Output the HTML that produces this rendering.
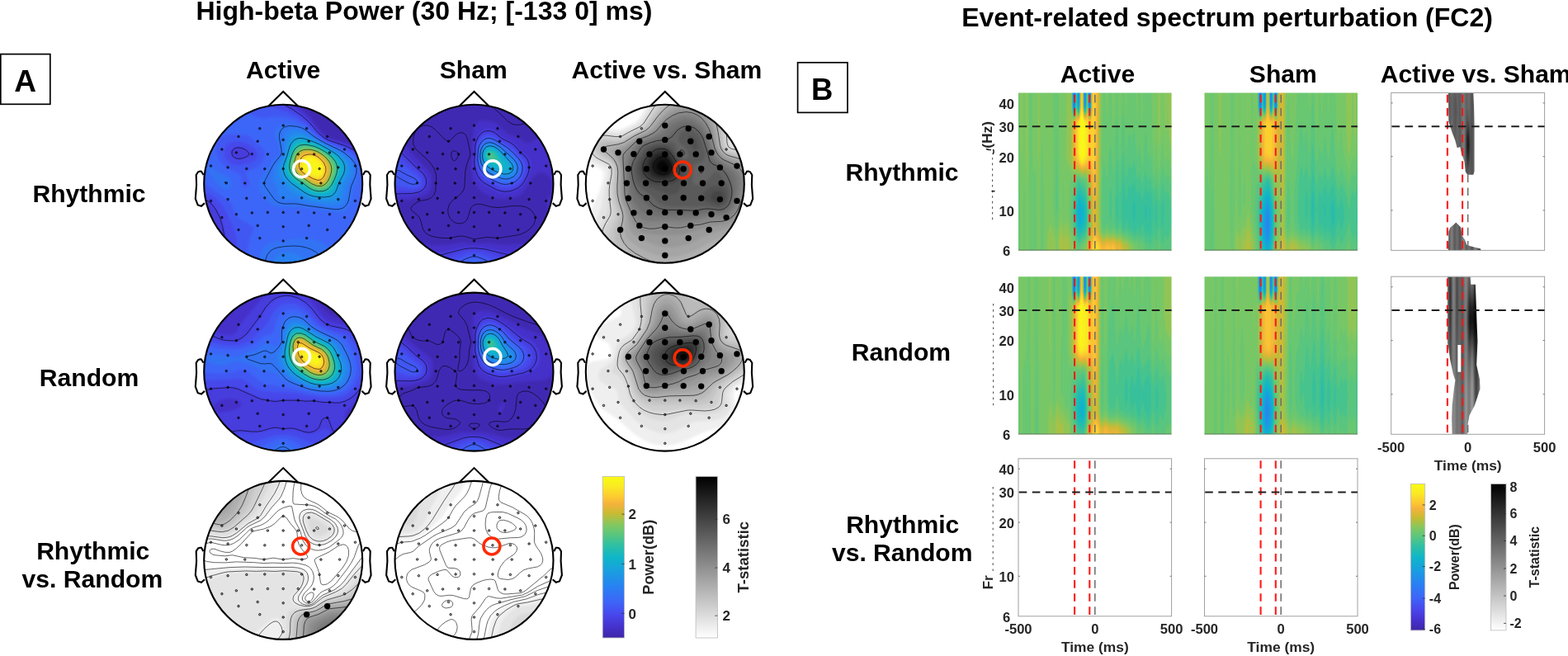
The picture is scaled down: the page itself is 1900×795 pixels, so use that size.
<!DOCTYPE html><html><head><meta charset="utf-8"><title>High-beta Power and ERSP</title>
<style>html,body{margin:0;padding:0;background:#fff;overflow:hidden}svg{display:block}text{font-family:'Liberation Sans',Arial,Helvetica,sans-serif;font-weight:bold}</style></head><body>
<svg width="1900" height="795" viewBox="0 0 1900 795">
<rect width="1900" height="795" fill="#fff"/>
<defs>
<filter id="par" x="0" y="0" width="1" height="1" color-interpolation-filters="sRGB"><feGaussianBlur stdDeviation="1.6"/><feComponentTransfer><feFuncR type="table" tableValues="0.243 0.257 0.271 0.277 0.281 0.274 0.259 0.244 0.217 0.190 0.163 0.143 0.125 0.106 0.089 0.074 0.059 0.112 0.166 0.232 0.314 0.395 0.477 0.583 0.706 0.817 0.909 0.970 0.988 0.984 0.981 0.979 0.976"/><feFuncG type="table" tableValues="0.149 0.170 0.191 0.223 0.258 0.298 0.344 0.390 0.427 0.464 0.501 0.538 0.575 0.611 0.646 0.680 0.714 0.729 0.744 0.758 0.771 0.779 0.783 0.771 0.748 0.727 0.708 0.728 0.794 0.855 0.917 0.952 0.984"/><feFuncB type="table" tableValues="0.659 0.724 0.788 0.844 0.896 0.932 0.952 0.972 0.965 0.958 0.951 0.930 0.906 0.881 0.852 0.818 0.784 0.723 0.662 0.596 0.525 0.459 0.400 0.328 0.248 0.203 0.224 0.222 0.192 0.166 0.139 0.109 0.078"/></feComponentTransfer></filter>
<filter id="parS" x="0" y="0" width="1" height="1" color-interpolation-filters="sRGB"><feGaussianBlur stdDeviation="0.6 2.6"/><feComponentTransfer><feFuncR type="table" tableValues="0.243 0.257 0.271 0.277 0.281 0.274 0.259 0.244 0.217 0.190 0.163 0.143 0.125 0.106 0.089 0.074 0.059 0.112 0.166 0.232 0.314 0.395 0.477 0.583 0.706 0.817 0.909 0.970 0.988 0.984 0.981 0.979 0.976"/><feFuncG type="table" tableValues="0.149 0.170 0.191 0.223 0.258 0.298 0.344 0.390 0.427 0.464 0.501 0.538 0.575 0.611 0.646 0.680 0.714 0.729 0.744 0.758 0.771 0.779 0.783 0.771 0.748 0.727 0.708 0.728 0.794 0.855 0.917 0.952 0.984"/><feFuncB type="table" tableValues="0.659 0.724 0.788 0.844 0.896 0.932 0.952 0.972 0.965 0.958 0.951 0.930 0.906 0.881 0.852 0.818 0.784 0.723 0.662 0.596 0.525 0.459 0.400 0.328 0.248 0.203 0.224 0.222 0.192 0.166 0.139 0.109 0.078"/></feComponentTransfer></filter>
<filter id="gry" x="0" y="0" width="1" height="1" color-interpolation-filters="sRGB"><feGaussianBlur stdDeviation="1.6"/><feComponentTransfer><feFuncR type="linear" slope="-1" intercept="1"/><feFuncG type="linear" slope="-1" intercept="1"/><feFuncB type="linear" slope="-1" intercept="1"/></feComponentTransfer></filter>
<filter id="gryS" x="0" y="0" width="1" height="1" color-interpolation-filters="sRGB"><feGaussianBlur stdDeviation="0.6"/><feComponentTransfer><feFuncR type="linear" slope="-1" intercept="1"/><feFuncG type="linear" slope="-1" intercept="1"/><feFuncB type="linear" slope="-1" intercept="1"/></feComponentTransfer></filter>
<linearGradient id="gPar" x1="0" y1="1" x2="0" y2="0"><stop offset="0.000" stop-color="rgb(62,38,168)"/><stop offset="0.070" stop-color="rgb(70,50,205)"/><stop offset="0.140" stop-color="rgb(72,70,235)"/><stop offset="0.220" stop-color="rgb(62,100,248)"/><stop offset="0.320" stop-color="rgb(40,130,242)"/><stop offset="0.420" stop-color="rgb(25,160,222)"/><stop offset="0.500" stop-color="rgb(15,182,200)"/><stop offset="0.580" stop-color="rgb(50,192,160)"/><stop offset="0.640" stop-color="rgb(90,198,125)"/><stop offset="0.700" stop-color="rgb(130,200,96)"/><stop offset="0.770" stop-color="rgb(200,187,50)"/><stop offset="0.830" stop-color="rgb(245,178,60)"/><stop offset="0.870" stop-color="rgb(252,200,50)"/><stop offset="0.940" stop-color="rgb(250,235,35)"/><stop offset="1.000" stop-color="rgb(249,251,20)"/></linearGradient>
<linearGradient id="gGry" x1="0" y1="1" x2="0" y2="0"><stop offset="0" stop-color="#fff"/><stop offset="1" stop-color="#000"/></linearGradient>
</defs>
<text x="237.4" y="24" font-size="32">High-beta Power (30 Hz; [-133 0] ms)</text>
<text x="1165.2" y="31.6" font-size="32">Event-related spectrum perturbation (FC2)</text>
<rect x="0.8" y="65.6" width="60" height="60.7" fill="none" stroke="#000" stroke-width="1.7"/>
<text x="30.5" y="110.8" font-size="37" text-anchor="middle">A</text>
<rect x="966.6" y="75.8" width="60.4" height="60.6" fill="none" stroke="#000" stroke-width="1.7"/>
<text x="996.3" y="120.7" font-size="36.5" text-anchor="middle">B</text>
<text x="343.2" y="95.1" font-size="30.1" text-anchor="middle">Active</text>
<text x="573.7" y="95.1" font-size="30.1" text-anchor="middle">Sham</text>
<text x="807.9" y="95.1" font-size="30.1" text-anchor="middle">Active vs. Sham</text>
<text x="1330.0" y="100" font-size="30.1" text-anchor="middle">Active</text>
<text x="1554.8" y="100" font-size="30.1" text-anchor="middle">Sham</text>
<text x="1672.8" y="100" font-size="30.1" text-anchor="start">Active vs. Sham</text>
<text x="108" y="244.7" font-size="30.1" text-anchor="middle">Rhythmic</text>
<text x="108" y="468.3" font-size="30.1" text-anchor="middle">Random</text>
<text x="112.7" y="677.8" font-size="30.1" text-anchor="middle">Rhythmic</text>
<text x="111.9" y="712.4" font-size="30.1" text-anchor="middle">vs. Random</text>
<text x="1093" y="219.2" font-size="30.1" text-anchor="middle">Rhythmic</text>
<text x="1091.9" y="437.2" font-size="30.1" text-anchor="middle">Random</text>
<text x="1093.7" y="645.8" font-size="30.1" text-anchor="middle">Rhythmic</text>
<text x="1093.2" y="680.1" font-size="30.1" text-anchor="middle">vs. Random</text>
<clipPath id="hc1"><circle cx="343.2" cy="222.8" r="96.0"/></clipPath>
<g clip-path="url(#hc1)"><g filter="url(#par)">
<rect x="243.2" y="122.8" width="200.0" height="200.0" fill="rgb(5,5,5)"/>
<path d="M242.1 120.0 353.3 120.0 372.3 137.7 379.2 145.9 387.7 157.7 394.6 164.7 401.4 168.0 418.6 172.5 428.9 176.0 437.5 180.1 446.0 185.6 446.0 325.6 252.1 325.6 247.4 284.5 244.5 274.2 240.4 266.6 240.4 120.0Z" fill="rgb(16,16,16)"/>
<path d="M242.1 120.0 343.8 120.0 358.6 130.5 368.9 139.0 375.8 145.9 388.0 161.1 393.8 166.2 399.8 169.2 418.4 174.8 427.3 178.2 436.8 183.4 445.4 190.2 446.0 190.9 446.0 325.6 264.2 325.6 261.3 286.2 259.8 275.9 258.0 269.1 255.2 262.2 250.8 255.4 247.1 251.9 240.4 248.1 240.4 120.0Z" fill="rgb(27,27,27)"/>
<path d="M242.1 120.0 329.6 120.0 353.5 132.8 365.5 140.7 374.0 148.0 387.1 162.8 393.7 168.0 399.8 170.9 416.8 176.5 424.8 180.0 433.7 185.1 440.0 190.2 446.0 197.6 446.0 325.6 275.9 325.6 273.7 287.9 271.8 277.6 267.8 263.9 262.6 253.6 255.9 245.1 250.7 241.8 240.4 237.4 240.4 120.0ZM285.9 178.2 283.2 179.3 280.8 181.7 279.8 185.1 280.5 188.5 281.7 190.2 284.9 192.5 288.4 193.3 293.5 192.9 298.6 191.3 302.1 189.3 303.8 186.8 303.2 185.1 299.8 181.7 295.2 179.2 291.8 178.2 286.6 178.1Z" fill="rgb(37,37,37)"/>
<path d="M242.1 120.0 307.1 120.0 320.9 127.1 346.6 135.7 360.3 142.0 372.3 150.1 382.7 161.1 391.0 168.0 398.0 171.7 415.4 178.2 422.7 181.7 430.8 186.8 436.6 192.0 440.7 197.1 443.3 202.2 445.0 207.4 446.0 214.2 446.0 325.6 287.7 325.6 287.0 313.6 287.0 293.1 286.0 284.5 283.8 277.6 273.4 255.4 267.9 246.8 260.9 240.0 254.1 235.4 240.4 228.0 240.4 120.0ZM284.5 171.4 278.1 173.1 274.0 176.5 271.8 181.7 271.7 186.8 273.6 192.0 278.1 197.1 283.2 199.8 290.1 200.5 302.1 197.8 307.7 195.4 309.7 193.7 311.7 190.2 311.8 185.1 308.6 180.0 300.4 173.9 293.5 171.7 284.9 171.3Z" fill="rgb(48,48,48)"/>
<path d="M242.1 120.0 268.1 120.0 284.1 126.8 308.9 141.2 314.1 143.1 319.2 143.4 331.2 141.8 339.8 141.5 348.3 142.7 356.9 145.3 363.8 148.2 370.6 152.3 381.7 162.8 391.1 169.7 398.0 173.3 417.8 181.7 426.0 186.8 431.9 192.0 436.0 197.1 438.4 202.2 439.5 207.4 439.6 214.2 434.0 251.8 432.0 258.8 425.9 274.2 425.0 281.1 426.3 289.6 432.2 311.9 434.8 325.6 300.0 325.6 299.6 313.6 300.5 301.6 303.3 287.9 307.8 275.9 307.1 274.2 295.2 268.3 288.4 262.9 285.4 258.8 280.2 246.8 276.4 242.4 240.4 216.8 240.4 120.0ZM273.9 162.8 271.2 163.7 267.2 166.2 264.1 169.7 262.3 173.1 261.2 180.0 262.9 188.5 266.5 195.4 272.7 202.2 276.4 204.8 289.2 210.8 291.6 212.5 292.5 214.2 292.2 221.1 293.1 224.5 295.2 226.9 296.9 227.4 298.6 227.0 301.1 224.5 301.9 221.1 301.2 217.7 298.3 212.5 297.9 210.8 298.6 209.1 300.6 207.4 310.6 203.5 314.1 201.0 317.5 197.3 319.5 193.7 320.5 190.2 320.6 185.1 319.8 181.7 317.4 178.2 310.6 173.1 303.8 166.3 300.4 164.4 296.9 163.5 288.4 163.2 281.5 162.2 274.7 162.6Z" fill="rgb(58,58,58)"/>
<path d="M341.5 150.4 346.6 149.4 353.5 149.7 360.3 151.2 367.2 153.9 370.7 156.0 380.8 164.5 388.5 169.7 396.3 174.0 413.3 181.7 419.1 185.1 425.7 190.2 430.4 195.4 432.5 198.8 434.2 203.9 433.8 212.5 428.7 227.9 426.6 241.7 425.1 246.8 422.0 252.3 416.9 256.5 413.5 257.5 410.0 257.7 386.0 253.9 362.1 251.4 343.2 251.5 336.3 250.8 331.2 249.1 327.3 246.8 323.6 243.4 318.0 236.5 315.8 232.6 314.4 227.9 313.9 222.8 314.4 219.4 315.6 215.9 317.7 212.5 329.0 197.1 338.2 186.8 338.9 183.4 338.3 180.0 333.5 168.0 332.5 162.8 333.0 159.4 334.5 156.0 337.6 152.5 340.4 150.8ZM252.4 200.2 255.8 201.5 262.7 207.4 274.7 213.2 278.4 215.9 280.5 219.4 280.9 224.5 279.2 227.9 276.4 229.5 272.9 229.4 269.1 227.9 264.5 224.5 261.3 221.1 250.7 205.7 250.1 202.2 251.1 200.5ZM353.5 289.6 365.5 288.4 375.8 289.0 385.4 291.3 392.4 294.8 398.0 299.8 403.2 307.3 406.8 315.3 409.3 325.6 313.7 325.6 313.5 317.1 314.9 308.5 317.5 302.1 320.9 297.6 324.3 295.1 329.5 293.1 334.6 292.2 343.2 291.9 353.1 289.6Z" fill="rgb(69,69,69)"/>
<path d="M351.8 155.9 360.3 155.7 368.9 158.6 380.0 166.2 388.7 171.4 415.1 185.1 421.6 190.2 427.2 197.1 429.4 202.2 429.3 209.1 427.6 214.2 421.8 226.2 419.2 241.7 417.5 245.1 415.2 247.7 410.0 250.2 404.9 250.6 398.0 250.0 374.0 246.7 355.2 242.3 343.2 242.0 339.8 240.0 338.5 238.2 335.9 227.9 330.9 217.7 330.5 214.2 330.9 209.1 333.8 200.5 342.6 186.8 343.0 183.4 342.1 169.7 343.3 162.8 346.6 158.3 351.4 156.0ZM341.5 306.4 346.6 305.8 351.8 306.3 358.6 308.0 363.9 310.2 369.3 313.6 372.8 317.1 375.2 320.5 377.3 325.6 331.2 325.6 331.0 318.8 332.6 313.6 336.3 309.1 340.4 306.8Z" fill="rgb(80,80,80)"/>
<path d="M355.2 160.9 362.1 160.2 365.5 160.8 370.6 163.0 410.0 184.2 417.8 190.2 422.1 195.4 425.1 202.2 424.6 209.1 422.4 214.2 416.6 224.5 413.5 239.9 411.7 242.7 408.3 244.8 403.2 245.7 394.6 245.4 377.5 243.3 367.2 240.1 355.2 234.3 350.7 231.4 348.3 229.0 338.8 215.9 337.3 212.5 336.6 209.1 337.4 202.2 344.9 186.8 346.3 173.1 347.7 168.0 350.1 164.3 354.6 161.1Z" fill="rgb(90,90,90)"/>
<path d="M358.6 164.5 363.8 164.0 368.9 165.2 387.8 173.8 408.1 185.1 414.5 190.2 418.6 195.4 421.2 202.2 420.6 209.1 418.3 214.2 413.1 222.8 409.4 236.5 406.6 239.8 403.2 241.3 396.3 242.1 382.6 241.0 375.8 239.7 370.6 237.7 353.5 226.9 348.3 221.9 342.5 214.2 340.5 209.1 340.3 203.9 341.7 198.8 346.6 187.2 349.2 174.8 350.5 171.4 352.9 168.0 355.2 166.0 358.4 164.5Z" fill="rgb(101,101,101)"/>
<path d="M360.3 167.6 363.8 167.1 368.9 167.9 380.9 172.1 387.8 175.2 399.6 181.7 407.5 186.8 411.4 190.2 415.5 195.4 417.9 202.2 417.9 205.7 416.6 210.8 411.0 221.1 406.6 233.1 403.6 236.5 400.2 238.2 394.6 239.2 389.5 239.1 380.9 238.2 374.0 236.2 368.9 233.4 353.5 222.6 346.0 214.2 343.2 207.4 343.0 203.9 344.0 198.8 347.9 188.5 351.8 175.4 355.2 170.5 359.4 168.0Z" fill="rgb(112,112,112)"/>
<path d="M360.3 170.7 363.8 169.9 368.9 170.2 379.2 173.0 386.0 175.8 397.0 181.7 404.7 186.8 408.6 190.2 412.7 195.4 415.0 202.2 414.4 209.1 405.2 229.7 402.6 233.1 399.8 235.1 394.6 236.6 389.5 236.9 380.9 236.0 375.8 234.4 370.6 231.5 355.2 220.7 351.8 217.6 348.3 213.3 346.2 209.1 345.5 205.7 346.1 198.8 352.9 178.2 355.2 174.6 359.0 171.4Z" fill="rgb(122,122,122)"/>
<path d="M362.1 172.8 365.5 172.1 370.6 172.5 379.2 174.5 386.0 177.2 394.5 181.7 402.1 186.8 406.1 190.2 410.1 195.4 412.5 202.2 412.5 205.7 411.3 210.8 403.2 228.3 399.8 232.0 396.3 233.8 391.2 234.8 386.0 234.8 380.9 233.9 375.8 232.1 355.2 217.9 351.6 214.2 349.4 210.8 347.5 203.9 348.0 198.8 349.3 193.7 354.2 180.0 356.9 176.1 361.2 173.1Z" fill="rgb(133,133,133)"/>
<path d="M363.8 174.5 368.9 174.1 374.0 174.8 380.9 176.5 386.0 178.5 392.9 182.2 399.7 186.8 403.6 190.2 407.7 195.4 409.3 198.8 410.3 203.9 410.0 207.4 408.6 212.5 401.5 227.0 398.0 230.4 394.6 232.1 391.2 232.9 386.0 232.9 377.5 230.8 356.9 216.8 351.7 210.8 350.2 207.4 349.4 202.2 350.0 197.1 351.9 190.2 354.4 183.4 356.3 180.0 358.6 177.3 363.0 174.8Z" fill="rgb(143,143,143)"/>
<path d="M365.5 176.2 370.6 175.9 377.5 176.9 387.8 180.7 399.4 188.5 403.2 192.2 406.4 197.1 407.6 200.5 408.1 205.7 405.9 214.2 402.8 221.1 399.8 226.0 396.3 229.1 392.9 230.6 386.0 231.2 380.9 230.2 377.5 228.8 358.6 215.9 355.1 212.5 352.9 209.1 351.6 205.7 351.1 200.5 353.9 188.5 356.1 183.4 358.6 180.0 364.1 176.5Z" fill="rgb(154,154,154)"/>
<path d="M365.5 178.1 370.6 177.5 375.8 178.0 386.0 181.3 397.2 188.5 400.7 192.0 404.3 197.1 405.6 200.5 406.1 205.7 404.1 214.2 401.5 220.1 398.6 224.5 396.3 226.7 392.9 228.6 386.0 229.5 380.9 228.4 377.5 226.8 360.3 215.2 357.3 212.5 354.8 209.1 353.4 205.7 352.8 200.5 354.8 190.2 358.6 182.5 362.1 179.5 364.9 178.2Z" fill="rgb(165,165,165)"/>
<path d="M365.5 179.9 368.9 179.2 374.0 179.2 379.2 180.1 384.3 181.9 390.3 185.1 395.0 188.5 401.2 195.4 403.9 202.2 404.2 205.7 403.4 210.8 401.6 215.9 398.9 221.1 396.3 224.3 392.9 226.7 389.5 227.7 386.0 227.8 379.2 225.8 361.6 214.2 356.8 209.1 355.1 205.7 354.4 202.2 354.6 197.1 355.7 192.0 357.7 186.8 360.0 183.4 365.4 180.0Z" fill="rgb(175,175,175)"/>
<path d="M367.2 181.2 375.8 180.9 384.6 183.4 390.4 186.8 394.6 190.1 400.2 197.1 402.2 203.9 402.2 207.4 401.1 212.5 396.8 221.1 394.6 223.4 391.2 225.5 387.8 226.2 384.3 225.9 377.5 223.1 362.1 212.7 357.6 207.4 356.3 203.9 355.9 200.5 357.2 192.0 360.3 185.5 362.6 183.4 365.8 181.7Z" fill="rgb(186,186,186)"/>
<path d="M367.2 183.0 370.6 182.3 375.8 182.3 380.9 183.4 384.3 184.7 392.5 190.2 398.2 197.1 400.4 203.9 399.7 210.8 396.3 218.6 394.4 221.1 391.2 223.5 386.0 224.4 379.2 222.2 364.1 212.5 359.4 207.4 358.0 203.9 357.5 200.5 358.3 193.7 361.4 186.8 366.2 183.4Z" fill="rgb(197,197,197)"/>
<path d="M367.2 184.9 374.0 183.8 379.2 184.4 382.6 185.5 390.2 190.2 396.2 197.1 398.5 203.9 397.9 210.8 394.6 217.9 391.6 221.1 389.5 222.2 384.3 222.2 379.2 220.3 366.6 212.5 361.2 207.4 359.6 203.9 359.1 200.5 360.0 193.7 362.3 188.5 366.8 185.1Z" fill="rgb(207,207,207)"/>
<path d="M368.9 186.3 375.8 185.5 382.0 186.8 389.5 191.7 394.2 197.1 396.3 202.2 396.3 209.1 393.5 215.9 389.5 219.8 387.8 220.4 384.3 220.2 379.2 218.3 367.2 211.1 363.1 207.4 360.9 202.2 361.3 195.4 363.8 189.9 367.7 186.8Z" fill="rgb(218,218,218)"/>
<path d="M368.9 188.5 374.0 187.3 380.9 188.2 387.2 192.0 392.0 197.1 394.3 202.2 394.7 205.7 394.2 209.1 392.0 214.2 388.0 217.7 384.3 217.9 377.5 215.4 367.2 209.2 363.9 205.7 362.5 200.5 363.2 195.4 365.5 191.1 368.8 188.5Z" fill="rgb(228,228,228)"/>
<path d="M370.6 190.2 375.8 189.2 380.9 190.2 386.0 193.4 389.6 197.1 392.1 202.2 392.3 207.4 391.2 210.9 387.8 214.7 384.3 215.4 379.2 214.1 370.6 209.4 366.1 205.7 364.7 202.2 364.9 197.1 367.2 192.6 370.5 190.2Z" fill="rgb(239,239,239)"/>
<path d="M374.0 191.8 379.0 192.0 382.6 193.5 386.8 197.1 389.1 200.5 390.0 203.9 389.5 208.1 387.8 210.8 384.3 212.4 380.9 212.1 375.8 210.1 371.2 207.4 367.7 203.9 366.9 200.5 367.5 197.1 370.0 193.7 373.4 192.0Z" fill="rgb(250,250,250)"/>
</g>
<path d="M331.7 120.0 353.5 132.1 365.5 140.2 374.0 147.6 385.7 161.1 392.9 167.2 398.0 170.0 418.6 176.9 428.8 181.7 434.3 185.1 438.7 188.5 442.3 192.0 446.0 196.6M274.5 325.6 272.2 287.9 270.0 275.9 266.6 263.9 261.3 253.6 255.8 246.5 251.4 243.4 240.4 238.5M284.9 179.5 282.1 181.7 281.1 183.4 281.0 186.8 281.7 188.5 283.2 190.3 286.6 192.1 290.1 192.4 293.5 191.9 298.2 190.2 300.8 188.5 301.8 186.8 301.4 185.1 297.8 181.7 294.4 180.0 290.1 178.9 286.6 179.0ZM321.3 325.6 321.1 318.8 322.0 313.6 324.1 308.5 327.8 304.1 331.5 301.6 336.5 299.9 344.9 298.7 355.2 298.0 363.8 298.5 370.6 299.9 377.5 302.4 382.1 305.1 386.3 308.5 390.4 313.6 393.1 318.8 395.2 325.6M351.8 152.5 360.3 153.4 365.5 155.0 368.9 156.6 379.2 164.5 387.2 169.7 394.6 173.8 411.3 181.7 417.2 185.1 425.4 192.0 430.5 198.8 432.0 203.9 431.9 209.1 430.5 214.2 425.4 226.2 422.3 243.4 420.8 246.8 418.1 250.2 415.2 252.3 410.0 253.7 404.9 253.6 374.0 249.5 358.6 246.9 344.9 247.0 339.8 246.2 336.3 244.8 332.5 241.7 321.4 226.2 320.1 222.8 320.9 219.1 330.6 200.5 334.2 195.4 339.8 188.7 340.8 186.8 341.2 185.1 341.1 181.7 338.3 166.2 338.5 162.8 339.5 159.4 341.5 156.4 344.2 154.3 346.6 153.3 351.1 152.5ZM272.9 220.4 273.8 221.1 272.9 221.9 271.9 221.1ZM360.3 167.9 363.8 167.4 368.9 168.1 380.9 172.2 387.8 175.3 399.4 181.7 407.3 186.8 411.2 190.2 415.3 195.4 416.9 198.8 417.7 202.2 417.7 205.7 416.4 210.8 410.8 221.1 407.9 229.7 406.3 233.1 403.2 236.5 399.8 238.1 392.9 239.0 384.3 238.5 379.2 237.7 374.0 236.0 368.8 233.1 353.5 222.3 348.8 217.7 345.2 212.5 343.4 207.4 343.4 202.2 344.2 198.8 348.0 188.5 350.8 178.2 352.3 174.8 354.7 171.4 356.9 169.5 360.1 168.0ZM363.8 176.0 368.9 175.3 374.0 175.8 380.9 177.4 386.0 179.5 392.9 183.2 398.1 186.8 402.0 190.2 406.2 195.4 407.8 198.8 408.6 202.2 408.8 205.7 407.8 210.8 405.1 217.7 401.5 224.7 398.0 228.6 394.6 230.6 391.2 231.6 386.0 231.8 380.9 230.8 377.5 229.4 374.0 227.4 365.9 221.1 358.6 216.6 355.9 214.2 353.2 210.8 351.5 207.4 350.7 203.9 350.8 198.8 351.9 193.7 354.0 186.8 356.5 181.7 358.6 179.1 362.4 176.5ZM368.9 181.4 372.3 181.1 377.5 181.5 382.6 182.9 386.0 184.5 391.2 187.8 395.9 192.0 398.6 195.4 400.5 198.8 401.5 202.2 401.8 205.7 401.4 209.1 399.9 214.2 397.4 219.4 394.6 222.8 392.1 224.5 389.5 225.5 384.3 225.4 377.5 222.6 362.5 212.5 360.3 210.5 358.1 207.4 356.8 203.9 356.4 200.5 356.8 195.4 358.3 190.2 359.9 186.8 362.1 184.4 363.8 183.2 367.4 181.7ZM368.9 188.2 374.0 187.0 377.5 187.1 380.9 187.9 384.3 189.6 387.6 192.0 392.3 197.1 394.5 202.2 394.9 205.7 394.6 208.5 392.3 214.2 391.0 215.9 388.8 217.7 386.0 218.4 384.3 218.2 379.2 216.5 368.9 210.6 365.5 207.9 363.8 205.8 362.9 203.9 362.3 200.5 363.0 195.4 365.5 190.7 368.3 188.5Z" fill="none" stroke="#000" stroke-width="0.6"/>
</g>
<circle cx="314.8" cy="155.7" r="1.25" fill="rgba(0,0,0,0.55)" stroke="#000" stroke-width="0.7"/>
<circle cx="343.2" cy="152.1" r="1.25" fill="rgba(0,0,0,0.55)" stroke="#000" stroke-width="0.7"/>
<circle cx="371.6" cy="155.7" r="1.25" fill="rgba(0,0,0,0.55)" stroke="#000" stroke-width="0.7"/>
<circle cx="289.0" cy="165.5" r="1.25" fill="rgba(0,0,0,0.55)" stroke="#000" stroke-width="0.7"/>
<circle cx="312.2" cy="171.2" r="1.25" fill="rgba(0,0,0,0.55)" stroke="#000" stroke-width="0.7"/>
<circle cx="343.2" cy="169.4" r="1.25" fill="rgba(0,0,0,0.55)" stroke="#000" stroke-width="0.7"/>
<circle cx="374.2" cy="171.2" r="1.25" fill="rgba(0,0,0,0.55)" stroke="#000" stroke-width="0.7"/>
<circle cx="396.6" cy="165.5" r="1.25" fill="rgba(0,0,0,0.55)" stroke="#000" stroke-width="0.7"/>
<circle cx="268.9" cy="181.0" r="1.25" fill="rgba(0,0,0,0.55)" stroke="#000" stroke-width="0.7"/>
<circle cx="286.4" cy="184.9" r="1.25" fill="rgba(0,0,0,0.55)" stroke="#000" stroke-width="0.7"/>
<circle cx="305.3" cy="186.7" r="1.25" fill="rgba(0,0,0,0.55)" stroke="#000" stroke-width="0.7"/>
<circle cx="324.4" cy="186.9" r="1.25" fill="rgba(0,0,0,0.55)" stroke="#000" stroke-width="0.7"/>
<circle cx="343.2" cy="186.9" r="1.25" fill="rgba(0,0,0,0.55)" stroke="#000" stroke-width="0.7"/>
<circle cx="361.3" cy="186.9" r="1.25" fill="rgba(0,0,0,0.55)" stroke="#000" stroke-width="0.7"/>
<circle cx="380.6" cy="186.9" r="1.25" fill="rgba(0,0,0,0.55)" stroke="#000" stroke-width="0.7"/>
<circle cx="399.4" cy="184.9" r="1.25" fill="rgba(0,0,0,0.55)" stroke="#000" stroke-width="0.7"/>
<circle cx="417.5" cy="181.0" r="1.25" fill="rgba(0,0,0,0.55)" stroke="#000" stroke-width="0.7"/>
<circle cx="255.5" cy="201.1" r="1.25" fill="rgba(0,0,0,0.55)" stroke="#000" stroke-width="0.7"/>
<circle cx="276.1" cy="202.9" r="1.25" fill="rgba(0,0,0,0.55)" stroke="#000" stroke-width="0.7"/>
<circle cx="298.8" cy="204.5" r="1.25" fill="rgba(0,0,0,0.55)" stroke="#000" stroke-width="0.7"/>
<circle cx="320.8" cy="204.7" r="1.25" fill="rgba(0,0,0,0.55)" stroke="#000" stroke-width="0.7"/>
<circle cx="343.2" cy="204.5" r="1.25" fill="rgba(0,0,0,0.55)" stroke="#000" stroke-width="0.7"/>
<circle cx="365.6" cy="204.7" r="1.25" fill="rgba(0,0,0,0.55)" stroke="#000" stroke-width="0.7"/>
<circle cx="387.1" cy="204.5" r="1.25" fill="rgba(0,0,0,0.55)" stroke="#000" stroke-width="0.7"/>
<circle cx="409.8" cy="202.9" r="1.25" fill="rgba(0,0,0,0.55)" stroke="#000" stroke-width="0.7"/>
<circle cx="430.4" cy="201.1" r="1.25" fill="rgba(0,0,0,0.55)" stroke="#000" stroke-width="0.7"/>
<circle cx="274.3" cy="221.8" r="1.25" fill="rgba(0,0,0,0.55)" stroke="#000" stroke-width="0.7"/>
<circle cx="296.8" cy="222.0" r="1.25" fill="rgba(0,0,0,0.55)" stroke="#000" stroke-width="0.7"/>
<circle cx="320.0" cy="222.0" r="1.25" fill="rgba(0,0,0,0.55)" stroke="#000" stroke-width="0.7"/>
<circle cx="343.2" cy="222.0" r="1.25" fill="rgba(0,0,0,0.55)" stroke="#000" stroke-width="0.7"/>
<circle cx="365.9" cy="222.0" r="1.25" fill="rgba(0,0,0,0.55)" stroke="#000" stroke-width="0.7"/>
<circle cx="388.9" cy="222.0" r="1.25" fill="rgba(0,0,0,0.55)" stroke="#000" stroke-width="0.7"/>
<circle cx="411.6" cy="222.0" r="1.25" fill="rgba(0,0,0,0.55)" stroke="#000" stroke-width="0.7"/>
<circle cx="255.5" cy="243.4" r="1.25" fill="rgba(0,0,0,0.55)" stroke="#000" stroke-width="0.7"/>
<circle cx="276.1" cy="241.6" r="1.25" fill="rgba(0,0,0,0.55)" stroke="#000" stroke-width="0.7"/>
<circle cx="298.8" cy="240.3" r="1.25" fill="rgba(0,0,0,0.55)" stroke="#000" stroke-width="0.7"/>
<circle cx="320.8" cy="239.8" r="1.25" fill="rgba(0,0,0,0.55)" stroke="#000" stroke-width="0.7"/>
<circle cx="343.2" cy="239.6" r="1.25" fill="rgba(0,0,0,0.55)" stroke="#000" stroke-width="0.7"/>
<circle cx="365.6" cy="239.8" r="1.25" fill="rgba(0,0,0,0.55)" stroke="#000" stroke-width="0.7"/>
<circle cx="387.1" cy="240.3" r="1.25" fill="rgba(0,0,0,0.55)" stroke="#000" stroke-width="0.7"/>
<circle cx="409.8" cy="241.6" r="1.25" fill="rgba(0,0,0,0.55)" stroke="#000" stroke-width="0.7"/>
<circle cx="430.4" cy="243.4" r="1.25" fill="rgba(0,0,0,0.55)" stroke="#000" stroke-width="0.7"/>
<circle cx="268.9" cy="263.6" r="1.25" fill="rgba(0,0,0,0.55)" stroke="#000" stroke-width="0.7"/>
<circle cx="286.4" cy="259.7" r="1.25" fill="rgba(0,0,0,0.55)" stroke="#000" stroke-width="0.7"/>
<circle cx="305.3" cy="257.9" r="1.25" fill="rgba(0,0,0,0.55)" stroke="#000" stroke-width="0.7"/>
<circle cx="324.4" cy="257.4" r="1.25" fill="rgba(0,0,0,0.55)" stroke="#000" stroke-width="0.7"/>
<circle cx="343.2" cy="257.4" r="1.25" fill="rgba(0,0,0,0.55)" stroke="#000" stroke-width="0.7"/>
<circle cx="361.3" cy="257.4" r="1.25" fill="rgba(0,0,0,0.55)" stroke="#000" stroke-width="0.7"/>
<circle cx="380.6" cy="257.9" r="1.25" fill="rgba(0,0,0,0.55)" stroke="#000" stroke-width="0.7"/>
<circle cx="399.4" cy="259.7" r="1.25" fill="rgba(0,0,0,0.55)" stroke="#000" stroke-width="0.7"/>
<circle cx="417.5" cy="263.6" r="1.25" fill="rgba(0,0,0,0.55)" stroke="#000" stroke-width="0.7"/>
<circle cx="289.0" cy="278.5" r="1.25" fill="rgba(0,0,0,0.55)" stroke="#000" stroke-width="0.7"/>
<circle cx="312.2" cy="273.4" r="1.25" fill="rgba(0,0,0,0.55)" stroke="#000" stroke-width="0.7"/>
<circle cx="343.2" cy="274.7" r="1.25" fill="rgba(0,0,0,0.55)" stroke="#000" stroke-width="0.7"/>
<circle cx="374.2" cy="273.4" r="1.25" fill="rgba(0,0,0,0.55)" stroke="#000" stroke-width="0.7"/>
<circle cx="396.6" cy="278.5" r="1.25" fill="rgba(0,0,0,0.55)" stroke="#000" stroke-width="0.7"/>
<circle cx="314.8" cy="288.6" r="1.25" fill="rgba(0,0,0,0.55)" stroke="#000" stroke-width="0.7"/>
<circle cx="343.2" cy="291.9" r="1.25" fill="rgba(0,0,0,0.55)" stroke="#000" stroke-width="0.7"/>
<circle cx="371.6" cy="288.6" r="1.25" fill="rgba(0,0,0,0.55)" stroke="#000" stroke-width="0.7"/>
<circle cx="343.2" cy="309.5" r="1.25" fill="rgba(0,0,0,0.55)" stroke="#000" stroke-width="0.7"/>
<circle cx="343.2" cy="222.8" r="96.0" fill="none" stroke="#000" stroke-width="2.1"/>
<path d="M325.6 128.2 L343.2 111.0 L360.8 128.2" fill="none" stroke="#000" stroke-width="2.1" stroke-linejoin="miter"/>
<path d="M246.5 212.0 244.0 207.7 242.4 207.6 240.1 208.3 237.7 212.0 238.1 223.9 236.8 240.9 239.7 248.4 244.0 249.7 248.0 246.1" fill="none" stroke="#000" stroke-width="2.1"/>
<path d="M439.9 212.0 442.4 207.7 444.0 207.6 446.3 208.3 448.7 212.0 448.3 223.9 449.6 240.9 446.7 248.4 442.4 249.7 438.4 246.1" fill="none" stroke="#000" stroke-width="2.1"/>
<circle cx="365.6" cy="204.7" r="10" fill="none" stroke="#fff" stroke-width="3.5"/>
<clipPath id="hc2"><circle cx="574.5" cy="222.8" r="96.0"/></clipPath>
<g clip-path="url(#hc2)"><g filter="url(#par)">
<rect x="474.5" y="122.8" width="200.0" height="200.0" fill="rgb(5,5,5)"/>
<path d="M473.4 120.0 509.3 120.0 499.1 130.0 495.3 135.4 492.2 141.2 490.1 147.4 489.1 152.5 488.7 157.7 489.1 164.5 491.3 173.1 494.5 180.0 499.1 185.9 518.7 205.7 522.3 212.5 523.2 219.4 522.6 226.2 521.5 229.7 519.4 233.1 516.2 235.7 512.8 237.3 499.1 241.4 486.0 243.4 480.1 246.8 476.9 250.2 474.1 255.4 473.0 260.5 473.6 265.6 476.0 270.8 480.2 275.6 500.8 290.0 506.9 293.1 514.5 295.6 521.4 296.9 529.9 297.3 541.9 296.6 560.8 293.8 574.5 294.8 589.9 294.2 610.5 296.5 631.1 295.7 639.6 294.0 648.2 290.7 655.0 286.4 660.2 281.3 664.3 274.2 666.0 265.6 665.6 258.8 662.8 246.8 662.9 243.4 667.9 233.1 669.4 226.2 668.4 219.4 665.3 214.3 661.9 211.3 658.5 209.5 655.0 208.9 651.6 209.8 648.2 212.6 643.0 218.7 634.5 233.2 631.1 236.1 625.9 238.4 615.6 240.5 608.8 241.1 601.9 240.6 595.1 238.5 584.8 232.7 579.6 228.6 575.3 222.8 573.1 217.7 571.5 210.8 570.5 200.5 570.9 195.4 572.9 186.8 571.8 178.2 571.9 173.1 573.8 157.7 575.1 152.5 576.2 150.7 579.6 147.8 583.1 146.4 588.2 145.8 595.1 146.9 600.2 149.0 605.1 152.5 613.6 161.1 617.3 163.0 627.9 166.2 636.2 173.0 639.6 173.7 643.0 172.6 650.5 168.0 656.8 163.1 661.9 157.9 665.3 153.3 669.3 145.7 671.8 137.1 672.6 128.5 672.0 120.0 677.3 120.0 677.3 325.6 471.7 325.6 471.7 120.0Z" fill="rgb(16,16,16)"/>
<path d="M473.4 120.0 477.4 120.0 473.6 132.0 472.4 144.0 473.8 156.0 477.2 166.2 481.9 174.8 488.3 183.4 506.1 202.2 512.5 207.4 515.5 210.8 517.9 215.9 518.4 221.1 517.9 224.5 516.2 228.3 513.4 231.4 509.4 233.7 499.1 236.3 482.0 237.4 471.7 240.7 471.7 120.0ZM591.6 156.0 595.1 156.4 598.5 157.7 601.9 160.0 608.9 166.2 622.5 173.4 626.0 176.5 631.9 183.4 640.3 190.2 643.0 195.4 643.5 200.5 642.2 209.1 639.2 215.9 634.5 223.5 631.1 227.4 625.9 231.1 620.8 233.0 613.9 234.1 607.1 233.8 601.9 232.4 586.5 224.2 583.1 221.5 579.7 217.7 577.7 214.2 575.8 209.1 573.7 197.1 575.0 186.8 574.8 176.5 575.9 171.4 578.5 164.5 581.4 160.3 586.5 156.8 591.4 156.0ZM677.3 290.3 677.3 325.6 471.7 325.6 471.7 298.8 478.5 301.6 488.8 304.6 499.1 306.6 509.4 307.6 517.9 307.6 528.2 306.7 538.5 305.0 559.1 300.2 571.1 299.2 586.5 299.7 615.6 305.3 625.9 306.4 636.2 306.5 648.2 305.2 658.5 302.4 667.2 298.2 676.3 291.3Z" fill="rgb(27,27,27)"/>
<path d="M586.5 162.6 591.6 161.4 596.8 162.4 600.2 164.3 607.1 169.6 617.3 174.8 623.7 180.0 636.2 193.7 637.8 197.1 638.5 200.5 638.6 205.7 637.5 210.8 632.8 219.7 629.3 223.4 625.9 226.0 620.8 228.3 615.6 229.4 610.5 229.4 605.3 228.4 588.2 219.9 584.8 217.2 580.9 212.5 578.4 207.4 576.1 198.8 576.9 178.2 578.1 173.1 580.7 168.0 583.1 165.0 586.2 162.8ZM472.3 178.2 509.6 210.8 513.3 215.9 514.1 221.1 513.4 224.5 511.1 227.9 507.7 230.2 504.2 231.4 497.4 232.2 482.0 231.3 471.7 231.8 471.7 177.6ZM571.1 303.2 577.9 303.2 584.8 304.3 617.3 313.6 627.6 315.7 637.9 316.9 648.2 317.2 658.5 316.3 668.8 314.2 677.3 311.3 677.3 325.6 471.7 325.6 471.7 318.5 482.0 319.7 492.2 320.0 504.2 319.4 514.5 318.1 531.7 314.4 559.1 305.5 569.7 303.3Z" fill="rgb(37,37,37)"/>
<path d="M588.2 165.8 591.6 165.1 596.8 166.0 614.7 176.5 622.5 182.9 630.9 192.0 633.3 195.4 635.3 202.2 635.2 207.4 634.3 210.8 631.7 215.9 629.3 218.9 625.9 221.9 622.5 223.8 613.9 225.9 608.8 225.5 605.3 224.6 589.9 217.0 584.8 212.7 582.1 209.1 579.0 202.2 577.8 197.1 578.4 180.0 579.6 175.3 581.4 171.8 584.6 168.0 587.3 166.2ZM473.4 192.0 487.1 198.6 497.7 207.4 505.0 212.5 508.4 215.9 509.4 217.7 509.9 221.1 509.4 223.2 507.7 225.5 504.2 227.3 500.8 227.9 494.0 227.3 471.7 222.6 471.7 191.2ZM567.6 308.1 574.5 307.0 581.4 308.1 613.9 320.6 630.9 325.6 523.7 325.6 566.3 308.5Z" fill="rgb(48,48,48)"/>
<path d="M588.2 168.8 591.6 168.0 596.8 168.7 610.4 176.5 620.8 184.7 626.2 190.2 630.2 195.4 632.6 202.2 632.0 209.1 630.6 212.5 628.3 215.9 622.5 220.5 617.3 222.3 613.9 222.8 610.5 222.7 605.3 221.4 591.6 214.8 586.5 210.8 583.7 207.4 581.0 202.2 579.5 197.1 579.4 185.1 580.0 180.0 581.4 176.0 583.1 173.1 586.6 169.7ZM497.4 217.5 499.3 217.7 502.4 219.4 501.4 221.1 497.0 219.4 496.5 217.7ZM569.4 313.0 574.5 312.0 581.4 313.6 606.3 325.6 544.2 325.6 567.7 313.6Z" fill="rgb(58,58,58)"/>
<path d="M588.2 171.4 591.6 170.3 595.1 170.5 601.9 173.5 611.9 180.0 620.8 187.8 626.2 193.7 628.4 197.1 629.7 200.5 629.9 207.4 627.6 212.6 622.5 217.5 619.1 219.0 613.9 220.0 610.5 219.9 605.3 218.7 591.6 211.9 588.2 209.2 585.0 205.7 583.0 202.2 581.1 197.1 580.4 192.0 580.6 185.1 581.6 180.0 583.0 176.5 584.8 174.0 588.2 171.4ZM571.1 320.4 574.5 320.0 578.4 320.5 589.9 325.6 559.8 325.6 570.8 320.5Z" fill="rgb(69,69,69)"/>
<path d="M589.9 172.9 593.4 172.3 596.8 172.9 605.3 177.4 619.1 189.0 624.8 195.4 627.4 200.5 627.9 203.9 627.4 207.4 624.7 212.5 620.0 215.9 615.6 217.3 612.2 217.5 605.3 216.1 593.4 210.4 589.9 207.9 586.1 203.9 584.0 200.5 582.1 195.4 581.5 190.2 581.8 185.1 583.1 180.0 584.8 176.8 586.5 174.9 589.4 173.1Z" fill="rgb(80,80,80)"/>
<path d="M591.6 174.3 595.1 174.2 598.5 175.2 605.3 179.2 619.1 192.0 623.4 197.1 625.4 202.2 625.0 207.4 622.5 211.4 617.3 214.4 610.5 214.9 602.4 212.5 591.6 206.6 586.5 201.5 584.1 197.1 583.1 193.7 583.0 185.1 583.9 181.7 585.7 178.2 590.0 174.8Z" fill="rgb(90,90,90)"/>
<path d="M591.6 176.1 596.8 176.3 603.9 180.0 620.8 197.1 623.1 202.2 623.1 205.7 621.3 209.1 617.3 211.8 613.9 212.6 610.5 212.4 603.6 210.5 593.4 205.4 587.8 200.5 584.5 193.7 584.0 186.8 584.6 183.4 586.2 180.0 588.2 177.8 590.4 176.5Z" fill="rgb(101,101,101)"/>
<path d="M591.6 177.8 596.8 177.8 601.9 180.4 605.5 183.4 617.8 197.1 620.1 200.5 620.8 203.9 619.4 207.4 617.3 208.9 612.2 209.9 605.3 208.5 593.4 203.0 588.6 198.8 585.8 193.7 585.1 186.8 586.8 181.7 590.5 178.2Z" fill="rgb(112,112,112)"/>
<path d="M591.6 179.5 595.1 179.1 598.5 180.0 601.9 182.2 604.9 185.1 616.6 200.5 617.5 203.9 615.6 206.0 610.5 206.6 603.6 205.1 595.1 201.7 589.9 197.9 587.3 193.7 586.2 188.5 587.4 183.4 590.6 180.0Z" fill="rgb(122,122,122)"/>
<path d="M591.6 181.1 593.4 180.7 596.8 181.0 600.2 182.9 602.7 185.1 606.2 190.2 609.5 197.1 609.7 200.5 608.8 201.3 605.3 201.8 598.5 200.7 593.4 198.4 590.0 195.4 588.1 192.0 587.5 188.5 588.2 184.8 590.8 181.7Z" fill="rgb(133,133,133)"/>
<path d="M591.6 183.0 593.4 182.3 596.8 182.8 600.2 185.1 601.7 186.8 603.5 190.2 604.4 193.7 604.3 195.4 603.2 197.1 600.2 198.0 596.8 197.6 591.6 194.6 589.8 192.0 588.9 188.5 589.6 185.1 591.1 183.4Z" fill="rgb(143,143,143)"/>
<path d="M591.6 185.1 593.4 184.2 595.1 184.2 598.5 186.3 600.6 190.2 600.6 192.0 599.8 193.7 598.5 194.4 595.1 194.2 592.0 192.0 590.5 188.5 591.6 185.1Z" fill="rgb(154,154,154)"/>
<path d="M593.4 187.1 595.1 187.3 596.0 188.5 595.1 190.2 593.1 188.5Z" fill="rgb(165,165,165)"/>
</g>
<path d="M588.7 120.0 590.6 123.4 593.5 126.8 605.3 137.2 615.6 147.1 620.8 150.4 625.9 151.4 631.1 151.0 636.2 149.4 639.6 147.1 643.7 142.3 646.0 137.1 647.0 132.0 646.8 125.1 645.5 120.0M512.8 152.1 507.7 154.6 504.6 157.7 502.5 161.1 500.6 168.0 500.9 174.8 503.1 180.0 517.9 193.5 522.5 198.8 525.7 203.9 527.8 209.1 528.7 214.2 527.8 231.4 525.7 236.5 522.2 239.9 517.9 241.9 509.2 243.4 506.0 244.7 500.6 248.5 497.9 251.9 498.0 253.6 499.2 255.4 505.7 260.5 508.4 263.9 509.8 267.4 512.5 277.6 514.5 280.9 516.2 282.7 518.9 284.5 523.1 286.3 529.9 287.8 536.8 288.5 545.4 288.6 553.9 286.5 559.1 286.0 564.2 286.8 574.5 289.8 589.9 287.4 603.6 288.5 625.9 285.1 631.1 283.8 637.9 280.7 643.8 275.9 646.5 272.4 648.5 267.4 648.8 263.9 647.8 260.5 644.8 255.9 641.3 252.9 636.2 250.6 631.1 249.7 620.8 249.6 607.1 251.3 601.9 251.5 595.1 250.7 583.1 247.5 579.6 247.3 576.2 247.8 572.8 249.5 571.1 251.3 569.4 254.9 567.5 262.2 566.2 265.6 564.2 268.2 562.5 269.5 559.1 270.8 553.9 270.7 550.5 269.4 547.1 266.8 544.9 263.9 543.0 258.8 542.8 253.6 543.7 249.7 545.0 246.8 547.8 243.4 556.5 236.5 559.9 233.1 561.9 229.7 562.8 226.2 563.9 207.4 565.2 200.5 569.4 189.1 569.8 186.8 569.5 183.4 566.3 168.0 564.2 163.7 562.5 162.0 560.8 161.0 557.4 160.8 555.6 161.3 552.2 163.4 545.4 170.3 543.7 171.2 541.9 170.8 538.5 168.5 527.9 157.7 523.1 153.8 517.9 151.9 512.8 152.1M548.8 182.8 550.5 182.8 552.2 183.5 553.9 184.6 555.6 186.8 555.4 188.5 553.9 191.6 552.2 194.0 550.5 195.2 548.8 194.1 547.0 190.2 546.7 186.8 547.1 184.6 548.0 183.4ZM552.2 203.3 552.4 203.9 551.8 203.9ZM471.7 165.7 476.1 173.1 483.0 181.7 504.2 203.0 513.2 210.8 516.0 215.9 516.7 221.1 516.0 224.5 514.3 227.9 511.1 230.9 507.7 232.7 499.1 234.6 482.0 234.9 471.7 236.9M471.7 307.3 480.2 309.6 490.5 311.3 500.8 312.1 512.8 312.0 521.4 311.2 531.7 309.5 562.5 301.7 569.4 300.9 576.2 300.8 588.2 302.0 608.8 307.1 620.8 309.3 631.1 310.5 641.3 310.7 651.6 309.7 660.2 307.7 668.8 304.6 677.3 299.8M588.2 158.9 593.4 158.6 598.5 160.2 608.4 168.0 617.3 172.3 620.8 174.5 625.1 178.2 631.1 185.2 637.0 190.2 639.4 193.7 641.0 198.8 641.1 203.9 640.3 209.1 638.4 214.2 634.5 220.8 631.1 225.0 627.6 227.8 622.5 230.4 617.3 231.8 612.2 232.2 607.1 231.6 601.9 230.0 586.5 221.7 582.0 217.7 578.6 212.5 576.6 207.4 574.8 198.8 574.8 193.7 575.7 186.8 575.8 176.5 577.1 171.4 579.6 165.9 583.1 161.6 586.7 159.4ZM540.8 325.6 564.6 313.6 569.4 311.8 574.5 310.8 579.6 311.8 584.6 313.6 610.0 325.6M589.9 167.7 593.4 167.5 598.5 169.0 612.2 177.2 617.3 181.0 622.5 185.7 628.3 192.0 630.8 195.4 632.4 198.8 633.1 202.2 632.9 207.4 632.0 210.8 630.2 214.2 627.4 217.7 624.2 220.2 619.1 222.4 613.9 223.4 610.5 223.3 607.1 222.6 601.9 220.6 593.4 216.4 588.2 213.0 584.8 209.6 582.2 205.7 580.0 200.5 578.9 195.4 578.9 188.5 579.7 180.0 580.7 176.5 583.1 172.4 586.5 169.2 589.2 168.0ZM476.8 207.1 480.2 206.1 483.7 206.7 492.2 211.5 501.6 215.9 504.0 217.7 505.3 219.4 505.7 221.1 504.5 222.8 500.8 223.4 497.6 222.8 493.4 221.1 483.8 215.9 478.5 212.5 476.8 210.8 476.0 209.1 476.5 207.4ZM591.6 172.8 595.1 172.8 598.5 173.8 606.1 178.2 619.7 190.2 623.0 193.7 625.4 197.1 626.9 200.5 627.4 203.9 626.3 209.1 624.2 212.3 622.5 213.9 617.3 216.4 613.9 217.0 608.8 216.6 600.2 213.5 593.4 209.8 589.9 207.4 586.6 203.9 584.8 201.3 583.1 197.6 582.1 193.7 581.8 188.5 582.3 183.4 583.4 180.0 585.4 176.5 588.2 174.1 590.6 173.1ZM589.9 177.8 591.6 177.1 595.1 176.9 598.5 177.8 601.9 179.7 606.4 183.4 617.6 195.4 620.3 198.8 621.7 202.2 621.5 205.7 620.8 207.4 619.1 209.2 617.3 210.1 613.9 211.0 610.5 210.9 607.1 210.1 601.9 208.3 595.1 204.9 589.9 201.3 587.8 198.8 585.9 195.4 584.9 192.0 584.6 188.5 584.9 185.1 586.2 181.7 589.2 178.2Z" fill="none" stroke="#000" stroke-width="0.6"/>
</g>
<circle cx="546.1" cy="155.7" r="1.25" fill="rgba(0,0,0,0.55)" stroke="#000" stroke-width="0.7"/>
<circle cx="574.5" cy="152.1" r="1.25" fill="rgba(0,0,0,0.55)" stroke="#000" stroke-width="0.7"/>
<circle cx="602.9" cy="155.7" r="1.25" fill="rgba(0,0,0,0.55)" stroke="#000" stroke-width="0.7"/>
<circle cx="520.3" cy="165.5" r="1.25" fill="rgba(0,0,0,0.55)" stroke="#000" stroke-width="0.7"/>
<circle cx="543.5" cy="171.2" r="1.25" fill="rgba(0,0,0,0.55)" stroke="#000" stroke-width="0.7"/>
<circle cx="574.5" cy="169.4" r="1.25" fill="rgba(0,0,0,0.55)" stroke="#000" stroke-width="0.7"/>
<circle cx="605.5" cy="171.2" r="1.25" fill="rgba(0,0,0,0.55)" stroke="#000" stroke-width="0.7"/>
<circle cx="627.9" cy="165.5" r="1.25" fill="rgba(0,0,0,0.55)" stroke="#000" stroke-width="0.7"/>
<circle cx="500.2" cy="181.0" r="1.25" fill="rgba(0,0,0,0.55)" stroke="#000" stroke-width="0.7"/>
<circle cx="517.7" cy="184.9" r="1.25" fill="rgba(0,0,0,0.55)" stroke="#000" stroke-width="0.7"/>
<circle cx="536.6" cy="186.7" r="1.25" fill="rgba(0,0,0,0.55)" stroke="#000" stroke-width="0.7"/>
<circle cx="555.7" cy="186.9" r="1.25" fill="rgba(0,0,0,0.55)" stroke="#000" stroke-width="0.7"/>
<circle cx="574.5" cy="186.9" r="1.25" fill="rgba(0,0,0,0.55)" stroke="#000" stroke-width="0.7"/>
<circle cx="592.6" cy="186.9" r="1.25" fill="rgba(0,0,0,0.55)" stroke="#000" stroke-width="0.7"/>
<circle cx="611.9" cy="186.9" r="1.25" fill="rgba(0,0,0,0.55)" stroke="#000" stroke-width="0.7"/>
<circle cx="630.7" cy="184.9" r="1.25" fill="rgba(0,0,0,0.55)" stroke="#000" stroke-width="0.7"/>
<circle cx="648.8" cy="181.0" r="1.25" fill="rgba(0,0,0,0.55)" stroke="#000" stroke-width="0.7"/>
<circle cx="486.8" cy="201.1" r="1.25" fill="rgba(0,0,0,0.55)" stroke="#000" stroke-width="0.7"/>
<circle cx="507.4" cy="202.9" r="1.25" fill="rgba(0,0,0,0.55)" stroke="#000" stroke-width="0.7"/>
<circle cx="530.1" cy="204.5" r="1.25" fill="rgba(0,0,0,0.55)" stroke="#000" stroke-width="0.7"/>
<circle cx="552.1" cy="204.7" r="1.25" fill="rgba(0,0,0,0.55)" stroke="#000" stroke-width="0.7"/>
<circle cx="574.5" cy="204.5" r="1.25" fill="rgba(0,0,0,0.55)" stroke="#000" stroke-width="0.7"/>
<circle cx="596.9" cy="204.7" r="1.25" fill="rgba(0,0,0,0.55)" stroke="#000" stroke-width="0.7"/>
<circle cx="618.4" cy="204.5" r="1.25" fill="rgba(0,0,0,0.55)" stroke="#000" stroke-width="0.7"/>
<circle cx="641.1" cy="202.9" r="1.25" fill="rgba(0,0,0,0.55)" stroke="#000" stroke-width="0.7"/>
<circle cx="661.7" cy="201.1" r="1.25" fill="rgba(0,0,0,0.55)" stroke="#000" stroke-width="0.7"/>
<circle cx="505.6" cy="221.8" r="1.25" fill="rgba(0,0,0,0.55)" stroke="#000" stroke-width="0.7"/>
<circle cx="528.1" cy="222.0" r="1.25" fill="rgba(0,0,0,0.55)" stroke="#000" stroke-width="0.7"/>
<circle cx="551.3" cy="222.0" r="1.25" fill="rgba(0,0,0,0.55)" stroke="#000" stroke-width="0.7"/>
<circle cx="574.5" cy="222.0" r="1.25" fill="rgba(0,0,0,0.55)" stroke="#000" stroke-width="0.7"/>
<circle cx="597.2" cy="222.0" r="1.25" fill="rgba(0,0,0,0.55)" stroke="#000" stroke-width="0.7"/>
<circle cx="620.2" cy="222.0" r="1.25" fill="rgba(0,0,0,0.55)" stroke="#000" stroke-width="0.7"/>
<circle cx="642.9" cy="222.0" r="1.25" fill="rgba(0,0,0,0.55)" stroke="#000" stroke-width="0.7"/>
<circle cx="486.8" cy="243.4" r="1.25" fill="rgba(0,0,0,0.55)" stroke="#000" stroke-width="0.7"/>
<circle cx="507.4" cy="241.6" r="1.25" fill="rgba(0,0,0,0.55)" stroke="#000" stroke-width="0.7"/>
<circle cx="530.1" cy="240.3" r="1.25" fill="rgba(0,0,0,0.55)" stroke="#000" stroke-width="0.7"/>
<circle cx="552.1" cy="239.8" r="1.25" fill="rgba(0,0,0,0.55)" stroke="#000" stroke-width="0.7"/>
<circle cx="574.5" cy="239.6" r="1.25" fill="rgba(0,0,0,0.55)" stroke="#000" stroke-width="0.7"/>
<circle cx="596.9" cy="239.8" r="1.25" fill="rgba(0,0,0,0.55)" stroke="#000" stroke-width="0.7"/>
<circle cx="618.4" cy="240.3" r="1.25" fill="rgba(0,0,0,0.55)" stroke="#000" stroke-width="0.7"/>
<circle cx="641.1" cy="241.6" r="1.25" fill="rgba(0,0,0,0.55)" stroke="#000" stroke-width="0.7"/>
<circle cx="661.7" cy="243.4" r="1.25" fill="rgba(0,0,0,0.55)" stroke="#000" stroke-width="0.7"/>
<circle cx="500.2" cy="263.6" r="1.25" fill="rgba(0,0,0,0.55)" stroke="#000" stroke-width="0.7"/>
<circle cx="517.7" cy="259.7" r="1.25" fill="rgba(0,0,0,0.55)" stroke="#000" stroke-width="0.7"/>
<circle cx="536.6" cy="257.9" r="1.25" fill="rgba(0,0,0,0.55)" stroke="#000" stroke-width="0.7"/>
<circle cx="555.7" cy="257.4" r="1.25" fill="rgba(0,0,0,0.55)" stroke="#000" stroke-width="0.7"/>
<circle cx="574.5" cy="257.4" r="1.25" fill="rgba(0,0,0,0.55)" stroke="#000" stroke-width="0.7"/>
<circle cx="592.6" cy="257.4" r="1.25" fill="rgba(0,0,0,0.55)" stroke="#000" stroke-width="0.7"/>
<circle cx="611.9" cy="257.9" r="1.25" fill="rgba(0,0,0,0.55)" stroke="#000" stroke-width="0.7"/>
<circle cx="630.7" cy="259.7" r="1.25" fill="rgba(0,0,0,0.55)" stroke="#000" stroke-width="0.7"/>
<circle cx="648.8" cy="263.6" r="1.25" fill="rgba(0,0,0,0.55)" stroke="#000" stroke-width="0.7"/>
<circle cx="520.3" cy="278.5" r="1.25" fill="rgba(0,0,0,0.55)" stroke="#000" stroke-width="0.7"/>
<circle cx="543.5" cy="273.4" r="1.25" fill="rgba(0,0,0,0.55)" stroke="#000" stroke-width="0.7"/>
<circle cx="574.5" cy="274.7" r="1.25" fill="rgba(0,0,0,0.55)" stroke="#000" stroke-width="0.7"/>
<circle cx="605.5" cy="273.4" r="1.25" fill="rgba(0,0,0,0.55)" stroke="#000" stroke-width="0.7"/>
<circle cx="627.9" cy="278.5" r="1.25" fill="rgba(0,0,0,0.55)" stroke="#000" stroke-width="0.7"/>
<circle cx="546.1" cy="288.6" r="1.25" fill="rgba(0,0,0,0.55)" stroke="#000" stroke-width="0.7"/>
<circle cx="574.5" cy="291.9" r="1.25" fill="rgba(0,0,0,0.55)" stroke="#000" stroke-width="0.7"/>
<circle cx="602.9" cy="288.6" r="1.25" fill="rgba(0,0,0,0.55)" stroke="#000" stroke-width="0.7"/>
<circle cx="574.5" cy="309.5" r="1.25" fill="rgba(0,0,0,0.55)" stroke="#000" stroke-width="0.7"/>
<circle cx="574.5" cy="222.8" r="96.0" fill="none" stroke="#000" stroke-width="2.1"/>
<path d="M556.9 128.2 L574.5 111.0 L592.1 128.2" fill="none" stroke="#000" stroke-width="2.1" stroke-linejoin="miter"/>
<path d="M477.8 212.0 475.3 207.7 473.7 207.6 471.4 208.3 469.0 212.0 469.4 223.9 468.1 240.9 471.0 248.4 475.3 249.7 479.3 246.1" fill="none" stroke="#000" stroke-width="2.1"/>
<path d="M671.2 212.0 673.7 207.7 675.3 207.6 677.6 208.3 680.0 212.0 679.6 223.9 680.9 240.9 678.0 248.4 673.7 249.7 669.7 246.1" fill="none" stroke="#000" stroke-width="2.1"/>
<circle cx="596.9" cy="204.7" r="10" fill="none" stroke="#fff" stroke-width="3.5"/>
<clipPath id="hc3"><circle cx="805.8" cy="222.8" r="96.0"/></clipPath>
<g clip-path="url(#hc3)"><g filter="url(#gry)">
<rect x="705.8" y="122.8" width="200.0" height="200.0" fill="rgb(0,0,0)"/>
<path d="M788.7 120.0 881.3 120.0 884.4 126.8 887.1 135.4 888.9 144.0 891.1 161.1 892.7 166.2 894.9 169.3 898.1 171.4 908.6 175.3 908.6 325.6 714.5 325.6 710.7 315.3 708.5 305.1 707.8 294.8 708.7 282.8 710.4 274.2 713.5 263.9 719.7 246.8 724.5 236.5 727.0 229.4 730.4 217.7 731.6 210.8 730.9 207.4 729.6 205.7 713.3 196.9 709.1 193.7 706.1 190.2 703.0 184.5 703.1 169.7 706.1 164.5 709.4 161.1 713.3 158.4 718.4 156.2 723.5 155.1 728.7 154.8 749.2 157.0 754.4 155.8 764.9 150.8 770.3 147.4 775.0 142.6 787.5 121.7Z" fill="rgb(16,16,16)"/>
<path d="M792.1 121.5 793.2 120.0 875.8 120.0 876.8 121.7 880.8 130.3 883.4 138.8 885.2 149.1 886.6 166.2 888.1 171.4 889.8 173.4 893.2 175.4 908.6 179.9 908.6 324.0 906.9 325.6 724.1 325.6 720.1 317.0 717.2 306.8 716.0 298.2 716.2 287.9 717.3 281.1 719.7 272.5 729.0 250.2 732.4 227.9 736.0 212.5 736.5 207.4 735.5 204.0 733.8 202.4 718.4 194.9 714.3 192.0 711.1 188.5 709.0 185.1 707.4 180.0 707.4 174.8 708.3 171.4 710.1 168.0 713.3 164.3 716.7 161.8 721.8 159.7 730.4 158.6 745.8 160.6 751.0 160.5 756.1 158.7 771.3 150.8 775.0 147.9 778.1 144.0 791.9 121.7Z" fill="rgb(27,27,27)"/>
<path d="M797.2 120.7 797.9 120.0 870.3 120.0 876.1 129.9 879.7 140.5 881.7 152.5 882.9 171.2 884.6 175.9 888.1 178.4 908.6 183.9 908.6 312.1 893.6 325.6 734.1 325.6 731.9 322.2 728.4 315.3 725.4 306.8 723.9 298.2 723.9 289.6 724.8 282.8 726.8 275.9 735.2 258.8 736.1 255.4 736.0 231.4 739.5 210.8 739.7 205.7 739.0 202.8 737.0 200.5 723.3 193.7 716.7 188.5 714.2 185.1 712.8 181.7 712.3 176.5 713.1 173.1 716.7 167.5 720.1 164.9 723.5 163.4 732.1 162.1 747.5 164.0 751.0 163.9 754.4 162.7 774.0 152.5 776.7 150.5 780.1 146.4 790.4 129.8 796.4 121.7Z" fill="rgb(37,37,37)"/>
<path d="M802.4 120.4 802.9 120.0 864.6 120.0 871.7 130.3 876.1 141.2 878.3 152.5 879.7 173.1 881.2 178.3 882.9 180.2 886.2 181.7 900.1 184.7 908.6 187.7 908.6 300.6 905.2 304.1 893.2 314.8 878.9 325.6 745.3 325.6 737.7 315.3 735.1 310.2 732.7 303.3 731.4 296.5 731.1 289.6 732.1 282.8 733.6 277.6 735.9 272.5 741.1 263.9 742.7 258.8 739.4 233.1 739.9 224.5 742.1 210.8 742.2 205.7 741.3 202.2 738.9 198.8 735.5 196.4 725.3 191.1 720.2 186.8 717.4 181.7 717.0 178.2 717.5 174.8 720.9 169.7 727.0 166.3 733.8 165.5 747.5 166.8 752.7 166.3 776.2 154.3 781.5 149.1 793.8 130.3 801.1 121.7Z" fill="rgb(48,48,48)"/>
<path d="M807.5 120.7 808.5 120.0 858.3 120.0 866.0 128.5 869.2 133.8 872.1 140.5 875.1 152.5 877.2 174.8 879.5 180.9 881.2 182.5 884.6 184.1 900.1 187.7 908.6 191.4 908.6 289.4 901.8 296.6 893.2 304.0 877.8 315.4 861.9 325.6 758.8 325.6 749.2 316.7 744.4 310.2 741.7 305.1 738.5 294.8 738.3 284.5 740.1 277.6 746.2 265.6 747.9 260.5 747.5 257.1 744.0 245.1 742.4 234.8 742.4 226.2 744.3 210.8 744.1 204.5 742.8 200.5 740.3 197.1 737.3 194.6 727.0 188.6 723.5 185.1 721.8 181.7 721.7 176.5 723.6 173.1 728.7 169.7 733.8 168.7 747.5 169.4 752.7 168.6 768.1 160.4 777.8 156.0 781.8 152.5 784.6 149.1 797.2 130.9 806.3 121.7Z" fill="rgb(58,58,58)"/>
<path d="M812.7 121.6 815.5 120.0 850.7 120.0 855.5 123.2 859.5 126.8 863.7 132.0 869.2 142.5 872.4 154.3 874.8 174.8 877.3 181.7 879.5 184.0 882.9 185.9 900.1 190.6 908.6 195.1 908.6 278.6 902.0 286.2 894.9 292.7 884.6 300.2 869.2 310.3 853.8 319.5 840.9 325.6 778.4 325.6 768.1 320.3 757.8 312.6 750.0 303.3 745.8 294.6 744.5 287.9 744.8 281.1 746.2 275.9 750.6 265.6 751.4 260.5 750.9 257.1 746.5 243.4 745.1 234.8 745.0 226.2 746.4 210.8 746.0 203.9 744.3 198.8 741.8 195.4 739.0 192.7 728.0 185.1 726.0 181.7 725.9 178.2 727.9 174.8 732.1 172.6 737.3 171.9 747.5 171.9 754.4 170.4 768.1 162.5 780.1 156.8 786.3 150.8 800.7 131.5 805.8 126.5 812.4 121.7Z" fill="rgb(69,69,69)"/>
<path d="M822.9 121.2 829.1 120.0 840.1 120.5 848.6 123.7 855.5 128.6 862.4 136.6 867.0 145.7 869.9 156.0 873.0 176.5 876.2 183.4 881.2 187.4 900.1 193.5 908.6 199.2 908.6 267.5 907.7 269.1 899.5 279.4 888.1 288.6 848.6 311.5 840.1 315.6 831.5 318.7 821.2 321.1 810.9 321.9 800.7 321.3 792.1 319.5 781.8 315.8 771.5 310.5 763.0 304.5 756.1 297.4 751.8 289.6 750.3 282.8 750.7 277.6 753.4 269.1 754.3 262.2 753.7 257.1 749.2 243.4 747.6 234.8 747.4 226.2 748.4 209.1 747.7 202.2 746.6 198.8 744.1 194.5 739.0 189.2 731.6 183.4 730.5 181.7 730.4 180.0 731.3 178.2 733.8 176.5 749.2 174.2 756.1 172.1 768.2 164.5 781.8 158.0 787.9 152.5 798.2 138.8 804.1 132.4 812.7 125.8 821.3 121.7Z" fill="rgb(80,80,80)"/>
<path d="M824.7 124.9 833.2 124.0 840.1 124.9 846.9 127.5 853.8 132.3 860.6 140.4 865.0 149.1 867.6 157.7 870.9 176.5 874.3 184.1 877.8 187.5 881.2 189.6 894.9 194.1 900.1 196.6 905.2 200.4 908.6 204.1 908.6 254.9 905.1 262.2 900.6 269.1 893.2 276.8 884.6 282.5 861.7 293.1 840.1 304.8 828.1 309.2 819.5 310.9 810.9 311.5 802.4 310.8 793.8 308.8 783.5 304.7 771.5 298.3 764.7 293.4 759.7 287.9 757.8 284.4 756.6 279.4 757.5 265.6 756.8 258.8 751.7 243.4 750.1 234.8 749.7 226.2 750.4 209.1 749.7 202.2 747.4 195.4 739.9 183.4 740.0 181.7 741.6 180.0 756.1 174.7 769.8 165.7 780.1 161.1 785.2 158.0 790.4 153.3 798.9 142.2 805.8 135.0 814.4 128.9 823.6 125.1Z" fill="rgb(90,90,90)"/>
<path d="M828.1 128.3 834.9 128.3 841.8 129.8 848.6 133.3 853.8 137.5 858.9 144.0 863.2 152.5 865.8 161.1 868.9 176.5 870.7 181.7 872.7 185.1 875.9 188.5 879.5 190.9 893.2 196.1 898.3 198.7 902.6 202.2 905.5 205.7 908.6 211.4 908.6 239.6 904.1 251.9 900.0 260.5 894.9 267.5 888.1 273.4 879.5 277.7 853.5 286.2 834.9 295.7 821.2 299.1 807.5 300.0 797.2 297.9 786.9 294.1 773.2 287.9 768.1 284.6 764.9 281.1 762.6 275.9 759.1 257.1 753.3 239.9 752.1 229.7 752.4 210.8 751.8 202.2 750.1 195.4 746.0 185.1 746.4 183.4 747.8 181.7 759.5 175.6 769.8 167.8 783.5 161.5 788.7 158.1 792.8 154.3 802.4 142.4 810.9 135.1 819.5 130.5 826.7 128.5Z" fill="rgb(101,101,101)"/>
<path d="M822.9 133.4 831.5 132.3 838.4 133.1 845.2 135.8 852.1 141.0 857.2 147.4 860.8 154.3 863.2 161.1 867.3 178.2 871.6 186.8 874.9 190.2 879.5 193.2 893.2 198.7 896.2 200.5 901.2 205.7 904.2 210.8 906.5 219.4 906.4 227.9 904.6 236.5 898.8 251.9 895.4 258.8 891.5 263.9 886.3 268.3 879.5 271.5 860.6 274.8 840.1 280.1 828.1 284.2 817.8 285.0 793.8 284.6 781.8 282.6 775.0 279.9 771.6 277.6 768.6 274.2 766.4 270.0 760.9 253.6 756.7 243.4 755.4 238.2 754.5 227.9 754.2 205.7 753.2 197.1 751.2 188.5 751.5 185.1 771.5 168.8 785.2 162.8 790.9 159.4 794.7 156.0 802.4 146.6 807.5 141.7 814.4 137.0 822.1 133.7Z" fill="rgb(112,112,112)"/>
<path d="M826.4 136.8 833.2 136.5 838.4 137.4 845.2 140.4 850.4 144.4 855.5 150.7 858.9 157.1 861.6 164.5 865.1 178.2 867.5 184.1 870.2 188.5 873.6 192.0 877.8 194.8 893.5 202.2 898.1 207.4 900.6 212.5 902.2 221.1 901.6 229.7 899.8 236.5 894.1 251.9 891.4 257.1 886.3 262.5 881.2 265.6 876.1 267.1 862.4 267.4 846.9 271.3 836.6 272.2 824.7 274.4 817.8 274.5 805.8 273.3 792.1 275.6 783.5 275.2 776.7 272.9 771.5 268.3 766.9 260.5 759.5 243.4 757.7 236.5 756.9 224.5 755.7 192.0 756.8 186.8 769.4 173.1 773.2 169.9 786.6 164.5 792.1 161.6 797.0 157.7 804.1 149.1 809.2 144.5 817.8 139.5 824.9 137.1Z" fill="rgb(122,122,122)"/>
<path d="M822.9 142.0 829.8 140.8 836.6 141.4 843.5 144.1 848.6 147.9 852.7 152.5 856.8 159.4 858.9 164.7 863.3 180.0 866.3 186.8 868.6 190.2 874.4 195.4 889.8 204.0 893.2 207.3 895.3 210.8 897.0 215.9 897.8 222.8 897.2 229.7 895.5 236.5 891.4 248.5 888.9 253.6 884.6 258.6 879.5 261.6 872.6 262.8 860.6 262.0 848.6 265.6 841.8 266.8 822.9 268.0 805.8 267.6 792.1 268.6 785.2 268.2 778.4 265.9 773.2 261.6 769.8 256.9 762.8 243.4 761.3 239.9 760.5 234.8 758.5 205.7 758.9 195.4 761.0 188.5 769.6 176.5 774.6 171.4 788.5 166.2 795.6 162.8 800.1 159.4 805.8 152.2 809.2 149.1 816.1 144.8 822.0 142.3Z" fill="rgb(133,133,133)"/>
<path d="M828.1 145.6 833.2 145.5 838.4 146.5 843.5 149.0 848.6 153.2 852.1 157.7 855.5 163.9 861.3 181.7 865.8 191.2 869.8 195.4 887.2 207.4 889.9 210.8 891.5 214.2 892.9 221.1 892.9 229.7 891.6 236.5 888.5 246.8 885.8 251.9 882.9 255.1 879.5 257.4 874.3 258.9 858.9 258.1 845.2 261.8 840.1 262.4 804.1 262.4 788.7 261.4 781.8 259.2 776.7 255.5 771.5 249.1 765.8 239.9 764.6 236.5 762.6 222.8 761.0 202.2 763.0 193.6 771.9 178.2 776.7 173.1 800.7 164.0 804.6 161.1 810.4 154.3 814.4 151.1 821.2 147.5 827.6 145.7Z" fill="rgb(143,143,143)"/>
<path d="M829.8 150.7 834.9 150.7 840.1 152.2 845.2 155.5 848.6 159.1 853.6 168.0 860.9 190.2 862.5 193.7 865.6 197.1 874.3 202.2 878.3 205.7 883.0 210.8 885.7 215.9 887.7 222.8 888.5 229.7 888.3 234.8 887.0 241.7 885.1 246.8 882.9 250.3 879.5 253.4 874.3 255.4 870.9 255.6 857.2 254.5 843.5 257.4 840.1 257.6 807.5 256.9 798.9 255.8 791.9 253.6 786.0 250.2 773.2 238.6 769.8 233.3 765.7 219.4 764.3 210.8 763.9 203.9 766.0 195.4 775.0 179.3 778.4 175.8 783.5 173.3 808.1 166.2 810.9 164.1 819.5 155.0 823.6 152.5 828.9 150.8Z" fill="rgb(154,154,154)"/>
<path d="M829.8 157.4 833.2 156.6 838.4 157.3 841.8 159.0 845.2 161.9 848.4 166.2 850.4 170.6 854.2 185.1 854.2 190.2 852.8 193.7 850.4 195.6 842.6 198.8 840.3 202.2 839.0 215.9 839.8 221.1 841.1 222.8 843.5 224.3 846.9 224.7 850.4 223.9 852.6 222.8 856.5 219.4 859.6 215.9 864.1 209.2 865.8 207.8 867.6 207.4 870.9 208.8 872.6 210.9 876.2 217.7 882.6 226.2 884.5 233.1 884.2 239.9 882.5 245.1 879.5 249.3 876.1 251.5 872.6 252.4 869.2 252.5 852.1 250.0 840.1 250.6 812.7 250.1 804.1 248.9 798.9 246.5 788.7 236.5 776.7 228.6 771.5 222.1 769.5 217.7 767.7 210.8 767.2 205.7 767.9 200.5 770.6 193.7 776.7 183.0 780.1 179.0 783.8 176.5 792.1 173.4 798.9 171.9 810.9 171.7 816.1 172.5 819.2 174.8 820.8 185.1 822.9 189.0 828.1 192.1 831.5 192.5 833.2 191.9 834.3 190.2 834.5 188.5 833.3 183.4 829.8 178.4 823.4 173.1 822.2 171.4 821.9 169.7 822.4 166.2 823.7 162.8 826.4 159.5 829.2 157.7Z" fill="rgb(165,165,165)"/>
<path d="M834.9 165.5 836.6 165.0 840.1 165.9 843.6 169.7 845.2 174.5 845.5 178.2 845.2 180.7 843.5 182.6 840.1 179.9 833.9 173.1 832.8 169.7 834.0 166.2ZM800.7 174.8 809.2 175.7 813.6 178.2 816.1 181.5 820.7 190.2 829.4 198.8 832.1 203.9 832.3 209.1 831.1 214.2 822.9 231.0 821.2 233.6 819.5 234.7 814.4 235.8 809.2 235.5 804.1 232.7 792.1 229.1 785.2 225.8 776.4 219.4 773.8 215.9 771.7 210.8 771.0 203.9 772.1 198.8 775.2 192.0 780.1 184.3 783.5 180.9 788.7 177.7 793.8 175.9 799.9 174.8ZM862.4 226.0 865.8 225.0 870.9 225.5 876.1 227.9 879.3 231.4 880.7 234.8 880.8 239.9 878.9 245.1 876.1 247.8 870.9 249.4 865.8 248.7 856.9 245.1 852.9 241.7 851.7 238.2 852.6 234.8 857.0 229.7 862.0 226.2Z" fill="rgb(175,175,175)"/>
<path d="M797.2 177.9 804.1 177.6 807.5 178.4 810.9 180.2 814.4 184.0 826.6 202.2 827.6 207.4 825.6 214.2 821.2 219.8 817.8 222.1 814.4 223.2 805.8 223.2 797.2 224.3 792.1 223.6 786.9 221.3 781.5 217.7 778.1 214.2 776.2 210.8 775.2 207.4 775.1 202.2 776.4 197.1 778.9 192.0 782.5 186.8 786.9 182.6 791.0 180.0 795.7 178.2ZM865.8 232.3 870.9 231.8 874.3 233.4 876.1 235.4 877.0 238.2 876.7 241.7 875.8 243.4 873.8 245.1 870.9 245.8 867.5 245.3 864.0 243.4 862.5 241.7 861.6 239.9 861.7 236.5 864.3 233.1Z" fill="rgb(186,186,186)"/>
<path d="M795.5 181.1 802.4 180.1 805.8 180.6 809.2 182.2 813.6 186.8 822.3 200.5 823.7 205.7 822.8 210.8 819.5 215.7 814.4 218.9 800.7 220.6 793.8 220.1 786.9 217.0 783.5 214.2 780.8 210.8 779.3 207.4 778.8 203.9 779.0 200.5 780.7 195.4 785.4 188.5 790.4 183.9 794.2 181.7Z" fill="rgb(197,197,197)"/>
<path d="M798.9 183.0 804.1 182.8 809.2 185.2 814.4 191.5 819.5 200.5 820.5 205.7 819.1 210.8 816.1 214.3 810.9 216.7 800.7 217.9 793.8 216.8 790.4 215.2 786.9 212.6 783.3 207.4 782.5 203.9 782.6 200.5 785.3 193.7 791.3 186.8 797.3 183.4Z" fill="rgb(207,207,207)"/>
<path d="M797.2 186.3 802.4 185.2 807.5 186.8 810.9 190.2 815.5 197.1 817.5 202.2 817.3 207.4 815.5 210.8 810.9 214.1 804.1 215.4 797.2 214.9 791.8 212.5 789.7 210.8 787.2 207.4 786.0 202.2 787.0 197.1 790.4 191.6 796.2 186.8Z" fill="rgb(218,218,218)"/>
<path d="M800.7 188.3 804.1 188.2 807.5 190.0 812.1 195.4 814.6 200.5 815.2 203.9 814.4 207.6 811.7 210.8 807.5 212.8 802.4 213.2 797.2 212.2 792.5 209.1 790.2 205.7 789.5 200.5 791.3 195.4 795.5 190.6 799.7 188.5Z" fill="rgb(228,228,228)"/>
<path d="M800.7 191.6 804.1 191.6 807.5 193.5 810.5 197.1 812.2 200.5 812.3 205.7 810.9 208.0 807.5 210.3 804.1 211.0 798.9 210.0 795.5 207.7 793.8 205.4 792.9 202.2 793.8 197.5 796.7 193.7 799.5 192.0Z" fill="rgb(239,239,239)"/>
<path d="M802.4 195.2 805.8 196.1 807.5 197.5 809.4 200.5 809.9 203.9 809.3 205.7 807.8 207.4 805.8 208.2 800.7 207.6 798.1 205.7 797.1 203.9 796.7 202.2 797.3 198.8 798.9 196.7 801.4 195.4Z" fill="rgb(250,250,250)"/>
</g>
<path d="M866.9 120.0 870.7 125.1 873.5 130.3 877.4 140.5 879.6 152.5 881.0 173.1 882.0 176.5 882.9 178.1 886.3 180.3 901.8 183.8 908.6 186.2M908.6 305.1 898.3 314.9 885.0 325.6M740.6 325.6 735.5 318.3 731.6 310.2 729.1 301.6 728.2 293.1 728.9 284.5 730.7 277.6 733.8 270.8 738.9 262.2 740.0 258.8 740.2 255.4 738.3 238.2 738.1 231.4 738.7 224.5 741.1 210.8 741.0 203.9 739.2 200.5 737.3 198.7 724.2 192.0 721.8 190.2 718.4 186.9 715.6 181.7 715.1 178.2 715.6 174.8 716.7 172.1 718.4 169.6 721.8 166.9 725.3 165.3 728.7 164.4 733.8 164.1 745.8 165.6 751.0 165.6 754.4 164.5 764.7 158.8 775.0 153.8 776.8 152.5 780.2 149.1 792.3 130.3 800.8 120.0M908.6 265.2 905.1 270.8 900.1 277.0 894.9 281.9 889.8 285.8 882.9 290.1 848.6 309.3 835.4 315.3 828.1 317.6 821.2 319.0 814.4 319.8 807.5 319.8 800.7 319.2 793.8 317.7 786.9 315.6 780.1 312.7 769.8 307.0 761.2 300.5 756.1 294.5 752.7 287.9 751.6 282.8 751.5 279.4 754.4 268.2 754.9 262.2 754.2 257.1 749.7 243.4 748.1 234.8 747.9 226.2 748.8 209.1 748.1 202.2 746.2 197.1 744.1 193.7 740.7 189.9 733.0 183.4 731.8 181.7 731.7 180.0 733.1 178.2 735.5 177.1 749.2 174.8 756.1 172.6 769.0 164.5 781.8 158.4 785.1 156.0 788.5 152.5 797.2 140.9 802.4 134.9 807.5 130.2 814.4 125.6 819.5 123.2 824.7 121.6 831.5 120.6 836.6 120.8 843.5 122.4 850.4 125.7 857.2 131.3 862.4 137.9 865.6 144.0 868.1 150.8 870.0 159.4 872.6 176.5 873.8 180.0 876.1 183.8 879.4 186.8 882.9 188.6 894.9 192.1 900.1 194.1 905.0 197.1 908.6 200.1M822.9 136.8 831.5 135.6 838.4 136.6 845.2 139.5 850.4 143.4 855.2 149.1 858.9 155.7 861.6 162.8 866.2 180.0 868.5 185.1 870.8 188.5 874.3 192.0 877.8 194.2 891.5 200.3 894.5 202.2 897.7 205.7 900.8 210.8 902.0 214.2 903.0 219.4 902.8 227.9 900.8 236.5 895.7 250.2 893.2 255.7 889.7 260.5 884.6 264.8 879.5 267.2 874.3 268.3 860.6 269.0 848.6 272.2 836.6 273.4 824.7 276.0 817.8 276.1 805.8 274.7 793.8 277.0 786.9 277.2 780.1 275.9 775.0 273.4 770.7 269.1 766.4 261.2 758.9 243.4 757.2 236.5 754.9 192.0 755.1 188.5 755.6 186.8 758.4 183.4 771.5 170.6 775.0 168.5 785.6 164.5 792.0 161.1 796.2 157.7 803.2 149.1 807.5 145.0 814.4 140.3 821.7 137.1ZM826.4 154.1 831.5 152.8 836.6 153.2 841.8 155.3 846.9 159.7 850.3 164.5 852.1 168.2 857.2 184.5 859.6 193.7 860.6 195.9 863.5 198.8 871.0 202.2 873.6 203.9 878.4 209.1 881.6 214.2 884.6 221.1 886.2 226.2 886.9 231.4 886.7 236.5 885.7 241.7 883.7 246.8 881.2 250.3 877.8 252.8 874.3 254.0 870.9 254.4 858.9 253.0 853.8 253.1 843.5 255.0 840.1 255.2 824.7 254.5 809.2 254.4 802.8 253.6 797.2 251.9 791.3 248.5 783.5 240.0 775.3 234.8 771.5 230.0 769.0 224.5 766.9 217.7 765.4 209.1 765.2 203.9 766.2 198.8 767.5 195.4 776.2 180.0 780.1 176.3 787.5 173.1 795.5 170.7 805.8 169.4 810.9 167.9 814.4 165.7 820.9 157.7 826.1 154.3ZM826.4 181.7 824.7 181.8 823.7 183.4 823.4 185.1 824.7 187.5 826.4 188.2 828.1 187.9 829.1 186.8 829.2 185.1 828.5 183.4 826.4 181.7ZM848.6 205.4 848.1 207.4 848.4 209.1 848.6 209.5 850.4 209.7 851.7 207.4 851.5 205.7 850.4 204.8 848.6 205.4M795.5 181.1 798.9 180.3 802.4 180.1 805.8 180.6 809.2 182.2 813.6 186.8 822.3 200.5 823.7 205.7 822.8 210.8 819.5 215.7 817.0 217.7 814.4 218.9 810.9 219.6 800.7 220.6 793.8 220.1 790.4 218.9 786.9 217.0 783.5 214.2 780.8 210.8 779.3 207.4 778.8 203.9 779.0 200.5 780.7 195.4 782.7 192.0 785.4 188.5 790.4 183.9 794.2 181.7ZM800.7 190.2 804.1 190.2 807.5 192.1 810.9 196.0 813.2 200.5 813.7 203.9 812.7 207.4 810.9 209.5 807.5 211.3 802.4 211.8 797.2 210.4 793.5 207.4 791.8 203.9 791.5 202.2 791.9 198.8 793.5 195.4 796.8 192.0 800.4 190.2Z" fill="none" stroke="#000" stroke-width="0.6"/>
</g>
<circle cx="777.4" cy="155.7" r="1.25" fill="rgba(0,0,0,0.3)" stroke="#000" stroke-width="0.8"/>
<circle cx="805.8" cy="152.1" r="3.7" fill="#000"/>
<circle cx="834.2" cy="155.7" r="3.7" fill="#000"/>
<circle cx="751.6" cy="165.5" r="1.25" fill="rgba(0,0,0,0.3)" stroke="#000" stroke-width="0.8"/>
<circle cx="774.8" cy="171.2" r="3.7" fill="#000"/>
<circle cx="805.8" cy="169.4" r="3.7" fill="#000"/>
<circle cx="836.8" cy="171.2" r="3.7" fill="#000"/>
<circle cx="859.2" cy="165.5" r="3.7" fill="#000"/>
<circle cx="731.5" cy="181.0" r="3.7" fill="#000"/>
<circle cx="749.0" cy="184.9" r="3.7" fill="#000"/>
<circle cx="767.9" cy="186.7" r="3.7" fill="#000"/>
<circle cx="787.0" cy="186.9" r="3.7" fill="#000"/>
<circle cx="805.8" cy="186.9" r="3.7" fill="#000"/>
<circle cx="823.9" cy="186.9" r="3.7" fill="#000"/>
<circle cx="843.2" cy="186.9" r="3.7" fill="#000"/>
<circle cx="862.0" cy="184.9" r="3.7" fill="#000"/>
<circle cx="880.1" cy="181.0" r="1.25" fill="rgba(0,0,0,0.3)" stroke="#000" stroke-width="0.8"/>
<circle cx="718.1" cy="201.1" r="1.25" fill="rgba(0,0,0,0.3)" stroke="#000" stroke-width="0.8"/>
<circle cx="738.7" cy="202.9" r="1.25" fill="rgba(0,0,0,0.3)" stroke="#000" stroke-width="0.8"/>
<circle cx="761.4" cy="204.5" r="3.7" fill="#000"/>
<circle cx="783.4" cy="204.7" r="3.7" fill="#000"/>
<circle cx="805.8" cy="204.5" r="3.7" fill="#000"/>
<circle cx="828.2" cy="204.7" r="3.7" fill="#000"/>
<circle cx="849.7" cy="204.5" r="3.7" fill="#000"/>
<circle cx="872.4" cy="202.9" r="3.7" fill="#000"/>
<circle cx="893.0" cy="201.1" r="3.7" fill="#000"/>
<circle cx="736.9" cy="221.8" r="1.25" fill="rgba(0,0,0,0.3)" stroke="#000" stroke-width="0.8"/>
<circle cx="759.4" cy="222.0" r="3.7" fill="#000"/>
<circle cx="782.6" cy="222.0" r="3.7" fill="#000"/>
<circle cx="805.8" cy="222.0" r="3.7" fill="#000"/>
<circle cx="828.5" cy="222.0" r="3.7" fill="#000"/>
<circle cx="851.5" cy="222.0" r="3.7" fill="#000"/>
<circle cx="874.2" cy="222.0" r="3.7" fill="#000"/>
<circle cx="718.1" cy="243.4" r="1.25" fill="rgba(0,0,0,0.3)" stroke="#000" stroke-width="0.8"/>
<circle cx="738.7" cy="241.6" r="1.25" fill="rgba(0,0,0,0.3)" stroke="#000" stroke-width="0.8"/>
<circle cx="761.4" cy="240.3" r="3.7" fill="#000"/>
<circle cx="783.4" cy="239.8" r="3.7" fill="#000"/>
<circle cx="805.8" cy="239.6" r="3.7" fill="#000"/>
<circle cx="828.2" cy="239.8" r="3.7" fill="#000"/>
<circle cx="849.7" cy="240.3" r="3.7" fill="#000"/>
<circle cx="872.4" cy="241.6" r="3.7" fill="#000"/>
<circle cx="893.0" cy="243.4" r="3.7" fill="#000"/>
<circle cx="731.5" cy="263.6" r="1.25" fill="rgba(0,0,0,0.3)" stroke="#000" stroke-width="0.8"/>
<circle cx="749.0" cy="259.7" r="1.25" fill="rgba(0,0,0,0.3)" stroke="#000" stroke-width="0.8"/>
<circle cx="767.9" cy="257.9" r="3.7" fill="#000"/>
<circle cx="787.0" cy="257.4" r="3.7" fill="#000"/>
<circle cx="805.8" cy="257.4" r="3.7" fill="#000"/>
<circle cx="823.9" cy="257.4" r="3.7" fill="#000"/>
<circle cx="843.2" cy="257.9" r="3.7" fill="#000"/>
<circle cx="862.0" cy="259.7" r="3.7" fill="#000"/>
<circle cx="880.1" cy="263.6" r="3.7" fill="#000"/>
<circle cx="751.6" cy="278.5" r="3.7" fill="#000"/>
<circle cx="774.8" cy="273.4" r="3.7" fill="#000"/>
<circle cx="805.8" cy="274.7" r="3.7" fill="#000"/>
<circle cx="836.8" cy="273.4" r="3.7" fill="#000"/>
<circle cx="859.2" cy="278.5" r="3.7" fill="#000"/>
<circle cx="777.4" cy="288.6" r="3.7" fill="#000"/>
<circle cx="805.8" cy="291.9" r="3.7" fill="#000"/>
<circle cx="834.2" cy="288.6" r="3.7" fill="#000"/>
<circle cx="805.8" cy="309.5" r="3.7" fill="#000"/>
<circle cx="805.8" cy="222.8" r="96.0" fill="none" stroke="#000" stroke-width="2.1"/>
<path d="M788.2 128.2 L805.8 111.0 L823.4 128.2" fill="none" stroke="#000" stroke-width="2.1" stroke-linejoin="miter"/>
<path d="M709.1 212.0 706.6 207.7 705.0 207.6 702.7 208.3 700.3 212.0 700.7 223.9 699.4 240.9 702.3 248.4 706.6 249.7 710.6 246.1" fill="none" stroke="#000" stroke-width="2.1"/>
<path d="M902.5 212.0 905.0 207.7 906.6 207.6 908.9 208.3 911.3 212.0 910.9 223.9 912.2 240.9 909.3 248.4 905.0 249.7 901.0 246.1" fill="none" stroke="#000" stroke-width="2.1"/>
<circle cx="827.2" cy="205.9" r="10" fill="none" stroke="#ff2a00" stroke-width="3.5"/>
<clipPath id="hc4"><circle cx="343.2" cy="450.6" r="96.0"/></clipPath>
<g clip-path="url(#hc4)"><g filter="url(#par)">
<rect x="243.2" y="350.6" width="200.0" height="200.0" fill="rgb(5,5,5)"/>
<path d="M307.2 348.7 308.5 347.8 368.8 347.8 379.2 357.0 394.6 376.9 399.8 381.6 406.6 384.7 422.0 388.2 430.6 391.1 438.8 395.8 446.0 401.9 446.0 490.5 442.5 498.6 441.3 505.4 442.4 514.0 446.0 523.4 446.0 553.4 240.4 553.4 240.4 371.0 262.7 381.7 267.8 382.6 271.2 381.9 278.1 377.1 298.5 356.3 306.2 349.5Z" fill="rgb(16,16,16)"/>
<path d="M334.6 350.8 341.5 349.6 350.1 350.1 358.6 352.4 365.5 355.9 372.3 360.8 377.5 365.7 390.0 382.1 394.6 386.6 401.5 390.2 420.3 394.3 428.9 397.8 434.0 401.3 439.1 406.0 446.0 415.9 446.0 467.9 441.1 476.3 435.7 483.1 421.0 496.9 418.8 500.3 418.3 503.7 420.0 512.3 424.2 522.6 429.8 532.9 442.6 553.4 240.4 553.4 240.4 389.8 250.7 394.6 264.4 402.9 269.5 405.3 276.4 405.9 283.2 404.3 286.6 401.4 291.5 392.3 315.3 363.2 324.3 355.4 333.3 351.2ZM268.9 484.9 262.1 488.3 258.9 491.7 257.9 495.2 259.2 497.5 262.7 499.1 267.8 499.4 274.7 498.6 283.2 496.6 288.4 494.8 290.6 493.4 291.8 491.8 292.0 490.0 289.8 486.6 286.6 484.6 281.5 483.3 276.4 483.3 269.5 484.7Z" fill="rgb(27,27,27)"/>
<path d="M343.2 359.6 348.3 359.3 355.2 360.2 362.1 362.6 367.2 365.4 375.8 372.5 386.0 385.8 391.0 390.6 398.0 394.5 416.9 399.0 423.7 401.7 431.4 407.8 435.5 412.9 438.7 418.0 442.7 428.3 444.4 438.6 443.8 450.6 440.9 460.9 436.4 469.5 428.9 478.4 420.3 484.3 411.7 487.0 406.6 487.3 391.2 486.7 380.9 484.9 370.6 484.9 360.3 483.8 343.2 483.7 332.9 484.7 320.9 483.3 312.4 481.0 288.4 470.1 279.8 468.4 255.8 469.9 240.4 473.6 240.4 402.1 248.9 404.7 264.4 411.1 269.5 412.6 281.5 413.7 288.4 412.9 295.0 409.5 300.7 404.3 314.1 387.0 322.7 373.5 327.8 367.5 334.6 362.5 342.5 359.8ZM326.1 520.8 332.9 519.6 343.2 520.8 353.5 520.3 358.6 521.3 368.9 524.7 375.8 525.5 382.8 524.3 392.9 519.6 394.6 519.5 398.0 521.5 404.9 529.1 415.2 542.1 423.2 553.4 240.5 553.4 246.4 546.6 254.5 539.7 264.4 533.5 276.4 527.8 283.2 525.5 290.1 524.4 312.4 524.4 326.0 520.9Z" fill="rgb(37,37,37)"/>
<path d="M344.9 368.2 350.1 367.5 355.2 367.9 360.3 369.3 365.5 371.6 374.0 378.0 382.7 388.9 388.7 394.0 398.0 398.7 418.6 404.9 424.7 409.5 429.8 416.3 434.3 424.9 436.9 433.5 437.8 443.7 436.6 454.0 433.4 462.6 427.6 471.2 420.3 477.5 413.5 480.6 406.6 481.8 392.9 481.8 374.0 479.4 356.9 476.3 320.9 474.4 312.4 471.4 306.1 467.7 295.2 460.1 290.1 458.7 262.7 460.6 240.4 460.8 240.4 412.0 250.7 413.2 269.5 417.9 279.8 419.0 288.4 418.5 300.4 414.6 305.5 411.5 322.4 394.0 331.0 378.6 334.6 374.0 339.8 370.1 344.2 368.3ZM332.9 527.4 339.8 526.9 348.3 527.2 358.6 529.6 389.0 541.4 396.3 546.2 403.7 553.4 271.4 553.4 280.7 546.6 290.5 541.4 331.5 527.7Z" fill="rgb(48,48,48)"/>
<path d="M350.1 374.9 358.6 375.3 367.2 378.7 372.3 382.6 379.2 390.8 385.0 395.8 394.6 400.9 411.7 407.1 416.6 409.5 420.1 412.9 423.5 418.0 428.8 428.3 431.3 436.9 432.1 445.5 431.1 454.0 427.8 462.6 422.8 469.5 416.3 474.6 408.3 477.6 396.3 478.5 384.3 477.5 374.0 475.7 355.2 470.9 343.2 469.3 332.9 466.7 320.9 465.4 314.1 461.3 301.7 450.6 296.9 448.2 291.8 448.1 274.7 451.9 264.4 452.6 250.7 451.6 240.4 448.5 240.4 422.5 245.5 421.0 252.4 420.5 271.2 423.3 284.9 424.2 293.5 422.6 305.5 418.8 309.5 416.3 319.2 407.9 329.3 404.3 331.2 402.6 335.4 388.9 338.6 382.1 343.2 377.3 348.6 375.2ZM336.3 532.6 344.9 532.0 354.3 534.6 369.8 543.1 384.2 553.4 296.6 553.4 307.0 546.6 319.4 539.7 329.5 534.9 335.5 532.9Z" fill="rgb(58,58,58)"/>
<path d="M351.8 381.6 358.6 381.2 363.8 382.5 367.2 384.2 370.6 386.8 377.6 394.0 382.2 397.5 389.5 401.6 410.0 411.0 414.5 414.6 417.1 418.0 423.2 430.0 425.9 436.9 427.3 445.5 426.8 452.3 424.7 459.2 420.4 466.0 415.2 470.8 408.3 474.0 401.5 475.3 392.9 475.5 380.9 474.2 372.3 472.2 346.6 463.1 343.1 460.9 334.6 453.4 331.2 451.5 319.2 449.6 303.8 442.5 291.8 438.9 286.6 438.0 272.9 441.9 264.4 442.4 255.8 440.7 252.4 438.8 250.7 436.9 250.2 433.5 251.0 431.7 252.7 430.0 255.8 429.0 276.4 430.9 283.2 432.8 286.6 432.7 295.8 428.3 310.6 423.5 320.9 416.1 324.3 414.8 330.9 419.8 332.9 420.1 334.6 419.5 338.1 416.8 339.8 413.1 339.4 400.9 340.2 395.8 341.9 390.6 345.1 385.5 350.3 382.1ZM339.8 537.8 344.9 537.6 350.2 539.7 357.9 544.9 367.8 553.4 315.3 553.4 329.0 543.1 339.2 538.0Z" fill="rgb(69,69,69)"/>
<path d="M353.5 387.0 358.6 386.3 365.5 388.0 380.1 399.2 406.5 412.9 410.5 416.3 413.0 419.8 421.9 438.6 423.0 443.7 423.1 450.6 421.3 457.5 418.5 462.6 413.6 467.7 408.3 470.7 399.8 472.8 391.2 472.9 379.2 471.4 370.6 468.9 356.9 463.2 349.9 459.2 346.3 455.7 338.9 445.5 336.9 442.0 335.3 436.9 335.7 430.0 342.7 414.6 343.0 402.6 344.9 395.8 348.3 390.3 353.0 387.2ZM338.1 549.8 341.5 548.8 344.9 549.1 348.3 550.8 351.6 553.4 332.8 553.4 337.8 550.0Z" fill="rgb(80,80,80)"/>
<path d="M356.9 390.6 362.1 390.7 367.2 392.7 381.6 402.6 403.2 413.9 407.8 418.0 410.2 421.5 418.1 438.6 419.6 445.5 419.5 450.6 417.6 457.5 414.3 462.6 410.0 466.4 403.2 469.5 396.3 470.6 389.5 470.6 380.9 469.6 372.3 467.1 360.3 461.6 353.5 457.5 348.3 452.4 343.6 445.5 340.7 438.6 340.1 430.0 341.0 424.9 344.6 414.6 345.8 402.6 347.8 397.5 350.1 394.4 353.5 391.7 356.8 390.6Z" fill="rgb(90,90,90)"/>
<path d="M358.6 393.7 362.1 393.8 367.2 395.6 383.5 406.0 398.0 413.3 404.4 418.0 408.1 423.2 415.6 440.3 416.6 445.5 416.4 450.6 414.1 457.5 410.2 462.6 405.2 466.0 399.8 467.9 392.9 468.6 384.3 468.1 377.5 466.8 370.6 464.2 362.1 459.8 355.2 455.2 350.1 450.0 345.9 443.7 343.4 436.9 342.8 428.3 346.0 414.6 347.2 406.0 349.0 400.9 351.4 397.5 353.5 395.7 357.0 394.0Z" fill="rgb(101,101,101)"/>
<path d="M356.9 397.0 362.1 396.4 367.2 398.0 382.7 407.8 398.0 415.6 404.4 421.5 407.3 426.6 412.4 438.6 413.9 447.2 413.1 452.3 410.9 457.5 408.1 460.9 403.2 464.2 398.0 466.0 391.2 466.7 382.6 466.0 375.8 464.2 368.4 460.9 360.0 455.7 353.7 450.6 350.1 446.1 347.6 442.0 345.7 436.9 344.9 430.0 345.1 424.9 349.7 404.3 351.8 400.8 355.8 397.5Z" fill="rgb(112,112,112)"/>
<path d="M358.6 398.9 363.8 398.9 368.9 400.9 382.6 409.7 396.3 416.6 400.4 419.8 403.3 423.2 406.0 428.3 410.1 438.6 411.4 447.2 410.4 452.3 407.7 457.5 404.2 460.9 399.8 463.2 394.6 464.6 387.8 464.8 380.9 463.9 375.8 462.4 368.9 459.0 360.3 453.4 355.0 448.9 350.9 443.7 349.0 440.3 347.3 435.2 346.5 428.3 346.9 423.2 349.2 411.2 350.8 406.0 353.5 402.0 357.9 399.2Z" fill="rgb(122,122,122)"/>
<path d="M360.3 400.7 363.8 400.8 368.9 402.6 382.6 411.7 394.6 417.4 399.7 421.5 403.3 426.6 408.5 440.3 409.2 445.5 408.5 450.6 406.0 455.7 403.2 458.7 399.8 460.9 394.6 462.7 389.5 463.2 384.3 462.8 379.2 461.7 374.0 459.8 367.2 455.8 358.6 449.6 354.5 445.5 351.8 441.6 349.6 436.9 348.2 430.0 348.1 424.9 349.4 416.3 351.0 409.5 352.6 406.0 355.2 403.0 359.5 400.9Z" fill="rgb(133,133,133)"/>
<path d="M360.3 402.6 365.5 402.9 370.6 405.2 381.6 412.9 394.6 419.3 399.0 423.2 401.5 426.6 406.2 438.6 407.0 443.7 406.6 448.9 405.4 452.3 403.1 455.7 399.8 458.6 394.6 460.8 389.5 461.5 384.3 461.2 379.2 460.0 374.0 457.9 360.3 448.7 356.8 445.5 353.0 440.3 350.8 435.2 349.7 430.0 349.6 423.2 350.5 416.3 351.8 411.2 353.5 407.5 356.9 403.9 360.2 402.6Z" fill="rgb(143,143,143)"/>
<path d="M360.3 404.3 365.5 404.5 370.6 406.7 380.9 414.2 392.9 419.9 396.9 423.2 399.7 426.6 404.0 436.9 405.0 442.0 404.8 447.2 403.8 450.6 401.5 454.4 398.0 457.3 394.6 458.8 391.2 459.6 386.0 459.8 380.9 458.9 375.8 457.0 370.6 454.0 361.2 447.2 354.9 440.3 352.4 435.2 351.2 430.0 350.8 424.9 351.4 418.0 354.0 409.5 356.9 406.0 360.3 404.3Z" fill="rgb(154,154,154)"/>
<path d="M360.3 406.0 363.8 405.7 368.9 407.3 380.9 415.8 392.6 421.5 398.0 426.8 400.7 431.7 402.4 436.9 403.1 445.5 402.3 448.9 400.5 452.3 398.0 454.9 394.6 456.9 391.2 457.9 386.0 458.2 377.5 456.0 372.3 453.3 363.8 447.1 356.8 440.3 354.8 436.9 353.0 431.7 352.1 426.6 352.3 419.8 353.2 414.6 355.2 410.0 357.1 407.8 360.2 406.0Z" fill="rgb(165,165,165)"/>
<path d="M360.3 407.6 363.8 407.2 368.9 408.9 379.2 416.3 391.2 422.2 394.6 424.9 397.3 428.3 400.8 436.9 401.5 442.0 401.2 445.5 400.2 448.9 398.0 452.2 392.9 455.6 386.0 456.6 380.9 455.6 376.9 454.0 363.8 445.2 357.5 438.6 355.7 435.2 354.0 430.0 353.5 419.8 355.2 412.6 356.9 409.9 360.0 407.8Z" fill="rgb(175,175,175)"/>
<path d="M360.3 409.2 363.8 408.7 368.9 410.4 379.2 417.8 390.2 423.2 395.6 428.3 398.8 435.2 399.7 440.3 399.6 443.7 398.0 448.9 396.3 451.1 392.9 453.7 389.5 454.8 386.0 454.9 382.6 454.4 377.5 452.6 365.5 444.6 359.4 438.6 356.9 434.4 355.4 430.0 354.6 421.5 355.7 414.6 357.6 411.2 359.8 409.5Z" fill="rgb(186,186,186)"/>
<path d="M360.3 410.8 363.8 410.2 367.4 411.2 377.5 418.3 389.5 424.3 393.8 428.3 397.2 435.2 397.9 442.0 396.6 447.2 392.9 451.5 389.5 453.0 386.0 453.2 379.2 451.6 369.1 445.5 361.3 438.6 357.5 431.7 355.9 423.2 356.9 414.9 359.7 411.2Z" fill="rgb(197,197,197)"/>
<path d="M360.3 412.5 363.8 411.7 367.2 412.8 377.5 419.9 387.8 424.9 392.0 428.3 395.0 433.5 396.2 438.6 395.8 443.7 392.9 449.0 390.6 450.6 387.8 451.4 380.9 450.4 372.3 445.8 363.3 438.6 360.7 435.2 359.1 431.7 357.5 424.9 357.5 418.0 358.5 414.6 359.9 412.9Z" fill="rgb(207,207,207)"/>
<path d="M360.3 414.6 362.1 413.6 363.8 413.5 367.2 414.6 375.8 420.6 386.0 425.6 390.0 428.3 393.4 433.5 394.4 438.6 393.6 443.7 391.6 447.2 387.8 449.3 384.3 449.3 380.9 448.5 374.0 445.0 365.5 438.5 361.6 433.5 359.7 428.3 358.8 419.8 360.3 414.6Z" fill="rgb(218,218,218)"/>
<path d="M362.1 416.2 363.8 415.8 365.9 416.3 375.8 422.5 386.0 427.3 389.5 430.0 391.6 433.5 392.4 438.6 391.8 442.0 389.8 445.5 386.0 447.1 382.6 446.8 379.2 445.7 372.3 441.7 365.5 435.9 362.7 431.7 361.2 426.6 360.8 419.8 362.0 416.3Z" fill="rgb(228,228,228)"/>
<path d="M363.8 421.4 365.5 420.0 367.2 420.3 387.0 430.0 388.7 431.7 390.1 435.2 389.8 440.3 387.8 443.3 384.3 444.4 379.2 443.3 372.3 439.2 367.6 435.2 365.0 431.7 363.6 426.6 363.8 421.5Z" fill="rgb(239,239,239)"/>
<path d="M368.9 426.1 372.9 426.6 382.6 430.0 385.7 431.7 387.6 435.2 387.0 438.6 386.0 440.0 384.3 441.0 380.9 440.9 373.6 436.9 368.6 431.7 367.7 428.3 368.3 426.6Z" fill="rgb(250,250,250)"/>
</g>
<path d="M240.4 400.8 248.9 403.6 267.8 411.5 272.9 412.4 281.5 413.0 284.9 412.9 288.4 412.0 293.5 409.2 299.1 404.3 314.1 384.6 322.3 371.8 328.7 364.9 333.9 361.5 339.8 359.2 346.6 358.2 353.5 358.8 362.1 361.6 370.6 366.9 377.5 373.5 388.1 387.2 394.6 392.3 401.5 395.0 415.2 397.9 420.3 399.4 425.5 402.0 430.6 405.9 436.5 412.9 439.6 418.0 442.0 423.2 444.4 431.7 445.3 442.0 444.6 450.6 443.0 457.5 440.3 464.3 435.7 471.8 430.6 477.9 425.5 482.3 418.6 486.1 411.7 488.0 406.6 488.2 399.8 487.6 391.2 487.6 380.9 485.8 370.6 486.2 360.3 485.2 343.2 485.2 334.6 486.5 329.5 486.1 315.8 483.7 288.4 471.5 283.2 470.1 278.1 469.5 255.8 471.2 240.4 475.5M240.4 548.2 247.2 541.3 257.5 534.0 269.5 527.7 281.5 523.1 286.6 522.0 291.8 521.7 305.5 523.1 312.4 523.1 317.5 522.2 329.5 518.6 334.6 518.2 343.2 519.6 353.5 518.9 358.6 519.9 368.9 523.4 372.3 524.0 375.8 524.0 380.9 522.6 384.3 520.4 386.9 517.4 390.1 508.9 392.0 507.2 394.6 506.3 396.3 506.4 398.0 507.9 401.4 517.4 403.9 522.6 425.5 553.4M323.2 553.4 329.2 548.3 334.6 544.5 339.8 542.0 343.2 541.5 346.6 542.4 350.9 544.9 355.3 548.3 360.6 553.4M356.9 383.7 362.1 384.4 367.2 386.6 377.4 395.8 382.5 399.2 388.8 402.6 403.8 409.5 409.6 412.9 414.4 418.0 421.5 431.7 424.5 440.3 425.3 447.2 424.5 454.0 421.8 460.9 419.5 464.3 416.9 467.2 411.7 471.0 404.9 473.4 398.0 474.3 387.8 473.9 377.5 472.3 370.6 470.3 354.9 464.3 350.1 462.0 346.0 459.2 334.6 446.1 329.5 441.2 326.1 440.4 320.9 441.0 315.8 440.6 300.4 435.4 298.4 433.5 300.0 431.7 308.9 429.7 319.2 425.3 322.6 425.2 327.8 427.7 329.5 427.9 332.9 426.0 338.1 420.3 341.4 414.6 341.4 400.9 342.6 395.8 344.9 390.6 346.6 388.2 350.0 385.5 353.5 384.1 356.1 383.8ZM356.9 397.2 362.1 396.6 367.2 398.2 382.6 407.9 398.0 415.7 401.5 418.4 404.2 421.5 407.1 426.6 412.2 438.6 413.2 442.0 413.7 447.2 412.9 452.3 410.6 457.5 407.7 460.9 403.2 464.0 398.0 465.8 391.2 466.6 382.6 465.9 375.8 464.1 367.2 460.1 358.6 454.6 354.0 450.6 350.1 445.8 347.8 442.0 345.9 436.9 345.0 430.0 345.2 424.9 348.3 409.2 349.8 404.3 351.9 400.9 353.6 399.2 356.3 397.5ZM360.3 403.8 365.5 404.0 370.6 406.2 380.9 413.7 393.5 419.8 397.6 423.2 400.3 426.6 402.8 431.7 405.0 438.6 405.7 443.7 405.5 447.2 403.7 452.3 401.5 455.4 398.0 458.0 394.6 459.5 391.2 460.2 386.0 460.3 380.9 459.4 375.8 457.5 369.6 454.0 360.3 447.2 356.9 443.8 354.3 440.3 351.9 435.2 350.7 430.0 350.4 424.9 350.8 419.8 351.8 414.3 353.5 409.5 355.2 406.9 358.6 404.3ZM362.1 409.1 365.5 409.4 368.9 410.8 378.9 418.0 389.5 423.2 392.9 425.8 395.1 428.3 397.1 431.7 398.3 435.2 399.2 440.3 399.1 443.7 398.2 447.2 396.3 450.3 394.2 452.3 391.2 453.8 387.8 454.5 384.3 454.3 380.9 453.5 375.8 451.2 363.8 442.7 358.7 436.9 356.9 433.3 355.5 428.3 355.0 419.8 355.5 416.3 356.8 412.9 358.6 410.7 360.9 409.5ZM362.1 415.8 363.8 415.5 366.5 416.3 375.8 422.3 386.0 427.1 389.5 429.7 391.8 433.5 392.7 438.6 392.1 442.0 390.2 445.5 387.8 447.1 386.0 447.4 380.9 446.6 374.0 443.1 366.1 436.9 362.5 431.7 361.0 426.6 360.5 419.8 361.6 416.3Z" fill="none" stroke="#000" stroke-width="0.6"/>
</g>
<circle cx="314.8" cy="383.5" r="1.25" fill="rgba(0,0,0,0.55)" stroke="#000" stroke-width="0.7"/>
<circle cx="343.2" cy="379.9" r="1.25" fill="rgba(0,0,0,0.55)" stroke="#000" stroke-width="0.7"/>
<circle cx="371.6" cy="383.5" r="1.25" fill="rgba(0,0,0,0.55)" stroke="#000" stroke-width="0.7"/>
<circle cx="289.0" cy="393.3" r="1.25" fill="rgba(0,0,0,0.55)" stroke="#000" stroke-width="0.7"/>
<circle cx="312.2" cy="399.0" r="1.25" fill="rgba(0,0,0,0.55)" stroke="#000" stroke-width="0.7"/>
<circle cx="343.2" cy="397.2" r="1.25" fill="rgba(0,0,0,0.55)" stroke="#000" stroke-width="0.7"/>
<circle cx="374.2" cy="399.0" r="1.25" fill="rgba(0,0,0,0.55)" stroke="#000" stroke-width="0.7"/>
<circle cx="396.6" cy="393.3" r="1.25" fill="rgba(0,0,0,0.55)" stroke="#000" stroke-width="0.7"/>
<circle cx="268.9" cy="408.8" r="1.25" fill="rgba(0,0,0,0.55)" stroke="#000" stroke-width="0.7"/>
<circle cx="286.4" cy="412.7" r="1.25" fill="rgba(0,0,0,0.55)" stroke="#000" stroke-width="0.7"/>
<circle cx="305.3" cy="414.5" r="1.25" fill="rgba(0,0,0,0.55)" stroke="#000" stroke-width="0.7"/>
<circle cx="324.4" cy="414.7" r="1.25" fill="rgba(0,0,0,0.55)" stroke="#000" stroke-width="0.7"/>
<circle cx="343.2" cy="414.7" r="1.25" fill="rgba(0,0,0,0.55)" stroke="#000" stroke-width="0.7"/>
<circle cx="361.3" cy="414.7" r="1.25" fill="rgba(0,0,0,0.55)" stroke="#000" stroke-width="0.7"/>
<circle cx="380.6" cy="414.7" r="1.25" fill="rgba(0,0,0,0.55)" stroke="#000" stroke-width="0.7"/>
<circle cx="399.4" cy="412.7" r="1.25" fill="rgba(0,0,0,0.55)" stroke="#000" stroke-width="0.7"/>
<circle cx="417.5" cy="408.8" r="1.25" fill="rgba(0,0,0,0.55)" stroke="#000" stroke-width="0.7"/>
<circle cx="255.5" cy="428.9" r="1.25" fill="rgba(0,0,0,0.55)" stroke="#000" stroke-width="0.7"/>
<circle cx="276.1" cy="430.7" r="1.25" fill="rgba(0,0,0,0.55)" stroke="#000" stroke-width="0.7"/>
<circle cx="298.8" cy="432.3" r="1.25" fill="rgba(0,0,0,0.55)" stroke="#000" stroke-width="0.7"/>
<circle cx="320.8" cy="432.5" r="1.25" fill="rgba(0,0,0,0.55)" stroke="#000" stroke-width="0.7"/>
<circle cx="343.2" cy="432.3" r="1.25" fill="rgba(0,0,0,0.55)" stroke="#000" stroke-width="0.7"/>
<circle cx="365.6" cy="432.5" r="1.25" fill="rgba(0,0,0,0.55)" stroke="#000" stroke-width="0.7"/>
<circle cx="387.1" cy="432.3" r="1.25" fill="rgba(0,0,0,0.55)" stroke="#000" stroke-width="0.7"/>
<circle cx="409.8" cy="430.7" r="1.25" fill="rgba(0,0,0,0.55)" stroke="#000" stroke-width="0.7"/>
<circle cx="430.4" cy="428.9" r="1.25" fill="rgba(0,0,0,0.55)" stroke="#000" stroke-width="0.7"/>
<circle cx="274.3" cy="449.6" r="1.25" fill="rgba(0,0,0,0.55)" stroke="#000" stroke-width="0.7"/>
<circle cx="296.8" cy="449.8" r="1.25" fill="rgba(0,0,0,0.55)" stroke="#000" stroke-width="0.7"/>
<circle cx="320.0" cy="449.8" r="1.25" fill="rgba(0,0,0,0.55)" stroke="#000" stroke-width="0.7"/>
<circle cx="343.2" cy="449.8" r="1.25" fill="rgba(0,0,0,0.55)" stroke="#000" stroke-width="0.7"/>
<circle cx="365.9" cy="449.8" r="1.25" fill="rgba(0,0,0,0.55)" stroke="#000" stroke-width="0.7"/>
<circle cx="388.9" cy="449.8" r="1.25" fill="rgba(0,0,0,0.55)" stroke="#000" stroke-width="0.7"/>
<circle cx="411.6" cy="449.8" r="1.25" fill="rgba(0,0,0,0.55)" stroke="#000" stroke-width="0.7"/>
<circle cx="255.5" cy="471.2" r="1.25" fill="rgba(0,0,0,0.55)" stroke="#000" stroke-width="0.7"/>
<circle cx="276.1" cy="469.4" r="1.25" fill="rgba(0,0,0,0.55)" stroke="#000" stroke-width="0.7"/>
<circle cx="298.8" cy="468.1" r="1.25" fill="rgba(0,0,0,0.55)" stroke="#000" stroke-width="0.7"/>
<circle cx="320.8" cy="467.6" r="1.25" fill="rgba(0,0,0,0.55)" stroke="#000" stroke-width="0.7"/>
<circle cx="343.2" cy="467.4" r="1.25" fill="rgba(0,0,0,0.55)" stroke="#000" stroke-width="0.7"/>
<circle cx="365.6" cy="467.6" r="1.25" fill="rgba(0,0,0,0.55)" stroke="#000" stroke-width="0.7"/>
<circle cx="387.1" cy="468.1" r="1.25" fill="rgba(0,0,0,0.55)" stroke="#000" stroke-width="0.7"/>
<circle cx="409.8" cy="469.4" r="1.25" fill="rgba(0,0,0,0.55)" stroke="#000" stroke-width="0.7"/>
<circle cx="430.4" cy="471.2" r="1.25" fill="rgba(0,0,0,0.55)" stroke="#000" stroke-width="0.7"/>
<circle cx="268.9" cy="491.4" r="1.25" fill="rgba(0,0,0,0.55)" stroke="#000" stroke-width="0.7"/>
<circle cx="286.4" cy="487.5" r="1.25" fill="rgba(0,0,0,0.55)" stroke="#000" stroke-width="0.7"/>
<circle cx="305.3" cy="485.7" r="1.25" fill="rgba(0,0,0,0.55)" stroke="#000" stroke-width="0.7"/>
<circle cx="324.4" cy="485.2" r="1.25" fill="rgba(0,0,0,0.55)" stroke="#000" stroke-width="0.7"/>
<circle cx="343.2" cy="485.2" r="1.25" fill="rgba(0,0,0,0.55)" stroke="#000" stroke-width="0.7"/>
<circle cx="361.3" cy="485.2" r="1.25" fill="rgba(0,0,0,0.55)" stroke="#000" stroke-width="0.7"/>
<circle cx="380.6" cy="485.7" r="1.25" fill="rgba(0,0,0,0.55)" stroke="#000" stroke-width="0.7"/>
<circle cx="399.4" cy="487.5" r="1.25" fill="rgba(0,0,0,0.55)" stroke="#000" stroke-width="0.7"/>
<circle cx="417.5" cy="491.4" r="1.25" fill="rgba(0,0,0,0.55)" stroke="#000" stroke-width="0.7"/>
<circle cx="289.0" cy="506.3" r="1.25" fill="rgba(0,0,0,0.55)" stroke="#000" stroke-width="0.7"/>
<circle cx="312.2" cy="501.2" r="1.25" fill="rgba(0,0,0,0.55)" stroke="#000" stroke-width="0.7"/>
<circle cx="343.2" cy="502.5" r="1.25" fill="rgba(0,0,0,0.55)" stroke="#000" stroke-width="0.7"/>
<circle cx="374.2" cy="501.2" r="1.25" fill="rgba(0,0,0,0.55)" stroke="#000" stroke-width="0.7"/>
<circle cx="396.6" cy="506.3" r="1.25" fill="rgba(0,0,0,0.55)" stroke="#000" stroke-width="0.7"/>
<circle cx="314.8" cy="516.4" r="1.25" fill="rgba(0,0,0,0.55)" stroke="#000" stroke-width="0.7"/>
<circle cx="343.2" cy="519.7" r="1.25" fill="rgba(0,0,0,0.55)" stroke="#000" stroke-width="0.7"/>
<circle cx="371.6" cy="516.4" r="1.25" fill="rgba(0,0,0,0.55)" stroke="#000" stroke-width="0.7"/>
<circle cx="343.2" cy="537.3" r="1.25" fill="rgba(0,0,0,0.55)" stroke="#000" stroke-width="0.7"/>
<circle cx="343.2" cy="450.6" r="96.0" fill="none" stroke="#000" stroke-width="2.1"/>
<path d="M325.6 356.0 L343.2 338.8 L360.8 356.0" fill="none" stroke="#000" stroke-width="2.1" stroke-linejoin="miter"/>
<path d="M246.5 439.8 244.0 435.5 242.4 435.4 240.1 436.1 237.7 439.8 238.1 451.7 236.8 468.7 239.7 476.2 244.0 477.5 248.0 473.9" fill="none" stroke="#000" stroke-width="2.1"/>
<path d="M439.9 439.8 442.4 435.5 444.0 435.4 446.3 436.1 448.7 439.8 448.3 451.7 449.6 468.7 446.7 476.2 442.4 477.5 438.4 473.9" fill="none" stroke="#000" stroke-width="2.1"/>
<circle cx="365.6" cy="432.5" r="10" fill="none" stroke="#fff" stroke-width="3.5"/>
<clipPath id="hc5"><circle cx="574.5" cy="450.6" r="96.0"/></clipPath>
<g clip-path="url(#hc5)"><g filter="url(#par)">
<rect x="474.5" y="350.6" width="200.0" height="200.0" fill="rgb(5,5,5)"/>
<path d="M472.0 363.2 474.6 373.5 478.3 383.8 483.0 394.0 489.2 404.3 493.1 409.5 497.4 413.9 510.8 424.9 520.3 431.7 522.9 435.2 524.7 440.3 524.8 445.5 523.4 454.0 521.4 458.3 517.9 461.8 512.8 464.3 499.1 467.8 483.7 470.0 477.2 472.9 471.7 476.6 471.7 361.7ZM581.4 376.6 589.9 376.3 600.2 379.4 627.6 393.6 636.2 398.7 651.6 404.4 656.8 407.6 660.7 411.2 665.7 418.0 668.9 424.9 671.3 433.5 672.1 442.0 671.0 448.9 668.8 454.0 665.3 457.9 660.2 460.5 625.9 463.5 607.1 466.3 600.2 465.2 586.5 461.2 581.4 458.7 578.1 455.7 575.1 450.6 573.5 443.7 572.0 424.9 573.4 414.6 571.9 402.6 573.1 387.2 574.1 382.1 576.2 379.0 580.3 376.9ZM608.8 488.0 610.5 487.7 611.0 488.3 611.4 491.7 610.5 495.5 608.5 498.6 605.3 499.8 604.0 498.6 603.5 496.9 605.3 492.0 608.5 488.3ZM473.4 523.3 482.0 525.5 495.7 527.7 509.4 529.3 519.7 529.7 540.2 528.3 560.8 523.3 574.5 524.0 586.5 523.6 612.2 530.1 629.3 532.4 641.3 533.2 660.2 532.2 677.3 528.3 677.3 553.4 471.7 553.4 471.7 522.8Z" fill="rgb(16,16,16)"/>
<path d="M588.2 383.5 591.6 383.3 596.8 384.1 605.3 387.8 617.3 395.8 632.8 407.6 644.8 413.7 648.0 416.3 650.7 419.8 653.2 424.9 654.6 431.7 654.3 436.9 652.6 442.0 650.4 445.5 646.5 449.1 640.9 452.3 634.5 454.5 612.2 458.4 603.6 458.4 595.1 456.3 588.2 453.7 583.8 450.6 580.8 447.2 577.7 440.3 574.9 426.6 575.5 414.6 575.0 404.3 576.9 395.8 579.6 389.3 583.1 385.6 587.1 383.8ZM473.1 399.2 497.5 421.5 506.0 430.0 515.3 436.9 518.4 442.0 519.1 447.2 518.3 452.3 516.5 455.7 512.9 459.2 509.4 460.9 499.1 463.3 482.0 464.0 471.7 465.8 471.7 397.7ZM560.8 529.1 571.1 527.9 584.8 528.7 591.6 530.6 613.9 539.0 631.1 544.1 653.3 548.8 677.3 551.6 677.3 553.4 471.7 553.4 471.7 549.9 523.1 540.5 538.5 536.4 559.5 529.4Z" fill="rgb(27,27,27)"/>
<path d="M588.2 388.6 591.6 388.0 595.1 388.2 600.2 389.7 603.6 391.4 612.3 397.5 625.8 409.5 637.9 418.0 641.4 421.5 643.5 424.9 644.8 428.3 645.2 433.5 644.6 436.9 643.2 440.3 640.7 443.7 636.4 447.2 632.8 449.0 613.9 453.6 605.3 454.0 600.2 453.0 591.6 450.2 586.5 447.1 583.3 443.7 579.8 436.9 577.0 426.6 576.6 421.5 577.0 406.0 578.8 399.2 581.4 394.1 584.8 390.4 587.6 388.9ZM472.3 411.2 488.8 420.9 502.5 433.0 510.0 438.6 513.0 442.0 514.5 447.2 514.2 450.6 512.5 454.0 509.4 456.7 504.2 458.7 495.7 459.4 471.7 457.7 471.7 410.8ZM565.9 532.5 574.5 531.5 584.8 533.3 592.2 536.3 627.8 553.4 516.0 553.4 535.1 545.5 557.4 535.4 564.5 532.9Z" fill="rgb(37,37,37)"/>
<path d="M589.9 392.0 593.4 391.5 596.8 392.0 603.6 395.1 611.3 400.9 619.6 409.5 632.5 419.8 635.7 423.2 637.7 426.6 638.6 430.0 638.8 433.5 638.0 436.9 634.5 442.2 631.1 444.8 627.6 446.5 612.2 450.4 603.6 450.2 591.6 446.4 588.2 444.2 584.5 440.3 580.9 433.5 578.5 424.9 578.6 407.8 579.8 402.6 582.5 397.5 584.8 394.8 588.9 392.3ZM473.4 422.3 480.2 423.8 487.1 426.6 497.6 435.2 506.0 441.0 508.7 443.7 509.6 445.5 510.1 448.9 508.6 452.3 504.2 454.8 497.4 455.1 471.7 448.6 471.7 422.1ZM569.4 535.8 576.2 535.2 583.1 537.3 591.0 541.4 609.8 553.4 536.6 553.4 556.8 541.4 567.8 536.3Z" fill="rgb(48,48,48)"/>
<path d="M589.9 395.0 593.4 394.5 596.8 394.8 603.6 398.2 609.3 402.6 617.3 411.9 627.1 419.8 631.7 424.9 633.7 430.0 633.4 435.2 630.3 440.3 624.2 444.3 612.2 447.4 603.6 447.3 596.8 445.5 591.6 443.2 588.2 440.6 585.0 436.9 582.3 431.7 580.1 424.9 579.5 419.8 579.8 411.2 580.6 406.0 581.9 402.6 584.8 398.4 588.2 395.8ZM499.1 446.1 502.2 447.2 500.8 448.0 498.3 447.2ZM574.5 539.7 577.9 540.5 583.2 543.1 597.2 553.4 550.1 553.4 565.0 543.1 571.1 540.3 574.5 539.7Z" fill="rgb(58,58,58)"/>
<path d="M591.6 397.2 595.1 397.0 598.5 397.9 605.3 402.1 609.4 406.0 614.2 412.9 624.4 421.5 628.5 426.6 629.8 431.7 628.3 436.9 624.2 440.8 617.3 443.7 612.2 444.7 607.1 444.9 596.8 442.8 589.9 439.0 584.8 432.7 582.1 426.6 581.0 421.5 581.4 409.5 583.0 404.3 584.8 401.6 588.2 398.5 590.7 397.5ZM574.5 548.3 579.6 549.8 584.9 553.4 563.0 553.4 569.4 549.4 574.1 548.3Z" fill="rgb(69,69,69)"/>
<path d="M589.9 400.1 593.4 399.2 596.8 399.5 602.9 402.6 608.2 407.8 613.9 416.3 623.5 424.9 625.5 428.3 625.9 433.5 624.1 436.9 620.8 439.5 617.3 441.0 612.2 442.1 603.6 442.0 595.1 439.5 591.6 437.5 588.2 434.3 583.7 426.6 582.3 421.5 582.0 416.3 583.3 407.8 585.0 404.3 588.4 400.9Z" fill="rgb(80,80,80)"/>
<path d="M589.9 402.2 593.4 401.3 598.5 402.1 602.3 404.3 605.8 407.8 612.2 417.7 619.6 424.9 622.0 428.3 622.7 431.7 622.3 433.5 621.3 435.2 619.1 437.2 612.2 439.4 607.1 439.7 601.9 439.2 594.9 436.9 591.6 434.8 588.6 431.7 584.6 424.9 583.1 416.3 583.7 411.2 584.8 407.8 586.5 405.0 589.3 402.6Z" fill="rgb(90,90,90)"/>
<path d="M589.9 404.3 593.4 403.2 596.8 403.5 600.2 405.0 603.6 407.8 610.5 418.9 618.0 428.3 619.0 431.7 617.3 434.2 615.6 435.3 610.5 436.6 601.9 436.6 595.1 434.4 589.9 430.5 587.1 426.6 585.5 423.2 584.3 416.3 585.6 409.5 587.8 406.0 589.9 404.3Z" fill="rgb(101,101,101)"/>
<path d="M591.6 405.5 595.1 405.0 598.5 406.0 601.9 408.5 604.1 411.2 612.7 428.3 612.8 430.0 610.5 432.4 605.3 433.8 598.5 433.2 593.4 430.9 589.0 426.6 586.4 421.5 585.6 414.6 587.1 409.5 590.5 406.0Z" fill="rgb(112,112,112)"/>
<path d="M591.6 407.3 595.1 406.8 598.1 407.8 600.5 409.5 603.2 412.9 606.1 419.8 607.4 424.9 607.1 427.5 605.3 429.5 601.9 430.6 596.8 430.0 593.4 428.2 589.9 424.9 587.3 419.8 586.8 414.6 588.2 410.4 590.9 407.8Z" fill="rgb(122,122,122)"/>
<path d="M591.6 409.3 593.4 408.7 596.8 409.1 599.8 411.2 601.1 412.9 602.8 416.3 603.8 421.5 603.2 424.9 601.9 426.4 598.5 427.3 595.1 426.5 591.6 424.1 589.9 422.0 588.3 418.0 588.1 414.6 589.5 411.2 591.3 409.5Z" fill="rgb(133,133,133)"/>
<path d="M593.4 410.6 596.8 411.2 598.7 412.9 600.2 415.5 600.9 418.0 600.5 421.5 598.5 423.6 595.1 423.6 593.4 422.7 590.7 419.8 589.9 418.0 589.6 414.6 590.3 412.9 591.9 411.2Z" fill="rgb(143,143,143)"/>
<path d="M593.4 412.9 595.1 413.0 597.0 414.6 597.7 418.0 596.8 419.7 595.1 420.1 593.4 419.3 591.6 417.0 591.5 414.6 593.3 412.9Z" fill="rgb(154,154,154)"/>
</g>
<path d="M495.7 347.8 492.9 366.6 492.4 382.1 493.0 388.9 494.3 395.8 495.9 400.9 498.2 406.0 500.8 409.3 506.0 411.9 511.1 413.1 519.7 412.9 528.2 417.0 531.7 417.6 534.9 416.3 536.4 414.6 538.8 404.3 540.2 401.2 541.9 399.3 543.7 399.0 545.4 399.7 550.5 403.3 555.6 408.2 557.6 411.2 558.5 414.6 557.0 424.9 557.0 435.2 554.7 447.2 555.0 448.9 555.6 449.6 557.4 449.9 560.8 448.5 564.2 444.7 565.9 441.5 567.9 435.2 568.5 424.9 570.7 414.6 565.9 394.3 562.5 388.1 555.9 380.3 555.5 378.6 556.8 375.2 559.9 371.8 564.2 368.9 567.6 367.4 572.8 366.3 577.9 366.2 584.8 367.2 591.6 369.2 600.2 372.8 614.7 380.3 622.5 383.8 639.6 390.2 655.0 394.8 661.9 397.5 668.8 401.1 677.3 407.2M536.8 443.7 535.1 444.8 532.1 448.9 529.4 459.2 527.5 462.6 524.8 465.3 521.4 467.3 517.9 468.4 507.5 469.5 497.4 473.9 488.8 476.7 486.8 478.0 484.0 481.4 483.3 483.2 482.9 486.6 484.2 490.0 487.1 492.2 490.5 492.7 499.1 491.3 500.8 491.6 502.5 493.1 504.9 496.9 506.9 505.4 508.6 508.9 511.6 512.3 514.5 514.4 519.7 516.6 524.8 517.9 538.5 520.3 545.4 520.4 549.8 519.1 552.9 517.4 557.0 514.0 557.4 512.3 556.4 510.6 553.9 508.8 550.5 507.6 541.9 506.7 538.8 505.4 536.9 503.7 535.4 500.3 535.8 496.9 536.8 495.0 540.0 491.7 547.1 487.1 550.5 485.7 553.9 485.1 559.1 485.5 567.9 488.3 572.8 489.3 579.6 489.6 586.5 488.8 589.9 487.4 592.6 484.9 593.4 483.2 593.6 479.7 593.1 478.0 591.6 476.0 589.7 474.6 586.5 473.4 581.4 472.7 572.8 472.9 559.1 472.2 555.3 471.2 553.9 470.2 552.1 467.7 552.1 464.3 553.7 455.7 553.7 452.3 550.4 448.9 545.3 445.5 540.2 443.4 536.8 443.7M632.8 474.4 628.6 476.3 626.5 479.7 624.6 496.9 622.5 502.9 619.1 508.0 615.6 510.5 612.2 511.3 601.9 510.5 596.8 511.0 593.4 512.3 592.4 514.0 593.3 515.7 597.7 519.1 603.6 521.3 608.8 521.3 619.1 519.9 634.5 520.0 641.3 519.1 648.2 517.0 654.1 514.0 658.3 510.6 661.9 505.4 663.2 500.3 662.5 495.2 659.9 490.0 652.3 481.4 645.4 476.3 639.6 474.2 636.2 474.0 632.8 474.4M569.4 513.9 568.5 515.7 569.8 517.4 572.8 519.3 574.5 519.6 576.8 519.1 579.6 517.4 581.1 515.7 580.5 514.0 576.2 513.0 571.1 513.3ZM471.7 403.6 492.2 419.6 505.1 431.7 512.8 437.4 516.2 442.0 517.2 447.2 516.3 452.3 514.5 455.4 511.1 458.4 507.7 460.0 502.5 461.3 497.4 461.8 482.0 461.6 471.7 462.5M491.1 553.4 528.2 542.9 560.8 531.1 567.6 529.7 574.5 529.4 581.4 529.9 588.2 531.5 620.8 544.8 634.5 549.5 648.4 553.4M589.9 385.4 593.4 385.4 598.5 386.5 603.6 388.8 610.5 393.2 616.3 397.5 631.1 409.7 643.0 416.9 647.1 421.5 649.5 426.6 650.4 433.5 649.4 438.6 646.7 443.7 643.3 447.2 637.9 450.5 633.1 452.3 613.9 456.2 608.8 456.7 603.6 456.3 596.8 454.7 589.9 452.2 586.5 450.2 583.1 447.2 580.7 443.7 579.2 440.3 575.6 424.9 576.1 414.6 575.8 406.0 576.2 402.6 578.3 395.8 581.4 390.2 584.8 387.2 589.8 385.5ZM547.6 553.4 557.3 546.6 565.7 541.4 571.1 539.2 574.5 538.6 577.9 539.3 583.1 541.7 590.5 546.6 599.6 553.4M593.4 393.9 596.8 394.3 600.2 395.6 608.8 401.5 617.5 411.2 629.9 421.5 632.6 424.9 634.2 428.3 634.8 431.7 634.3 435.2 632.8 438.6 629.5 442.0 626.8 443.7 622.5 445.5 615.6 447.4 610.5 448.2 607.1 448.2 601.9 447.5 596.8 446.1 591.6 443.8 588.2 441.3 585.7 438.6 583.1 434.3 581.2 430.0 579.8 424.9 579.3 419.8 579.5 411.2 580.3 406.0 582.4 400.9 584.8 397.7 588.2 395.2 592.0 394.0ZM480.2 434.7 482.0 434.3 485.4 435.0 492.2 439.3 502.5 444.3 504.2 445.5 505.4 447.2 505.8 448.9 504.3 450.6 500.8 450.9 497.4 450.0 485.0 443.7 480.3 440.3 479.0 438.6 478.6 436.9 479.5 435.2ZM589.9 400.5 593.4 399.7 596.8 400.0 600.2 401.3 603.6 403.6 607.7 407.8 612.2 415.1 622.8 424.9 624.8 428.3 625.4 431.7 624.5 435.2 623.2 436.9 620.8 438.9 617.3 440.4 612.2 441.6 603.6 441.5 598.5 440.3 595.1 439.0 591.6 436.9 588.2 433.7 585.7 430.0 583.4 424.9 582.6 421.5 582.2 416.3 582.6 411.2 584.3 406.0 586.5 403.0 589.2 400.9ZM593.4 404.3 595.1 404.3 598.5 405.2 602.1 407.8 604.9 411.2 608.8 418.5 614.1 426.6 615.6 430.0 615.4 431.7 613.3 433.5 610.5 434.4 603.6 435.1 596.8 433.7 591.6 430.6 589.5 428.3 587.2 424.9 585.8 421.5 585.1 418.0 585.1 414.6 585.8 411.2 588.2 407.0 589.9 405.5 593.3 404.3Z" fill="none" stroke="#000" stroke-width="0.6"/>
</g>
<circle cx="546.1" cy="383.5" r="1.25" fill="rgba(0,0,0,0.55)" stroke="#000" stroke-width="0.7"/>
<circle cx="574.5" cy="379.9" r="1.25" fill="rgba(0,0,0,0.55)" stroke="#000" stroke-width="0.7"/>
<circle cx="602.9" cy="383.5" r="1.25" fill="rgba(0,0,0,0.55)" stroke="#000" stroke-width="0.7"/>
<circle cx="520.3" cy="393.3" r="1.25" fill="rgba(0,0,0,0.55)" stroke="#000" stroke-width="0.7"/>
<circle cx="543.5" cy="399.0" r="1.25" fill="rgba(0,0,0,0.55)" stroke="#000" stroke-width="0.7"/>
<circle cx="574.5" cy="397.2" r="1.25" fill="rgba(0,0,0,0.55)" stroke="#000" stroke-width="0.7"/>
<circle cx="605.5" cy="399.0" r="1.25" fill="rgba(0,0,0,0.55)" stroke="#000" stroke-width="0.7"/>
<circle cx="627.9" cy="393.3" r="1.25" fill="rgba(0,0,0,0.55)" stroke="#000" stroke-width="0.7"/>
<circle cx="500.2" cy="408.8" r="1.25" fill="rgba(0,0,0,0.55)" stroke="#000" stroke-width="0.7"/>
<circle cx="517.7" cy="412.7" r="1.25" fill="rgba(0,0,0,0.55)" stroke="#000" stroke-width="0.7"/>
<circle cx="536.6" cy="414.5" r="1.25" fill="rgba(0,0,0,0.55)" stroke="#000" stroke-width="0.7"/>
<circle cx="555.7" cy="414.7" r="1.25" fill="rgba(0,0,0,0.55)" stroke="#000" stroke-width="0.7"/>
<circle cx="574.5" cy="414.7" r="1.25" fill="rgba(0,0,0,0.55)" stroke="#000" stroke-width="0.7"/>
<circle cx="592.6" cy="414.7" r="1.25" fill="rgba(0,0,0,0.55)" stroke="#000" stroke-width="0.7"/>
<circle cx="611.9" cy="414.7" r="1.25" fill="rgba(0,0,0,0.55)" stroke="#000" stroke-width="0.7"/>
<circle cx="630.7" cy="412.7" r="1.25" fill="rgba(0,0,0,0.55)" stroke="#000" stroke-width="0.7"/>
<circle cx="648.8" cy="408.8" r="1.25" fill="rgba(0,0,0,0.55)" stroke="#000" stroke-width="0.7"/>
<circle cx="486.8" cy="428.9" r="1.25" fill="rgba(0,0,0,0.55)" stroke="#000" stroke-width="0.7"/>
<circle cx="507.4" cy="430.7" r="1.25" fill="rgba(0,0,0,0.55)" stroke="#000" stroke-width="0.7"/>
<circle cx="530.1" cy="432.3" r="1.25" fill="rgba(0,0,0,0.55)" stroke="#000" stroke-width="0.7"/>
<circle cx="552.1" cy="432.5" r="1.25" fill="rgba(0,0,0,0.55)" stroke="#000" stroke-width="0.7"/>
<circle cx="574.5" cy="432.3" r="1.25" fill="rgba(0,0,0,0.55)" stroke="#000" stroke-width="0.7"/>
<circle cx="596.9" cy="432.5" r="1.25" fill="rgba(0,0,0,0.55)" stroke="#000" stroke-width="0.7"/>
<circle cx="618.4" cy="432.3" r="1.25" fill="rgba(0,0,0,0.55)" stroke="#000" stroke-width="0.7"/>
<circle cx="641.1" cy="430.7" r="1.25" fill="rgba(0,0,0,0.55)" stroke="#000" stroke-width="0.7"/>
<circle cx="661.7" cy="428.9" r="1.25" fill="rgba(0,0,0,0.55)" stroke="#000" stroke-width="0.7"/>
<circle cx="505.6" cy="449.6" r="1.25" fill="rgba(0,0,0,0.55)" stroke="#000" stroke-width="0.7"/>
<circle cx="528.1" cy="449.8" r="1.25" fill="rgba(0,0,0,0.55)" stroke="#000" stroke-width="0.7"/>
<circle cx="551.3" cy="449.8" r="1.25" fill="rgba(0,0,0,0.55)" stroke="#000" stroke-width="0.7"/>
<circle cx="574.5" cy="449.8" r="1.25" fill="rgba(0,0,0,0.55)" stroke="#000" stroke-width="0.7"/>
<circle cx="597.2" cy="449.8" r="1.25" fill="rgba(0,0,0,0.55)" stroke="#000" stroke-width="0.7"/>
<circle cx="620.2" cy="449.8" r="1.25" fill="rgba(0,0,0,0.55)" stroke="#000" stroke-width="0.7"/>
<circle cx="642.9" cy="449.8" r="1.25" fill="rgba(0,0,0,0.55)" stroke="#000" stroke-width="0.7"/>
<circle cx="486.8" cy="471.2" r="1.25" fill="rgba(0,0,0,0.55)" stroke="#000" stroke-width="0.7"/>
<circle cx="507.4" cy="469.4" r="1.25" fill="rgba(0,0,0,0.55)" stroke="#000" stroke-width="0.7"/>
<circle cx="530.1" cy="468.1" r="1.25" fill="rgba(0,0,0,0.55)" stroke="#000" stroke-width="0.7"/>
<circle cx="552.1" cy="467.6" r="1.25" fill="rgba(0,0,0,0.55)" stroke="#000" stroke-width="0.7"/>
<circle cx="574.5" cy="467.4" r="1.25" fill="rgba(0,0,0,0.55)" stroke="#000" stroke-width="0.7"/>
<circle cx="596.9" cy="467.6" r="1.25" fill="rgba(0,0,0,0.55)" stroke="#000" stroke-width="0.7"/>
<circle cx="618.4" cy="468.1" r="1.25" fill="rgba(0,0,0,0.55)" stroke="#000" stroke-width="0.7"/>
<circle cx="641.1" cy="469.4" r="1.25" fill="rgba(0,0,0,0.55)" stroke="#000" stroke-width="0.7"/>
<circle cx="661.7" cy="471.2" r="1.25" fill="rgba(0,0,0,0.55)" stroke="#000" stroke-width="0.7"/>
<circle cx="500.2" cy="491.4" r="1.25" fill="rgba(0,0,0,0.55)" stroke="#000" stroke-width="0.7"/>
<circle cx="517.7" cy="487.5" r="1.25" fill="rgba(0,0,0,0.55)" stroke="#000" stroke-width="0.7"/>
<circle cx="536.6" cy="485.7" r="1.25" fill="rgba(0,0,0,0.55)" stroke="#000" stroke-width="0.7"/>
<circle cx="555.7" cy="485.2" r="1.25" fill="rgba(0,0,0,0.55)" stroke="#000" stroke-width="0.7"/>
<circle cx="574.5" cy="485.2" r="1.25" fill="rgba(0,0,0,0.55)" stroke="#000" stroke-width="0.7"/>
<circle cx="592.6" cy="485.2" r="1.25" fill="rgba(0,0,0,0.55)" stroke="#000" stroke-width="0.7"/>
<circle cx="611.9" cy="485.7" r="1.25" fill="rgba(0,0,0,0.55)" stroke="#000" stroke-width="0.7"/>
<circle cx="630.7" cy="487.5" r="1.25" fill="rgba(0,0,0,0.55)" stroke="#000" stroke-width="0.7"/>
<circle cx="648.8" cy="491.4" r="1.25" fill="rgba(0,0,0,0.55)" stroke="#000" stroke-width="0.7"/>
<circle cx="520.3" cy="506.3" r="1.25" fill="rgba(0,0,0,0.55)" stroke="#000" stroke-width="0.7"/>
<circle cx="543.5" cy="501.2" r="1.25" fill="rgba(0,0,0,0.55)" stroke="#000" stroke-width="0.7"/>
<circle cx="574.5" cy="502.5" r="1.25" fill="rgba(0,0,0,0.55)" stroke="#000" stroke-width="0.7"/>
<circle cx="605.5" cy="501.2" r="1.25" fill="rgba(0,0,0,0.55)" stroke="#000" stroke-width="0.7"/>
<circle cx="627.9" cy="506.3" r="1.25" fill="rgba(0,0,0,0.55)" stroke="#000" stroke-width="0.7"/>
<circle cx="546.1" cy="516.4" r="1.25" fill="rgba(0,0,0,0.55)" stroke="#000" stroke-width="0.7"/>
<circle cx="574.5" cy="519.7" r="1.25" fill="rgba(0,0,0,0.55)" stroke="#000" stroke-width="0.7"/>
<circle cx="602.9" cy="516.4" r="1.25" fill="rgba(0,0,0,0.55)" stroke="#000" stroke-width="0.7"/>
<circle cx="574.5" cy="537.3" r="1.25" fill="rgba(0,0,0,0.55)" stroke="#000" stroke-width="0.7"/>
<circle cx="574.5" cy="450.6" r="96.0" fill="none" stroke="#000" stroke-width="2.1"/>
<path d="M556.9 356.0 L574.5 338.8 L592.1 356.0" fill="none" stroke="#000" stroke-width="2.1" stroke-linejoin="miter"/>
<path d="M477.8 439.8 475.3 435.5 473.7 435.4 471.4 436.1 469.0 439.8 469.4 451.7 468.1 468.7 471.0 476.2 475.3 477.5 479.3 473.9" fill="none" stroke="#000" stroke-width="2.1"/>
<path d="M671.2 439.8 673.7 435.5 675.3 435.4 677.6 436.1 680.0 439.8 679.6 451.7 680.9 468.7 678.0 476.2 673.7 477.5 669.7 473.9" fill="none" stroke="#000" stroke-width="2.1"/>
<circle cx="596.9" cy="432.5" r="10" fill="none" stroke="#fff" stroke-width="3.5"/>
<clipPath id="hc6"><circle cx="805.8" cy="450.6" r="96.0"/></clipPath>
<g clip-path="url(#hc6)"><g filter="url(#gry)">
<rect x="705.8" y="350.6" width="200.0" height="200.0" fill="rgb(0,0,0)"/>
<path d="M752.7 347.8 901.4 347.8 908.6 366.0 908.6 461.7 894.9 468.2 891.5 471.1 890.4 472.9 889.2 478.0 890.6 490.0 890.6 495.2 889.6 500.3 887.3 505.4 884.6 509.2 881.2 512.5 872.6 517.6 850.4 524.7 831.5 533.7 822.9 537.1 814.4 539.4 805.8 540.2 798.9 539.8 792.1 538.4 785.2 535.9 776.7 531.5 766.4 524.3 749.2 508.8 731.4 496.9 726.4 491.7 721.7 484.9 712.5 469.5 709.0 460.9 708.1 454.0 708.7 448.9 710.7 443.7 713.3 440.6 718.4 437.8 733.8 436.1 737.3 434.6 739.8 431.7 740.7 428.3 740.5 424.9 738.4 418.0 735.5 414.9 728.7 412.2 724.7 409.5 722.9 406.0 722.8 402.6 725.3 397.2 730.4 392.5 737.3 389.0 749.2 384.3 751.9 382.1 752.7 378.6 751.0 359.8 751.7 347.8Z" fill="rgb(16,16,16)"/>
<path d="M764.7 347.8 889.5 347.8 893.4 354.6 897.0 363.2 903.5 387.4 905.2 390.8 908.6 395.1 908.6 456.7 891.5 466.0 886.4 471.2 884.7 474.6 884.0 478.0 885.1 493.4 883.4 498.6 881.2 501.8 876.1 506.1 870.9 508.3 864.1 509.6 840.1 511.6 816.1 523.4 809.2 525.3 804.1 525.7 795.5 524.1 786.9 520.6 778.4 515.8 769.8 509.2 762.8 502.0 751.4 488.3 749.9 484.9 747.9 474.6 745.8 471.4 742.4 469.1 733.8 466.2 730.4 464.3 727.0 460.9 725.3 457.2 725.1 452.3 727.9 447.2 739.0 440.1 742.4 435.9 744.1 431.3 746.2 419.8 748.4 414.6 751.8 411.2 763.0 404.6 766.4 400.7 769.0 395.8 769.8 392.3 769.8 387.1 764.3 363.2 763.7 354.6 764.3 347.8Z" fill="rgb(27,27,27)"/>
<path d="M775.0 347.8 877.5 347.8 884.6 357.3 889.8 368.3 891.9 376.9 893.2 393.9 894.3 397.5 897.7 400.9 908.6 406.6 908.6 451.7 888.4 464.3 881.3 471.2 879.5 474.6 878.7 478.0 879.0 491.7 876.1 496.3 870.9 499.5 862.4 501.5 852.1 502.0 838.4 500.4 834.9 500.6 829.4 502.0 810.9 509.0 804.1 510.2 797.2 509.5 786.9 506.3 778.4 502.2 773.2 498.3 767.3 491.7 762.0 483.2 760.2 478.0 758.0 467.7 754.4 460.5 749.2 455.2 740.9 450.6 744.1 444.0 748.4 426.6 751.0 420.3 754.5 416.3 765.0 409.5 769.8 403.5 773.4 397.5 774.7 390.6 775.0 384.2 772.6 368.3 772.1 359.8 773.7 347.8Z" fill="rgb(37,37,37)"/>
<path d="M781.8 348.6 782.2 347.8 862.5 347.8 867.5 351.3 872.6 355.6 877.8 361.4 881.2 366.9 884.0 373.5 885.2 378.6 885.8 385.5 884.1 400.9 884.6 405.3 888.1 407.4 901.8 410.6 908.6 414.7 908.6 446.3 901.8 452.2 885.6 462.6 877.2 469.5 873.8 474.6 870.3 488.3 867.2 491.7 862.4 494.0 852.1 495.6 831.5 495.1 809.2 498.0 800.7 498.5 793.8 497.9 786.9 496.4 781.8 494.5 776.7 491.6 771.5 486.9 766.5 479.7 762.4 466.0 757.9 454.0 750.6 443.7 749.6 436.9 750.5 430.0 753.2 423.2 757.8 418.4 766.4 412.9 773.2 403.6 776.6 397.5 778.8 385.5 778.0 368.3 778.3 361.5 779.6 354.6 781.4 349.5Z" fill="rgb(48,48,48)"/>
<path d="M790.4 348.5 791.0 347.8 839.1 347.8 846.9 352.0 862.4 358.6 869.2 363.2 872.6 366.5 876.1 371.1 878.2 375.2 879.8 380.3 880.5 388.9 878.5 404.3 879.5 409.3 881.2 410.9 884.6 412.2 894.9 414.0 900.1 415.6 905.2 419.0 908.6 423.4 908.6 438.8 905.5 443.7 898.2 450.6 872.6 468.1 870.0 471.2 864.9 481.4 862.6 484.9 858.9 487.6 855.5 489.0 845.2 490.5 828.1 490.1 795.5 491.1 790.4 490.6 783.5 488.9 776.1 484.9 772.5 481.4 769.2 476.3 761.3 452.3 759.5 449.0 755.2 443.7 753.4 440.3 752.6 433.5 753.7 428.3 756.1 424.0 759.5 420.7 768.4 414.6 778.5 399.2 780.4 394.0 781.8 387.2 782.6 370.1 783.5 363.2 785.7 356.3 789.6 349.5Z" fill="rgb(58,58,58)"/>
<path d="M802.4 348.7 805.3 347.8 817.8 348.1 826.4 352.4 836.6 361.6 840.1 363.8 843.5 364.7 857.2 365.7 862.4 367.4 867.5 370.5 872.6 376.3 875.7 383.8 876.4 390.6 875.1 406.0 876.7 411.2 881.2 414.9 893.9 418.0 898.3 419.8 902.6 423.2 904.7 426.6 905.6 430.0 905.2 435.2 903.5 439.5 900.5 443.7 890.6 452.3 869.3 466.0 865.9 469.5 858.9 478.8 853.0 483.2 848.6 484.7 843.5 485.6 809.2 485.1 795.5 486.2 788.7 485.6 781.8 483.7 776.7 480.5 771.9 474.6 769.7 469.5 764.5 452.3 756.0 438.6 755.2 435.2 755.3 431.7 757.4 426.6 760.5 423.2 768.1 417.6 771.0 414.6 779.1 402.6 781.7 397.5 784.4 388.9 786.9 369.1 789.5 361.5 793.8 354.8 797.2 351.7 800.7 349.5Z" fill="rgb(69,69,69)"/>
<path d="M804.1 355.9 807.5 355.1 812.7 355.4 817.8 357.2 821.2 359.5 825.9 364.9 832.0 378.6 833.2 380.5 834.9 381.5 838.4 380.5 846.9 375.0 852.1 373.2 858.9 373.2 862.4 374.4 865.8 376.5 869.4 380.3 872.2 387.2 872.8 392.3 872.1 406.0 872.7 409.5 874.2 412.9 877.5 416.3 880.4 418.0 892.1 421.5 895.9 423.2 898.3 425.2 900.3 428.3 901.0 431.7 900.1 436.9 898.2 440.3 893.8 445.5 881.2 455.3 865.3 464.3 853.8 475.4 848.6 478.5 840.1 480.4 810.9 480.7 795.5 482.3 788.7 481.9 781.8 480.0 776.7 476.3 774.2 472.9 771.9 467.7 766.7 450.6 758.2 436.9 757.8 431.7 759.2 428.3 762.2 424.9 772.0 416.3 784.2 397.5 787.2 388.9 790.4 371.9 793.3 364.9 797.2 360.0 802.8 356.3Z" fill="rgb(80,80,80)"/>
<path d="M804.1 362.7 807.5 362.1 810.9 362.3 814.4 363.6 817.8 366.0 822.0 371.8 827.4 383.8 829.8 386.5 833.2 388.1 838.4 387.6 848.6 380.9 853.8 379.0 858.9 379.0 864.1 381.4 867.5 385.5 869.2 390.2 869.4 407.8 870.2 411.2 871.8 414.6 874.3 417.7 877.8 420.3 893.2 426.5 895.9 430.0 896.1 433.5 894.3 438.6 890.3 443.7 884.8 448.9 877.7 454.0 862.4 461.2 852.0 469.5 846.9 472.5 841.8 474.1 834.9 475.3 810.9 476.8 795.5 478.9 788.7 478.7 783.5 477.4 779.1 474.6 776.2 471.2 774.0 466.0 769.5 450.6 761.1 436.9 760.3 433.5 761.1 430.0 773.2 417.7 784.9 400.9 789.1 392.3 792.8 376.9 794.7 371.8 798.2 366.6 802.9 363.2Z" fill="rgb(90,90,90)"/>
<path d="M807.5 368.3 810.9 369.0 815.1 371.8 817.8 375.3 824.0 387.2 827.7 390.6 831.5 392.4 834.9 392.9 838.4 392.2 850.4 385.3 853.8 384.0 858.9 384.0 862.4 385.7 865.0 388.9 866.2 392.3 866.6 407.8 867.5 412.4 869.2 416.2 874.3 422.0 888.4 430.0 889.6 431.7 889.8 435.2 888.4 438.6 886.1 442.0 881.4 447.2 877.2 450.6 872.6 452.9 858.8 457.5 845.2 465.5 829.8 470.6 795.5 475.6 790.4 475.8 785.2 474.9 781.8 473.2 779.5 471.2 776.7 466.0 772.5 450.6 764.5 436.9 763.5 433.5 764.7 430.0 774.0 419.8 789.7 397.5 792.8 390.6 796.0 378.6 798.5 373.5 802.4 369.8 807.3 368.3Z" fill="rgb(101,101,101)"/>
<path d="M804.1 375.0 807.5 374.3 810.9 375.6 813.8 378.6 818.4 387.2 821.0 390.6 825.4 394.0 829.8 395.9 834.9 396.6 838.4 396.1 853.8 388.6 857.2 388.3 860.6 389.7 862.4 391.9 863.1 394.0 863.8 409.5 865.8 416.4 869.2 422.0 880.1 431.7 881.8 435.2 881.4 438.6 879.6 442.0 874.3 447.4 870.9 449.0 855.5 452.7 843.5 458.7 826.4 465.7 821.2 467.1 798.9 471.7 792.1 472.6 785.2 471.7 781.8 469.6 779.6 466.0 775.7 450.6 768.2 436.9 767.5 433.5 767.9 431.7 782.0 411.2 792.9 397.5 796.5 390.6 800.5 378.6 803.8 375.2Z" fill="rgb(112,112,112)"/>
<path d="M805.8 383.4 807.5 383.1 813.9 390.6 819.5 395.3 823.7 397.5 829.8 399.2 834.9 399.6 838.4 399.2 853.8 393.6 857.8 394.0 858.9 395.3 859.5 397.5 861.2 411.2 863.1 418.0 865.8 424.1 872.0 433.5 872.5 436.9 870.9 440.2 867.5 442.5 855.5 446.8 843.5 453.3 829.8 457.4 821.2 462.1 816.1 464.1 793.8 468.9 788.7 468.9 784.9 467.7 782.5 464.3 779.1 450.6 771.9 436.9 771.7 431.7 774.2 426.6 782.9 412.9 798.5 395.8 805.5 383.8Z" fill="rgb(122,122,122)"/>
<path d="M805.8 397.2 810.9 397.1 821.2 400.5 828.1 401.8 836.6 401.9 850.4 399.6 853.8 400.5 855.5 402.3 857.2 406.7 861.5 424.9 861.9 430.0 861.3 433.5 859.1 436.9 853.8 442.0 847.1 447.2 841.8 450.2 829.8 453.0 817.8 459.4 807.5 462.7 793.8 464.7 790.1 464.3 786.9 462.3 785.4 459.2 782.9 450.6 775.5 436.9 775.0 433.5 775.6 430.0 778.0 424.9 785.2 412.9 795.5 403.8 800.7 399.9 805.1 397.5Z" fill="rgb(133,133,133)"/>
<path d="M802.4 404.2 809.2 402.7 828.1 404.5 846.9 403.3 850.4 404.1 852.8 406.0 855.4 411.2 857.1 418.0 857.6 423.2 856.9 428.3 854.6 433.5 850.0 440.3 845.2 444.9 840.1 447.9 828.1 450.5 816.1 456.5 805.8 459.5 800.7 460.1 795.5 459.9 792.1 458.6 790.4 457.1 779.8 438.6 778.4 433.5 778.8 430.0 781.7 423.2 786.9 414.1 793.8 408.7 802.0 404.3Z" fill="rgb(143,143,143)"/>
<path d="M840.1 406.0 845.2 406.1 849.4 407.8 852.3 411.2 854.0 416.3 854.5 421.5 853.7 426.6 847.6 438.6 843.5 443.0 838.4 446.0 826.4 448.9 814.4 453.9 805.8 455.9 798.9 455.6 793.8 453.1 790.4 449.0 783.5 438.2 781.9 433.5 782.1 430.0 783.9 424.9 787.3 418.0 790.3 414.6 793.8 412.3 804.1 408.2 810.9 407.2 824.7 407.3 839.4 406.0Z" fill="rgb(154,154,154)"/>
<path d="M829.8 409.3 838.4 408.3 843.5 408.4 846.9 409.7 850.0 412.9 851.6 418.0 851.5 423.2 850.6 426.6 846.7 435.2 843.1 440.3 840.1 442.8 836.6 444.6 809.2 451.9 804.1 452.1 798.9 450.6 795.5 448.2 791.7 443.7 788.2 438.6 786.1 433.5 786.4 428.3 788.3 423.2 792.1 417.8 798.9 414.1 810.9 411.1 828.4 409.5Z" fill="rgb(165,165,165)"/>
<path d="M833.2 411.0 840.1 410.5 843.5 411.0 846.6 412.9 847.8 414.6 848.9 418.0 848.9 423.2 847.4 428.3 844.3 435.2 840.1 440.3 834.9 443.3 814.4 447.9 807.5 448.3 804.1 447.7 800.7 446.0 797.2 443.1 793.8 438.6 791.5 433.5 791.2 430.0 792.7 424.9 795.3 421.5 797.2 420.0 804.1 417.0 812.7 414.3 831.8 411.2Z" fill="rgb(175,175,175)"/>
<path d="M836.6 412.9 840.1 412.9 843.5 414.0 845.2 415.8 846.1 418.0 846.0 424.9 842.0 435.2 838.4 439.3 833.6 442.0 828.1 443.5 817.8 445.0 809.2 444.4 805.8 443.1 802.4 440.4 799.9 436.9 798.7 433.5 798.4 430.0 799.6 426.6 804.8 421.5 812.7 417.6 836.3 412.9Z" fill="rgb(186,186,186)"/>
<path d="M829.8 416.0 836.6 415.4 840.8 416.3 842.6 418.0 843.3 419.8 843.6 423.2 841.5 431.7 838.4 436.9 833.6 440.3 828.1 442.0 817.8 442.6 810.9 440.7 806.9 436.9 805.8 431.7 806.8 426.6 809.7 423.2 812.0 421.5 817.8 418.8 828.2 416.3Z" fill="rgb(197,197,197)"/>
<path d="M833.2 418.0 838.4 419.3 840.2 421.5 840.7 426.6 839.4 431.7 837.4 435.2 833.4 438.6 829.8 440.0 824.7 440.8 817.8 440.0 814.5 438.6 812.7 437.1 810.8 433.5 811.0 428.3 813.1 424.9 817.9 421.5 824.7 419.3 832.7 418.0Z" fill="rgb(207,207,207)"/>
<path d="M824.7 421.5 829.8 420.6 833.2 420.8 836.6 422.7 837.8 424.9 838.0 428.3 836.3 433.5 833.2 436.7 829.8 438.4 826.4 439.0 821.2 438.5 817.6 436.9 814.9 433.5 814.6 430.0 816.1 426.6 819.5 423.6 824.6 421.5Z" fill="rgb(218,218,218)"/>
<path d="M828.1 423.2 831.5 423.5 833.2 424.3 834.9 426.4 835.3 428.3 834.8 431.7 833.8 433.5 831.5 435.7 828.1 437.0 824.7 437.1 821.2 435.8 818.9 433.5 818.3 431.7 818.9 428.3 820.2 426.6 822.9 424.6 828.0 423.2Z" fill="rgb(228,228,228)"/>
<path d="M826.4 426.3 830.4 426.6 832.0 428.3 832.4 430.0 830.9 433.5 828.1 435.0 824.7 434.5 823.1 433.5 822.1 431.7 822.2 430.0 823.0 428.3 825.5 426.6Z" fill="rgb(239,239,239)"/>
</g>
<path d="M869.2 347.8 874.3 352.5 879.5 358.5 882.9 363.9 885.7 370.1 887.2 375.2 888.2 382.1 888.3 387.2 887.4 399.2 888.2 402.6 890.1 404.3 901.8 407.9 908.6 411.6M908.6 448.6 901.6 454.0 887.7 462.6 879.5 469.5 876.9 472.9 875.6 476.3 874.6 486.6 873.7 490.0 870.9 493.5 865.8 496.2 860.6 497.4 853.8 498.0 838.4 497.0 833.2 497.1 809.2 502.0 802.4 502.6 793.8 501.6 786.9 499.9 780.1 497.0 775.0 493.5 769.8 488.3 765.2 481.4 763.2 476.3 761.2 467.6 757.8 458.8 755.3 454.0 749.6 447.2 748.3 443.7 748.1 440.3 748.5 435.2 749.8 428.3 750.9 424.9 752.7 421.7 756.1 418.0 764.3 412.9 766.4 411.2 773.2 401.7 775.4 397.5 776.9 390.6 777.4 383.8 776.0 368.3 775.9 361.5 776.8 354.6 778.8 347.8M802.4 358.0 805.8 356.8 810.9 356.6 816.1 358.1 819.5 360.1 822.7 363.2 825.2 366.6 831.5 381.3 833.2 383.0 834.9 383.6 838.4 382.4 846.9 376.6 852.1 374.6 855.5 374.2 858.9 374.5 862.4 375.6 864.6 376.9 867.5 379.5 869.2 381.8 871.5 387.2 872.2 394.0 871.5 406.0 872.1 409.5 873.5 412.9 876.1 416.0 879.5 418.3 894.9 423.6 896.8 424.9 899.3 428.3 900.1 431.7 899.1 436.9 896.6 441.2 892.8 445.5 886.8 450.6 881.2 454.6 867.5 462.0 863.9 464.3 853.8 473.9 850.4 476.3 845.2 478.4 840.1 479.3 810.9 479.9 795.5 481.6 788.7 481.2 781.8 479.3 777.6 476.3 773.8 471.2 767.2 450.6 765.4 447.2 760.6 440.3 758.8 436.9 758.2 433.5 758.3 431.7 759.8 428.3 762.9 424.9 771.5 417.5 783.9 399.2 787.4 390.6 790.3 375.2 792.5 368.3 794.5 364.9 797.2 361.5 802.2 358.1ZM805.8 380.0 807.5 380.1 809.2 381.3 814.2 388.9 819.3 394.0 822.9 396.3 828.1 398.2 833.2 399.0 836.6 399.0 841.9 397.5 853.8 392.5 857.2 392.3 858.9 393.2 860.2 395.8 861.8 411.2 863.8 418.0 867.5 425.2 873.1 431.7 874.6 435.2 874.3 438.7 872.6 441.4 870.9 442.9 867.5 444.4 855.5 447.9 843.5 454.2 831.5 457.8 822.4 462.6 816.1 464.9 800.7 468.5 793.8 469.7 787.1 469.5 783.5 467.8 781.7 464.3 779.5 454.0 778.4 450.6 771.2 436.9 770.7 433.5 771.0 431.7 772.5 428.3 783.5 411.5 794.8 399.2 798.6 394.0 801.3 388.9 803.9 382.1 805.3 380.3ZM831.5 407.7 840.1 406.9 845.2 407.2 848.6 408.7 850.9 411.2 852.9 416.3 853.2 423.2 851.7 428.3 848.4 435.2 846.4 438.6 843.5 441.8 838.4 445.1 834.9 446.3 826.4 448.2 814.4 452.6 807.5 454.2 800.7 454.1 795.5 451.9 792.1 448.5 786.4 440.3 783.9 435.2 783.4 431.7 784.6 426.6 786.8 421.5 788.8 418.0 792.1 414.9 795.5 413.0 800.7 411.0 810.9 408.8 822.9 408.5 830.7 407.8ZM829.8 416.0 836.6 415.4 840.8 416.3 842.6 418.0 843.3 419.8 843.6 423.2 843.1 426.6 841.5 431.7 838.4 436.9 833.6 440.3 828.1 442.0 822.9 442.6 817.8 442.6 814.3 442.0 810.9 440.7 808.2 438.6 806.9 436.9 806.2 435.2 805.8 431.7 806.1 428.3 806.8 426.6 809.7 423.2 812.0 421.5 817.8 418.8 828.2 416.3ZM828.1 424.8 831.5 425.6 832.7 426.6 833.5 428.3 833.6 430.0 832.2 433.5 830.1 435.2 828.1 435.8 826.4 435.9 823.4 435.2 821.3 433.5 820.6 431.7 820.6 430.0 821.2 428.4 822.9 426.6 827.5 424.9Z" fill="none" stroke="#000" stroke-width="0.6"/>
</g>
<circle cx="777.4" cy="383.5" r="1.25" fill="rgba(0,0,0,0.3)" stroke="#000" stroke-width="0.8"/>
<circle cx="805.8" cy="379.9" r="3.7" fill="#000"/>
<circle cx="834.2" cy="383.5" r="1.25" fill="rgba(0,0,0,0.3)" stroke="#000" stroke-width="0.8"/>
<circle cx="751.6" cy="393.3" r="1.25" fill="rgba(0,0,0,0.3)" stroke="#000" stroke-width="0.8"/>
<circle cx="774.8" cy="399.0" r="1.25" fill="rgba(0,0,0,0.3)" stroke="#000" stroke-width="0.8"/>
<circle cx="805.8" cy="397.2" r="3.7" fill="#000"/>
<circle cx="836.8" cy="399.0" r="3.7" fill="#000"/>
<circle cx="859.2" cy="393.3" r="3.7" fill="#000"/>
<circle cx="731.5" cy="408.8" r="1.25" fill="rgba(0,0,0,0.3)" stroke="#000" stroke-width="0.8"/>
<circle cx="749.0" cy="412.7" r="1.25" fill="rgba(0,0,0,0.3)" stroke="#000" stroke-width="0.8"/>
<circle cx="767.9" cy="414.5" r="1.25" fill="rgba(0,0,0,0.3)" stroke="#000" stroke-width="0.8"/>
<circle cx="787.0" cy="414.7" r="3.7" fill="#000"/>
<circle cx="805.8" cy="414.7" r="3.7" fill="#000"/>
<circle cx="823.9" cy="414.7" r="3.7" fill="#000"/>
<circle cx="843.2" cy="414.7" r="3.7" fill="#000"/>
<circle cx="862.0" cy="412.7" r="3.7" fill="#000"/>
<circle cx="880.1" cy="408.8" r="1.25" fill="rgba(0,0,0,0.3)" stroke="#000" stroke-width="0.8"/>
<circle cx="718.1" cy="428.9" r="1.25" fill="rgba(0,0,0,0.3)" stroke="#000" stroke-width="0.8"/>
<circle cx="738.7" cy="430.7" r="1.25" fill="rgba(0,0,0,0.3)" stroke="#000" stroke-width="0.8"/>
<circle cx="761.4" cy="432.3" r="3.7" fill="#000"/>
<circle cx="783.4" cy="432.5" r="3.7" fill="#000"/>
<circle cx="805.8" cy="432.3" r="3.7" fill="#000"/>
<circle cx="828.2" cy="432.5" r="3.7" fill="#000"/>
<circle cx="849.7" cy="432.3" r="3.7" fill="#000"/>
<circle cx="872.4" cy="430.7" r="3.7" fill="#000"/>
<circle cx="893.0" cy="428.9" r="3.7" fill="#000"/>
<circle cx="736.9" cy="449.6" r="1.25" fill="rgba(0,0,0,0.3)" stroke="#000" stroke-width="0.8"/>
<circle cx="759.4" cy="449.8" r="1.25" fill="rgba(0,0,0,0.3)" stroke="#000" stroke-width="0.8"/>
<circle cx="782.6" cy="449.8" r="3.7" fill="#000"/>
<circle cx="805.8" cy="449.8" r="3.7" fill="#000"/>
<circle cx="828.5" cy="449.8" r="3.7" fill="#000"/>
<circle cx="851.5" cy="449.8" r="3.7" fill="#000"/>
<circle cx="874.2" cy="449.8" r="3.7" fill="#000"/>
<circle cx="718.1" cy="471.2" r="1.25" fill="rgba(0,0,0,0.3)" stroke="#000" stroke-width="0.8"/>
<circle cx="738.7" cy="469.4" r="1.25" fill="rgba(0,0,0,0.3)" stroke="#000" stroke-width="0.8"/>
<circle cx="761.4" cy="468.1" r="1.25" fill="rgba(0,0,0,0.3)" stroke="#000" stroke-width="0.8"/>
<circle cx="783.4" cy="467.6" r="3.7" fill="#000"/>
<circle cx="805.8" cy="467.4" r="3.7" fill="#000"/>
<circle cx="828.2" cy="467.6" r="3.7" fill="#000"/>
<circle cx="849.7" cy="468.1" r="3.7" fill="#000"/>
<circle cx="872.4" cy="469.4" r="1.25" fill="rgba(0,0,0,0.3)" stroke="#000" stroke-width="0.8"/>
<circle cx="893.0" cy="471.2" r="1.25" fill="rgba(0,0,0,0.3)" stroke="#000" stroke-width="0.8"/>
<circle cx="731.5" cy="491.4" r="1.25" fill="rgba(0,0,0,0.3)" stroke="#000" stroke-width="0.8"/>
<circle cx="749.0" cy="487.5" r="1.25" fill="rgba(0,0,0,0.3)" stroke="#000" stroke-width="0.8"/>
<circle cx="767.9" cy="485.7" r="1.25" fill="rgba(0,0,0,0.3)" stroke="#000" stroke-width="0.8"/>
<circle cx="787.0" cy="485.2" r="1.25" fill="rgba(0,0,0,0.3)" stroke="#000" stroke-width="0.8"/>
<circle cx="805.8" cy="485.2" r="1.25" fill="rgba(0,0,0,0.3)" stroke="#000" stroke-width="0.8"/>
<circle cx="823.9" cy="485.2" r="1.25" fill="rgba(0,0,0,0.3)" stroke="#000" stroke-width="0.8"/>
<circle cx="843.2" cy="485.7" r="1.25" fill="rgba(0,0,0,0.3)" stroke="#000" stroke-width="0.8"/>
<circle cx="862.0" cy="487.5" r="1.25" fill="rgba(0,0,0,0.3)" stroke="#000" stroke-width="0.8"/>
<circle cx="880.1" cy="491.4" r="1.25" fill="rgba(0,0,0,0.3)" stroke="#000" stroke-width="0.8"/>
<circle cx="751.6" cy="506.3" r="1.25" fill="rgba(0,0,0,0.3)" stroke="#000" stroke-width="0.8"/>
<circle cx="774.8" cy="501.2" r="1.25" fill="rgba(0,0,0,0.3)" stroke="#000" stroke-width="0.8"/>
<circle cx="805.8" cy="502.5" r="1.25" fill="rgba(0,0,0,0.3)" stroke="#000" stroke-width="0.8"/>
<circle cx="836.8" cy="501.2" r="1.25" fill="rgba(0,0,0,0.3)" stroke="#000" stroke-width="0.8"/>
<circle cx="859.2" cy="506.3" r="1.25" fill="rgba(0,0,0,0.3)" stroke="#000" stroke-width="0.8"/>
<circle cx="777.4" cy="516.4" r="1.25" fill="rgba(0,0,0,0.3)" stroke="#000" stroke-width="0.8"/>
<circle cx="805.8" cy="519.7" r="1.25" fill="rgba(0,0,0,0.3)" stroke="#000" stroke-width="0.8"/>
<circle cx="834.2" cy="516.4" r="1.25" fill="rgba(0,0,0,0.3)" stroke="#000" stroke-width="0.8"/>
<circle cx="805.8" cy="537.3" r="1.25" fill="rgba(0,0,0,0.3)" stroke="#000" stroke-width="0.8"/>
<circle cx="805.8" cy="450.6" r="96.0" fill="none" stroke="#000" stroke-width="2.1"/>
<path d="M788.2 356.0 L805.8 338.8 L823.4 356.0" fill="none" stroke="#000" stroke-width="2.1" stroke-linejoin="miter"/>
<path d="M709.1 439.8 706.6 435.5 705.0 435.4 702.7 436.1 700.3 439.8 700.7 451.7 699.4 468.7 702.3 476.2 706.6 477.5 710.6 473.9" fill="none" stroke="#000" stroke-width="2.1"/>
<path d="M902.5 439.8 905.0 435.5 906.6 435.4 908.9 436.1 911.3 439.8 910.9 451.7 912.2 468.7 909.3 476.2 905.0 477.5 901.0 473.9" fill="none" stroke="#000" stroke-width="2.1"/>
<circle cx="827.2" cy="433.7" r="10" fill="none" stroke="#ff2a00" stroke-width="3.5"/>
<clipPath id="hc7"><circle cx="343.2" cy="678.9" r="96.0"/></clipPath>
<g clip-path="url(#hc7)"><g filter="url(#gry)">
<rect x="243.2" y="578.9" width="200.0" height="200.0" fill="rgb(0,0,0)"/>
<path d="M242.1 576.1 349.3 576.1 343.7 593.2 339.8 601.8 329.5 614.0 320.8 625.8 315.8 630.5 302.1 637.1 288.4 648.9 279.8 653.8 271.2 655.1 257.5 653.0 252.4 652.8 245.5 654.2 240.4 656.5 240.4 576.1ZM368.9 618.3 375.8 617.3 382.6 619.1 401.9 630.9 407.2 636.1 408.8 639.5 409.3 642.9 408.0 648.1 403.2 653.7 396.3 658.1 389.5 660.2 382.6 660.0 377.5 658.0 372.3 653.2 369.6 648.1 364.4 634.3 363.1 629.2 363.1 625.8 364.2 622.3 367.7 618.9ZM446.0 667.0 446.0 781.7 240.4 781.7 240.4 690.6 248.9 690.8 276.4 687.9 295.2 687.2 353.5 687.6 364.6 689.2 368.9 691.2 371.8 694.3 373.1 697.8 373.3 701.2 371.2 708.0 361.9 721.7 361.0 725.2 361.3 726.9 363.7 730.3 366.5 732.0 370.6 733.2 374.0 733.3 377.5 732.3 380.8 730.3 391.2 721.4 405.4 714.9 412.4 709.7 417.1 704.6 444.5 668.6Z" fill="rgb(16,16,16)"/>
<path d="M242.1 576.1 340.2 576.1 335.6 588.1 331.5 596.6 313.2 625.8 298.6 634.9 283.2 647.3 276.4 650.2 269.5 651.0 252.4 648.9 245.5 649.4 240.4 650.5 240.4 576.1ZM374.0 622.1 379.2 622.4 384.3 624.6 398.0 633.0 402.9 637.8 404.1 641.2 403.1 646.3 398.2 651.5 392.9 654.1 387.8 655.0 382.6 654.4 377.5 651.6 374.0 647.5 369.4 636.1 368.1 629.2 368.9 626.0 370.3 624.1 373.3 622.3ZM446.0 680.0 446.0 781.7 331.0 781.7 336.3 777.6 339.8 773.8 342.3 769.7 343.5 766.3 343.2 761.1 339.8 752.5 338.1 750.3 334.6 748.8 331.2 749.5 327.8 751.7 303.4 771.4 299.3 776.6 298.5 780.0 299.0 781.7 240.4 781.7 240.4 709.5 255.8 700.7 269.2 696.0 276.4 694.3 298.6 693.2 308.9 693.8 320.9 693.1 332.9 694.0 344.9 692.9 360.3 694.2 363.8 695.4 366.0 697.8 366.6 701.2 366.2 704.6 362.5 713.2 353.7 721.7 352.8 723.5 352.7 726.9 354.9 730.3 360.3 733.3 367.2 734.8 374.0 735.0 377.5 734.3 380.9 732.6 392.9 723.8 408.3 717.5 415.8 713.2 421.1 708.0 430.6 696.0 445.5 680.6Z" fill="rgb(27,27,27)"/>
<path d="M242.1 576.1 331.6 576.1 324.3 593.2 310.6 618.9 308.3 622.3 283.1 642.9 276.4 646.2 269.5 647.4 250.7 645.2 240.4 645.6 240.4 576.1ZM374.0 629.2 375.8 627.7 379.2 627.8 389.1 632.6 394.3 636.1 397.9 639.5 398.5 641.2 398.0 643.6 394.6 647.2 389.5 649.2 384.3 649.2 380.9 647.9 377.5 644.7 375.7 641.2 373.9 634.3 374.0 629.2ZM446.0 689.9 446.0 781.7 342.0 781.7 345.0 776.6 347.7 769.7 348.4 764.6 347.8 752.6 348.2 747.4 349.0 744.0 351.3 740.6 354.0 738.9 356.9 737.9 374.0 736.7 379.1 735.5 382.6 733.7 394.6 725.7 415.2 718.3 422.6 713.2 434.0 700.7 444.9 690.9Z" fill="rgb(37,37,37)"/>
<path d="M242.1 576.1 323.6 576.1 318.0 589.8 307.2 612.7 302.4 620.6 289.9 632.6 281.5 639.6 274.7 643.1 267.8 644.1 250.7 641.4 240.4 641.0 240.4 576.1ZM446.0 698.3 446.0 781.7 347.8 781.7 350.1 776.0 351.6 769.7 352.9 750.9 354.0 747.4 356.9 743.4 360.3 741.1 363.8 739.9 379.3 737.2 383.2 735.5 396.3 727.4 415.2 722.0 419.9 720.0 427.4 714.9 444.6 699.5Z" fill="rgb(48,48,48)"/>
<path d="M242.1 576.1 315.9 576.1 302.9 608.6 297.2 618.9 289.6 627.5 280.1 636.1 274.2 639.5 267.8 640.8 248.9 637.3 240.4 636.4 240.4 576.1ZM446.0 706.0 446.0 781.7 352.5 781.7 354.9 771.4 356.6 752.6 358.7 747.4 361.9 744.0 367.2 741.4 377.5 739.4 382.6 737.7 392.9 731.4 398.0 729.0 415.2 725.2 422.0 722.8 429.9 718.3 445.6 706.3Z" fill="rgb(58,58,58)"/>
<path d="M242.1 576.1 308.5 576.1 298.2 605.2 292.2 617.2 286.9 624.1 278.1 632.5 272.3 636.1 267.8 637.1 240.4 631.6 240.4 576.1ZM446.0 713.0 446.0 781.7 356.6 781.7 358.2 773.2 359.8 754.3 361.7 749.2 365.5 744.9 370.6 742.4 382.6 739.7 398.0 731.3 416.9 727.9 425.4 725.2 434.0 720.8 445.7 713.2Z" fill="rgb(69,69,69)"/>
<path d="M242.1 576.1 301.0 576.1 293.0 601.8 286.7 615.5 281.6 622.3 276.4 627.5 271.2 631.0 266.1 632.0 240.4 626.3 240.4 576.1ZM446.0 719.2 446.0 781.7 360.5 781.7 363.2 754.3 365.4 749.2 368.7 745.7 372.3 744.0 379.2 742.8 384.3 741.1 398.0 733.6 416.9 730.9 426.4 728.6 434.8 725.2 444.6 720.0Z" fill="rgb(80,80,80)"/>
<path d="M242.1 576.1 293.4 576.1 286.6 599.5 281.1 612.1 277.6 617.2 272.9 621.9 269.3 624.1 264.4 625.1 259.2 624.5 240.4 620.3 240.4 576.1ZM446.0 724.9 446.0 781.7 364.4 781.7 366.4 756.0 368.3 750.9 371.3 747.4 384.3 743.5 398.0 736.3 425.5 732.5 434.0 730.0 445.5 725.2Z" fill="rgb(90,90,90)"/>
<path d="M242.1 576.1 285.1 576.1 279.8 594.9 274.4 606.9 271.2 611.0 267.8 613.9 264.4 615.4 259.2 616.0 240.4 613.1 240.4 576.1ZM446.0 730.3 446.0 781.7 368.3 781.7 369.8 757.7 371.7 752.6 374.0 750.1 386.0 745.4 399.8 738.9 425.5 736.2 435.7 733.8 445.9 730.3Z" fill="rgb(101,101,101)"/>
<path d="M242.1 576.1 275.5 576.1 270.9 589.8 265.9 598.4 262.7 601.5 259.2 603.4 250.7 604.8 240.4 604.3 240.4 576.1ZM446.0 735.4 446.0 781.7 372.4 781.7 372.9 766.3 373.8 759.4 375.8 754.8 379.2 751.8 396.3 743.6 401.5 741.9 427.2 739.8 446.0 735.5Z" fill="rgb(112,112,112)"/>
<path d="M242.1 576.1 263.0 576.1 259.1 582.9 254.1 588.0 248.9 590.7 240.4 592.6 240.4 576.1ZM439.2 742.1 446.0 740.6 446.0 781.7 376.8 781.7 377.1 769.7 377.9 762.9 380.0 757.7 384.3 753.8 394.6 748.3 401.8 745.7 408.3 744.8 427.2 743.9 438.3 742.3Z" fill="rgb(122,122,122)"/>
<path d="M437.5 747.4 446.0 746.0 446.0 781.7 381.6 781.7 382.0 771.4 383.2 764.6 385.9 759.4 391.2 755.1 398.0 751.6 404.9 749.6 436.8 747.4Z" fill="rgb(133,133,133)"/>
<path d="M439.2 752.5 446.0 751.7 446.0 781.7 387.1 781.7 387.8 773.1 389.6 766.3 392.9 761.5 398.0 757.7 403.2 755.6 409.6 754.3 438.3 752.6Z" fill="rgb(143,143,143)"/>
<path d="M423.7 759.4 446.0 757.9 446.0 781.7 393.8 781.7 394.6 776.1 396.1 771.4 398.0 768.0 401.4 764.6 404.9 762.6 410.0 760.9 423.2 759.4Z" fill="rgb(154,154,154)"/>
<path d="M430.6 766.2 446.0 764.9 446.0 781.7 402.6 781.7 405.8 774.9 410.0 770.9 417.2 768.0 429.0 766.3Z" fill="rgb(165,165,165)"/>
<path d="M435.7 774.6 446.0 773.4 446.0 781.7 416.9 781.7 423.7 777.5 434.2 774.9Z" fill="rgb(175,175,175)"/>
</g>
<path d="M366.7 576.1 364.9 584.6 364.6 593.2 365.8 598.4 367.8 601.8 369.6 603.5 372.3 605.3 384.3 610.6 389.5 614.2 397.2 620.6 406.6 625.0 410.8 627.5 414.9 630.9 423.7 641.0 427.2 643.3 430.6 644.2 434.0 644.1 439.2 643.0 446.0 640.5M343.2 625.5 339.8 627.4 333.2 634.3 328.0 637.8 319.2 641.2 308.9 643.3 305.5 644.6 291.8 659.6 286.6 664.4 281.5 668.1 278.1 669.4 272.9 669.3 267.8 668.1 259.6 665.2 255.8 665.3 254.3 666.9 254.1 668.6 255.1 670.3 257.8 672.0 260.9 672.8 272.9 673.8 281.5 672.7 295.2 675.7 308.9 676.4 319.2 678.0 331.2 676.2 343.2 678.0 355.2 676.6 365.5 678.0 370.6 677.2 372.8 675.5 372.6 673.8 365.5 665.2 362.3 660.0 360.7 654.9 360.1 646.3 359.1 642.9 351.8 634.3 347.1 627.5 344.8 625.8ZM415.2 659.9 410.0 661.5 398.0 669.3 384.7 675.5 382.0 677.2 381.2 678.9 381.5 680.6 385.0 689.2 386.6 694.3 388.5 706.3 389.5 708.0 391.2 708.7 392.9 708.7 396.3 707.8 401.5 704.2 415.2 688.0 419.9 680.6 422.3 673.8 422.5 666.9 421.4 663.5 420.3 661.8 418.6 660.5 416.9 660.0ZM375.8 718.3 372.3 720.4 370.1 723.5 369.8 725.2 370.1 726.9 372.3 729.0 374.0 729.3 376.0 728.6 377.7 726.9 379.6 723.5 380.2 720.0 379.3 718.3 377.5 717.9 375.8 718.3M359.1 576.1 356.5 586.4 355.2 594.9 354.8 605.2 355.0 608.6 355.6 610.4 356.9 611.0 375.8 612.1 380.9 613.4 386.0 616.0 396.3 623.6 406.9 629.2 412.1 634.3 414.1 637.8 415.9 642.9 416.0 646.3 415.6 648.1 413.7 651.5 412.0 653.2 399.8 662.5 396.3 664.3 391.2 666.2 386.0 667.0 382.6 666.9 377.5 665.5 374.0 663.6 370.1 660.0 366.9 654.9 363.7 642.9 358.1 632.6 356.8 629.2 353.6 613.8 351.8 613.2 350.1 613.4 343.2 615.4 338.1 618.1 334.6 621.0 326.1 630.2 320.5 634.3 315.8 636.6 307.2 639.3 303.3 641.2 290.1 654.0 283.2 658.5 278.1 660.4 272.9 660.8 267.8 660.2 255.8 657.3 250.8 658.3 247.6 660.0 243.9 663.5 241.4 668.6 241.3 672.0 241.7 673.8 244.1 677.2 247.2 679.2 250.7 680.5 259.2 681.7 272.9 681.9 286.6 680.9 307.2 681.6 319.2 682.6 331.2 682.1 343.2 682.6 355.2 682.1 362.1 682.9 370.6 684.9 374.0 686.7 376.7 689.2 378.8 692.6 380.2 697.8 380.1 702.9 378.5 708.0 376.1 711.5 368.9 718.8 366.3 723.5 366.4 726.9 367.5 728.6 370.6 730.7 374.0 731.3 377.0 730.3 379.3 728.6 387.8 718.7 391.2 716.5 399.8 712.9 404.2 709.7 407.7 706.3 420.3 690.0 425.5 682.3 429.1 675.5 433.9 661.8 435.7 658.5 439.8 654.9 446.0 651.1M349.7 576.1 344.2 593.2 340.4 601.8 338.0 605.2 329.5 614.5 321.1 625.8 315.8 630.7 302.1 637.3 298.6 639.8 288.4 649.1 283.2 652.5 279.8 654.0 274.7 655.2 271.2 655.3 257.5 653.1 252.4 653.0 245.5 654.4 240.4 656.8M240.4 690.1 248.9 690.4 278.1 687.6 296.9 687.0 317.5 687.5 353.5 687.4 360.3 688.0 365.3 689.2 368.9 690.9 372.1 694.3 373.3 697.8 373.5 701.2 372.9 704.6 371.5 708.0 362.2 721.7 361.3 725.2 361.5 726.9 362.3 728.6 363.9 730.3 366.8 732.0 370.6 733.1 374.0 733.2 377.5 732.3 380.7 730.3 387.8 723.7 391.2 721.2 405.1 714.9 412.1 709.7 416.8 704.6 440.9 672.5 446.0 666.3M374.0 617.1 379.2 617.6 382.6 618.9 401.5 630.4 406.2 634.3 409.0 639.5 409.6 642.9 409.0 646.3 407.2 649.8 404.9 652.4 401.5 655.3 396.3 658.3 392.9 659.7 387.8 660.6 382.6 660.2 379.2 659.1 375.8 657.1 373.5 654.9 370.2 649.8 363.7 632.6 362.7 627.5 363.2 624.1 363.8 622.3 365.0 620.6 367.2 618.9 370.6 617.6 372.9 617.2ZM342.0 576.1 336.8 589.8 332.5 598.4 322.6 613.1 316.1 624.1 312.4 628.0 300.4 634.6 286.6 646.0 281.5 649.2 278.1 650.6 274.7 651.4 269.5 651.7 255.8 649.8 250.7 649.7 245.5 650.3 240.4 651.5M240.4 704.0 255.8 697.9 271.2 693.8 276.4 692.9 298.6 691.9 310.6 692.4 320.9 691.9 332.9 692.5 344.9 691.7 360.3 692.8 364.8 694.3 366.8 696.0 368.0 699.5 367.9 702.9 366.4 708.0 363.7 713.2 356.1 721.7 355.0 725.2 355.2 726.9 355.9 728.6 357.3 730.3 362.1 733.0 368.9 734.6 374.0 734.7 377.5 733.9 380.9 732.2 389.5 725.3 392.9 723.2 406.6 717.5 414.3 713.2 419.7 708.0 428.9 696.3 446.0 677.8M323.5 781.7 329.5 779.7 334.6 776.5 338.2 773.2 341.6 768.0 342.3 764.6 340.9 759.4 338.1 754.8 336.3 753.5 334.6 752.9 331.2 753.4 326.1 756.7 319.4 762.9 313.5 769.7 311.6 773.2 311.0 776.6 311.4 778.3 312.7 780.0 316.1 781.7M372.3 621.6 377.5 621.1 382.6 622.8 398.9 632.6 402.8 636.1 404.7 639.5 405.1 641.2 404.9 644.6 403.2 648.1 401.7 649.8 396.3 653.7 391.2 655.6 387.8 656.0 384.3 655.8 379.2 654.0 374.5 649.8 371.0 642.9 368.0 634.3 367.2 630.9 367.3 627.5 367.8 625.8 368.9 623.9 370.7 622.3ZM324.8 576.1 318.4 591.5 307.7 613.8 304.8 618.9 300.3 624.1 283.2 639.1 276.4 643.1 269.5 644.6 264.4 644.3 248.9 641.9 240.4 641.7M347.0 781.7 349.7 774.9 351.0 769.7 351.6 764.6 351.8 754.3 352.6 749.2 354.0 745.7 356.9 742.4 360.2 740.6 363.8 739.5 375.8 737.8 379.2 736.9 382.6 735.4 391.2 729.7 396.3 727.0 413.5 722.0 418.7 720.0 426.3 714.9 437.5 704.3 446.0 697.0M382.6 639.3 384.3 638.5 386.0 639.4 386.2 641.2 384.3 641.6 383.5 641.2 382.5 639.5ZM306.7 576.1 298.6 600.1 293.6 612.1 288.3 620.6 283.7 625.8 278.1 631.1 272.9 634.6 269.5 635.9 267.8 636.1 262.7 635.3 248.9 631.8 240.4 630.3M357.6 781.7 359.0 773.2 360.6 754.3 362.6 749.2 365.5 745.7 368.0 744.0 370.6 742.9 379.2 741.3 382.6 740.2 387.8 737.6 394.6 733.3 398.0 731.9 416.9 728.6 425.5 726.1 434.4 721.7 446.0 714.5M288.2 576.1 283.5 593.2 279.8 603.5 276.2 610.4 271.2 616.1 266.1 618.9 260.9 619.5 255.8 619.0 240.4 615.9M366.9 781.7 368.4 757.7 370.0 752.6 372.8 749.2 375.8 747.7 386.0 744.4 396.3 739.0 399.8 737.7 425.5 734.9 435.7 732.2 446.0 728.4" fill="none" stroke="#000" stroke-width="0.6"/>
</g>
<circle cx="314.8" cy="611.8" r="1.25" fill="rgba(0,0,0,0.3)" stroke="#000" stroke-width="0.8"/>
<circle cx="343.2" cy="608.2" r="1.25" fill="rgba(0,0,0,0.3)" stroke="#000" stroke-width="0.8"/>
<circle cx="371.6" cy="611.8" r="1.25" fill="rgba(0,0,0,0.3)" stroke="#000" stroke-width="0.8"/>
<circle cx="289.0" cy="621.6" r="1.25" fill="rgba(0,0,0,0.3)" stroke="#000" stroke-width="0.8"/>
<circle cx="312.2" cy="627.3" r="1.25" fill="rgba(0,0,0,0.3)" stroke="#000" stroke-width="0.8"/>
<circle cx="343.2" cy="625.5" r="1.25" fill="rgba(0,0,0,0.3)" stroke="#000" stroke-width="0.8"/>
<circle cx="374.2" cy="627.3" r="1.25" fill="rgba(0,0,0,0.3)" stroke="#000" stroke-width="0.8"/>
<circle cx="396.6" cy="621.6" r="1.25" fill="rgba(0,0,0,0.3)" stroke="#000" stroke-width="0.8"/>
<circle cx="268.9" cy="637.1" r="1.25" fill="rgba(0,0,0,0.3)" stroke="#000" stroke-width="0.8"/>
<circle cx="286.4" cy="641.0" r="1.25" fill="rgba(0,0,0,0.3)" stroke="#000" stroke-width="0.8"/>
<circle cx="305.3" cy="642.8" r="1.25" fill="rgba(0,0,0,0.3)" stroke="#000" stroke-width="0.8"/>
<circle cx="324.4" cy="643.0" r="1.25" fill="rgba(0,0,0,0.3)" stroke="#000" stroke-width="0.8"/>
<circle cx="343.2" cy="643.0" r="1.25" fill="rgba(0,0,0,0.3)" stroke="#000" stroke-width="0.8"/>
<circle cx="361.3" cy="643.0" r="1.25" fill="rgba(0,0,0,0.3)" stroke="#000" stroke-width="0.8"/>
<circle cx="380.6" cy="643.0" r="1.25" fill="rgba(0,0,0,0.3)" stroke="#000" stroke-width="0.8"/>
<circle cx="399.4" cy="641.0" r="1.25" fill="rgba(0,0,0,0.3)" stroke="#000" stroke-width="0.8"/>
<circle cx="417.5" cy="637.1" r="1.25" fill="rgba(0,0,0,0.3)" stroke="#000" stroke-width="0.8"/>
<circle cx="255.5" cy="657.2" r="1.25" fill="rgba(0,0,0,0.3)" stroke="#000" stroke-width="0.8"/>
<circle cx="276.1" cy="659.0" r="1.25" fill="rgba(0,0,0,0.3)" stroke="#000" stroke-width="0.8"/>
<circle cx="298.8" cy="660.6" r="1.25" fill="rgba(0,0,0,0.3)" stroke="#000" stroke-width="0.8"/>
<circle cx="320.8" cy="660.8" r="1.25" fill="rgba(0,0,0,0.3)" stroke="#000" stroke-width="0.8"/>
<circle cx="343.2" cy="660.6" r="1.25" fill="rgba(0,0,0,0.3)" stroke="#000" stroke-width="0.8"/>
<circle cx="365.6" cy="660.8" r="1.25" fill="rgba(0,0,0,0.3)" stroke="#000" stroke-width="0.8"/>
<circle cx="387.1" cy="660.6" r="1.25" fill="rgba(0,0,0,0.3)" stroke="#000" stroke-width="0.8"/>
<circle cx="409.8" cy="659.0" r="1.25" fill="rgba(0,0,0,0.3)" stroke="#000" stroke-width="0.8"/>
<circle cx="430.4" cy="657.2" r="1.25" fill="rgba(0,0,0,0.3)" stroke="#000" stroke-width="0.8"/>
<circle cx="274.3" cy="677.9" r="1.25" fill="rgba(0,0,0,0.3)" stroke="#000" stroke-width="0.8"/>
<circle cx="296.8" cy="678.1" r="1.25" fill="rgba(0,0,0,0.3)" stroke="#000" stroke-width="0.8"/>
<circle cx="320.0" cy="678.1" r="1.25" fill="rgba(0,0,0,0.3)" stroke="#000" stroke-width="0.8"/>
<circle cx="343.2" cy="678.1" r="1.25" fill="rgba(0,0,0,0.3)" stroke="#000" stroke-width="0.8"/>
<circle cx="365.9" cy="678.1" r="1.25" fill="rgba(0,0,0,0.3)" stroke="#000" stroke-width="0.8"/>
<circle cx="388.9" cy="678.1" r="1.25" fill="rgba(0,0,0,0.3)" stroke="#000" stroke-width="0.8"/>
<circle cx="411.6" cy="678.1" r="1.25" fill="rgba(0,0,0,0.3)" stroke="#000" stroke-width="0.8"/>
<circle cx="255.5" cy="699.5" r="1.25" fill="rgba(0,0,0,0.3)" stroke="#000" stroke-width="0.8"/>
<circle cx="276.1" cy="697.7" r="1.25" fill="rgba(0,0,0,0.3)" stroke="#000" stroke-width="0.8"/>
<circle cx="298.8" cy="696.4" r="1.25" fill="rgba(0,0,0,0.3)" stroke="#000" stroke-width="0.8"/>
<circle cx="320.8" cy="695.9" r="1.25" fill="rgba(0,0,0,0.3)" stroke="#000" stroke-width="0.8"/>
<circle cx="343.2" cy="695.7" r="1.25" fill="rgba(0,0,0,0.3)" stroke="#000" stroke-width="0.8"/>
<circle cx="365.6" cy="695.9" r="1.25" fill="rgba(0,0,0,0.3)" stroke="#000" stroke-width="0.8"/>
<circle cx="387.1" cy="696.4" r="1.25" fill="rgba(0,0,0,0.3)" stroke="#000" stroke-width="0.8"/>
<circle cx="409.8" cy="697.7" r="1.25" fill="rgba(0,0,0,0.3)" stroke="#000" stroke-width="0.8"/>
<circle cx="430.4" cy="699.5" r="1.25" fill="rgba(0,0,0,0.3)" stroke="#000" stroke-width="0.8"/>
<circle cx="268.9" cy="719.7" r="1.25" fill="rgba(0,0,0,0.3)" stroke="#000" stroke-width="0.8"/>
<circle cx="286.4" cy="715.8" r="1.25" fill="rgba(0,0,0,0.3)" stroke="#000" stroke-width="0.8"/>
<circle cx="305.3" cy="714.0" r="1.25" fill="rgba(0,0,0,0.3)" stroke="#000" stroke-width="0.8"/>
<circle cx="324.4" cy="713.5" r="1.25" fill="rgba(0,0,0,0.3)" stroke="#000" stroke-width="0.8"/>
<circle cx="343.2" cy="713.5" r="1.25" fill="rgba(0,0,0,0.3)" stroke="#000" stroke-width="0.8"/>
<circle cx="361.3" cy="713.5" r="1.25" fill="rgba(0,0,0,0.3)" stroke="#000" stroke-width="0.8"/>
<circle cx="380.6" cy="714.0" r="1.25" fill="rgba(0,0,0,0.3)" stroke="#000" stroke-width="0.8"/>
<circle cx="399.4" cy="715.8" r="1.25" fill="rgba(0,0,0,0.3)" stroke="#000" stroke-width="0.8"/>
<circle cx="417.5" cy="719.7" r="1.25" fill="rgba(0,0,0,0.3)" stroke="#000" stroke-width="0.8"/>
<circle cx="289.0" cy="734.6" r="1.25" fill="rgba(0,0,0,0.3)" stroke="#000" stroke-width="0.8"/>
<circle cx="312.2" cy="729.5" r="1.25" fill="rgba(0,0,0,0.3)" stroke="#000" stroke-width="0.8"/>
<circle cx="343.2" cy="730.8" r="1.25" fill="rgba(0,0,0,0.3)" stroke="#000" stroke-width="0.8"/>
<circle cx="374.2" cy="729.5" r="1.25" fill="rgba(0,0,0,0.3)" stroke="#000" stroke-width="0.8"/>
<circle cx="396.6" cy="734.6" r="3.7" fill="#000"/>
<circle cx="314.8" cy="744.7" r="1.25" fill="rgba(0,0,0,0.3)" stroke="#000" stroke-width="0.8"/>
<circle cx="343.2" cy="748.0" r="1.25" fill="rgba(0,0,0,0.3)" stroke="#000" stroke-width="0.8"/>
<circle cx="371.6" cy="744.7" r="3.7" fill="#000"/>
<circle cx="343.2" cy="765.6" r="1.25" fill="rgba(0,0,0,0.3)" stroke="#000" stroke-width="0.8"/>
<circle cx="343.2" cy="678.9" r="96.0" fill="none" stroke="#000" stroke-width="2.1"/>
<path d="M325.6 584.3 L343.2 567.1 L360.8 584.3" fill="none" stroke="#000" stroke-width="2.1" stroke-linejoin="miter"/>
<path d="M246.5 668.1 244.0 663.8 242.4 663.7 240.1 664.4 237.7 668.1 238.1 680.0 236.8 697.0 239.7 704.5 244.0 705.8 248.0 702.2" fill="none" stroke="#000" stroke-width="2.1"/>
<path d="M439.9 668.1 442.4 663.8 444.0 663.7 446.3 664.4 448.7 668.1 448.3 680.0 449.6 697.0 446.7 704.5 442.4 705.8 438.4 702.2" fill="none" stroke="#000" stroke-width="2.1"/>
<circle cx="364.6" cy="662.0" r="10" fill="none" stroke="#ff2a00" stroke-width="3.5"/>
<clipPath id="hc8"><circle cx="574.5" cy="678.9" r="96.0"/></clipPath>
<g clip-path="url(#hc8)"><g filter="url(#gry)">
<rect x="474.5" y="578.9" width="200.0" height="200.0" fill="rgb(0,0,0)"/>
<path d="M473.4 576.1 567.2 576.1 562.6 588.1 558.8 594.9 546.1 610.4 536.8 625.8 524.6 637.8 514.1 646.3 506.0 651.0 497.4 653.5 482.8 654.9 471.7 659.1 471.7 576.1ZM677.3 718.2 677.3 781.7 587.8 781.7 592.9 759.4 595.0 752.6 599.0 745.7 604.6 740.6 616.3 733.7 624.5 730.3 639.6 727.1 655.0 722.3 676.7 718.3Z" fill="rgb(16,16,16)"/>
<path d="M473.4 576.1 543.1 576.1 521.4 617.0 515.5 630.9 512.3 636.1 509.3 639.5 504.2 643.2 499.1 645.0 471.7 646.1 471.7 576.1ZM673.9 730.2 677.3 730.0 677.3 781.7 600.7 781.7 603.9 764.6 607.3 754.3 611.9 747.4 621.4 738.9 625.9 736.1 629.3 734.9 655.0 731.6 672.3 730.3Z" fill="rgb(27,27,27)"/>
<path d="M473.4 576.1 521.0 576.1 511.4 603.5 504.4 629.2 500.8 634.9 499.1 636.0 495.7 636.5 471.7 633.9 471.7 576.1ZM644.8 742.3 677.3 742.6 677.3 781.7 614.0 781.7 615.6 770.9 617.5 762.9 620.3 756.0 623.5 750.9 627.6 746.7 631.1 744.6 636.2 743.1 644.0 742.3Z" fill="rgb(37,37,37)"/>
<path d="M473.4 576.1 498.1 576.1 491.7 600.1 489.1 606.9 487.1 610.3 485.4 612.1 482.0 614.0 476.8 615.0 471.7 615.1 471.7 576.1ZM648.2 757.7 658.5 757.1 677.3 758.4 677.3 781.7 630.9 781.7 633.2 771.4 636.5 764.6 641.3 760.1 648.2 757.7Z" fill="rgb(48,48,48)"/>
</g>
<path d="M612.6 576.1 608.8 584.6 605.4 594.9 604.3 601.8 604.5 605.2 605.2 606.9 607.1 608.9 620.8 614.7 636.2 623.5 639.6 626.1 643.0 630.1 645.3 634.3 647.3 641.2 647.7 646.3 647.4 654.9 647.9 658.3 649.6 661.8 655.4 670.3 657.4 675.5 657.8 678.9 656.8 682.7 655.0 684.8 651.6 686.8 639.6 689.1 634.5 690.9 631.1 693.3 624.3 699.5 620.8 701.5 615.6 702.5 607.1 701.5 605.3 700.9 603.7 699.5 603.2 697.8 603.5 694.3 604.5 690.9 607.0 685.8 610.5 681.0 613.9 677.8 622.5 672.1 625.5 668.6 626.6 665.2 626.4 663.5 625.5 661.8 623.7 660.0 620.8 658.7 617.3 658.3 605.3 662.7 600.2 663.7 596.8 663.8 591.6 663.0 584.8 660.5 581.0 658.3 574.5 653.1 571.1 651.8 565.9 652.0 547.5 654.9 541.9 656.7 535.2 660.0 533.4 661.8 532.6 663.5 532.9 666.9 540.2 684.6 541.9 687.4 543.7 688.3 550.5 688.6 553.9 689.6 555.9 690.9 557.3 692.6 557.9 696.0 557.3 697.8 555.6 699.2 553.9 699.7 550.5 699.5 547.5 697.8 541.9 691.2 540.2 690.3 536.8 690.7 531.7 692.2 523.3 696.0 521.0 697.8 519.6 699.5 519.0 701.2 519.2 702.9 525.5 716.6 528.2 720.1 531.7 722.0 535.1 722.4 543.7 721.3 548.8 721.5 562.5 725.6 565.9 725.8 567.6 724.9 568.5 723.5 570.4 713.2 572.8 709.4 576.2 707.1 584.8 703.6 589.9 702.4 595.1 702.0 598.5 702.7 600.2 704.0 603.4 714.9 604.5 716.6 607.1 718.6 610.5 719.8 613.9 720.0 631.1 718.6 634.5 717.2 637.9 714.9 658.7 697.8 667.0 689.8 672.2 686.7 677.3 684.2M545.4 750.9 540.2 753.5 534.6 757.7 531.5 761.2 528.9 766.3 528.6 769.7 530.0 773.2 533.4 775.4 538.5 775.8 543.7 774.4 548.5 771.4 551.7 768.0 553.5 764.6 554.2 759.4 552.7 754.3 550.5 751.8 548.8 750.9 547.1 750.6ZM599.0 576.1 593.4 592.7 588.2 615.2 586.5 618.1 584.8 619.1 574.5 622.1 571.6 624.1 567.7 629.2 562.2 639.5 559.4 642.9 557.4 644.5 553.9 646.0 533.4 652.2 528.2 654.7 525.6 656.6 522.6 660.0 520.4 665.2 520.4 668.6 522.4 677.2 521.9 678.9 520.6 680.6 514.5 684.4 499.1 690.2 495.9 692.6 494.5 694.3 493.5 696.0 492.6 699.5 492.7 702.9 494.0 706.3 495.7 708.7 499.1 711.5 511.3 716.6 513.6 718.3 514.6 720.0 514.9 721.7 514.5 726.9 511.7 732.0 507.7 736.6 490.7 750.9 481.9 759.4 476.4 766.3 471.7 774.2M563.3 781.7 569.0 773.2 571.8 766.3 572.1 762.9 571.1 750.9 571.7 747.4 572.5 745.7 581.4 735.5 588.2 725.5 589.9 723.7 591.6 722.8 593.4 722.8 601.9 724.9 607.1 725.2 632.8 721.1 639.1 718.3 651.6 710.6 664.9 704.6 677.3 698.2M598.5 620.5 608.8 620.5 615.6 622.2 627.6 627.9 631.1 629.9 634.3 632.6 636.2 635.1 637.5 637.8 638.1 641.2 637.6 644.6 636.2 647.3 634.5 649.1 631.1 650.9 627.6 651.5 619.1 651.7 603.6 653.2 598.5 652.3 593.4 649.3 590.8 646.3 588.7 641.2 588.1 636.1 588.5 629.2 589.8 624.1 591.0 622.3 593.4 621.2 596.9 620.6ZM540.2 728.1 543.7 727.2 545.4 727.6 547.1 728.6 548.4 730.3 548.8 732.0 548.4 733.7 547.1 735.3 545.4 736.2 540.2 737.0 536.5 735.5 535.6 733.7 535.9 732.0 537.0 730.3 539.1 728.6ZM587.6 576.1 580.6 601.8 578.5 606.9 575.8 610.4 567.6 615.7 562.5 620.3 552.2 636.1 547.1 639.8 529.9 647.1 524.8 649.9 507.5 661.8 500.8 668.0 497.4 669.5 488.8 671.4 484.2 673.8 478.2 678.9 471.7 687.2M574.4 781.7 577.9 774.0 579.6 768.4 581.1 754.3 582.5 749.2 586.7 742.3 589.9 738.5 593.4 735.5 596.8 733.5 600.7 732.0 619.1 726.7 636.2 722.8 651.6 715.4 677.3 706.6M607.1 630.4 610.5 630.3 615.6 631.6 620.9 634.3 624.7 637.8 625.4 639.5 624.7 641.2 622.1 642.9 617.3 644.6 613.9 645.4 610.5 645.5 607.0 644.6 603.6 642.1 602.1 639.5 601.9 636.1 603.4 632.6 605.5 630.9ZM573.9 576.1 568.8 591.5 565.5 598.4 562.9 601.8 552.2 612.8 549.2 617.2 543.7 627.1 540.1 630.9 535.9 634.3 516.2 648.1 509.4 652.1 499.1 656.1 487.1 657.2 483.7 658.1 479.0 660.0 471.7 664.2M584.0 781.7 586.5 773.2 589.6 757.7 591.1 752.6 594.8 745.7 600.2 740.2 605.0 737.2 611.8 733.7 622.5 729.3 637.9 725.9 653.3 720.2 677.3 714.7M556.5 576.1 553.4 582.9 549.6 589.8 538.5 606.1 524.3 629.2 519.2 636.1 514.3 641.2 507.7 646.2 500.8 649.0 495.7 649.9 482.0 650.6 471.7 652.8M593.6 781.7 597.9 761.2 600.9 752.6 602.8 749.2 605.5 745.7 613.9 738.9 622.5 733.8 627.6 731.8 639.6 729.9 655.0 726.3 677.3 723.4" fill="none" stroke="#000" stroke-width="0.6"/>
</g>
<circle cx="546.1" cy="611.8" r="1.25" fill="rgba(0,0,0,0.3)" stroke="#000" stroke-width="0.8"/>
<circle cx="574.5" cy="608.2" r="1.25" fill="rgba(0,0,0,0.3)" stroke="#000" stroke-width="0.8"/>
<circle cx="602.9" cy="611.8" r="1.25" fill="rgba(0,0,0,0.3)" stroke="#000" stroke-width="0.8"/>
<circle cx="520.3" cy="621.6" r="1.25" fill="rgba(0,0,0,0.3)" stroke="#000" stroke-width="0.8"/>
<circle cx="543.5" cy="627.3" r="1.25" fill="rgba(0,0,0,0.3)" stroke="#000" stroke-width="0.8"/>
<circle cx="574.5" cy="625.5" r="1.25" fill="rgba(0,0,0,0.3)" stroke="#000" stroke-width="0.8"/>
<circle cx="605.5" cy="627.3" r="1.25" fill="rgba(0,0,0,0.3)" stroke="#000" stroke-width="0.8"/>
<circle cx="627.9" cy="621.6" r="1.25" fill="rgba(0,0,0,0.3)" stroke="#000" stroke-width="0.8"/>
<circle cx="500.2" cy="637.1" r="1.25" fill="rgba(0,0,0,0.3)" stroke="#000" stroke-width="0.8"/>
<circle cx="517.7" cy="641.0" r="1.25" fill="rgba(0,0,0,0.3)" stroke="#000" stroke-width="0.8"/>
<circle cx="536.6" cy="642.8" r="1.25" fill="rgba(0,0,0,0.3)" stroke="#000" stroke-width="0.8"/>
<circle cx="555.7" cy="643.0" r="1.25" fill="rgba(0,0,0,0.3)" stroke="#000" stroke-width="0.8"/>
<circle cx="574.5" cy="643.0" r="1.25" fill="rgba(0,0,0,0.3)" stroke="#000" stroke-width="0.8"/>
<circle cx="592.6" cy="643.0" r="1.25" fill="rgba(0,0,0,0.3)" stroke="#000" stroke-width="0.8"/>
<circle cx="611.9" cy="643.0" r="1.25" fill="rgba(0,0,0,0.3)" stroke="#000" stroke-width="0.8"/>
<circle cx="630.7" cy="641.0" r="1.25" fill="rgba(0,0,0,0.3)" stroke="#000" stroke-width="0.8"/>
<circle cx="648.8" cy="637.1" r="1.25" fill="rgba(0,0,0,0.3)" stroke="#000" stroke-width="0.8"/>
<circle cx="486.8" cy="657.2" r="1.25" fill="rgba(0,0,0,0.3)" stroke="#000" stroke-width="0.8"/>
<circle cx="507.4" cy="659.0" r="1.25" fill="rgba(0,0,0,0.3)" stroke="#000" stroke-width="0.8"/>
<circle cx="530.1" cy="660.6" r="1.25" fill="rgba(0,0,0,0.3)" stroke="#000" stroke-width="0.8"/>
<circle cx="552.1" cy="660.8" r="1.25" fill="rgba(0,0,0,0.3)" stroke="#000" stroke-width="0.8"/>
<circle cx="574.5" cy="660.6" r="1.25" fill="rgba(0,0,0,0.3)" stroke="#000" stroke-width="0.8"/>
<circle cx="596.9" cy="660.8" r="1.25" fill="rgba(0,0,0,0.3)" stroke="#000" stroke-width="0.8"/>
<circle cx="618.4" cy="660.6" r="1.25" fill="rgba(0,0,0,0.3)" stroke="#000" stroke-width="0.8"/>
<circle cx="641.1" cy="659.0" r="1.25" fill="rgba(0,0,0,0.3)" stroke="#000" stroke-width="0.8"/>
<circle cx="661.7" cy="657.2" r="1.25" fill="rgba(0,0,0,0.3)" stroke="#000" stroke-width="0.8"/>
<circle cx="505.6" cy="677.9" r="1.25" fill="rgba(0,0,0,0.3)" stroke="#000" stroke-width="0.8"/>
<circle cx="528.1" cy="678.1" r="1.25" fill="rgba(0,0,0,0.3)" stroke="#000" stroke-width="0.8"/>
<circle cx="551.3" cy="678.1" r="1.25" fill="rgba(0,0,0,0.3)" stroke="#000" stroke-width="0.8"/>
<circle cx="574.5" cy="678.1" r="1.25" fill="rgba(0,0,0,0.3)" stroke="#000" stroke-width="0.8"/>
<circle cx="597.2" cy="678.1" r="1.25" fill="rgba(0,0,0,0.3)" stroke="#000" stroke-width="0.8"/>
<circle cx="620.2" cy="678.1" r="1.25" fill="rgba(0,0,0,0.3)" stroke="#000" stroke-width="0.8"/>
<circle cx="642.9" cy="678.1" r="1.25" fill="rgba(0,0,0,0.3)" stroke="#000" stroke-width="0.8"/>
<circle cx="486.8" cy="699.5" r="1.25" fill="rgba(0,0,0,0.3)" stroke="#000" stroke-width="0.8"/>
<circle cx="507.4" cy="697.7" r="1.25" fill="rgba(0,0,0,0.3)" stroke="#000" stroke-width="0.8"/>
<circle cx="530.1" cy="696.4" r="1.25" fill="rgba(0,0,0,0.3)" stroke="#000" stroke-width="0.8"/>
<circle cx="552.1" cy="695.9" r="1.25" fill="rgba(0,0,0,0.3)" stroke="#000" stroke-width="0.8"/>
<circle cx="574.5" cy="695.7" r="1.25" fill="rgba(0,0,0,0.3)" stroke="#000" stroke-width="0.8"/>
<circle cx="596.9" cy="695.9" r="1.25" fill="rgba(0,0,0,0.3)" stroke="#000" stroke-width="0.8"/>
<circle cx="618.4" cy="696.4" r="1.25" fill="rgba(0,0,0,0.3)" stroke="#000" stroke-width="0.8"/>
<circle cx="641.1" cy="697.7" r="1.25" fill="rgba(0,0,0,0.3)" stroke="#000" stroke-width="0.8"/>
<circle cx="661.7" cy="699.5" r="1.25" fill="rgba(0,0,0,0.3)" stroke="#000" stroke-width="0.8"/>
<circle cx="500.2" cy="719.7" r="1.25" fill="rgba(0,0,0,0.3)" stroke="#000" stroke-width="0.8"/>
<circle cx="517.7" cy="715.8" r="1.25" fill="rgba(0,0,0,0.3)" stroke="#000" stroke-width="0.8"/>
<circle cx="536.6" cy="714.0" r="1.25" fill="rgba(0,0,0,0.3)" stroke="#000" stroke-width="0.8"/>
<circle cx="555.7" cy="713.5" r="1.25" fill="rgba(0,0,0,0.3)" stroke="#000" stroke-width="0.8"/>
<circle cx="574.5" cy="713.5" r="1.25" fill="rgba(0,0,0,0.3)" stroke="#000" stroke-width="0.8"/>
<circle cx="592.6" cy="713.5" r="1.25" fill="rgba(0,0,0,0.3)" stroke="#000" stroke-width="0.8"/>
<circle cx="611.9" cy="714.0" r="1.25" fill="rgba(0,0,0,0.3)" stroke="#000" stroke-width="0.8"/>
<circle cx="630.7" cy="715.8" r="1.25" fill="rgba(0,0,0,0.3)" stroke="#000" stroke-width="0.8"/>
<circle cx="648.8" cy="719.7" r="1.25" fill="rgba(0,0,0,0.3)" stroke="#000" stroke-width="0.8"/>
<circle cx="520.3" cy="734.6" r="1.25" fill="rgba(0,0,0,0.3)" stroke="#000" stroke-width="0.8"/>
<circle cx="543.5" cy="729.5" r="1.25" fill="rgba(0,0,0,0.3)" stroke="#000" stroke-width="0.8"/>
<circle cx="574.5" cy="730.8" r="1.25" fill="rgba(0,0,0,0.3)" stroke="#000" stroke-width="0.8"/>
<circle cx="605.5" cy="729.5" r="1.25" fill="rgba(0,0,0,0.3)" stroke="#000" stroke-width="0.8"/>
<circle cx="627.9" cy="734.6" r="1.25" fill="rgba(0,0,0,0.3)" stroke="#000" stroke-width="0.8"/>
<circle cx="546.1" cy="744.7" r="1.25" fill="rgba(0,0,0,0.3)" stroke="#000" stroke-width="0.8"/>
<circle cx="574.5" cy="748.0" r="1.25" fill="rgba(0,0,0,0.3)" stroke="#000" stroke-width="0.8"/>
<circle cx="602.9" cy="744.7" r="1.25" fill="rgba(0,0,0,0.3)" stroke="#000" stroke-width="0.8"/>
<circle cx="574.5" cy="765.6" r="1.25" fill="rgba(0,0,0,0.3)" stroke="#000" stroke-width="0.8"/>
<circle cx="574.5" cy="678.9" r="96.0" fill="none" stroke="#000" stroke-width="2.1"/>
<path d="M556.9 584.3 L574.5 567.1 L592.1 584.3" fill="none" stroke="#000" stroke-width="2.1" stroke-linejoin="miter"/>
<path d="M477.8 668.1 475.3 663.8 473.7 663.7 471.4 664.4 469.0 668.1 469.4 680.0 468.1 697.0 471.0 704.5 475.3 705.8 479.3 702.2" fill="none" stroke="#000" stroke-width="2.1"/>
<path d="M671.2 668.1 673.7 663.8 675.3 663.7 677.6 664.4 680.0 668.1 679.6 680.0 680.9 697.0 678.0 704.5 673.7 705.8 669.7 702.2" fill="none" stroke="#000" stroke-width="2.1"/>
<circle cx="595.9" cy="662.0" r="10" fill="none" stroke="#ff2a00" stroke-width="3.5"/>
<rect x="730.2" y="577.4" width="26.3" height="195.6" fill="url(#gPar)" stroke="#bbb" stroke-width="0.8"/>
<line x1="753.5" y1="623.1" x2="756.5" y2="623.1" stroke="#333" stroke-width="0.8"/>
<text x="761.5" y="629.2" font-size="17.0" fill="#262626">2</text>
<line x1="753.5" y1="683.4" x2="756.5" y2="683.4" stroke="#333" stroke-width="0.8"/>
<text x="761.5" y="689.5" font-size="17.0" fill="#262626">1</text>
<line x1="753.5" y1="743.4" x2="756.5" y2="743.4" stroke="#333" stroke-width="0.8"/>
<text x="761.5" y="749.5" font-size="17.0" fill="#262626">0</text>
<text transform="translate(792.2 675.2) rotate(-90)" font-size="18.2" text-anchor="middle" fill="#262626">Power(dB)</text>
<rect x="843.1" y="577.4" width="26.3" height="195.6" fill="url(#gGry)" stroke="#bbb" stroke-width="0.8"/>
<line x1="866.4" y1="629.2" x2="869.4" y2="629.2" stroke="#333" stroke-width="0.8"/>
<text x="875.4" y="635.3" font-size="17.0" fill="#262626">6</text>
<line x1="866.4" y1="688.1" x2="869.4" y2="688.1" stroke="#333" stroke-width="0.8"/>
<text x="875.4" y="694.2" font-size="17.0" fill="#262626">4</text>
<line x1="866.4" y1="746.2" x2="869.4" y2="746.2" stroke="#333" stroke-width="0.8"/>
<text x="875.4" y="752.3" font-size="17.0" fill="#262626">2</text>
<text transform="translate(907.3 675.2) rotate(-90)" font-size="18.6" text-anchor="middle" fill="#262626">T-statistic</text>
<rect x="1709.4" y="586.4" width="17.3" height="177.5" fill="url(#gPar)" stroke="#bbb" stroke-width="0.8"/>
<line x1="1723.7" y1="611.9" x2="1726.7" y2="611.9" stroke="#333" stroke-width="0.8"/>
<text x="1731.8" y="617.7" font-size="16.0" fill="#262626">2</text>
<line x1="1723.7" y1="649.3" x2="1726.7" y2="649.3" stroke="#333" stroke-width="0.8"/>
<text x="1731.8" y="655.1" font-size="16.0" fill="#262626">0</text>
<line x1="1723.7" y1="686.6" x2="1726.7" y2="686.6" stroke="#333" stroke-width="0.8"/>
<text x="1731.8" y="692.4" font-size="16.0" fill="#262626">-2</text>
<line x1="1723.7" y1="725.2" x2="1726.7" y2="725.2" stroke="#333" stroke-width="0.8"/>
<text x="1731.8" y="731.0" font-size="16.0" fill="#262626">-4</text>
<line x1="1723.7" y1="762.5" x2="1726.7" y2="762.5" stroke="#333" stroke-width="0.8"/>
<text x="1731.8" y="768.3" font-size="16.0" fill="#262626">-6</text>
<text transform="translate(1768.0 675.1) rotate(-90)" font-size="16.0" text-anchor="middle" fill="#262626">Power(dB)</text>
<rect x="1806.6" y="586.4" width="18.4" height="177.5" fill="url(#gGry)" stroke="#bbb" stroke-width="0.8"/>
<line x1="1822.0" y1="589.8" x2="1825.0" y2="589.8" stroke="#333" stroke-width="0.8"/>
<text x="1829.5" y="595.6" font-size="16.0" fill="#262626">8</text>
<line x1="1822.0" y1="622.4" x2="1825.0" y2="622.4" stroke="#333" stroke-width="0.8"/>
<text x="1829.5" y="628.2" font-size="16.0" fill="#262626">6</text>
<line x1="1822.0" y1="655.5" x2="1825.0" y2="655.5" stroke="#333" stroke-width="0.8"/>
<text x="1829.5" y="661.3" font-size="16.0" fill="#262626">4</text>
<line x1="1822.0" y1="688.9" x2="1825.0" y2="688.9" stroke="#333" stroke-width="0.8"/>
<text x="1829.5" y="694.7" font-size="16.0" fill="#262626">2</text>
<line x1="1822.0" y1="722.0" x2="1825.0" y2="722.0" stroke="#333" stroke-width="0.8"/>
<text x="1829.5" y="727.8" font-size="16.0" fill="#262626">0</text>
<line x1="1822.0" y1="755.4" x2="1825.0" y2="755.4" stroke="#333" stroke-width="0.8"/>
<text x="1829.5" y="761.2" font-size="16.0" fill="#262626">-2</text>
<text transform="translate(1865.4 675.1) rotate(-90)" font-size="16.0" text-anchor="middle" fill="#262626">T-statistic</text>
<clipPath id="sc9"><rect x="1234.0" y="112.4" width="185.6" height="191.0"/></clipPath>
<g clip-path="url(#sc9)">
<g filter="url(#parS)">
<rect x="1231.0" y="109.4" width="191.6" height="197.0" fill="rgb(4,4,4)"/>
<path d="M1231.5 108.6 1423.3 108.6 1423.3 307.2 1230.3 307.2 1230.3 108.6Z" fill="rgb(10,10,10)"/>
<path d="M1231.5 108.6 1423.3 108.6 1423.3 307.2 1230.3 307.2 1230.3 108.6Z" fill="rgb(16,16,16)"/>
<path d="M1231.5 108.6 1423.3 108.6 1423.3 307.2 1230.3 307.2 1230.3 108.6Z" fill="rgb(22,22,22)"/>
<path d="M1231.5 108.6 1423.3 108.6 1423.3 307.2 1230.3 307.2 1230.3 108.6Z" fill="rgb(29,29,29)"/>
<path d="M1231.5 108.6 1423.3 108.6 1423.3 307.2 1230.3 307.2 1230.3 108.6Z" fill="rgb(35,35,35)"/>
<path d="M1231.5 108.6 1423.3 108.6 1423.3 307.2 1230.3 307.2 1230.3 108.6Z" fill="rgb(41,41,41)"/>
<path d="M1231.5 108.6 1423.3 108.6 1423.3 307.2 1230.3 307.2 1230.3 108.6Z" fill="rgb(48,48,48)"/>
<path d="M1231.5 108.6 1423.3 108.6 1423.3 307.2 1230.3 307.2 1230.3 108.6Z" fill="rgb(54,54,54)"/>
<path d="M1231.5 108.6 1301.7 108.6 1301.9 125.3 1302.0 108.6 1423.3 108.6 1423.3 307.2 1230.3 307.2 1230.3 108.6Z" fill="rgb(61,61,61)"/>
<path d="M1231.5 108.6 1300.7 108.6 1300.7 123.6 1301.9 127.5 1302.2 108.6 1320.1 108.6 1320.1 123.6 1320.1 108.6 1423.3 108.6 1423.3 307.2 1230.3 307.2 1230.3 108.6Z" fill="rgb(67,67,67)"/>
<path d="M1231.5 108.6 1300.6 108.6 1300.7 127.3 1301.9 129.0 1302.4 108.6 1319.9 108.6 1320.1 127.1 1321.1 123.6 1321.1 108.6 1423.3 108.6 1423.3 307.2 1230.3 307.2 1230.3 108.6Z" fill="rgb(73,73,73)"/>
<path d="M1231.5 108.6 1300.5 108.6 1300.7 128.6 1301.9 130.1 1302.6 125.3 1302.6 108.6 1319.7 108.6 1320.1 128.6 1321.3 126.7 1321.4 108.6 1423.3 108.6 1423.3 307.2 1230.3 307.2 1230.3 108.6Z" fill="rgb(80,80,80)"/>
<path d="M1231.5 108.6 1300.4 108.6 1300.6 128.6 1300.7 130.2 1301.9 131.1 1302.8 125.3 1302.8 108.6 1314.0 108.6 1314.1 125.3 1315.3 125.3 1315.3 108.6 1319.5 108.6 1319.5 125.3 1320.1 129.7 1321.3 128.3 1321.5 108.6 1423.3 108.6 1423.3 307.2 1230.3 307.2 1230.3 108.6Z" fill="rgb(86,86,86)"/>
<path d="M1231.5 108.6 1300.3 108.6 1300.5 128.6 1300.7 131.3 1301.9 132.1 1303.0 125.3 1303.1 108.6 1313.9 108.6 1314.1 127.5 1315.3 127.5 1315.4 108.6 1319.3 108.6 1319.3 125.3 1320.1 130.7 1321.3 129.6 1321.4 128.6 1321.6 108.6 1423.3 108.6 1423.3 307.2 1230.3 307.2 1230.3 108.6Z" fill="rgb(92,92,92)"/>
<path d="M1231.5 108.6 1300.2 108.6 1300.4 128.6 1300.7 132.3 1301.9 133.0 1303.1 126.9 1303.2 108.6 1306.6 108.6 1306.8 126.5 1307.4 123.6 1307.4 108.6 1313.8 108.6 1314.0 128.6 1315.3 128.9 1315.6 108.6 1319.1 108.6 1319.1 125.3 1320.1 131.6 1321.3 130.7 1321.5 128.6 1321.6 108.6 1423.3 108.6 1423.3 307.2 1230.3 307.2 1230.3 108.6Z" fill="rgb(99,99,99)"/>
<path d="M1231.5 108.6 1300.1 108.6 1300.4 130.3 1300.7 133.3 1301.9 133.8 1303.2 126.9 1303.3 108.6 1306.3 108.6 1306.8 128.5 1308.0 126.0 1308.0 108.6 1313.7 108.6 1313.9 128.6 1314.1 130.0 1315.3 130.1 1315.7 108.6 1318.9 108.6 1318.9 125.3 1320.1 132.5 1321.3 131.6 1321.6 128.6 1321.7 108.6 1423.3 108.6 1423.3 307.2 1230.3 307.2 1230.3 108.6Z" fill="rgb(105,105,105)"/>
<path d="M1231.5 108.6 1300.0 108.6 1300.3 130.3 1300.7 134.2 1301.9 134.6 1303.3 128.6 1303.4 108.6 1306.0 108.6 1306.1 125.3 1306.8 129.8 1308.0 128.1 1308.1 108.6 1313.6 108.6 1313.8 128.6 1314.1 131.0 1315.3 131.1 1315.8 108.6 1318.8 108.6 1318.9 126.9 1320.1 133.3 1321.3 132.5 1321.6 130.3 1321.8 108.6 1423.3 108.6 1423.3 307.2 1230.3 307.2 1230.3 108.6Z" fill="rgb(112,112,112)"/>
<path d="M1231.5 108.6 1299.9 108.6 1300.1 130.3 1300.7 135.1 1301.9 135.4 1303.4 128.6 1303.6 108.6 1305.8 108.6 1305.8 125.3 1306.8 131.0 1308.1 128.6 1308.2 108.6 1313.5 108.6 1313.7 128.6 1314.1 131.9 1315.3 132.0 1315.9 125.3 1316.0 108.6 1318.7 108.6 1318.7 126.9 1320.1 134.0 1321.3 133.4 1321.7 130.3 1321.9 108.6 1423.3 108.6 1423.3 307.2 1230.3 307.2 1230.3 108.6Z" fill="rgb(118,118,118)"/>
<path d="M1231.5 108.6 1299.8 108.6 1300.2 131.9 1300.7 135.9 1301.9 136.1 1303.1 132.7 1303.5 128.6 1303.7 108.6 1305.5 108.6 1305.5 125.3 1306.8 132.0 1308.0 130.8 1308.1 128.6 1308.3 108.6 1313.4 108.6 1313.6 128.6 1314.1 132.7 1315.3 132.8 1316.1 125.3 1316.1 108.6 1318.6 108.6 1318.7 128.6 1320.1 134.8 1321.3 134.2 1321.7 130.3 1322.0 108.6 1423.3 108.6 1423.3 307.2 1230.3 307.2 1230.3 108.6ZM1307.5 252.1 1306.8 256.5 1306.8 262.2 1308.0 267.8 1309.2 267.0 1310.3 262.2 1310.4 257.1 1309.2 251.7 1308.0 250.7Z" fill="rgb(124,124,124)"/>
<path d="M1231.5 108.6 1299.7 108.6 1300.0 131.9 1300.7 136.7 1301.9 136.9 1303.1 133.7 1303.7 128.6 1303.8 108.6 1305.3 108.6 1305.4 126.9 1306.8 133.0 1308.0 131.8 1308.2 128.6 1308.4 108.6 1313.3 108.6 1313.5 128.6 1314.1 133.5 1315.3 133.7 1316.2 125.3 1316.2 108.6 1318.5 108.6 1318.6 128.6 1318.9 131.9 1320.1 135.5 1321.3 134.9 1321.8 130.3 1322.0 108.6 1423.3 108.6 1423.3 307.2 1230.3 307.2 1230.3 108.6ZM1307.1 245.5 1305.7 253.8 1305.7 263.8 1306.8 271.7 1308.0 274.1 1309.2 273.5 1312.4 265.5 1313.1 257.1 1311.0 248.8 1309.2 245.0 1308.0 244.1Z" fill="rgb(131,131,131)"/>
<path d="M1231.5 108.6 1299.6 108.6 1299.9 131.9 1300.7 137.6 1301.9 137.6 1303.1 134.7 1303.7 130.3 1303.9 108.6 1305.1 108.6 1305.2 126.9 1306.8 133.9 1308.0 132.8 1308.2 130.3 1308.5 108.6 1313.2 108.6 1313.5 130.3 1314.1 134.3 1315.3 134.4 1316.3 126.9 1316.3 108.6 1318.4 108.6 1318.5 128.6 1318.9 132.9 1320.1 136.2 1321.3 135.7 1321.9 130.3 1322.1 108.6 1423.3 108.6 1423.3 307.2 1230.3 307.2 1230.3 108.6ZM1306.7 240.5 1305.3 247.1 1304.6 257.1 1305.0 267.2 1306.3 275.5 1308.0 278.9 1309.2 278.2 1312.8 272.2 1314.0 268.8 1314.8 258.8 1314.1 249.7 1312.8 246.0 1309.2 239.9 1308.0 238.9 1306.8 240.2Z" fill="rgb(137,137,137)"/>
<path d="M1231.5 108.6 1299.5 108.6 1299.7 130.3 1300.7 138.4 1301.9 138.4 1302.6 137.0 1303.7 131.9 1304.0 108.6 1304.9 108.6 1305.1 128.6 1306.8 134.7 1308.0 133.7 1308.3 130.3 1308.6 108.6 1313.1 108.6 1313.4 130.3 1314.1 135.0 1315.3 135.2 1316.4 126.9 1316.5 108.6 1318.2 108.6 1318.4 128.6 1318.9 133.9 1320.1 136.9 1321.3 136.5 1321.9 131.9 1322.2 108.6 1423.3 108.6 1423.3 307.2 1230.3 307.2 1230.3 108.6ZM1306.5 235.4 1304.7 243.8 1303.7 253.8 1303.9 265.5 1305.1 275.5 1306.8 281.8 1308.0 283.1 1309.2 282.3 1314.1 275.2 1315.3 269.9 1315.8 262.2 1315.0 247.1 1314.1 242.6 1312.8 240.3 1308.0 233.9 1306.8 234.8Z" fill="rgb(143,143,143)"/>
<path d="M1231.5 108.6 1299.4 108.6 1299.6 130.3 1300.7 139.2 1302.2 138.6 1303.6 133.6 1304.1 108.6 1304.7 108.6 1304.9 128.6 1305.6 133.0 1306.8 135.6 1308.0 134.6 1308.4 130.3 1308.7 108.6 1313.0 108.6 1313.3 130.3 1314.1 135.7 1315.3 135.9 1316.7 125.3 1316.7 108.6 1318.1 108.6 1318.4 130.3 1318.9 134.9 1320.1 137.6 1321.3 137.2 1322.0 131.9 1322.3 108.6 1423.3 108.6 1423.3 307.2 1230.3 307.2 1230.3 108.6ZM1306.3 230.4 1304.0 240.5 1302.8 252.1 1302.8 263.8 1304.0 275.5 1305.6 283.0 1306.8 286.1 1308.0 287.0 1314.5 278.8 1316.0 272.2 1316.8 262.2 1316.6 252.1 1315.5 242.1 1314.1 236.7 1308.0 228.8 1306.8 229.2ZM1373.4 243.8 1372.5 252.1 1372.6 258.8 1373.5 267.0 1374.8 267.6 1374.8 267.2 1375.6 260.5 1375.6 252.1 1374.8 243.5 1373.5 243.2ZM1388.1 247.1 1387.3 255.5 1387.4 262.2 1388.1 267.6 1389.4 265.5 1390.0 255.5 1389.3 249.7 1388.1 246.8ZM1392.9 255.5 1393.0 263.7 1394.2 263.1 1394.2 255.8 1393.0 255.0Z" fill="rgb(150,150,150)"/>
<path d="M1231.5 108.6 1299.2 108.6 1299.3 128.6 1300.7 140.1 1301.9 139.9 1302.6 138.6 1303.8 133.6 1304.3 108.6 1304.6 126.9 1305.6 134.2 1306.8 136.4 1308.0 135.4 1308.2 133.6 1308.7 108.6 1312.9 108.6 1313.2 130.3 1314.1 136.4 1315.3 136.6 1316.8 126.9 1316.9 108.6 1318.0 108.6 1318.2 130.3 1318.9 135.8 1320.1 138.3 1321.3 137.9 1322.1 131.9 1322.4 108.6 1423.3 108.6 1423.3 307.2 1230.3 307.2 1230.3 108.6ZM1361.2 218.8 1360.2 224.1 1359.1 252.1 1359.8 268.8 1360.2 272.6 1361.4 275.9 1362.6 273.7 1365.0 262.1 1367.5 274.2 1368.7 275.9 1371.1 275.8 1373.5 280.3 1374.8 280.8 1377.2 275.9 1378.4 275.5 1380.8 279.2 1382.0 277.3 1384.5 269.3 1388.1 283.4 1389.3 283.4 1390.5 282.0 1391.7 282.4 1393.0 284.5 1394.2 284.7 1395.4 280.1 1397.5 258.8 1395.7 240.5 1394.2 232.2 1393.0 232.0 1391.7 233.8 1390.5 232.7 1388.1 226.5 1384.5 244.3 1380.8 229.3 1378.4 234.8 1377.2 234.0 1374.8 221.9 1373.5 220.9 1371.1 228.1 1369.9 227.2 1368.7 225.0 1367.5 227.5 1365.0 245.5 1363.8 240.0 1361.4 218.0ZM1306.3 223.8 1303.6 235.4 1301.7 250.5 1301.6 262.2 1302.9 275.5 1304.9 285.5 1307.1 290.5 1308.0 291.0 1309.2 289.8 1311.6 286.3 1314.1 284.1 1315.3 281.7 1316.9 273.8 1317.6 263.8 1317.4 252.1 1316.5 241.4 1315.3 234.4 1314.1 230.9 1310.4 227.5 1308.0 222.8 1306.8 222.7ZM1353.8 237.1 1352.9 239.6 1352.7 253.8 1352.9 260.6 1354.1 264.3 1354.6 252.1 1354.1 236.3ZM1408.5 242.1 1407.2 252.1 1407.2 267.2 1408.7 278.5 1409.9 273.8 1410.6 255.5 1410.0 246.5 1408.7 240.8ZM1400.2 243.8 1398.6 255.5 1398.4 262.2 1400.2 275.9 1401.5 276.2 1402.4 265.5 1402.4 255.5 1401.5 243.8 1400.2 243.7Z" fill="rgb(156,156,156)"/>
<path d="M1231.5 108.6 1298.9 108.6 1299.1 128.6 1300.7 140.9 1301.9 140.7 1303.1 138.4 1304.3 126.9 1305.6 135.4 1306.8 137.2 1308.0 136.2 1308.8 126.9 1308.8 108.6 1312.8 108.6 1313.1 130.3 1314.1 137.1 1315.3 137.3 1316.9 128.6 1317.2 108.6 1317.9 108.6 1318.1 130.3 1318.9 136.7 1320.1 139.0 1321.3 138.7 1322.1 133.6 1322.4 108.6 1423.3 108.6 1423.3 307.2 1230.3 307.2 1230.3 108.6ZM1361.1 187.0 1360.2 191.1 1357.8 232.2 1356.5 233.1 1354.1 197.8 1352.9 197.1 1350.7 250.5 1351.2 267.2 1352.9 277.1 1354.1 277.7 1355.5 273.8 1356.5 267.7 1357.8 268.0 1359.3 277.2 1360.2 280.3 1361.4 281.9 1365.0 278.0 1367.5 281.9 1368.7 282.9 1371.1 283.4 1373.5 286.5 1374.8 287.2 1377.2 284.9 1378.4 284.9 1380.8 287.7 1384.5 283.4 1388.1 293.2 1389.3 293.7 1390.5 293.1 1391.7 294.0 1393.0 296.6 1394.2 297.3 1397.8 284.4 1400.2 292.1 1401.5 292.7 1403.9 276.4 1405.1 272.9 1407.5 291.7 1408.7 296.6 1412.4 284.6 1414.8 289.0 1416.0 287.5 1419.5 273.8 1420.3 262.2 1419.6 250.5 1416.0 233.4 1414.8 231.2 1412.4 235.8 1408.7 220.6 1407.5 225.6 1405.1 247.0 1403.9 243.8 1401.5 225.5 1400.2 225.6 1397.8 233.8 1394.2 215.1 1393.0 214.9 1391.7 216.9 1390.5 215.4 1388.1 206.3 1384.5 224.6 1383.3 221.7 1380.8 209.6 1378.4 215.7 1377.2 214.9 1374.8 199.2 1373.5 197.0 1371.1 205.2 1368.7 199.5 1367.5 202.0 1365.0 217.3 1363.8 213.5 1361.4 185.6ZM1305.5 218.8 1302.3 233.8 1300.3 248.8 1300.1 260.5 1301.3 273.8 1304.0 287.2 1306.8 295.0 1308.0 295.3 1311.6 289.8 1314.1 287.8 1315.3 285.8 1317.4 277.2 1318.5 263.8 1318.3 250.5 1316.7 235.4 1315.3 227.5 1314.1 224.4 1311.6 223.3 1308.0 217.8 1306.8 217.4 1305.6 218.6ZM1345.4 228.8 1344.4 240.9 1344.4 258.8 1345.6 268.6 1346.8 265.6 1347.3 243.8 1346.8 233.7 1345.6 227.1Z" fill="rgb(163,163,163)"/>
<path d="M1231.5 108.6 1298.7 108.6 1298.9 130.3 1299.8 138.6 1300.7 141.8 1301.9 141.4 1303.1 139.4 1304.3 130.4 1305.6 136.4 1306.8 138.0 1308.0 137.0 1308.9 126.9 1308.9 108.6 1312.7 108.6 1313.1 131.9 1314.1 137.8 1315.3 138.0 1317.2 128.6 1317.8 108.6 1318.1 131.9 1318.9 137.6 1320.1 139.8 1321.3 139.4 1322.2 133.6 1322.5 108.6 1423.3 108.6 1423.3 248.4 1420.9 228.6 1419.7 224.1 1416.0 212.4 1414.8 210.8 1412.4 215.6 1411.2 212.8 1408.7 200.2 1407.5 205.9 1405.1 226.7 1403.9 225.0 1401.5 206.6 1400.2 206.7 1399.0 213.4 1397.8 216.7 1396.6 211.7 1394.2 187.6 1393.0 187.6 1391.7 192.0 1390.5 188.3 1388.1 155.1 1385.8 193.7 1384.5 203.6 1383.3 199.3 1380.8 175.8 1378.4 189.9 1377.2 189.0 1374.8 161.7 1373.5 157.3 1371.1 170.8 1368.7 159.7 1367.5 163.5 1365.0 188.3 1363.8 182.9 1361.4 136.7 1360.2 141.7 1357.8 198.5 1356.5 198.9 1354.1 148.2 1352.9 142.1 1350.5 202.4 1349.3 212.9 1345.6 174.3 1344.4 182.2 1342.0 215.1 1340.8 217.5 1338.3 199.0 1337.1 198.2 1335.9 219.5 1335.3 248.8 1335.4 267.2 1336.2 275.5 1337.1 277.3 1338.3 276.7 1340.8 271.5 1342.0 271.7 1344.2 277.2 1345.6 278.8 1346.8 278.1 1349.3 273.9 1352.9 281.8 1354.1 282.3 1356.5 278.5 1357.8 278.6 1360.2 284.3 1361.4 285.6 1365.0 283.6 1368.7 287.4 1371.1 288.2 1374.8 292.3 1377.2 290.9 1378.4 291.3 1380.8 294.7 1382.0 294.3 1383.3 292.5 1384.5 291.9 1385.7 294.5 1388.6 307.2 1230.3 307.2 1230.3 108.6ZM1280.1 167.0 1279.2 243.8 1280.1 260.2 1281.3 256.7 1281.6 242.1 1280.1 166.2ZM1305.0 215.4 1302.6 220.4 1299.3 237.1 1298.1 248.8 1298.0 258.8 1298.9 268.8 1301.2 282.2 1305.6 298.5 1306.8 301.8 1308.0 301.6 1311.4 293.9 1315.3 289.6 1317.2 283.9 1319.1 272.2 1319.4 255.5 1318.0 237.1 1315.3 219.7 1314.1 218.2 1311.6 218.2 1310.4 217.4 1308.0 214.8 1306.8 214.3 1305.6 214.8ZM1423.3 273.2 1423.3 307.2 1417.0 307.2 1419.7 301.1 1420.9 295.9 1423.3 273.8ZM1405.1 291.6 1407.2 307.2 1402.0 307.2 1403.9 293.7 1404.8 292.2ZM1397.8 298.4 1399.9 307.2 1395.8 307.2 1396.6 301.5 1397.6 298.9ZM1412.4 304.7 1413.4 307.2 1411.3 307.2 1412.0 305.6Z" fill="rgb(169,169,169)"/>
<path d="M1231.5 108.6 1232.7 108.6 1231.9 307.2 1230.3 307.2 1230.3 108.6ZM1235.1 108.6 1247.1 108.6 1247.0 307.2 1242.1 307.2 1241.9 242.1 1241.2 212.4 1240.0 238.5 1239.9 307.2 1236.6 307.2 1234.5 108.6ZM1250.9 108.6 1276.2 108.6 1276.6 178.7 1276.1 243.8 1277.2 263.8 1278.8 275.5 1280.1 280.1 1281.3 278.6 1282.5 269.8 1283.5 248.8 1282.8 108.6 1298.5 108.6 1298.7 131.9 1299.8 140.3 1300.7 142.8 1301.9 142.3 1303.1 140.3 1304.3 132.8 1305.6 137.5 1306.8 138.8 1308.0 137.8 1308.9 128.6 1309.0 108.6 1312.6 108.6 1313.0 131.9 1314.1 138.5 1315.3 138.7 1317.5 128.6 1317.7 108.6 1318.0 131.9 1318.9 138.4 1320.1 140.5 1321.3 140.2 1322.3 133.6 1322.7 108.6 1336.7 108.6 1334.0 247.1 1334.0 267.2 1334.7 277.5 1335.9 281.4 1337.1 282.5 1340.8 279.8 1342.0 279.7 1345.6 282.8 1349.3 280.3 1350.5 281.1 1352.9 285.0 1354.1 285.3 1356.5 282.9 1357.8 283.0 1361.4 288.6 1365.0 287.3 1368.7 291.1 1371.1 292.3 1374.8 298.1 1377.2 297.1 1378.4 298.1 1379.7 302.2 1380.3 307.2 1309.6 307.2 1310.6 300.5 1311.6 298.0 1315.3 293.4 1318.8 282.2 1320.1 272.2 1320.3 255.5 1319.3 238.8 1316.8 218.8 1315.3 215.6 1314.1 215.0 1311.6 215.3 1310.4 214.8 1306.8 211.8 1305.3 212.1 1301.9 214.9 1297.1 217.8 1295.8 226.1 1295.0 243.8 1295.1 257.1 1296.1 268.8 1297.8 277.2 1303.2 297.2 1304.7 307.2 1264.6 307.2 1265.3 242.1 1263.1 167.1 1261.9 181.5 1260.8 230.4 1261.2 307.2 1255.9 307.2 1255.6 223.8 1254.6 202.8 1252.1 214.3 1250.9 186.3 1250.9 108.6ZM1288.5 210.4 1288.0 243.8 1288.6 254.0 1289.4 245.5 1288.6 208.8ZM1339.5 108.6 1343.3 108.6 1342.0 140.0 1340.8 141.3 1338.7 108.6ZM1348.0 108.6 1351.1 108.6 1350.5 146.6 1349.3 162.5 1348.0 147.7 1347.0 108.6ZM1356.5 108.6 1358.7 108.6 1357.8 152.7 1356.5 154.1 1355.4 108.6ZM1363.8 108.6 1366.5 108.6 1365.0 144.9 1363.8 137.4 1363.1 108.6ZM1376.0 108.6 1379.2 108.6 1378.4 136.8 1377.2 140.5 1375.8 108.6ZM1383.3 108.6 1385.4 108.6 1384.5 155.1 1383.3 146.1 1382.4 108.6ZM1395.4 108.6 1423.3 108.6 1423.3 218.8 1420.9 207.2 1418.5 201.7 1416.0 191.7 1414.8 189.5 1412.4 195.2 1411.2 191.3 1408.7 167.0 1405.1 207.7 1403.8 205.4 1401.5 172.2 1400.2 169.8 1399.0 185.4 1397.8 191.7 1396.3 170.3 1395.1 108.6ZM1384.5 302.0 1385.3 307.2 1382.4 307.2 1382.8 303.9 1383.8 302.2ZM1423.3 303.2 1423.3 307.2 1422.9 307.2 1423.2 303.9Z" fill="rgb(175,175,175)"/>
<path d="M1237.6 108.6 1238.7 108.6 1238.5 172.0 1237.6 191.6 1236.8 108.6ZM1243.6 108.6 1245.3 108.6 1245.6 177.0 1244.9 224.5 1243.3 187.0 1243.2 108.6ZM1258.2 108.6 1259.1 108.6 1259.4 172.0 1258.2 206.5 1257.3 173.7 1257.4 108.6ZM1293.4 108.6 1297.9 108.6 1298.5 135.3 1298.9 138.6 1300.7 143.8 1301.9 143.1 1303.1 141.2 1304.3 134.8 1305.6 138.6 1306.8 139.6 1308.0 138.6 1309.0 128.6 1309.1 108.6 1312.4 108.6 1312.6 128.6 1314.1 139.1 1315.3 139.4 1315.6 138.6 1317.7 128.8 1318.4 137.0 1318.9 139.3 1320.1 141.2 1321.3 141.0 1322.3 135.3 1322.8 108.6 1334.4 108.6 1332.9 258.8 1333.7 278.8 1335.2 283.9 1337.1 285.7 1340.8 283.6 1342.0 283.5 1345.6 285.6 1349.3 283.8 1350.5 284.3 1352.9 287.5 1354.1 287.8 1356.5 286.0 1357.8 286.2 1361.4 291.3 1365.0 290.5 1371.3 297.2 1372.7 302.2 1372.5 307.2 1312.2 307.2 1312.7 303.9 1315.3 298.1 1319.2 285.5 1320.9 275.5 1321.1 252.1 1318.9 222.5 1317.9 217.1 1316.2 213.7 1314.1 212.5 1311.6 213.0 1310.4 212.5 1306.8 209.5 1301.9 210.1 1300.7 209.5 1298.7 207.1 1295.8 200.0 1294.6 198.7 1293.4 199.2 1292.9 197.0 1292.0 187.0 1292.0 150.3 1292.8 108.6ZM1403.9 108.6 1406.2 108.6 1406.1 155.3 1405.1 178.6 1403.9 173.8 1403.6 165.3 1403.0 108.6ZM1412.4 108.6 1414.5 108.6 1414.1 152.0 1412.4 163.6 1411.6 152.0 1411.3 108.6ZM1416.0 108.6 1423.3 108.6 1423.3 196.4 1420.9 185.5 1418.5 178.9 1416.5 165.3 1415.4 152.0 1415.1 108.6ZM1284.9 267.2 1286.1 267.9 1288.6 276.7 1289.8 275.6 1292.2 268.2 1293.4 270.8 1295.8 282.6 1300.7 298.6 1301.6 307.2 1281.7 307.2 1281.6 292.2 1284.7 268.8ZM1272.8 272.9 1276.4 280.4 1278.0 287.2 1279.5 298.9 1278.9 307.2 1269.1 307.2 1268.7 298.9 1269.3 288.9 1270.7 278.8 1272.1 273.8Z" fill="rgb(182,182,182)"/>
<path d="M1309.2 108.6 1312.3 108.6 1312.4 128.6 1314.1 139.8 1315.3 140.2 1316.0 138.6 1317.7 131.6 1318.5 138.6 1320.1 142.0 1321.3 141.8 1322.4 135.3 1323.0 108.6 1333.3 108.6 1331.8 263.8 1332.2 275.5 1333.5 282.9 1334.7 286.1 1335.9 287.8 1337.1 288.3 1340.8 286.4 1342.0 286.2 1345.6 287.9 1349.3 286.3 1350.5 286.9 1352.9 289.7 1354.1 290.1 1356.5 288.5 1357.8 288.8 1361.4 294.0 1365.0 293.7 1367.3 297.2 1369.2 302.2 1368.3 307.2 1316.1 307.2 1316.4 300.5 1320.8 283.9 1322.1 272.2 1321.9 248.8 1319.9 218.8 1318.9 214.9 1316.5 211.1 1315.3 210.3 1311.6 210.9 1310.4 210.6 1306.8 207.4 1303.1 206.7 1301.4 205.4 1298.7 198.7 1297.2 187.0 1297.7 142.0 1298.3 139.8 1298.7 142.0 1300.7 144.9 1303.1 142.2 1304.3 136.7 1305.6 139.6 1306.8 140.4 1308.0 139.4 1309.1 128.6 1309.2 108.6ZM1422.1 108.6 1423.3 108.6 1423.3 167.2 1421.8 153.6 1421.5 108.6ZM1284.9 282.0 1286.1 282.3 1288.6 290.8 1289.8 289.8 1292.2 283.7 1293.4 285.7 1295.5 297.2 1295.4 307.2 1283.4 307.2 1283.3 293.9 1284.9 282.2Z" fill="rgb(188,188,188)"/>
<path d="M1310.4 108.6 1312.2 108.6 1312.3 128.6 1313.5 138.6 1314.1 140.5 1315.3 140.9 1317.7 133.9 1318.6 140.3 1320.1 142.8 1321.3 142.7 1321.6 142.0 1322.8 133.6 1323.1 108.6 1332.4 108.6 1332.0 193.7 1330.6 265.5 1331.0 275.5 1332.1 282.2 1333.9 287.2 1335.9 290.2 1337.1 290.6 1342.0 288.5 1345.6 290.0 1349.3 288.6 1354.1 292.3 1356.5 290.9 1357.8 291.2 1361.4 297.3 1362.6 297.6 1363.8 297.0 1365.0 297.5 1366.5 302.2 1365.6 307.2 1317.7 307.2 1318.0 298.9 1321.9 283.9 1323.0 272.2 1322.8 250.5 1320.9 217.1 1319.6 212.1 1317.7 209.5 1315.3 208.1 1311.6 209.1 1310.4 208.7 1306.8 205.3 1303.1 203.5 1301.9 202.1 1299.7 195.4 1298.8 187.0 1298.9 148.6 1299.5 146.4 1300.7 146.3 1303.1 143.3 1304.3 138.4 1305.6 140.6 1306.8 141.2 1308.0 140.1 1309.3 126.9 1309.4 108.6Z" fill="rgb(194,194,194)"/>
<path d="M1310.4 108.6 1312.1 108.6 1312.3 130.3 1313.7 140.3 1314.1 141.2 1315.3 141.6 1317.7 135.9 1318.9 142.0 1320.1 143.6 1321.3 143.5 1321.9 142.0 1322.8 135.3 1323.3 108.6 1331.5 108.6 1331.0 198.6 1329.1 265.5 1329.3 273.8 1330.3 280.5 1333.4 288.9 1335.9 292.6 1337.1 292.9 1342.0 290.6 1345.6 292.0 1349.3 290.7 1354.1 294.6 1356.5 293.2 1357.8 293.6 1360.5 300.5 1360.6 303.9 1359.8 307.2 1319.3 307.2 1319.1 300.5 1323.1 282.2 1324.1 270.5 1323.4 245.5 1321.6 213.7 1320.1 208.7 1318.9 207.3 1315.3 206.0 1311.6 207.3 1310.4 206.9 1303.1 200.3 1301.2 195.4 1300.1 187.0 1300.0 150.3 1300.3 148.6 1303.1 144.4 1304.3 140.2 1305.6 141.7 1306.8 142.0 1308.2 140.3 1309.5 126.9 1309.6 108.6Z" fill="rgb(201,201,201)"/>
<path d="M1310.4 108.6 1311.9 108.6 1312.1 130.3 1313.5 140.3 1314.1 142.0 1315.3 142.4 1317.7 137.8 1318.9 143.2 1320.1 144.6 1321.3 144.5 1321.7 143.6 1323.1 135.3 1323.5 108.6 1330.5 108.6 1330.0 202.1 1328.6 238.4 1326.3 265.5 1326.7 273.8 1329.8 283.9 1333.5 291.6 1335.9 295.2 1337.1 295.4 1342.0 292.7 1345.6 294.1 1349.3 292.7 1350.5 293.3 1354.1 297.4 1356.5 295.8 1357.8 296.4 1359.3 302.2 1358.3 307.2 1320.7 307.2 1320.6 298.9 1325.5 275.5 1326.2 268.8 1322.4 212.1 1321.3 206.9 1320.1 204.6 1316.5 203.8 1311.6 205.5 1310.4 205.2 1304.4 198.7 1302.1 193.7 1301.2 187.0 1301.1 150.3 1304.3 142.0 1305.6 142.9 1306.8 142.9 1308.0 141.8 1308.4 140.3 1309.7 126.9 1309.7 108.6Z" fill="rgb(207,207,207)"/>
<path d="M1310.4 108.6 1311.8 108.6 1312.0 130.3 1313.2 140.3 1314.1 142.7 1315.3 143.2 1317.7 139.6 1318.9 144.3 1320.1 145.6 1321.3 145.6 1322.5 142.0 1323.3 135.3 1323.6 108.6 1329.5 108.6 1329.1 193.7 1327.4 229.3 1326.2 236.7 1325.0 230.7 1323.3 210.4 1321.3 201.9 1320.1 200.6 1318.9 200.7 1315.3 201.8 1311.6 203.8 1310.4 203.5 1304.3 195.5 1302.5 188.7 1302.2 150.3 1304.3 143.9 1306.8 143.8 1308.0 142.7 1308.6 140.3 1309.8 128.6 1309.9 108.6ZM1326.2 282.8 1327.4 283.6 1329.8 287.6 1335.9 298.8 1337.1 299.1 1340.4 295.5 1342.0 295.0 1345.6 296.6 1349.3 294.9 1350.5 295.6 1352.3 298.9 1352.9 302.2 1351.4 307.2 1339.4 307.2 1337.1 304.4 1335.9 304.7 1334.6 307.2 1321.8 307.2 1321.9 297.2 1323.8 288.6 1325.5 283.9ZM1356.5 299.8 1357.8 302.2 1357.3 303.9 1356.5 304.7 1356.0 303.9 1356.0 300.5Z" fill="rgb(214,214,214)"/>
<path d="M1310.4 108.6 1311.7 108.6 1311.9 131.9 1313.4 142.0 1314.1 143.5 1315.3 144.1 1317.7 141.5 1318.9 145.5 1320.1 146.8 1321.3 146.9 1323.0 142.0 1323.5 137.0 1323.9 108.6 1328.3 108.6 1328.0 188.7 1327.4 203.2 1326.2 212.8 1325.0 211.1 1322.8 200.4 1321.3 196.4 1320.1 196.1 1312.8 201.5 1311.6 202.1 1310.4 201.8 1306.0 195.4 1303.7 188.7 1303.3 150.3 1304.3 146.3 1308.0 143.6 1308.8 140.3 1310.0 128.6 1310.1 108.6ZM1325.0 288.8 1326.2 287.3 1327.4 287.7 1332.3 294.6 1334.2 300.5 1333.7 305.6 1333.1 307.2 1322.8 307.2 1322.6 298.9 1325.0 288.9ZM1340.8 298.4 1342.0 297.9 1343.2 298.4 1345.1 300.5 1345.6 302.2 1344.6 303.9 1342.0 305.9 1340.8 305.3 1339.5 302.2 1340.4 298.9ZM1348.0 298.5 1349.3 297.8 1350.5 298.9 1351.1 302.2 1350.3 305.6 1349.3 306.3 1348.0 305.6 1345.7 302.2 1347.6 298.9Z" fill="rgb(220,220,220)"/>
<path d="M1310.4 108.6 1311.1 108.6 1311.1 123.6 1312.1 137.0 1313.1 142.0 1314.1 144.4 1315.3 145.0 1317.7 143.6 1318.9 147.0 1321.3 149.1 1323.1 145.3 1324.4 133.6 1324.7 108.6 1326.7 108.6 1327.0 150.3 1326.2 195.6 1325.0 199.0 1321.3 188.4 1317.5 195.4 1311.6 200.3 1310.4 200.0 1309.2 198.7 1307.3 195.4 1305.4 190.4 1304.6 185.4 1304.6 150.3 1305.8 147.0 1308.0 144.6 1309.5 137.0 1310.3 126.9 1310.3 108.6ZM1326.2 290.8 1327.4 291.0 1329.8 293.6 1332.3 298.4 1332.7 302.2 1331.5 307.2 1323.8 307.2 1323.5 298.9 1325.2 292.2Z" fill="rgb(226,226,226)"/>
<path d="M1310.4 128.0 1311.6 132.4 1312.1 138.6 1313.3 143.6 1314.1 145.3 1315.3 146.1 1317.7 146.3 1319.0 150.3 1318.8 185.4 1317.2 192.0 1313.5 197.0 1311.6 198.4 1310.4 198.1 1308.5 195.4 1306.0 187.0 1305.8 150.3 1308.6 143.6 1309.8 137.0 1310.4 128.6ZM1326.2 294.4 1327.4 294.4 1328.6 295.5 1330.5 298.9 1331.0 302.2 1329.8 306.3 1329.2 307.2 1325.0 307.2 1324.4 300.5 1325.5 295.5Z" fill="rgb(233,233,233)"/>
<path d="M1310.4 133.1 1311.6 135.8 1312.4 142.0 1313.5 145.3 1314.1 146.4 1316.5 148.1 1317.3 150.3 1317.1 185.4 1316.0 190.4 1313.0 195.4 1311.6 196.5 1310.4 196.1 1309.2 194.5 1307.1 187.0 1306.9 150.3 1309.0 143.6 1310.4 133.6ZM1326.2 300.1 1327.4 299.6 1328.0 302.2 1327.4 304.1 1326.2 303.6 1326.1 300.5Z" fill="rgb(239,239,239)"/>
<path d="M1310.4 137.2 1311.6 138.9 1312.9 145.3 1315.5 150.3 1315.4 185.4 1314.3 190.4 1311.6 194.3 1310.4 193.9 1309.3 192.0 1308.1 187.0 1307.8 150.3 1310.3 138.6Z" fill="rgb(245,245,245)"/>
<path d="M1310.4 141.4 1311.6 142.3 1313.9 150.3 1313.7 187.0 1312.8 190.1 1311.6 191.6 1310.0 190.4 1308.9 185.4 1308.8 150.3 1310.3 142.0Z" fill="rgb(252,252,252)"/>
</g>
</g>
<line x1="1234.0" y1="303.1" x2="1419.6" y2="303.1" stroke="#5a6e50" stroke-width="0.9"/>
<line x1="1302.1" y1="112.4" x2="1302.1" y2="303.4" stroke="#ff1a1a" stroke-width="2.1" stroke-dasharray="9.6 6.5" stroke-dashoffset="13.7"/>
<line x1="1320.3" y1="112.4" x2="1320.3" y2="303.4" stroke="#ff1a1a" stroke-width="2.1" stroke-dasharray="9.6 6.5" stroke-dashoffset="13.7"/>
<line x1="1326.8" y1="112.4" x2="1326.8" y2="303.4" stroke="#6b6b6b" stroke-width="1.5" stroke-dasharray="9.6 6.5" stroke-dashoffset="13.7"/>
<line x1="1234.0" y1="153.2" x2="1419.6" y2="153.2" stroke="#1e1e1e" stroke-width="2" stroke-dasharray="9.6 6.5" stroke-dashoffset="15.4"/>
<text x="1219.7" y="131.6" font-size="16.6" text-anchor="middle" fill="#262626">40</text>
<text x="1219.7" y="160.0" font-size="16.6" text-anchor="middle" fill="#262626">30</text>
<text x="1219.7" y="196.5" font-size="16.6" text-anchor="middle" fill="#262626">20</text>
<text x="1219.7" y="261.7" font-size="16.6" text-anchor="middle" fill="#262626">10</text>
<text x="1219.7" y="310.2" font-size="16.6" text-anchor="middle" fill="#262626">6</text>
<clipPath id="sc10"><rect x="1459.5" y="112.4" width="185.5" height="191.0"/></clipPath>
<g clip-path="url(#sc10)">
<g filter="url(#parS)">
<rect x="1456.5" y="109.4" width="191.5" height="197.0" fill="rgb(4,4,4)"/>
<path d="M1457.0 108.6 1648.7 108.6 1648.7 307.2 1455.8 307.2 1455.8 108.6Z" fill="rgb(10,10,10)"/>
<path d="M1457.0 108.6 1648.7 108.6 1648.7 307.2 1455.8 307.2 1455.8 108.6Z" fill="rgb(16,16,16)"/>
<path d="M1457.0 108.6 1648.7 108.6 1648.7 307.2 1455.8 307.2 1455.8 108.6Z" fill="rgb(22,22,22)"/>
<path d="M1457.0 108.6 1648.7 108.6 1648.7 307.2 1455.8 307.2 1455.8 108.6Z" fill="rgb(29,29,29)"/>
<path d="M1457.0 108.6 1648.7 108.6 1648.7 307.2 1455.8 307.2 1455.8 108.6Z" fill="rgb(35,35,35)"/>
<path d="M1457.0 108.6 1648.7 108.6 1648.7 307.2 1455.8 307.2 1455.8 108.6Z" fill="rgb(41,41,41)"/>
<path d="M1457.0 108.6 1648.7 108.6 1648.7 307.2 1455.8 307.2 1455.8 108.6Z" fill="rgb(48,48,48)"/>
<path d="M1457.0 108.6 1648.7 108.6 1648.7 307.2 1455.8 307.2 1455.8 108.6Z" fill="rgb(54,54,54)"/>
<path d="M1457.0 108.6 1527.2 108.6 1527.4 125.3 1527.4 108.6 1648.7 108.6 1648.7 307.2 1455.8 307.2 1455.8 108.6Z" fill="rgb(61,61,61)"/>
<path d="M1457.0 108.6 1526.2 108.6 1526.2 124.0 1527.4 127.6 1527.7 108.6 1545.6 108.6 1545.6 123.6 1545.6 108.6 1648.7 108.6 1648.7 307.2 1455.8 307.2 1455.8 108.6Z" fill="rgb(67,67,67)"/>
<path d="M1457.0 108.6 1526.1 108.6 1526.2 127.5 1527.4 129.1 1527.9 108.6 1545.4 108.6 1545.6 127.2 1546.6 123.6 1546.7 108.6 1648.7 108.6 1648.7 307.2 1455.8 307.2 1455.8 108.6Z" fill="rgb(73,73,73)"/>
<path d="M1457.0 108.6 1526.0 108.6 1526.1 128.6 1527.4 130.4 1528.1 125.3 1528.1 108.6 1545.1 108.6 1545.6 128.7 1546.8 127.1 1546.9 108.6 1648.7 108.6 1648.7 307.2 1455.8 307.2 1455.8 108.6Z" fill="rgb(80,80,80)"/>
<path d="M1457.0 108.6 1525.9 108.6 1526.0 128.6 1526.2 130.5 1527.4 131.4 1528.3 125.3 1528.4 108.6 1539.5 108.6 1539.5 125.4 1540.7 125.4 1540.8 108.6 1544.9 108.6 1545.0 125.3 1545.6 129.9 1546.8 128.6 1547.0 108.6 1648.7 108.6 1648.7 307.2 1455.8 307.2 1455.8 108.6Z" fill="rgb(86,86,86)"/>
<path d="M1457.0 108.6 1525.8 108.6 1525.9 128.6 1526.2 131.7 1527.4 132.4 1528.6 125.3 1528.6 108.6 1539.4 108.6 1539.5 127.7 1540.7 127.7 1540.9 108.6 1544.7 108.6 1544.7 125.3 1545.6 130.9 1546.8 130.0 1546.9 128.6 1547.1 108.6 1648.7 108.6 1648.7 307.2 1455.8 307.2 1455.8 108.6ZM1535.5 263.8 1534.7 267.8 1534.6 273.8 1535.2 278.8 1535.9 281.1 1536.1 280.5 1537.1 276.1 1537.2 270.5 1535.9 262.7Z" fill="rgb(92,92,92)"/>
<path d="M1457.0 108.6 1525.7 108.6 1525.9 130.3 1526.2 132.7 1527.4 133.3 1528.6 126.9 1528.7 108.6 1532.1 108.6 1532.2 126.7 1532.9 123.6 1532.9 108.6 1539.3 108.6 1539.5 128.6 1539.5 129.2 1540.7 129.2 1541.0 108.6 1544.5 108.6 1544.5 125.3 1545.6 131.9 1546.8 131.1 1547.0 128.6 1547.1 108.6 1648.7 108.6 1648.7 307.2 1455.8 307.2 1455.8 108.6ZM1535.2 257.1 1533.7 265.5 1533.5 275.5 1534.7 285.0 1535.9 287.4 1536.9 285.5 1538.0 277.2 1538.1 268.8 1537.1 258.3 1535.9 255.9Z" fill="rgb(99,99,99)"/>
<path d="M1457.0 108.6 1525.6 108.6 1525.8 130.3 1526.2 133.7 1527.4 134.2 1528.8 126.9 1528.8 108.6 1531.8 108.6 1532.2 128.7 1533.4 126.6 1533.5 108.6 1539.1 108.6 1539.3 128.6 1539.5 130.4 1540.7 130.4 1541.2 108.6 1544.3 108.6 1544.4 126.4 1545.6 132.8 1546.8 132.1 1547.1 128.6 1547.2 108.6 1648.7 108.6 1648.7 307.2 1455.8 307.2 1455.8 108.6ZM1535.0 252.1 1532.9 262.2 1532.5 275.5 1533.3 283.9 1534.7 290.2 1535.9 292.0 1536.8 290.5 1538.5 282.2 1538.9 268.8 1538.0 257.1 1537.1 252.6 1535.9 250.8Z" fill="rgb(105,105,105)"/>
<path d="M1457.0 108.6 1525.5 108.6 1525.7 130.3 1526.2 134.6 1527.4 135.1 1528.8 128.6 1529.0 108.6 1531.5 108.6 1531.5 125.3 1532.2 130.1 1533.4 128.6 1533.6 108.6 1539.0 108.6 1539.2 128.6 1539.5 131.5 1540.7 131.5 1541.3 125.3 1541.3 108.6 1544.2 108.6 1544.3 126.9 1545.6 133.7 1546.8 133.1 1547.1 130.3 1547.3 108.6 1648.7 108.6 1648.7 307.2 1455.8 307.2 1455.8 108.6ZM1535.3 247.1 1533.5 252.1 1532.3 258.8 1531.5 273.8 1533.4 290.2 1534.7 294.6 1535.9 296.2 1536.3 295.5 1537.2 293.9 1538.9 285.5 1539.7 270.5 1538.3 253.0 1537.1 247.9 1535.9 246.4Z" fill="rgb(112,112,112)"/>
<path d="M1457.0 108.6 1525.3 108.6 1525.5 130.3 1526.2 135.6 1527.4 135.9 1528.6 132.3 1528.9 128.6 1529.1 108.6 1531.2 108.6 1531.2 125.3 1532.2 131.3 1533.4 130.1 1533.6 128.6 1533.7 108.6 1538.9 108.6 1539.1 128.6 1539.5 132.4 1540.7 132.5 1541.4 125.3 1541.5 108.6 1544.1 108.6 1544.2 128.6 1545.6 134.5 1546.8 134.0 1547.2 130.3 1547.4 108.6 1648.7 108.6 1648.7 307.2 1455.8 307.2 1455.8 108.6ZM1534.6 243.8 1531.2 258.8 1530.6 275.5 1531.5 285.5 1533.4 294.8 1534.7 298.7 1535.9 300.3 1537.1 298.6 1539.8 283.9 1540.3 265.5 1538.1 247.1 1537.1 243.5 1535.9 242.1 1534.7 243.7Z" fill="rgb(118,118,118)"/>
<path d="M1457.0 108.6 1525.2 108.6 1525.5 131.9 1526.2 136.5 1527.4 136.7 1528.6 133.5 1529.1 128.6 1529.2 108.6 1530.9 108.6 1531.0 126.9 1532.2 132.4 1533.4 131.3 1533.7 128.6 1533.8 108.6 1538.8 108.6 1539.0 128.6 1539.5 133.3 1540.7 133.4 1541.6 125.3 1541.6 108.6 1544.0 108.6 1544.1 128.6 1545.6 135.3 1546.8 134.8 1547.3 130.3 1547.5 108.6 1648.7 108.6 1648.7 307.2 1455.8 307.2 1455.8 108.6ZM1535.3 238.8 1533.2 243.8 1530.8 253.8 1529.8 262.2 1529.5 272.2 1530.1 282.2 1531.4 290.5 1534.7 303.0 1535.9 304.6 1537.1 302.9 1539.5 291.8 1540.7 282.2 1541.1 272.2 1540.7 260.5 1539.5 249.8 1537.5 240.5 1535.9 238.0Z" fill="rgb(124,124,124)"/>
<path d="M1457.0 108.6 1525.1 108.6 1525.4 131.9 1526.2 137.4 1527.4 137.5 1528.6 134.6 1529.1 130.3 1529.3 108.6 1530.7 108.6 1530.8 126.9 1532.2 133.4 1533.4 132.5 1533.8 128.6 1533.9 108.6 1538.7 108.6 1539.0 130.3 1539.5 134.2 1540.7 134.3 1541.7 126.9 1541.8 108.6 1543.8 108.6 1544.0 128.6 1544.4 132.6 1545.6 136.0 1546.8 135.7 1547.4 130.3 1547.6 108.6 1648.7 108.6 1648.7 307.2 1537.2 307.2 1540.9 287.2 1541.7 268.8 1541.1 257.1 1539.7 245.5 1537.8 237.1 1537.1 234.9 1535.9 233.8 1533.4 238.5 1530.5 248.8 1529.2 257.1 1528.6 267.2 1528.8 277.2 1529.8 288.1 1534.6 307.2 1455.8 307.2 1455.8 108.6Z" fill="rgb(131,131,131)"/>
<path d="M1457.0 108.6 1525.0 108.6 1525.4 133.6 1526.2 138.3 1527.4 138.3 1528.6 135.7 1529.2 130.3 1529.5 108.6 1530.4 108.6 1530.5 126.9 1531.0 131.1 1532.2 134.4 1533.4 133.5 1533.8 130.3 1534.0 108.6 1538.6 108.6 1538.8 130.3 1539.5 135.0 1540.7 135.1 1541.8 126.9 1541.9 108.6 1543.7 108.6 1543.9 128.6 1544.4 133.7 1545.6 136.8 1546.8 136.5 1547.4 131.9 1547.7 108.6 1648.7 108.6 1648.7 307.2 1538.4 307.2 1541.8 285.5 1542.3 265.5 1541.6 253.8 1540.0 242.1 1538.3 234.0 1537.1 230.4 1535.9 229.4 1533.4 234.1 1529.8 245.3 1528.6 253.2 1527.9 263.8 1528.7 287.2 1530.0 295.5 1533.1 307.2 1455.8 307.2 1455.8 108.6Z" fill="rgb(137,137,137)"/>
<path d="M1457.0 108.6 1524.9 108.6 1525.3 133.6 1526.2 139.2 1527.4 139.2 1528.6 136.7 1529.4 130.3 1529.6 108.6 1530.2 108.6 1530.4 128.6 1531.0 132.5 1532.2 135.3 1533.4 134.5 1533.9 130.3 1534.1 108.6 1538.4 108.6 1538.7 130.3 1539.5 135.9 1540.7 135.9 1542.1 125.3 1542.1 108.6 1543.6 108.6 1543.8 130.3 1544.4 134.7 1545.6 137.5 1546.8 137.3 1547.5 131.9 1547.8 108.6 1648.7 108.6 1648.7 307.2 1539.4 307.2 1542.6 283.9 1542.9 262.2 1541.9 249.3 1540.4 238.8 1538.3 229.1 1537.1 225.6 1535.9 224.6 1534.7 226.3 1529.8 239.0 1528.2 247.1 1527.2 258.8 1527.0 272.2 1527.9 287.2 1529.4 298.9 1531.6 307.2 1455.8 307.2 1455.8 108.6Z" fill="rgb(143,143,143)"/>
<path d="M1457.0 108.6 1524.7 108.6 1524.8 126.9 1526.2 140.1 1527.4 140.0 1528.1 138.6 1529.3 133.6 1529.7 108.6 1530.2 128.6 1530.9 133.6 1532.2 136.2 1533.4 135.5 1534.0 130.3 1534.2 108.6 1538.3 108.6 1538.6 130.3 1539.5 136.6 1540.7 136.7 1542.3 126.9 1542.4 108.6 1543.5 108.6 1543.7 130.3 1544.4 135.7 1545.6 138.3 1546.8 138.1 1547.6 131.9 1547.9 108.6 1648.7 108.6 1648.7 307.2 1540.4 307.2 1543.4 282.2 1543.4 258.8 1542.3 245.5 1540.5 233.8 1537.7 222.1 1537.1 220.3 1535.9 219.6 1534.7 221.1 1529.4 233.8 1528.0 240.5 1526.7 252.1 1526.1 265.5 1526.5 280.5 1527.8 295.5 1529.7 307.2 1455.8 307.2 1455.8 108.6ZM1590.4 233.8 1589.4 247.1 1589.4 258.8 1590.5 272.1 1591.7 269.8 1592.2 247.1 1591.7 236.3 1590.5 232.5ZM1614.4 242.1 1612.5 250.5 1612.1 260.5 1613.5 270.8 1614.7 274.1 1616.0 274.4 1617.3 268.8 1617.7 255.5 1616.7 245.5 1616.0 242.2 1614.7 241.4ZM1604.9 250.5 1605.0 263.7 1606.2 263.9 1606.5 262.2 1606.4 250.5 1606.2 249.0 1605.0 248.8Z" fill="rgb(150,150,150)"/>
<path d="M1457.0 108.6 1524.4 108.6 1524.6 128.6 1526.2 141.0 1527.4 140.8 1528.6 138.6 1529.8 126.4 1531.0 135.2 1532.2 137.1 1533.4 136.4 1534.3 126.9 1534.3 108.6 1538.2 108.6 1538.6 131.9 1539.5 137.4 1540.7 137.5 1542.4 128.6 1542.6 108.6 1543.4 108.6 1543.6 130.3 1544.4 136.7 1545.6 139.1 1546.8 139.0 1547.7 133.6 1548.0 108.6 1648.7 108.6 1648.7 307.2 1541.4 307.2 1544.2 280.5 1543.9 255.5 1542.6 240.5 1540.4 227.1 1538.4 218.8 1537.1 216.5 1535.9 216.1 1533.6 218.8 1529.8 225.5 1528.6 229.0 1525.6 250.5 1525.3 275.5 1528.2 307.2 1455.8 307.2 1455.8 108.6ZM1590.5 207.1 1587.5 243.8 1587.5 260.5 1588.9 277.2 1590.5 283.5 1591.7 282.7 1593.4 272.2 1594.7 252.1 1591.7 211.4 1590.5 207.0ZM1614.5 223.8 1613.5 225.2 1609.9 236.6 1608.7 235.4 1606.2 226.3 1605.0 226.0 1602.6 235.5 1601.4 236.9 1599.0 230.8 1597.8 234.1 1595.8 255.5 1597.8 273.4 1599.0 275.8 1601.4 273.0 1602.6 274.9 1605.0 281.9 1606.2 282.1 1608.7 277.3 1609.9 277.0 1613.5 286.2 1614.7 288.4 1616.0 289.0 1617.2 287.0 1618.4 281.6 1620.8 265.7 1622.0 266.4 1624.4 278.3 1625.7 278.7 1627.4 272.2 1628.8 262.2 1628.6 255.5 1627.3 247.1 1625.7 240.8 1624.4 241.0 1622.0 252.5 1620.8 252.9 1617.2 228.7 1616.0 224.5 1614.7 223.4ZM1583.2 232.1 1581.8 240.5 1581.4 255.5 1582.0 264.5 1583.0 268.8 1584.3 265.5 1585.1 248.8 1584.4 238.2 1583.2 232.0ZM1645.0 248.8 1644.4 265.5 1645.1 273.3 1646.3 270.1 1646.3 251.6 1645.1 248.5Z" fill="rgb(156,156,156)"/>
<path d="M1457.0 108.6 1524.2 108.6 1524.4 130.3 1525.2 138.6 1526.2 142.0 1527.4 141.7 1528.6 139.7 1529.8 130.5 1531.0 136.4 1532.2 138.0 1533.4 137.3 1534.4 128.6 1534.4 108.6 1538.0 108.6 1538.4 131.9 1539.5 138.2 1540.7 138.3 1542.7 128.6 1543.3 108.6 1543.5 131.9 1544.4 137.7 1545.6 139.8 1546.8 139.8 1547.8 133.6 1548.2 108.6 1648.7 108.6 1648.7 307.2 1542.3 307.2 1545.0 278.8 1544.5 252.1 1543.0 235.4 1540.4 220.4 1538.3 215.2 1537.1 213.7 1535.9 213.3 1532.2 216.8 1529.8 218.2 1528.4 220.4 1524.0 247.1 1523.4 267.2 1526.9 307.2 1455.8 307.2 1455.8 108.6ZM1590.4 173.7 1588.0 209.1 1586.8 219.5 1585.6 216.7 1583.2 199.3 1579.5 215.4 1577.1 202.4 1575.9 201.9 1573.8 225.4 1572.7 250.5 1573.9 270.5 1574.7 275.8 1575.9 279.1 1577.1 279.2 1579.5 275.8 1583.2 282.1 1584.4 280.8 1585.6 277.9 1586.8 277.5 1590.5 290.2 1591.7 289.7 1594.1 280.9 1595.3 278.8 1597.8 284.9 1599.0 286.4 1601.4 285.4 1602.6 286.7 1605.0 291.9 1606.2 292.3 1608.7 289.4 1609.9 289.5 1614.7 301.1 1616.0 302.4 1617.2 300.4 1620.8 285.9 1622.0 286.5 1624.4 294.1 1625.7 294.7 1631.7 281.5 1634.2 268.6 1635.4 269.4 1637.8 285.3 1639.0 288.3 1641.4 284.7 1642.6 286.8 1645.1 299.9 1646.3 299.0 1647.5 288.1 1648.5 255.5 1647.5 234.1 1646.3 222.3 1645.1 221.7 1642.6 235.2 1641.4 236.5 1639.0 231.3 1637.8 234.8 1635.4 251.6 1634.2 252.2 1631.7 238.1 1625.7 223.2 1624.4 223.5 1622.0 230.8 1620.8 231.0 1616.0 204.7 1614.7 202.4 1613.5 204.9 1611.1 215.8 1609.9 218.8 1608.7 217.3 1606.2 205.7 1605.0 205.2 1602.6 215.9 1601.4 216.7 1599.0 209.0 1597.8 212.2 1595.3 225.2 1594.1 219.8 1591.7 179.7 1590.5 172.9Z" fill="rgb(163,163,163)"/>
<path d="M1457.0 108.6 1523.9 108.6 1524.2 133.6 1526.2 143.0 1527.4 142.6 1528.6 140.7 1529.8 133.1 1531.0 137.5 1532.2 138.9 1533.4 138.2 1534.5 128.6 1534.6 108.6 1537.9 108.6 1538.3 131.9 1539.5 139.0 1540.7 139.1 1543.0 128.6 1543.2 108.6 1543.7 135.3 1544.4 138.6 1545.6 140.6 1546.8 140.7 1548.3 128.6 1548.4 108.6 1648.7 108.6 1648.7 226.2 1646.3 201.1 1645.1 201.1 1642.6 213.7 1641.4 215.1 1639.0 211.0 1637.8 214.6 1635.4 228.1 1634.2 228.8 1631.7 219.3 1628.1 211.5 1625.7 203.3 1624.4 203.7 1622.0 213.1 1620.8 213.2 1618.5 197.0 1614.7 144.3 1613.5 154.3 1611.3 187.0 1609.9 195.3 1608.7 192.4 1606.2 166.9 1605.0 167.3 1602.6 189.8 1601.4 190.5 1599.0 175.7 1595.3 201.4 1594.1 193.4 1591.7 127.4 1590.5 110.4 1588.1 173.7 1586.8 187.6 1585.6 182.4 1583.2 156.4 1582.0 160.1 1580.8 169.7 1579.5 172.4 1577.1 151.6 1575.9 149.4 1572.3 195.1 1568.1 237.1 1567.8 257.1 1569.2 272.2 1569.8 274.5 1575.9 286.0 1577.1 286.0 1579.5 284.4 1583.2 288.2 1585.6 285.8 1586.8 285.7 1590.5 296.6 1591.7 296.3 1594.1 288.9 1595.3 287.7 1599.0 294.4 1601.4 294.1 1602.6 295.7 1605.0 303.8 1606.2 304.9 1608.7 300.8 1609.9 301.4 1611.6 307.2 1543.3 307.2 1546.1 275.5 1545.0 247.1 1541.9 220.3 1539.2 213.7 1537.1 211.2 1535.9 210.9 1532.2 213.5 1528.6 213.9 1527.3 215.4 1522.5 225.3 1521.5 232.1 1520.5 248.8 1520.8 263.8 1525.5 307.2 1469.3 307.2 1469.1 230.0 1467.9 232.1 1467.8 307.2 1455.8 307.2 1455.8 108.6ZM1561.2 217.1 1560.1 223.4 1559.4 265.5 1560.1 276.7 1561.3 277.4 1562.6 272.2 1563.3 260.5 1563.4 245.5 1561.3 215.9ZM1634.2 291.2 1635.4 292.1 1638.3 307.2 1627.5 307.2 1631.7 298.8 1633.8 292.2ZM1648.7 298.1 1648.7 307.2 1648.1 307.2 1648.7 298.9ZM1620.8 300.1 1622.0 301.1 1623.4 307.2 1619.1 307.2 1620.7 300.5Z" fill="rgb(169,169,169)"/>
<path d="M1457.0 108.6 1466.4 108.6 1466.3 175.3 1465.5 212.4 1464.3 231.9 1461.9 193.9 1460.6 221.9 1460.6 307.2 1455.8 307.2 1455.8 108.6ZM1471.6 108.6 1490.8 108.6 1491.1 177.0 1489.9 243.8 1491.7 307.2 1472.3 307.2 1472.0 240.5 1470.7 177.0 1470.6 108.6ZM1495.8 108.6 1501.7 108.6 1501.6 177.0 1500.2 242.1 1500.7 259.4 1501.9 266.9 1503.1 263.4 1503.7 258.8 1504.8 240.5 1502.8 172.0 1502.6 108.6 1516.1 108.6 1517.6 185.4 1516.2 210.4 1516.2 250.5 1517.1 262.2 1522.2 295.5 1523.1 307.2 1494.5 307.2 1494.3 297.2 1496.3 245.5 1495.2 177.0 1495.0 108.6ZM1508.0 203.7 1506.6 242.1 1508.0 254.2 1509.0 243.8 1509.0 228.8 1508.0 203.5ZM1520.1 108.6 1523.4 108.6 1524.1 137.0 1526.2 144.1 1527.4 143.6 1528.6 141.8 1529.8 135.4 1531.0 138.6 1532.2 139.7 1533.6 138.6 1534.6 128.6 1534.7 108.6 1537.7 108.6 1537.8 128.6 1539.5 139.8 1540.7 139.9 1541.3 138.6 1543.2 129.7 1544.4 139.6 1545.6 141.4 1546.8 141.5 1548.4 130.3 1548.6 108.6 1572.1 108.6 1570.5 145.3 1567.4 187.1 1566.2 196.2 1565.0 192.9 1563.8 175.5 1561.3 116.9 1560.1 124.7 1557.9 250.5 1558.4 278.8 1558.9 283.3 1560.1 286.5 1561.3 286.5 1565.0 279.5 1566.2 279.2 1568.6 283.0 1572.3 285.8 1575.9 290.8 1577.1 290.8 1579.5 289.6 1583.2 293.2 1585.6 291.3 1586.8 291.4 1589.0 298.9 1589.4 307.2 1544.2 307.2 1545.6 291.7 1547.6 278.8 1548.1 270.5 1547.5 258.8 1543.1 218.8 1541.2 213.7 1537.1 208.9 1535.9 208.6 1532.2 210.6 1528.6 209.5 1526.2 209.9 1525.0 209.3 1521.3 200.2 1519.4 197.0 1518.1 192.0 1518.0 150.3 1518.9 108.6ZM1585.6 108.6 1588.1 108.6 1586.8 139.8 1585.6 128.1 1585.1 108.6ZM1594.1 108.6 1598.2 108.6 1596.7 150.3 1595.3 165.2 1594.1 152.2 1593.2 108.6ZM1600.2 108.6 1603.6 108.6 1602.6 138.0 1601.4 139.7 1599.9 108.6ZM1608.7 108.6 1610.8 108.6 1609.9 137.3 1608.7 129.0 1608.2 108.6ZM1619.6 108.6 1648.7 108.6 1648.7 204.1 1646.3 176.5 1645.1 176.9 1642.6 193.4 1641.4 194.9 1639.0 189.2 1635.4 209.1 1634.2 209.9 1628.1 183.6 1625.7 157.1 1624.4 156.0 1622.0 182.1 1620.8 181.7 1619.6 162.0 1618.4 108.6ZM1595.3 294.9 1596.9 298.9 1598.3 307.2 1592.7 307.2 1593.0 300.5 1594.5 295.5Z" fill="rgb(175,175,175)"/>
<path d="M1457.0 108.6 1459.1 108.6 1459.2 177.0 1458.2 231.9 1457.0 229.1 1456.4 192.0 1456.3 108.6ZM1477.6 108.6 1480.1 108.6 1479.5 172.0 1478.8 187.9 1477.6 184.8 1477.1 173.7 1477.1 108.6ZM1512.8 108.6 1512.8 194.3 1512.2 108.6ZM1535.9 108.6 1537.6 108.6 1537.8 130.3 1539.4 140.3 1540.7 140.7 1540.9 140.3 1543.2 132.6 1544.4 140.6 1545.6 142.3 1546.8 142.5 1548.6 131.9 1548.8 108.6 1558.3 108.6 1556.8 265.5 1557.3 280.5 1558.9 290.1 1560.1 292.4 1561.3 292.2 1565.0 286.8 1566.2 286.6 1572.3 290.6 1575.9 295.6 1577.1 295.7 1579.5 294.4 1580.8 295.5 1583.2 300.1 1585.6 297.2 1586.8 297.5 1587.8 302.2 1587.6 307.2 1545.2 307.2 1546.8 292.3 1549.2 286.5 1550.6 278.8 1550.6 258.8 1549.2 243.6 1546.8 236.7 1544.8 220.4 1543.2 213.7 1541.0 210.4 1537.1 206.7 1535.9 206.4 1532.2 207.9 1526.2 203.5 1524.4 198.7 1523.1 188.7 1523.3 143.6 1523.7 141.7 1526.0 145.3 1527.4 144.7 1528.6 143.0 1529.8 137.4 1531.6 140.3 1532.2 140.6 1533.4 140.0 1534.8 126.9 1534.9 108.6ZM1631.7 108.6 1638.2 108.6 1638.0 155.3 1636.1 180.4 1635.4 185.8 1634.2 186.2 1632.9 177.0 1631.8 160.3 1631.2 108.6ZM1640.2 108.6 1643.5 108.6 1643.2 155.3 1642.6 164.7 1641.4 166.4 1640.2 152.0 1640.0 108.6ZM1648.7 108.6 1648.7 180.8 1647.7 155.3 1647.6 108.6ZM1512.8 255.9 1515.2 271.9 1519.2 290.5 1519.9 298.9 1519.8 307.2 1496.6 307.2 1496.8 288.9 1498.3 276.3 1500.7 286.0 1501.9 288.0 1505.5 276.0 1508.0 277.0 1509.2 274.8 1512.5 257.1Z" fill="rgb(182,182,182)"/>
<path d="M1535.9 108.6 1537.4 108.6 1537.6 130.3 1539.1 140.3 1539.5 141.4 1540.7 141.5 1543.2 135.0 1544.4 141.6 1545.6 143.2 1546.8 143.4 1547.8 140.3 1548.8 133.6 1549.0 108.6 1557.2 108.6 1556.8 192.0 1555.6 262.2 1555.9 278.8 1557.6 290.5 1560.1 301.2 1563.8 293.6 1565.0 292.0 1566.2 291.6 1572.3 295.3 1573.5 297.2 1574.7 302.2 1573.9 307.2 1562.0 307.2 1560.1 303.2 1559.2 307.2 1546.7 307.2 1547.2 300.5 1550.8 288.9 1552.3 275.5 1551.8 248.8 1550.4 227.1 1549.4 220.4 1549.2 219.4 1548.0 219.9 1546.8 219.3 1544.3 212.1 1541.9 208.3 1537.1 204.5 1535.9 204.3 1532.2 205.3 1530.3 203.7 1526.3 197.0 1524.9 188.7 1524.8 148.6 1528.6 144.2 1529.8 139.4 1531.0 141.0 1532.2 141.6 1533.6 140.3 1535.1 126.9 1535.1 108.6ZM1512.8 277.0 1514.0 280.2 1516.6 293.9 1517.0 300.5 1516.6 307.2 1508.1 307.2 1505.5 305.4 1505.3 303.9 1505.5 293.5 1508.0 292.4 1511.6 278.3 1512.7 277.2Z" fill="rgb(188,188,188)"/>
<path d="M1535.9 108.6 1537.3 108.6 1537.4 130.3 1538.7 140.3 1539.5 142.3 1540.7 142.4 1543.2 137.2 1544.4 142.7 1545.6 144.1 1546.8 144.5 1548.4 140.3 1548.9 137.0 1549.4 108.6 1556.3 108.6 1555.8 197.0 1555.3 222.6 1554.1 243.7 1552.9 235.9 1551.7 215.4 1550.4 205.8 1549.2 205.5 1546.8 210.1 1545.6 209.4 1543.2 206.0 1537.1 202.3 1532.2 202.7 1529.4 198.7 1526.7 190.4 1526.1 150.3 1528.6 145.6 1529.8 141.4 1532.2 142.5 1533.4 141.9 1533.9 140.3 1535.3 128.6 1535.4 108.6ZM1554.1 281.7 1555.3 285.0 1557.5 297.2 1557.6 307.2 1550.7 307.2 1550.9 297.2 1554.0 282.2ZM1512.8 291.5 1513.9 298.9 1513.0 307.2 1511.6 305.6 1511.3 302.2 1511.6 293.9 1512.3 292.2ZM1566.2 297.2 1567.9 298.9 1569.2 302.2 1568.1 305.6 1566.8 307.2 1565.0 306.8 1564.0 302.2 1565.0 297.9 1566.1 297.2Z" fill="rgb(194,194,194)"/>
<path d="M1535.9 108.6 1537.1 108.6 1537.2 130.3 1538.4 140.3 1539.5 143.2 1540.7 143.3 1543.2 139.3 1544.4 143.9 1546.8 145.8 1548.7 143.6 1550.3 138.6 1550.9 126.9 1550.9 108.6 1555.3 108.6 1554.8 180.4 1554.1 204.9 1552.9 203.3 1550.4 179.5 1550.0 188.7 1548.6 197.0 1546.8 203.3 1545.6 204.0 1537.1 200.0 1532.2 200.1 1530.3 197.0 1528.4 190.4 1527.8 183.7 1527.6 150.3 1529.8 143.6 1532.2 143.5 1533.4 142.9 1534.2 140.3 1535.5 128.6 1535.6 108.6ZM1554.1 290.5 1555.3 292.3 1556.5 298.9 1556.3 307.2 1552.2 307.2 1552.3 297.2 1554.1 290.5Z" fill="rgb(201,201,201)"/>
<path d="M1535.9 108.6 1536.0 125.3 1538.5 142.0 1539.5 144.2 1540.7 144.4 1543.2 141.5 1544.4 145.2 1548.0 148.6 1548.2 150.3 1548.0 185.4 1547.3 193.7 1545.6 198.6 1540.7 199.2 1537.1 197.6 1533.4 197.9 1532.2 197.2 1530.1 192.0 1529.2 185.4 1528.9 150.3 1529.8 146.3 1533.4 144.0 1535.1 137.0 1535.8 126.9 1535.9 108.6ZM1554.1 299.5 1554.4 303.9 1554.1 305.1 1553.9 300.5Z" fill="rgb(207,207,207)"/>
<path d="M1535.9 132.7 1537.1 135.8 1537.9 142.0 1539.5 145.2 1540.7 145.4 1543.2 143.9 1546.7 150.3 1546.3 187.0 1545.5 192.0 1544.4 193.8 1540.7 196.2 1535.9 194.7 1533.4 195.0 1532.2 193.9 1531.0 190.4 1530.3 183.7 1530.1 150.3 1531.0 147.1 1533.4 145.2 1534.1 143.6 1535.8 133.6Z" fill="rgb(214,214,214)"/>
<path d="M1535.9 138.3 1537.1 140.1 1538.6 145.3 1539.5 146.5 1543.2 147.0 1544.5 150.3 1543.9 185.4 1542.4 190.4 1540.7 192.5 1539.5 192.9 1535.9 191.5 1533.4 191.5 1532.1 188.7 1531.3 150.3 1531.6 148.6 1534.2 145.3 1535.8 138.6Z" fill="rgb(220,220,220)"/>
<path d="M1535.9 144.5 1537.1 145.1 1538.3 147.3 1540.7 148.7 1541.7 150.3 1540.7 186.1 1539.5 188.1 1538.3 187.7 1535.9 185.4 1534.7 185.7 1533.4 182.2 1532.8 150.3 1535.6 145.3Z" fill="rgb(226,226,226)"/>
</g>
</g>
<line x1="1459.5" y1="303.1" x2="1645.0" y2="303.1" stroke="#5a6e50" stroke-width="0.9"/>
<line x1="1527.6" y1="112.4" x2="1527.6" y2="303.4" stroke="#ff1a1a" stroke-width="2.1" stroke-dasharray="9.6 6.5" stroke-dashoffset="13.7"/>
<line x1="1545.8" y1="112.4" x2="1545.8" y2="303.4" stroke="#ff1a1a" stroke-width="2.1" stroke-dasharray="9.6 6.5" stroke-dashoffset="13.7"/>
<line x1="1552.2" y1="112.4" x2="1552.2" y2="303.4" stroke="#6b6b6b" stroke-width="1.5" stroke-dasharray="9.6 6.5" stroke-dashoffset="13.7"/>
<line x1="1459.5" y1="153.2" x2="1645.0" y2="153.2" stroke="#1e1e1e" stroke-width="2" stroke-dasharray="9.6 6.5" stroke-dashoffset="15.4"/>
<clipPath id="sc11"><rect x="1685.7" y="112.4" width="185.9" height="191.0"/></clipPath>
<g clip-path="url(#sc11)">
<rect x="1685.7" y="112.4" width="185.9" height="191.0" fill="#fff"/>
<line x1="1778.7" y1="112.4" x2="1778.7" y2="303.4" stroke="#6b6b6b" stroke-width="1.5" stroke-dasharray="9.6 6.5" stroke-dashoffset="13.7"/>
<g filter="url(#gryS)">
</g>
<clipPath id="sm12"><path d="M1755.0 112.4 1785.3 112.4 1786.1 129.6 1786.6 150.6 1786.6 207.9 1785.3 211.7 1778.1 211.7 1775.7 207.9 1774.4 195.5 1770.7 185.4 1769.4 177.9 1765.6 179.2 1763.2 169.7 1759.7 160.9 1755.4 147.5ZM1754.9 303.4 1755.4 280.5 1757.3 275.7 1761.0 272.8 1764.3 269.6 1767.5 272.8 1770.3 275.7 1771.6 285.6 1774.9 290.6 1777.5 296.9 1782.4 298.6 1794.3 301.5 1794.3 303.4Z" clip-rule="evenodd"/></clipPath>
<g clip-path="url(#sm12)"><g filter="url(#gryS)">
<rect x="1685.7" y="112.4" width="185.9" height="191.0" fill="rgb(4,4,4)"/>
<path d="M1683.2 108.6 1875.3 108.6 1875.3 307.2 1682.0 307.2 1682.0 108.6Z" fill="rgb(10,10,10)"/>
<path d="M1683.2 108.6 1875.3 108.6 1875.3 307.2 1682.0 307.2 1682.0 108.6Z" fill="rgb(16,16,16)"/>
<path d="M1683.2 108.6 1875.3 108.6 1875.3 307.2 1682.0 307.2 1682.0 108.6Z" fill="rgb(22,22,22)"/>
<path d="M1683.2 108.6 1875.3 108.6 1875.3 307.2 1682.0 307.2 1682.0 108.6Z" fill="rgb(29,29,29)"/>
<path d="M1683.2 108.6 1875.3 108.6 1875.3 307.2 1682.0 307.2 1682.0 108.6Z" fill="rgb(35,35,35)"/>
<path d="M1683.2 108.6 1875.3 108.6 1875.3 307.2 1682.0 307.2 1682.0 108.6Z" fill="rgb(41,41,41)"/>
<path d="M1683.2 108.6 1875.3 108.6 1875.3 307.2 1682.0 307.2 1682.0 108.6Z" fill="rgb(48,48,48)"/>
<path d="M1683.2 108.6 1875.3 108.6 1875.3 307.2 1682.0 307.2 1682.0 108.6Z" fill="rgb(54,54,54)"/>
<path d="M1683.2 108.6 1875.3 108.6 1875.3 307.2 1682.0 307.2 1682.0 108.6Z" fill="rgb(61,61,61)"/>
<path d="M1683.2 108.6 1875.3 108.6 1875.3 307.2 1682.0 307.2 1682.0 108.6Z" fill="rgb(67,67,67)"/>
<path d="M1683.2 108.6 1875.3 108.6 1875.3 307.2 1682.0 307.2 1682.0 108.6Z" fill="rgb(73,73,73)"/>
<path d="M1683.2 108.6 1875.3 108.6 1875.3 307.2 1682.0 307.2 1682.0 108.6Z" fill="rgb(80,80,80)"/>
<path d="M1683.2 108.6 1875.3 108.6 1875.3 307.2 1682.0 307.2 1682.0 108.6Z" fill="rgb(86,86,86)"/>
<path d="M1683.2 108.6 1875.3 108.6 1875.3 307.2 1682.0 307.2 1682.0 108.6Z" fill="rgb(92,92,92)"/>
<path d="M1683.2 108.6 1875.3 108.6 1875.3 307.2 1682.0 307.2 1682.0 108.6Z" fill="rgb(99,99,99)"/>
<path d="M1683.2 108.6 1875.3 108.6 1875.3 307.2 1682.0 307.2 1682.0 108.6Z" fill="rgb(105,105,105)"/>
<path d="M1683.2 108.6 1810.1 108.6 1810.2 307.2 1682.0 307.2 1682.0 108.6ZM1812.1 108.6 1875.3 108.6 1875.3 307.2 1811.1 307.2 1811.2 108.6Z" fill="rgb(112,112,112)"/>
<path d="M1683.2 108.6 1697.7 108.6 1697.2 307.2 1682.0 307.2 1682.0 108.6ZM1699.0 108.6 1809.5 108.6 1809.5 307.2 1698.1 307.2 1697.8 108.6ZM1812.1 108.6 1846.0 108.6 1846.0 307.2 1811.5 307.2 1811.6 108.6ZM1848.6 108.6 1875.3 108.6 1875.3 307.2 1847.5 307.2 1847.5 108.6Z" fill="rgb(118,118,118)"/>
<path d="M1683.2 108.6 1697.0 108.6 1696.5 307.2 1682.0 307.2 1682.0 108.6ZM1699.0 108.6 1809.2 108.6 1809.2 307.2 1698.6 307.2 1698.7 108.6ZM1812.1 108.6 1832.8 108.6 1832.8 112.6 1832.8 108.6 1845.7 108.6 1845.7 307.2 1811.9 307.2 1812.0 108.6ZM1848.6 108.6 1875.3 108.6 1875.3 307.2 1847.8 307.2 1847.8 108.6Z" fill="rgb(124,124,124)"/>
<path d="M1683.2 108.6 1696.4 108.6 1696.2 307.2 1682.0 307.2 1682.0 108.6ZM1700.2 108.6 1704.7 108.6 1704.3 307.2 1699.1 307.2 1699.2 108.6ZM1706.3 108.6 1729.3 108.6 1729.4 118.2 1730.0 108.6 1809.0 108.6 1809.0 307.2 1788.2 307.2 1787.8 248.3 1787.4 307.2 1773.5 307.2 1773.2 256.2 1773.0 307.2 1705.6 307.2 1706.2 108.6ZM1813.3 108.6 1817.7 108.6 1817.4 307.2 1812.2 307.2 1812.3 108.6ZM1819.4 108.6 1832.1 108.6 1832.5 307.2 1818.8 307.2 1818.9 108.6ZM1834.0 108.6 1845.4 108.6 1845.4 307.2 1832.8 307.2 1833.1 108.6ZM1848.6 108.6 1875.3 108.6 1875.3 307.2 1861.2 307.2 1860.7 163.4 1860.5 307.2 1848.0 307.2 1848.1 108.6Z" fill="rgb(131,131,131)"/>
<path d="M1683.2 108.6 1696.1 108.6 1695.9 307.2 1682.0 307.2 1682.0 108.6ZM1700.2 108.6 1704.0 108.6 1703.6 307.2 1699.4 307.2 1699.6 108.6ZM1707.5 108.6 1728.6 108.6 1730.3 307.2 1706.4 307.2 1706.9 108.6ZM1731.8 108.6 1808.7 108.6 1808.7 307.2 1789.0 307.2 1788.6 202.1 1787.8 144.2 1786.8 307.2 1774.4 307.2 1773.2 121.1 1772.3 307.2 1759.9 307.2 1759.6 222.1 1758.6 188.7 1758.3 307.2 1731.0 307.2 1731.3 108.6ZM1813.3 108.6 1817.2 108.6 1816.8 307.2 1812.5 307.2 1812.5 108.6ZM1820.6 108.6 1831.5 108.6 1831.5 307.2 1819.4 307.2 1819.6 108.6ZM1834.0 108.6 1845.2 108.6 1845.1 307.2 1833.2 307.2 1833.5 108.6ZM1848.6 108.6 1860.4 108.6 1860.1 307.2 1848.3 307.2 1848.4 108.6ZM1861.9 108.6 1875.3 108.6 1875.1 307.2 1862.0 307.2 1861.4 108.6Z" fill="rgb(137,137,137)"/>
<path d="M1683.2 108.6 1695.7 108.6 1695.6 307.2 1684.5 307.2 1684.4 185.0 1683.2 219.7 1683.0 307.2 1682.0 307.2 1682.0 108.6ZM1700.2 108.6 1703.5 108.6 1703.2 307.2 1699.8 307.2 1700.0 108.6ZM1707.5 108.6 1728.0 108.6 1729.1 307.2 1706.9 307.2 1707.5 108.6ZM1733.1 108.6 1771.9 108.6 1771.8 307.2 1760.4 307.2 1760.1 192.0 1759.8 178.9 1758.6 171.0 1757.7 205.4 1757.8 307.2 1732.0 307.2 1732.0 108.6ZM1774.4 108.6 1787.4 108.6 1786.3 307.2 1774.9 307.2 1774.3 108.6ZM1790.2 108.6 1802.3 108.6 1802.0 307.2 1789.3 307.2 1789.2 108.6ZM1804.8 108.6 1808.4 108.6 1808.4 307.2 1802.6 307.2 1802.8 160.3 1803.6 108.6ZM1813.3 108.6 1816.8 108.6 1816.4 307.2 1812.8 307.2 1812.8 108.6ZM1820.6 108.6 1831.3 108.6 1831.3 307.2 1824.5 307.2 1824.2 191.3 1824.0 307.2 1819.8 307.2 1819.9 108.6ZM1834.0 108.6 1838.7 108.6 1839.0 307.2 1833.5 307.2 1833.9 108.6ZM1841.3 108.6 1844.9 108.6 1844.9 307.2 1840.2 307.2 1840.3 108.6ZM1849.8 108.6 1859.9 108.6 1859.7 307.2 1853.9 307.2 1853.4 237.7 1853.2 307.2 1848.6 307.2 1848.7 108.6ZM1863.2 108.6 1868.4 108.6 1868.6 208.7 1869.2 223.7 1869.5 108.6 1874.8 108.6 1874.2 307.2 1868.7 307.2 1868.0 228.9 1868.0 307.2 1862.3 307.2 1862.1 108.6Z" fill="rgb(143,143,143)"/>
<path d="M1683.1 110.2 1682.7 307.2 1682.0 307.2 1682.0 108.6 1683.1 108.6ZM1685.6 108.6 1695.3 108.6 1695.3 307.2 1684.8 307.2 1684.8 108.6ZM1701.4 108.6 1703.0 108.6 1702.7 307.2 1700.1 307.2 1700.5 108.6ZM1708.7 108.6 1718.2 108.6 1717.6 307.2 1707.5 307.2 1708.1 108.6ZM1719.7 109.0 1719.7 108.6 1727.6 108.6 1728.4 307.2 1719.0 307.2 1719.7 110.2ZM1733.1 108.6 1741.8 108.6 1742.9 307.2 1740.0 307.2 1739.1 257.5 1737.9 282.7 1737.8 307.2 1732.6 307.2 1732.7 108.6ZM1745.2 108.6 1750.8 108.6 1750.4 307.2 1745.5 307.2 1744.8 108.6ZM1752.5 108.6 1771.3 108.6 1771.4 307.2 1766.0 307.2 1765.9 197.1 1765.6 307.2 1760.9 307.2 1760.5 185.4 1759.8 161.2 1758.6 158.7 1757.2 193.7 1757.3 307.2 1752.4 307.2 1751.4 108.6ZM1775.6 108.6 1786.8 108.6 1786.0 307.2 1780.8 307.2 1780.5 228.6 1779.6 245.5 1779.3 307.2 1775.3 307.2 1775.1 108.6ZM1790.2 108.6 1801.6 108.6 1801.0 307.2 1789.6 307.2 1789.7 108.6ZM1804.8 108.6 1808.1 108.6 1808.2 307.2 1803.5 307.2 1804.2 108.6ZM1813.3 108.6 1816.5 108.6 1816.1 307.2 1813.1 307.2 1813.0 108.6ZM1820.6 108.6 1823.7 108.6 1823.3 307.2 1820.2 307.2 1820.3 108.6ZM1825.5 108.6 1831.1 108.6 1831.1 307.2 1825.3 307.2 1825.0 108.6ZM1835.2 108.6 1838.4 108.6 1838.5 307.2 1833.8 307.2 1834.2 108.6ZM1841.3 108.6 1844.6 108.6 1844.6 307.2 1840.6 307.2 1840.7 108.6ZM1849.8 108.6 1853.4 108.6 1852.7 307.2 1848.9 307.2 1849.0 108.6ZM1854.6 108.6 1859.5 108.6 1859.4 307.2 1854.7 307.2 1853.5 108.6ZM1863.2 108.6 1867.6 108.6 1867.5 307.2 1862.5 307.2 1862.4 108.6ZM1870.5 108.6 1873.5 108.6 1873.7 307.2 1869.7 307.2 1870.5 108.6Z" fill="rgb(150,150,150)"/>
<path d="M1682.7 110.2 1682.0 307.2 1682.0 108.6 1682.7 108.6ZM1685.6 108.6 1690.0 108.6 1690.3 307.2 1685.2 307.2 1685.3 108.6ZM1692.9 108.6 1694.8 108.6 1695.0 307.2 1691.0 307.2 1692.4 108.6ZM1701.4 108.6 1702.2 108.6 1702.1 307.2 1700.7 307.2 1701.1 108.6ZM1708.7 108.6 1717.3 108.6 1717.0 307.2 1711.8 307.2 1711.2 238.0 1709.1 193.7 1708.7 108.6ZM1720.9 108.6 1727.1 108.6 1727.5 307.2 1719.7 307.2 1720.3 108.6ZM1734.3 108.6 1740.7 108.6 1740.3 165.9 1739.1 163.7 1737.9 147.8 1737.7 157.0 1737.0 307.2 1733.1 307.2 1733.5 108.6ZM1746.4 108.6 1749.5 108.6 1749.6 307.2 1746.2 307.2 1745.5 108.6ZM1752.5 108.6 1758.0 108.6 1758.6 116.9 1759.8 116.4 1760.2 108.6 1770.8 108.6 1771.0 307.2 1766.9 307.2 1766.9 197.0 1765.9 167.0 1764.7 182.0 1764.2 200.4 1764.4 307.2 1761.4 307.2 1761.3 192.0 1759.8 143.5 1758.6 145.4 1757.0 180.4 1756.9 307.2 1752.9 307.2 1752.1 108.6ZM1776.8 108.6 1778.0 108.6 1778.7 126.9 1779.3 131.3 1780.5 134.2 1781.2 108.6 1786.3 108.6 1785.6 307.2 1781.5 307.2 1781.3 230.4 1780.5 214.6 1779.2 220.4 1778.6 232.1 1778.6 307.2 1775.8 307.2 1775.9 228.8 1775.1 173.7 1776.1 108.6ZM1791.4 108.6 1800.9 108.6 1800.4 307.2 1790.0 307.2 1790.2 108.6ZM1804.8 108.6 1807.8 108.6 1807.9 307.2 1804.0 307.2 1804.8 108.6ZM1813.3 108.6 1816.2 108.6 1815.7 307.2 1813.4 307.2 1813.2 108.6ZM1821.8 108.6 1823.1 108.6 1822.6 307.2 1820.7 307.2 1820.7 108.6ZM1826.7 108.6 1830.9 108.6 1830.9 307.2 1825.7 307.2 1825.6 108.6ZM1835.2 108.6 1838.1 108.6 1838.2 307.2 1834.1 307.2 1834.4 108.6ZM1841.3 108.6 1844.4 108.6 1844.4 307.2 1841.0 307.2 1841.0 108.6ZM1849.8 108.6 1852.7 108.6 1852.2 307.2 1849.1 307.2 1849.3 108.6ZM1854.6 108.6 1859.2 108.6 1859.1 307.2 1855.0 307.2 1854.6 108.6ZM1863.2 108.6 1867.2 108.6 1867.1 307.2 1862.8 307.2 1862.7 108.6ZM1871.7 108.6 1872.9 182.0 1873.2 307.2 1870.3 307.2 1871.6 108.6Z" fill="rgb(156,156,156)"/>
<path d="M1686.8 108.6 1689.5 108.6 1689.7 307.2 1685.5 307.2 1685.7 108.6ZM1694.1 108.6 1694.6 307.2 1692.1 307.2 1692.9 151.2 1693.8 108.6ZM1709.9 108.6 1716.7 108.6 1716.5 307.2 1712.4 307.2 1711.4 173.7 1709.9 108.6ZM1722.1 108.6 1726.7 108.6 1726.6 307.2 1720.1 307.2 1720.9 108.6ZM1746.4 108.6 1748.8 108.6 1749.0 307.2 1747.1 307.2 1746.1 108.6ZM1753.7 108.6 1757.1 108.6 1758.0 128.6 1756.4 187.0 1756.6 307.2 1753.4 307.2 1752.8 108.6ZM1762.2 108.6 1764.4 108.6 1766.1 135.3 1762.9 202.1 1763.7 307.2 1762.0 307.2 1762.1 193.7 1760.9 131.9 1761.4 108.6ZM1768.3 108.6 1770.0 108.6 1770.6 307.2 1767.6 307.2 1767.6 108.6ZM1782.9 108.6 1785.8 108.6 1785.2 307.2 1782.1 307.2 1781.9 220.4 1781.6 212.1 1780.5 208.3 1778.8 215.4 1777.2 228.8 1777.6 307.2 1776.5 307.2 1776.7 232.1 1775.5 183.7 1775.8 153.6 1776.8 131.9 1778.0 132.8 1780.5 141.5 1781.3 138.6 1781.9 108.6ZM1791.4 108.6 1796.2 108.6 1796.3 141.8 1797.5 167.0 1798.0 108.6 1800.1 108.6 1799.6 307.2 1790.3 307.2 1790.6 108.6ZM1806.0 108.6 1807.5 108.6 1807.6 307.2 1804.4 307.2 1805.3 108.6ZM1814.5 108.6 1815.9 108.6 1815.1 307.2 1814.0 307.2 1813.6 108.6ZM1821.8 108.6 1821.8 296.5 1821.5 108.6ZM1826.7 108.6 1830.7 108.6 1830.6 307.2 1825.9 307.2 1825.9 108.6ZM1835.2 108.6 1837.7 108.6 1837.9 307.2 1834.4 307.2 1834.7 108.6ZM1842.5 108.6 1844.1 108.6 1844.1 307.2 1841.3 307.2 1841.4 108.6ZM1849.8 108.6 1852.1 108.6 1851.8 307.2 1849.4 307.2 1849.5 108.6ZM1855.9 108.6 1858.9 108.6 1858.8 307.2 1855.3 307.2 1855.0 108.6ZM1863.2 108.6 1866.7 108.6 1866.7 307.2 1863.1 307.2 1863.0 108.6ZM1735.5 169.1 1736.3 307.2 1733.7 307.2 1734.3 176.8 1735.3 170.3ZM1871.7 216.5 1872.4 307.2 1871.0 307.2 1871.7 217.1Z" fill="rgb(163,163,163)"/>
<path d="M1686.8 108.6 1688.9 108.6 1689.1 307.2 1685.9 307.2 1686.2 108.6ZM1712.4 108.6 1716.1 108.6 1716.1 307.2 1712.9 307.2 1711.7 108.6ZM1722.1 108.6 1726.3 108.6 1725.6 307.2 1720.5 307.2 1721.4 108.6ZM1747.6 108.6 1747.6 149.6 1747.4 108.6ZM1753.7 108.6 1756.4 108.6 1757.0 128.6 1755.8 195.4 1756.2 307.2 1754.0 307.2 1753.3 108.6ZM1782.9 108.6 1785.3 108.6 1784.7 307.2 1782.6 307.2 1782.1 205.4 1781.7 201.2 1780.5 203.7 1778.0 213.3 1776.8 210.5 1775.8 183.7 1775.9 160.3 1776.8 143.2 1778.0 139.3 1780.5 146.4 1781.7 148.7 1781.9 147.0 1782.6 108.6ZM1791.4 108.6 1795.5 108.6 1795.4 307.2 1790.6 307.2 1791.0 108.6ZM1806.0 108.6 1806.7 108.6 1807.1 150.3 1807.3 307.2 1804.8 307.2 1805.9 108.6ZM1814.5 108.6 1815.4 108.6 1814.5 282.5 1814.0 108.6ZM1826.7 108.6 1830.5 108.6 1830.4 307.2 1826.2 307.2 1826.2 108.6ZM1835.2 108.6 1837.3 108.6 1837.6 307.2 1834.6 307.2 1835.0 108.6ZM1842.5 108.6 1843.9 108.6 1843.9 307.2 1841.7 307.2 1841.8 108.6ZM1851.0 108.6 1851.5 108.6 1851.4 307.2 1849.7 307.2 1850.0 108.6ZM1855.9 108.6 1858.6 108.6 1858.6 307.2 1855.7 307.2 1855.4 108.6ZM1864.4 108.6 1866.3 108.6 1866.3 307.2 1863.4 307.2 1863.4 108.6ZM1763.5 116.4 1764.7 128.4 1764.8 137.0 1763.5 160.2 1762.5 152.0 1762.2 138.6 1762.3 125.3 1763.3 116.9ZM1769.5 154.9 1770.1 307.2 1768.1 307.2 1768.3 203.5 1769.5 155.3ZM1694.1 263.3 1694.2 307.2 1692.7 307.2 1692.9 269.5 1694.1 263.8Z" fill="rgb(169,169,169)"/>
<path d="M1686.8 108.6 1688.4 108.6 1688.7 307.2 1686.3 307.2 1686.6 108.6ZM1713.6 108.6 1715.2 108.6 1715.4 307.2 1713.5 307.2 1713.1 108.6ZM1722.1 108.6 1725.8 108.6 1724.8 307.2 1721.0 307.2 1721.9 108.6ZM1754.9 108.6 1755.5 108.6 1756.3 133.6 1755.1 187.0 1755.3 307.2 1754.7 307.2 1754.1 108.6ZM1784.1 108.6 1784.2 307.2 1783.3 202.1 1782.6 195.4 1781.7 192.8 1779.3 205.4 1778.0 208.2 1777.7 207.1 1776.6 198.7 1776.0 177.0 1776.6 153.6 1778.0 143.8 1779.7 147.0 1781.7 157.5 1782.8 153.6 1783.5 140.3 1783.7 108.6ZM1791.4 108.6 1794.8 108.6 1794.6 307.2 1790.9 307.2 1791.4 108.6ZM1814.5 108.6 1814.5 135.4 1814.5 108.6ZM1826.7 108.6 1830.3 108.6 1830.2 307.2 1826.5 307.2 1826.4 108.6ZM1836.4 108.6 1836.9 108.6 1837.3 307.2 1834.9 307.2 1835.3 108.6ZM1842.5 108.6 1843.3 108.6 1843.4 307.2 1842.1 307.2 1842.2 108.6ZM1855.9 108.6 1858.3 108.6 1858.3 307.2 1856.1 307.2 1855.8 108.6ZM1864.4 108.6 1865.9 108.6 1866.0 307.2 1863.8 307.2 1863.8 108.6ZM1806.0 199.0 1806.8 307.2 1805.4 307.2 1806.0 200.4Z" fill="rgb(175,175,175)"/>
<path d="M1723.3 108.6 1725.2 108.6 1723.9 307.2 1721.6 307.2 1722.6 108.6ZM1792.6 108.6 1794.1 108.6 1794.0 307.2 1791.3 307.2 1792.0 108.6ZM1826.7 108.6 1830.1 108.6 1829.9 307.2 1826.7 307.2 1826.7 108.6ZM1836.4 108.6 1836.9 307.2 1835.1 307.2 1836.2 108.6ZM1857.1 108.6 1857.7 108.6 1857.7 307.2 1856.6 307.2 1856.4 108.6ZM1864.4 108.6 1865.0 108.6 1865.2 131.9 1865.6 307.2 1864.1 307.2 1864.3 108.6ZM1778.0 147.3 1779.3 148.3 1781.0 157.0 1782.1 173.7 1781.2 192.0 1779.4 202.1 1778.0 204.3 1777.5 202.1 1776.4 187.0 1776.4 163.7 1777.7 148.6ZM1688.1 178.5 1688.2 307.2 1686.7 307.2 1686.8 200.4 1688.1 178.7Z" fill="rgb(182,182,182)"/>
<path d="M1827.9 108.6 1829.9 108.6 1829.7 307.2 1827.0 307.2 1827.0 108.6ZM1792.6 121.0 1793.2 307.2 1792.0 307.2 1792.6 121.9ZM1778.0 150.5 1779.3 151.0 1779.9 153.6 1781.3 167.0 1781.3 185.4 1779.9 197.0 1779.3 199.9 1778.0 201.1 1776.8 190.4 1776.5 168.7 1777.7 152.0ZM1836.4 245.0 1836.5 307.2 1836.0 307.2 1836.4 245.5Z" fill="rgb(188,188,188)"/>
<path d="M1827.9 108.6 1829.6 108.6 1829.5 307.2 1827.3 307.2 1827.2 108.6ZM1778.0 153.3 1779.3 153.4 1779.7 155.3 1781.1 168.7 1781.0 183.7 1779.7 195.4 1779.3 197.5 1778.0 198.1 1776.9 185.4 1776.8 167.0 1778.0 153.6Z" fill="rgb(194,194,194)"/>
<path d="M1827.9 108.6 1829.4 108.6 1829.2 307.2 1827.6 307.2 1827.5 108.6ZM1778.0 156.1 1779.3 155.8 1780.7 168.7 1780.8 180.4 1779.8 192.0 1779.3 195.1 1778.0 195.3 1777.2 187.0 1777.0 170.3 1777.9 157.0Z" fill="rgb(201,201,201)"/>
<path d="M1827.9 108.6 1829.2 108.6 1829.1 194.9 1827.9 273.5 1827.8 108.6ZM1779.3 158.1 1780.6 175.3 1779.3 192.7 1778.0 192.5 1777.3 182.0 1777.4 167.0 1778.3 158.7Z" fill="rgb(207,207,207)"/>
<path d="M1778.0 161.6 1779.3 160.5 1780.0 167.0 1780.3 177.0 1779.7 187.0 1779.3 190.3 1778.0 189.6 1777.7 185.4 1777.4 173.7 1778.0 162.0Z" fill="rgb(214,214,214)"/>
<path d="M1779.3 163.1 1780.0 175.3 1779.3 187.8 1778.0 186.4 1777.7 178.7 1778.0 165.3 1778.8 163.7Z" fill="rgb(220,220,220)"/>
<path d="M1779.3 166.0 1779.7 175.3 1779.3 184.8 1778.0 182.3 1778.0 180.4 1778.0 168.9 1778.8 167.0Z" fill="rgb(226,226,226)"/>
<path d="M1779.3 170.0 1779.3 180.8 1778.5 175.3 1779.2 170.3Z" fill="rgb(233,233,233)"/>
</g></g>
</g>
<rect x="1685.7" y="112.4" width="185.9" height="191.0" fill="none" stroke="#a0a0a0" stroke-width="1"/>
<line x1="1685.7" y1="254.9" x2="1687.7" y2="254.9" stroke="#444" stroke-width="0.7"/>
<line x1="1869.6" y1="254.9" x2="1871.6" y2="254.9" stroke="#444" stroke-width="0.7"/>
<line x1="1685.7" y1="189.7" x2="1687.7" y2="189.7" stroke="#444" stroke-width="0.7"/>
<line x1="1869.6" y1="189.7" x2="1871.6" y2="189.7" stroke="#444" stroke-width="0.7"/>
<line x1="1685.7" y1="124.8" x2="1687.7" y2="124.8" stroke="#444" stroke-width="0.7"/>
<line x1="1869.6" y1="124.8" x2="1871.6" y2="124.8" stroke="#444" stroke-width="0.7"/>
<line x1="1753.9" y1="112.4" x2="1753.9" y2="303.4" stroke="#ff1a1a" stroke-width="2.1" stroke-dasharray="9.6 6.5" stroke-dashoffset="13.7"/>
<line x1="1772.1" y1="112.4" x2="1772.1" y2="303.4" stroke="#ff1a1a" stroke-width="2.1" stroke-dasharray="9.6 6.5" stroke-dashoffset="13.7"/>
<line x1="1685.7" y1="153.2" x2="1871.6" y2="153.2" stroke="#1e1e1e" stroke-width="2" stroke-dasharray="9.6 6.5" stroke-dashoffset="15.4"/>
<clipPath id="sc13"><rect x="1234.0" y="335.2" width="185.6" height="191.1"/></clipPath>
<g clip-path="url(#sc13)">
<g filter="url(#parS)">
<rect x="1231.0" y="332.2" width="191.6" height="197.1" fill="rgb(4,4,4)"/>
<path d="M1231.5 331.4 1423.3 331.4 1423.3 530.1 1230.3 530.1 1230.3 331.4Z" fill="rgb(10,10,10)"/>
<path d="M1231.5 331.4 1423.3 331.4 1423.3 530.1 1230.3 530.1 1230.3 331.4Z" fill="rgb(16,16,16)"/>
<path d="M1231.5 331.4 1423.3 331.4 1423.3 530.1 1230.3 530.1 1230.3 331.4Z" fill="rgb(22,22,22)"/>
<path d="M1231.5 331.4 1423.3 331.4 1423.3 530.1 1230.3 530.1 1230.3 331.4Z" fill="rgb(29,29,29)"/>
<path d="M1231.5 331.4 1423.3 331.4 1423.3 530.1 1230.3 530.1 1230.3 331.4Z" fill="rgb(35,35,35)"/>
<path d="M1231.5 331.4 1423.3 331.4 1423.3 530.1 1230.3 530.1 1230.3 331.4Z" fill="rgb(41,41,41)"/>
<path d="M1231.5 331.4 1423.3 331.4 1423.3 530.1 1230.3 530.1 1230.3 331.4Z" fill="rgb(48,48,48)"/>
<path d="M1231.5 331.4 1423.3 331.4 1423.3 530.1 1230.3 530.1 1230.3 331.4Z" fill="rgb(54,54,54)"/>
<path d="M1231.5 331.4 1301.7 331.4 1301.9 348.1 1302.0 331.4 1423.3 331.4 1423.3 530.1 1230.3 530.1 1230.3 331.4Z" fill="rgb(61,61,61)"/>
<path d="M1231.5 331.4 1300.7 331.4 1300.7 346.4 1301.9 350.3 1302.2 331.4 1320.1 331.4 1320.1 346.4 1320.1 331.4 1423.3 331.4 1423.3 530.1 1230.3 530.1 1230.3 331.4Z" fill="rgb(67,67,67)"/>
<path d="M1231.5 331.4 1300.6 331.4 1300.7 350.2 1301.9 351.8 1302.4 331.4 1319.9 331.4 1320.1 349.9 1321.1 346.4 1321.1 331.4 1423.3 331.4 1423.3 530.1 1230.3 530.1 1230.3 331.4Z" fill="rgb(73,73,73)"/>
<path d="M1231.5 331.4 1300.5 331.4 1300.7 351.4 1301.9 353.0 1302.6 348.1 1302.6 331.4 1319.7 331.4 1320.1 351.4 1321.3 349.6 1321.4 331.4 1423.3 331.4 1423.3 530.1 1230.3 530.1 1230.3 331.4Z" fill="rgb(80,80,80)"/>
<path d="M1231.5 331.4 1300.4 331.4 1300.6 351.4 1300.7 353.1 1301.9 354.0 1302.8 348.1 1302.8 331.4 1314.0 331.4 1314.1 348.1 1315.3 348.1 1315.3 331.4 1319.5 331.4 1319.5 348.1 1320.1 352.5 1321.3 351.2 1321.5 331.4 1423.3 331.4 1423.3 530.1 1230.3 530.1 1230.3 331.4Z" fill="rgb(86,86,86)"/>
<path d="M1231.5 331.4 1300.3 331.4 1300.4 351.4 1300.7 354.2 1301.9 355.0 1303.0 348.1 1303.1 331.4 1313.9 331.4 1314.1 350.3 1315.3 350.3 1315.4 331.4 1319.3 331.4 1319.3 348.1 1320.1 353.5 1321.3 352.5 1321.4 351.4 1321.6 331.4 1423.3 331.4 1423.3 530.1 1230.3 530.1 1230.3 331.4Z" fill="rgb(92,92,92)"/>
<path d="M1231.5 331.4 1300.2 331.4 1300.3 351.4 1300.7 355.3 1301.9 355.8 1303.1 349.7 1303.2 331.4 1306.6 331.4 1306.8 349.3 1307.4 346.4 1307.4 331.4 1313.8 331.4 1314.0 351.4 1315.3 351.7 1315.5 331.4 1319.1 331.4 1319.1 348.1 1320.1 354.4 1321.3 353.5 1321.5 351.4 1321.7 331.4 1423.3 331.4 1423.3 530.1 1230.3 530.1 1230.3 331.4Z" fill="rgb(99,99,99)"/>
<path d="M1231.5 331.4 1300.1 331.4 1300.3 353.1 1300.7 356.3 1301.9 356.7 1303.2 349.7 1303.3 331.4 1306.3 331.4 1306.8 351.2 1308.0 348.8 1308.0 331.4 1313.7 331.4 1313.9 351.4 1314.1 352.9 1315.3 352.9 1315.7 331.4 1318.9 331.4 1318.9 348.1 1320.1 355.3 1321.3 354.5 1321.6 351.4 1321.7 331.4 1423.3 331.4 1423.3 530.1 1230.3 530.1 1230.3 331.4Z" fill="rgb(105,105,105)"/>
<path d="M1231.5 331.4 1300.0 331.4 1300.2 353.1 1300.7 357.2 1301.9 357.5 1303.3 351.4 1303.4 331.4 1306.1 331.4 1306.1 348.1 1306.8 352.6 1308.0 350.9 1308.1 331.4 1313.6 331.4 1313.8 351.4 1314.1 353.9 1315.3 353.9 1315.8 331.4 1318.8 331.4 1318.9 349.7 1320.1 356.1 1321.3 355.4 1321.6 353.1 1321.8 331.4 1423.3 331.4 1423.3 530.1 1230.3 530.1 1230.3 331.4Z" fill="rgb(112,112,112)"/>
<path d="M1231.5 331.4 1299.9 331.4 1300.1 353.1 1300.7 358.1 1301.9 358.3 1303.4 351.4 1303.6 331.4 1305.8 331.4 1305.8 348.1 1306.8 353.7 1308.1 351.4 1308.2 331.4 1313.5 331.4 1313.7 351.4 1314.1 354.8 1315.3 354.8 1315.9 348.1 1315.9 331.4 1318.7 331.4 1318.8 349.7 1320.1 356.9 1321.3 356.3 1321.7 353.1 1321.9 331.4 1423.3 331.4 1423.3 530.1 1230.3 530.1 1230.3 331.4Z" fill="rgb(118,118,118)"/>
<path d="M1231.5 331.4 1299.8 331.4 1300.1 354.8 1300.7 358.9 1301.9 359.1 1303.1 355.5 1303.5 351.4 1303.7 331.4 1305.5 331.4 1305.5 348.1 1306.8 354.8 1308.0 353.5 1308.2 351.4 1308.3 331.4 1313.4 331.4 1313.6 351.4 1314.1 355.6 1315.3 355.6 1316.0 348.1 1316.1 331.4 1318.6 331.4 1318.7 351.4 1320.1 357.6 1321.3 357.1 1321.8 353.1 1322.0 331.4 1423.3 331.4 1423.3 530.1 1230.3 530.1 1230.3 331.4Z" fill="rgb(124,124,124)"/>
<path d="M1231.5 331.4 1299.7 331.4 1300.0 354.8 1300.7 359.8 1301.9 359.8 1303.1 356.6 1303.7 351.4 1303.8 331.4 1305.3 331.4 1305.4 349.7 1306.8 355.7 1308.0 354.6 1308.2 351.4 1308.4 331.4 1313.3 331.4 1313.5 351.4 1314.1 356.5 1315.3 356.5 1316.2 348.1 1316.2 331.4 1318.5 331.4 1318.6 351.4 1320.1 358.3 1321.3 357.9 1321.9 353.1 1322.1 331.4 1423.3 331.4 1423.3 530.1 1230.3 530.1 1230.3 331.4ZM1311.3 486.7 1309.0 491.7 1308.5 496.7 1309.4 501.7 1311.6 505.4 1312.8 503.6 1313.4 496.7 1312.8 488.2 1311.6 486.3Z" fill="rgb(131,131,131)"/>
<path d="M1231.5 331.4 1299.6 331.4 1299.7 351.4 1300.7 360.6 1301.9 360.6 1303.5 354.8 1303.9 331.4 1305.1 331.4 1305.2 349.7 1306.8 356.6 1308.0 355.5 1308.2 353.1 1308.5 331.4 1313.2 331.4 1313.5 353.1 1314.1 357.2 1315.3 357.2 1316.2 349.7 1316.3 331.4 1318.4 331.4 1318.5 351.4 1318.9 355.6 1320.1 359.0 1321.3 358.7 1321.8 354.8 1322.2 331.4 1423.3 331.4 1423.3 530.1 1230.3 530.1 1230.3 331.4ZM1311.0 480.0 1308.0 483.8 1306.8 486.7 1306.0 498.4 1306.8 504.5 1308.0 507.4 1311.6 510.9 1312.8 509.9 1314.2 503.4 1314.4 491.7 1313.2 481.7 1312.8 480.3 1311.6 479.3Z" fill="rgb(137,137,137)"/>
<path d="M1231.5 331.4 1299.5 331.4 1299.6 353.1 1300.7 361.5 1301.9 361.3 1302.7 359.8 1303.7 354.8 1304.0 331.4 1304.9 331.4 1305.1 351.4 1306.8 357.4 1308.0 356.5 1308.3 353.1 1308.6 331.4 1313.1 331.4 1313.4 353.1 1314.1 358.0 1315.3 358.0 1316.4 349.7 1316.4 331.4 1318.3 331.4 1318.4 351.4 1318.9 356.6 1320.1 359.8 1321.3 359.4 1321.9 354.8 1322.2 331.4 1423.3 331.4 1423.3 530.1 1230.3 530.1 1230.3 331.4ZM1310.3 475.0 1306.8 478.8 1305.6 482.8 1304.6 491.7 1304.7 500.1 1305.6 507.3 1306.8 511.2 1308.0 512.8 1311.3 515.1 1312.8 514.4 1314.1 510.5 1314.9 503.4 1315.0 488.4 1314.1 478.8 1312.8 474.1 1311.6 473.6 1310.4 474.8Z" fill="rgb(143,143,143)"/>
<path d="M1231.5 331.4 1299.3 331.4 1299.4 349.7 1300.7 362.4 1302.3 361.4 1303.6 356.4 1304.1 331.4 1304.7 331.4 1304.9 351.4 1305.6 355.7 1306.8 358.3 1308.0 357.3 1308.4 353.1 1308.7 331.4 1313.0 331.4 1313.2 353.1 1314.1 358.7 1315.3 358.7 1316.6 348.1 1316.6 331.4 1318.2 331.4 1318.4 353.1 1318.9 357.5 1320.1 360.5 1321.3 360.2 1322.0 354.8 1322.3 331.4 1423.3 331.4 1423.3 530.1 1230.3 530.1 1230.3 331.4ZM1311.3 468.3 1306.8 472.4 1305.6 475.0 1303.7 485.0 1303.3 496.7 1304.1 506.7 1306.1 515.1 1307.2 516.8 1310.4 518.8 1311.6 519.4 1312.8 518.5 1315.3 507.8 1315.9 491.7 1314.1 472.2 1312.8 468.2 1311.6 468.0ZM1379.4 473.3 1379.3 481.7 1379.6 485.3 1379.9 483.4 1379.6 471.7Z" fill="rgb(150,150,150)"/>
<path d="M1231.5 331.4 1299.1 331.4 1299.2 351.4 1300.7 363.2 1301.9 362.9 1302.7 361.4 1303.8 356.4 1304.3 331.4 1304.6 349.7 1305.6 356.9 1306.8 359.1 1308.0 358.2 1308.2 356.4 1308.8 331.4 1312.9 331.4 1313.1 353.1 1314.1 359.4 1315.3 359.4 1316.8 349.7 1316.9 331.4 1318.1 331.4 1318.3 353.1 1318.9 358.4 1320.1 361.2 1321.3 360.9 1322.2 354.8 1322.4 331.4 1423.3 331.4 1423.3 530.1 1230.3 530.1 1230.3 331.4ZM1379.2 446.6 1378.4 448.6 1376.0 467.1 1374.8 468.6 1372.3 455.7 1371.1 455.9 1370.3 460.0 1369.1 468.3 1368.7 476.7 1369.2 485.0 1370.7 493.4 1371.1 495.1 1372.3 495.9 1374.8 486.3 1376.0 487.5 1378.1 500.1 1379.6 504.2 1380.8 502.9 1383.3 491.0 1384.5 487.8 1386.9 496.4 1389.2 501.7 1391.7 505.5 1393.0 503.9 1394.3 495.0 1394.9 481.7 1394.4 468.3 1393.0 456.9 1391.7 454.4 1390.5 455.7 1386.9 463.0 1384.5 471.5 1383.3 467.8 1380.8 450.1 1379.6 445.6ZM1363.8 458.3 1362.6 471.7 1363.0 483.4 1363.8 488.7 1365.0 490.0 1366.7 483.4 1367.2 475.0 1366.7 466.7 1365.0 456.8 1363.8 458.0ZM1310.7 463.3 1309.2 465.0 1306.8 466.0 1304.9 470.0 1302.4 481.7 1301.6 495.0 1302.7 506.7 1305.6 519.3 1306.8 521.5 1308.0 522.2 1311.6 524.1 1312.8 523.2 1314.1 519.3 1315.9 508.4 1316.6 493.4 1315.7 478.3 1314.1 465.6 1312.8 461.8 1311.6 461.9ZM1401.2 466.7 1400.2 471.7 1399.8 485.0 1400.2 494.0 1401.5 499.5 1401.8 498.4 1402.8 493.4 1403.3 481.7 1402.7 471.0 1401.5 465.6Z" fill="rgb(156,156,156)"/>
<path d="M1231.5 331.4 1298.8 331.4 1299.0 353.1 1300.7 364.1 1301.9 363.7 1303.1 361.3 1304.3 349.1 1305.6 358.0 1306.8 359.9 1308.0 359.0 1308.8 349.7 1308.8 331.4 1312.8 331.4 1313.1 354.8 1314.1 360.1 1315.3 360.1 1317.0 349.7 1317.1 331.4 1318.0 331.4 1318.2 353.1 1318.9 359.3 1320.1 361.9 1321.3 361.7 1322.1 356.4 1322.5 331.4 1423.3 331.4 1423.3 465.3 1422.1 460.5 1420.8 468.3 1420.0 483.4 1421.4 501.7 1422.1 505.6 1423.3 501.4 1423.3 530.1 1312.9 530.1 1316.6 508.4 1317.4 495.0 1315.7 470.0 1314.1 458.0 1312.8 454.0 1311.6 454.6 1309.2 458.5 1306.8 458.7 1305.6 460.0 1300.7 475.0 1299.4 486.7 1300.3 503.4 1303.9 520.1 1305.6 525.8 1306.8 527.8 1309.2 528.4 1310.9 530.1 1230.3 530.1 1230.3 331.4ZM1379.5 419.9 1378.4 423.2 1376.0 441.2 1374.8 442.0 1372.3 430.9 1371.1 430.3 1368.7 439.6 1367.5 438.7 1365.0 424.8 1363.8 424.9 1361.4 439.6 1360.2 441.5 1357.8 436.2 1356.5 440.8 1354.1 466.1 1352.9 465.7 1349.3 428.0 1348.0 427.9 1344.9 438.3 1343.9 450.0 1343.2 476.7 1344.4 494.3 1345.6 496.1 1348.0 497.2 1349.3 497.4 1350.5 495.8 1352.1 488.4 1352.9 480.2 1354.1 480.1 1355.8 493.4 1357.8 498.7 1360.2 497.9 1361.4 498.4 1363.8 502.1 1365.0 502.5 1367.5 500.6 1368.7 501.1 1371.1 505.4 1372.3 506.0 1374.8 503.4 1376.0 503.8 1379.6 512.6 1380.8 512.2 1383.3 506.9 1384.5 506.1 1391.7 518.7 1393.0 517.7 1394.2 513.1 1396.6 498.7 1397.8 498.7 1400.2 513.8 1401.5 517.9 1402.7 515.4 1405.1 502.8 1406.3 502.1 1408.7 508.7 1410.0 507.9 1412.9 491.7 1413.5 483.4 1412.9 475.0 1410.0 457.8 1408.7 456.0 1406.3 462.6 1405.1 462.2 1402.7 448.6 1401.5 444.9 1400.2 448.5 1397.8 464.8 1396.6 464.5 1393.0 436.8 1391.7 433.9 1384.5 447.4 1383.3 445.2 1379.6 419.7Z" fill="rgb(163,163,163)"/>
<path d="M1231.5 331.4 1298.6 331.4 1298.8 354.8 1300.7 365.1 1301.9 364.5 1303.1 362.3 1304.3 352.9 1305.6 359.1 1306.8 360.7 1308.0 359.8 1308.9 349.7 1308.9 331.4 1312.6 331.4 1313.0 354.8 1314.1 360.8 1315.3 360.8 1317.1 351.4 1317.3 331.4 1317.9 331.4 1318.2 354.8 1318.9 360.2 1320.1 362.6 1321.3 362.5 1322.3 356.4 1322.6 331.4 1423.3 331.4 1423.3 435.3 1422.1 432.8 1418.5 453.7 1417.2 454.9 1413.6 449.0 1410.0 436.0 1408.7 434.3 1406.3 440.7 1405.1 441.0 1401.5 421.4 1400.2 426.1 1397.8 444.4 1396.6 444.2 1394.9 429.9 1393.0 399.3 1391.7 391.9 1389.3 406.2 1384.5 423.4 1383.3 420.2 1382.4 411.5 1379.6 368.7 1378.4 375.5 1376.0 411.4 1374.8 413.3 1372.3 396.4 1371.1 394.9 1368.7 407.1 1367.5 404.5 1365.0 381.6 1363.8 381.5 1361.4 403.6 1360.2 406.3 1357.8 397.6 1356.5 400.9 1354.1 420.6 1352.9 418.7 1349.3 371.3 1348.0 368.3 1344.4 382.1 1343.2 400.8 1341.3 465.0 1341.6 490.0 1343.2 501.2 1344.4 503.2 1349.3 504.0 1350.5 503.5 1352.9 500.5 1354.1 500.5 1357.8 505.0 1361.4 505.2 1365.0 508.0 1367.5 507.2 1368.7 507.8 1371.1 511.1 1372.3 511.9 1374.8 510.6 1376.0 511.2 1379.6 520.4 1380.8 520.6 1383.3 516.1 1384.5 515.9 1387.1 521.8 1389.1 530.1 1314.5 530.1 1318.0 503.4 1318.4 493.4 1317.3 476.7 1314.7 453.3 1314.1 450.6 1312.8 449.1 1309.2 451.4 1305.6 451.1 1301.9 457.3 1299.5 456.5 1298.3 463.9 1297.4 483.4 1298.1 500.1 1299.5 511.8 1304.0 530.1 1256.9 530.1 1256.6 468.3 1255.8 445.5 1255.2 530.1 1230.3 530.1 1230.3 331.4ZM1335.9 431.6 1334.7 457.1 1334.6 490.0 1334.7 494.1 1335.9 498.4 1337.2 488.4 1337.2 460.0 1335.9 430.5ZM1417.2 512.8 1418.5 513.9 1421.0 530.1 1403.6 530.1 1405.1 521.9 1406.3 521.6 1408.7 529.9 1410.0 529.9 1413.6 517.1 1416.7 513.4ZM1396.6 515.3 1397.8 515.7 1399.9 530.1 1394.1 530.1 1396.3 516.8Z" fill="rgb(169,169,169)"/>
<path d="M1231.5 331.4 1233.5 331.4 1233.9 353.5 1234.2 331.4 1244.9 331.4 1244.9 396.5 1244.2 418.2 1243.6 430.7 1242.4 438.3 1241.2 437.5 1240.0 443.8 1239.1 460.0 1239.2 530.1 1236.0 530.1 1236.2 460.0 1233.9 415.2 1232.7 434.1 1232.3 456.6 1232.7 530.1 1230.3 530.1 1230.3 331.4ZM1248.5 331.4 1254.1 331.4 1253.2 530.1 1249.2 530.1 1248.1 331.4ZM1258.2 331.4 1275.6 331.4 1275.3 468.3 1276.4 490.0 1277.6 490.6 1278.7 478.3 1279.0 465.0 1278.7 331.4 1286.6 331.4 1286.7 398.2 1284.9 441.6 1284.9 471.5 1286.1 478.0 1287.3 478.4 1288.6 482.6 1291.0 494.0 1292.2 495.6 1294.6 492.1 1295.8 496.9 1299.4 530.1 1259.0 530.1 1259.0 463.3 1257.7 399.9 1257.4 331.4ZM1293.4 331.4 1298.3 331.4 1298.6 356.4 1299.2 361.4 1300.7 366.1 1301.9 365.3 1303.1 363.2 1304.3 355.4 1305.6 360.1 1306.8 361.4 1308.0 360.5 1308.9 351.4 1309.0 331.4 1312.5 331.4 1312.9 354.8 1314.1 361.5 1315.3 361.5 1317.4 351.4 1317.8 331.4 1318.0 354.8 1318.9 361.1 1320.1 363.3 1321.3 363.3 1322.2 358.1 1322.7 331.4 1334.9 331.4 1333.4 481.7 1333.5 495.0 1334.5 503.4 1335.9 505.3 1339.5 496.2 1342.0 503.5 1344.4 507.1 1349.3 507.7 1352.9 505.6 1354.1 505.7 1357.8 508.8 1361.4 509.3 1365.0 511.9 1367.5 511.7 1368.7 512.4 1372.3 517.0 1374.8 516.4 1376.0 517.3 1377.7 523.4 1378.0 530.1 1315.4 530.1 1316.3 520.1 1319.4 501.7 1319.8 495.0 1319.2 483.4 1315.3 450.0 1314.1 447.1 1312.8 446.2 1309.2 447.9 1305.6 446.8 1303.1 447.4 1301.9 446.8 1299.5 442.9 1298.3 442.1 1295.8 446.4 1294.6 444.1 1294.3 441.6 1292.9 418.2 1293.2 331.4ZM1337.1 331.4 1342.5 331.4 1340.8 409.5 1339.5 431.0 1338.3 415.3 1336.6 331.4ZM1351.7 331.4 1361.9 331.4 1361.4 348.6 1360.2 357.4 1357.8 333.9 1356.5 336.8 1354.1 371.0 1352.9 367.0 1351.6 331.4ZM1367.5 331.4 1370.4 331.4 1368.7 353.2 1367.5 344.8 1367.1 331.4ZM1373.5 331.4 1376.4 331.4 1376.0 352.3 1374.8 362.9 1372.5 331.4ZM1383.3 331.4 1386.5 331.4 1384.5 369.0 1383.3 365.1 1382.2 331.4ZM1395.4 331.4 1401.5 331.4 1399.5 393.2 1397.8 418.5 1396.6 417.9 1395.4 396.5 1394.5 331.4ZM1402.7 331.4 1423.3 331.4 1423.3 411.4 1422.1 408.8 1418.5 430.4 1417.2 431.8 1413.6 427.5 1412.4 424.4 1408.7 408.8 1406.3 416.4 1405.1 416.6 1403.8 406.5 1402.3 379.8 1401.5 331.4Z" fill="rgb(175,175,175)"/>
<path d="M1250.9 331.4 1251.5 393.2 1250.9 411.7 1250.8 331.4ZM1271.6 331.4 1273.4 331.4 1273.5 398.2 1272.8 431.3 1271.6 418.4 1271.2 404.9 1270.9 331.4ZM1297.1 331.4 1297.4 354.8 1298.7 363.1 1300.7 367.2 1303.1 364.2 1304.3 357.5 1305.8 361.4 1306.8 362.2 1308.0 361.3 1309.0 351.4 1309.1 331.4 1312.4 331.4 1312.5 351.4 1314.1 362.2 1315.3 362.2 1316.1 359.8 1317.7 350.0 1318.9 361.9 1320.1 364.1 1321.3 364.1 1322.8 351.4 1322.9 331.4 1333.6 331.4 1332.5 485.0 1332.7 496.7 1333.5 504.8 1334.7 508.6 1335.9 509.1 1339.5 504.1 1344.4 510.1 1349.3 510.5 1352.9 509.0 1354.1 509.0 1357.8 511.9 1361.4 512.6 1365.0 515.5 1367.5 515.7 1368.7 516.7 1370.5 520.1 1372.3 526.5 1373.5 526.5 1374.8 525.0 1374.8 530.1 1373.5 527.5 1372.3 527.2 1371.8 530.1 1316.3 530.1 1317.4 518.4 1320.7 503.4 1321.3 495.0 1320.4 478.3 1316.8 451.6 1315.4 446.6 1314.1 444.4 1312.8 443.8 1309.2 445.3 1303.1 443.0 1301.9 441.7 1296.5 428.2 1295.8 424.9 1295.3 369.8 1295.8 356.2 1297.0 346.4 1297.0 331.4ZM1411.2 331.4 1421.1 331.4 1420.7 384.8 1419.4 401.5 1418.5 407.6 1417.2 409.5 1413.6 402.6 1412.4 397.4 1411.4 388.2 1410.7 374.8 1410.5 331.4ZM1281.3 485.1 1284.9 498.4 1286.1 499.4 1287.3 499.4 1288.6 500.9 1291.0 508.4 1292.2 510.5 1294.6 509.5 1295.8 513.2 1296.5 518.4 1296.9 530.1 1270.1 530.1 1270.1 513.4 1272.8 486.7 1276.4 510.5 1277.6 509.2 1281.0 486.7Z" fill="rgb(182,182,182)"/>
<path d="M1310.4 331.4 1312.2 331.4 1312.4 353.1 1314.1 362.9 1315.3 363.0 1315.9 361.4 1317.7 353.3 1318.9 362.8 1320.1 364.8 1321.3 364.9 1322.9 353.1 1323.1 331.4 1332.8 331.4 1331.7 490.0 1332.2 501.7 1333.5 509.0 1334.7 511.7 1335.9 512.1 1339.5 508.0 1344.4 512.6 1349.3 513.0 1354.1 511.8 1357.8 514.7 1361.4 515.8 1365.0 519.6 1367.5 520.5 1368.4 521.8 1369.2 525.1 1368.7 530.1 1317.2 530.1 1317.7 521.8 1321.3 507.8 1322.4 496.7 1321.3 470.4 1319.3 455.0 1317.4 448.3 1314.1 442.1 1312.8 441.7 1309.2 443.0 1304.3 440.3 1302.4 438.3 1300.1 431.6 1298.4 419.9 1298.5 369.8 1299.4 368.1 1300.7 368.4 1301.9 367.2 1303.1 365.2 1304.3 359.3 1305.6 362.2 1306.8 363.0 1308.0 362.1 1309.1 353.1 1309.2 331.4ZM1281.3 503.1 1282.5 504.2 1284.9 512.2 1286.1 513.3 1287.3 513.1 1288.6 515.1 1289.5 523.4 1288.7 530.1 1279.3 530.1 1279.3 515.1 1281.2 503.4Z" fill="rgb(188,188,188)"/>
<path d="M1310.4 331.4 1312.1 331.4 1312.3 353.1 1313.8 363.1 1314.1 363.6 1315.3 363.7 1317.7 355.7 1318.9 363.7 1320.1 365.6 1321.3 365.8 1323.0 354.8 1323.3 331.4 1332.1 331.4 1331.8 423.2 1330.8 490.0 1331.3 501.7 1332.8 510.1 1334.7 514.6 1335.9 514.9 1339.5 510.9 1344.4 515.0 1349.3 515.4 1352.9 514.2 1354.1 514.4 1357.8 517.6 1360.2 518.5 1362.0 520.1 1363.4 523.4 1363.7 526.8 1362.6 530.1 1318.4 530.1 1318.9 521.8 1322.4 508.4 1323.5 498.4 1323.2 480.0 1321.3 451.5 1320.1 447.5 1314.1 439.9 1312.8 439.7 1309.2 440.9 1306.8 439.5 1303.1 435.9 1301.1 429.9 1299.8 419.9 1299.7 373.1 1299.9 371.5 1303.1 366.2 1304.3 361.1 1305.6 363.3 1306.8 363.8 1308.0 362.9 1308.3 361.4 1309.4 349.7 1309.4 331.4Z" fill="rgb(194,194,194)"/>
<path d="M1310.4 331.4 1312.0 331.4 1312.1 353.1 1313.6 363.1 1314.1 364.4 1315.3 364.4 1317.7 357.8 1318.9 364.7 1320.1 366.5 1321.3 366.7 1323.1 356.4 1323.4 331.4 1331.4 331.4 1331.0 429.3 1329.7 490.0 1330.2 501.7 1331.9 510.1 1334.7 517.6 1335.9 517.8 1339.5 513.5 1344.4 517.5 1349.3 517.9 1352.9 516.8 1354.1 517.0 1359.6 523.4 1360.3 525.1 1359.9 526.8 1357.0 530.1 1320.2 530.1 1320.2 523.4 1323.8 506.7 1324.7 496.7 1324.4 480.0 1322.4 448.3 1321.3 443.6 1320.1 442.2 1317.7 441.6 1314.1 437.9 1312.8 437.7 1309.2 438.9 1304.7 434.9 1303.1 432.4 1301.9 428.4 1300.9 419.9 1300.7 373.1 1304.3 362.9 1305.6 364.3 1306.8 364.6 1308.0 363.7 1308.5 361.4 1309.6 349.7 1309.6 331.4Z" fill="rgb(201,201,201)"/>
<path d="M1310.4 331.4 1311.8 331.4 1312.0 353.1 1313.3 363.1 1314.1 365.2 1315.3 365.2 1317.7 359.7 1318.9 365.7 1320.1 367.4 1321.3 367.8 1322.4 364.8 1323.3 358.1 1323.6 331.4 1330.7 331.4 1330.1 434.9 1328.6 473.7 1327.4 486.3 1326.2 481.6 1323.9 450.0 1322.2 439.9 1321.3 438.1 1320.1 437.8 1317.7 438.6 1314.1 435.8 1310.4 437.0 1308.0 436.3 1303.6 429.9 1302.1 423.2 1301.6 373.1 1304.3 364.7 1306.8 365.5 1308.0 364.5 1308.4 363.1 1309.7 351.4 1309.8 331.4ZM1327.4 497.3 1334.7 521.8 1335.9 522.0 1338.3 517.0 1339.5 516.0 1340.8 516.5 1344.4 520.7 1349.3 521.4 1352.9 519.9 1354.1 520.3 1355.7 523.4 1355.7 526.8 1353.8 530.1 1352.4 530.1 1349.3 528.5 1344.4 528.9 1343.2 530.1 1337.0 530.1 1335.9 527.4 1334.7 527.5 1333.9 530.1 1321.8 530.1 1322.1 520.1 1327.1 498.4Z" fill="rgb(207,207,207)"/>
<path d="M1310.4 331.4 1311.7 331.4 1311.8 353.1 1313.0 363.1 1314.1 366.0 1315.3 366.0 1317.7 361.5 1318.9 366.7 1320.1 368.5 1321.3 369.0 1322.9 364.8 1323.5 359.8 1323.8 331.4 1329.9 331.4 1329.4 424.9 1328.6 444.9 1327.4 456.7 1326.2 456.0 1323.9 439.9 1321.8 433.3 1321.3 432.7 1317.7 435.7 1314.1 433.8 1309.2 435.1 1307.1 433.3 1305.1 429.9 1303.1 423.2 1302.5 373.1 1304.3 366.7 1306.8 366.4 1308.0 365.4 1308.6 363.1 1309.9 351.4 1310.1 331.4ZM1326.2 508.3 1327.4 507.1 1328.6 508.1 1332.0 516.8 1333.4 523.4 1332.7 530.1 1323.0 530.1 1323.1 520.1 1326.2 508.4ZM1339.5 519.0 1341.2 520.1 1342.6 523.4 1342.4 526.8 1340.8 530.1 1339.1 530.1 1337.7 526.8 1337.5 523.4 1338.5 520.1Z" fill="rgb(214,214,214)"/>
<path d="M1310.4 331.4 1311.1 331.4 1311.2 348.1 1312.1 359.8 1313.1 364.8 1314.1 366.8 1315.3 366.9 1317.7 363.4 1318.9 367.9 1321.3 370.6 1322.8 368.1 1323.6 363.1 1324.4 351.4 1324.5 331.4 1328.7 331.4 1328.2 419.9 1327.4 435.3 1326.2 438.3 1322.6 426.5 1321.3 426.4 1317.7 432.7 1314.1 431.7 1310.4 433.2 1309.2 433.2 1307.6 431.6 1305.7 428.2 1303.9 421.6 1303.5 373.1 1304.3 369.1 1308.0 366.3 1308.8 363.1 1310.1 351.4 1310.3 331.4ZM1327.4 511.6 1328.6 512.1 1329.8 514.0 1331.8 520.1 1332.3 525.1 1331.6 530.1 1324.1 530.1 1324.1 520.1 1325.3 515.1 1327.3 511.8Z" fill="rgb(220,220,220)"/>
<path d="M1310.4 349.3 1312.4 363.1 1313.3 366.5 1314.1 367.7 1315.3 367.8 1317.7 365.4 1318.9 369.4 1320.9 373.1 1320.7 418.2 1319.2 426.6 1317.7 429.6 1316.5 430.1 1314.1 429.4 1310.4 431.3 1309.2 431.1 1306.8 427.7 1304.9 421.6 1304.5 373.1 1305.5 369.8 1308.0 367.3 1308.8 364.8 1309.9 358.1 1310.4 349.7ZM1326.2 358.0 1326.6 371.5 1326.2 401.7 1325.0 407.9 1324.2 373.1 1325.0 362.6 1326.2 358.1ZM1327.4 515.5 1328.6 515.8 1329.8 517.6 1331.0 521.8 1331.1 526.8 1330.4 530.1 1325.3 530.1 1324.8 523.4 1326.3 516.8Z" fill="rgb(226,226,226)"/>
<path d="M1310.4 355.3 1311.6 359.1 1312.3 364.8 1313.6 368.1 1314.1 368.8 1315.3 368.9 1317.7 367.7 1319.4 373.1 1319.2 418.2 1317.7 425.9 1316.5 427.0 1314.1 426.9 1310.4 429.2 1309.2 429.0 1308.0 427.5 1306.0 421.6 1305.6 373.1 1305.9 371.5 1308.7 366.5 1310.3 356.4ZM1327.4 520.0 1328.6 520.2 1329.7 523.4 1329.6 526.8 1328.6 529.3 1327.4 529.6 1326.3 526.8 1326.2 523.4 1327.3 520.1Z" fill="rgb(233,233,233)"/>
<path d="M1310.4 359.6 1312.8 368.2 1314.1 370.1 1316.5 369.8 1317.7 371.0 1318.1 373.1 1317.9 418.2 1316.5 423.2 1314.1 423.9 1310.4 426.9 1309.2 426.6 1308.0 424.7 1306.8 419.9 1306.6 373.1 1308.7 368.1 1310.4 359.8Z" fill="rgb(239,239,239)"/>
<path d="M1310.4 363.9 1312.8 370.6 1314.1 372.3 1315.7 373.1 1314.4 416.6 1313.5 419.9 1310.4 424.1 1309.0 423.2 1307.7 418.2 1307.7 373.1 1310.3 364.8Z" fill="rgb(245,245,245)"/>
<path d="M1310.4 369.6 1311.4 373.1 1310.9 418.2 1310.4 419.7 1309.4 418.2 1309.2 415.4 1309.1 373.1 1310.4 369.8Z" fill="rgb(252,252,252)"/>
</g>
</g>
<line x1="1234.0" y1="526.0" x2="1419.6" y2="526.0" stroke="#5a6e50" stroke-width="0.9"/>
<line x1="1302.1" y1="335.2" x2="1302.1" y2="526.3" stroke="#ff1a1a" stroke-width="2.1" stroke-dasharray="9.6 6.5" stroke-dashoffset="13.7"/>
<line x1="1320.3" y1="335.2" x2="1320.3" y2="526.3" stroke="#ff1a1a" stroke-width="2.1" stroke-dasharray="9.6 6.5" stroke-dashoffset="13.7"/>
<line x1="1326.8" y1="335.2" x2="1326.8" y2="526.3" stroke="#6b6b6b" stroke-width="1.5" stroke-dasharray="9.6 6.5" stroke-dashoffset="13.7"/>
<line x1="1234.0" y1="376.1" x2="1419.6" y2="376.1" stroke="#1e1e1e" stroke-width="2" stroke-dasharray="9.6 6.5" stroke-dashoffset="15.4"/>
<text x="1219.7" y="354.5" font-size="16.6" text-anchor="middle" fill="#262626">40</text>
<text x="1219.7" y="382.9" font-size="16.6" text-anchor="middle" fill="#262626">30</text>
<text x="1219.7" y="419.4" font-size="16.6" text-anchor="middle" fill="#262626">20</text>
<text x="1219.7" y="484.6" font-size="16.6" text-anchor="middle" fill="#262626">10</text>
<text x="1219.7" y="533.1" font-size="16.6" text-anchor="middle" fill="#262626">6</text>
<clipPath id="sc14"><rect x="1459.5" y="335.2" width="185.5" height="191.1"/></clipPath>
<g clip-path="url(#sc14)">
<g filter="url(#parS)">
<rect x="1456.5" y="332.2" width="191.5" height="197.1" fill="rgb(4,4,4)"/>
<path d="M1457.0 331.4 1648.7 331.4 1648.7 530.1 1455.8 530.1 1455.8 331.4Z" fill="rgb(10,10,10)"/>
<path d="M1457.0 331.4 1648.7 331.4 1648.7 530.1 1455.8 530.1 1455.8 331.4Z" fill="rgb(16,16,16)"/>
<path d="M1457.0 331.4 1648.7 331.4 1648.7 530.1 1455.8 530.1 1455.8 331.4Z" fill="rgb(22,22,22)"/>
<path d="M1457.0 331.4 1648.7 331.4 1648.7 530.1 1455.8 530.1 1455.8 331.4Z" fill="rgb(29,29,29)"/>
<path d="M1457.0 331.4 1648.7 331.4 1648.7 530.1 1455.8 530.1 1455.8 331.4Z" fill="rgb(35,35,35)"/>
<path d="M1457.0 331.4 1648.7 331.4 1648.7 530.1 1455.8 530.1 1455.8 331.4Z" fill="rgb(41,41,41)"/>
<path d="M1457.0 331.4 1648.7 331.4 1648.7 530.1 1455.8 530.1 1455.8 331.4Z" fill="rgb(48,48,48)"/>
<path d="M1457.0 331.4 1648.7 331.4 1648.7 530.1 1455.8 530.1 1455.8 331.4Z" fill="rgb(54,54,54)"/>
<path d="M1457.0 331.4 1527.2 331.4 1527.4 348.1 1527.4 331.4 1648.7 331.4 1648.7 530.1 1455.8 530.1 1455.8 331.4Z" fill="rgb(61,61,61)"/>
<path d="M1457.0 331.4 1526.2 331.4 1526.2 347.2 1527.4 350.5 1527.7 331.4 1545.6 331.4 1545.6 346.4 1545.6 331.4 1648.7 331.4 1648.7 530.1 1455.8 530.1 1455.8 331.4Z" fill="rgb(67,67,67)"/>
<path d="M1457.0 331.4 1526.1 331.4 1526.2 350.5 1527.4 352.0 1527.9 331.4 1545.3 331.4 1545.6 350.1 1546.7 346.4 1546.7 331.4 1648.7 331.4 1648.7 530.1 1455.8 530.1 1455.8 331.4Z" fill="rgb(73,73,73)"/>
<path d="M1457.0 331.4 1525.9 331.4 1526.1 351.4 1527.4 353.3 1528.1 348.1 1528.1 331.4 1545.1 331.4 1545.6 351.6 1546.8 350.0 1546.9 331.4 1648.7 331.4 1648.7 530.1 1455.8 530.1 1455.8 331.4Z" fill="rgb(80,80,80)"/>
<path d="M1457.0 331.4 1525.8 331.4 1526.0 351.4 1526.2 353.5 1527.4 354.3 1528.3 348.1 1528.4 331.4 1539.5 331.4 1539.5 348.2 1540.7 348.2 1540.8 331.4 1544.9 331.4 1544.9 348.1 1545.6 352.8 1546.8 351.4 1547.0 331.4 1648.7 331.4 1648.7 530.1 1455.8 530.1 1455.8 331.4Z" fill="rgb(86,86,86)"/>
<path d="M1457.0 331.4 1525.7 331.4 1525.9 351.4 1526.2 354.6 1527.4 355.3 1528.6 348.1 1528.6 331.4 1539.4 331.4 1539.5 350.6 1540.7 350.6 1540.9 331.4 1544.7 331.4 1544.7 348.1 1545.6 353.9 1546.8 353.0 1546.9 351.4 1547.1 331.4 1648.7 331.4 1648.7 530.1 1455.8 530.1 1455.8 331.4ZM1534.5 495.0 1534.7 503.3 1535.9 503.5 1536.1 501.7 1535.9 493.7 1534.7 494.0Z" fill="rgb(92,92,92)"/>
<path d="M1457.0 331.4 1525.6 331.4 1525.9 353.1 1526.2 355.7 1527.4 356.3 1528.7 349.7 1528.7 331.4 1532.0 331.4 1532.2 349.6 1533.0 346.4 1533.0 331.4 1539.2 331.4 1539.4 351.4 1539.5 352.1 1540.7 352.2 1541.1 331.4 1544.4 331.4 1544.5 348.1 1545.6 354.9 1546.8 354.1 1547.0 351.4 1547.2 331.4 1648.7 331.4 1648.7 530.1 1455.8 530.1 1455.8 331.4ZM1534.5 486.7 1533.3 493.4 1533.4 505.1 1534.7 510.7 1535.9 510.7 1536.6 508.4 1537.7 501.7 1537.5 493.4 1535.9 486.2 1534.7 486.2Z" fill="rgb(99,99,99)"/>
<path d="M1457.0 331.4 1525.5 331.4 1525.8 353.1 1526.2 356.7 1527.4 357.2 1528.7 351.4 1528.9 331.4 1531.7 331.4 1532.2 351.6 1533.4 349.6 1533.5 331.4 1539.1 331.4 1539.3 351.4 1539.5 353.4 1540.7 353.5 1541.2 331.4 1544.3 331.4 1544.4 349.7 1545.6 355.8 1546.8 355.1 1547.1 351.4 1547.3 331.4 1648.7 331.4 1648.7 530.1 1455.8 530.1 1455.8 331.4ZM1534.5 481.7 1533.4 484.9 1532.6 491.7 1532.6 505.1 1533.4 511.8 1534.7 515.4 1535.9 515.3 1537.1 512.5 1538.8 503.4 1538.8 493.4 1537.1 484.1 1535.9 481.3 1534.7 481.3Z" fill="rgb(105,105,105)"/>
<path d="M1457.0 331.4 1525.4 331.4 1525.6 353.1 1526.2 357.7 1527.4 358.0 1528.8 351.4 1529.0 331.4 1531.4 331.4 1531.5 348.1 1532.2 353.1 1533.5 351.4 1533.6 331.4 1539.0 331.4 1539.2 351.4 1539.5 354.5 1540.7 354.6 1541.3 348.1 1541.4 331.4 1544.2 331.4 1544.2 349.7 1545.6 356.6 1546.8 356.1 1547.1 353.1 1547.3 331.4 1648.7 331.4 1648.7 530.1 1455.8 530.1 1455.8 331.4ZM1534.1 478.3 1531.9 490.0 1531.8 505.1 1533.2 515.1 1534.7 519.4 1535.9 519.3 1537.1 516.8 1539.6 506.7 1539.9 493.4 1537.8 481.7 1535.9 477.2 1534.7 477.2Z" fill="rgb(112,112,112)"/>
<path d="M1457.0 331.4 1525.3 331.4 1525.5 353.1 1526.2 358.6 1527.4 358.9 1528.6 355.3 1529.0 351.4 1529.1 331.4 1531.1 331.4 1531.2 348.1 1532.2 354.3 1533.4 353.2 1533.6 351.4 1533.7 331.4 1538.9 331.4 1539.1 351.4 1539.5 355.5 1540.7 355.6 1541.5 348.1 1541.5 331.4 1544.0 331.4 1544.2 351.4 1545.6 357.5 1546.8 357.0 1547.2 353.1 1547.4 331.4 1648.7 331.4 1648.7 530.1 1455.8 530.1 1455.8 331.4ZM1534.7 473.3 1533.2 476.7 1531.6 485.0 1530.8 495.0 1530.9 503.4 1532.0 513.4 1533.4 520.5 1534.7 523.2 1535.9 523.0 1537.1 520.7 1539.5 513.4 1540.4 508.4 1540.9 493.4 1540.3 486.7 1538.8 480.0 1535.9 473.4 1534.7 473.3Z" fill="rgb(118,118,118)"/>
<path d="M1457.0 331.4 1525.2 331.4 1525.5 354.8 1526.2 359.6 1527.4 359.7 1528.6 356.5 1529.1 351.4 1529.2 331.4 1530.9 331.4 1531.0 349.7 1532.2 355.4 1533.4 354.4 1533.7 351.4 1533.8 331.4 1538.8 331.4 1538.9 351.4 1539.5 356.5 1540.7 356.6 1541.6 349.7 1541.7 331.4 1543.9 331.4 1544.1 351.4 1544.4 354.8 1545.6 358.3 1546.8 357.9 1547.3 353.1 1547.5 331.4 1648.7 331.4 1648.7 530.1 1455.8 530.1 1455.8 331.4ZM1534.4 470.0 1532.6 475.0 1531.0 483.4 1530.0 500.1 1530.7 510.1 1532.2 519.5 1534.7 527.0 1535.9 526.8 1538.8 520.1 1540.7 513.0 1541.7 495.0 1540.8 483.4 1539.5 477.4 1537.1 471.5 1535.9 469.7 1534.7 469.6Z" fill="rgb(124,124,124)"/>
<path d="M1457.0 331.4 1525.1 331.4 1525.4 354.8 1526.2 360.5 1527.4 360.5 1528.6 357.6 1529.1 353.1 1529.4 331.4 1530.6 331.4 1530.7 349.7 1532.2 356.5 1533.4 355.6 1533.7 353.1 1533.9 331.4 1538.6 331.4 1538.9 353.1 1539.5 357.3 1540.7 357.5 1541.8 349.7 1541.8 331.4 1543.8 331.4 1543.9 351.4 1544.4 355.8 1545.6 359.1 1546.8 358.7 1547.3 354.8 1547.6 331.4 1648.7 331.4 1648.7 530.1 1536.2 530.1 1540.7 518.2 1542.0 508.4 1542.3 495.0 1541.9 486.1 1540.7 476.7 1537.1 467.7 1535.9 465.9 1534.7 465.8 1532.8 470.0 1530.5 480.0 1529.0 496.7 1530.3 513.4 1532.2 523.8 1534.2 530.1 1455.8 530.1 1455.8 331.4Z" fill="rgb(131,131,131)"/>
<path d="M1457.0 331.4 1525.0 331.4 1525.1 353.1 1526.2 361.4 1527.4 361.4 1528.1 359.8 1529.1 354.8 1529.5 331.4 1530.4 331.4 1530.6 351.4 1532.2 357.5 1533.4 356.7 1533.8 353.1 1534.1 331.4 1538.5 331.4 1538.8 353.1 1539.5 358.2 1540.7 358.4 1541.9 349.7 1542.0 331.4 1543.7 331.4 1543.9 353.1 1544.4 356.9 1545.6 359.8 1546.8 359.6 1547.4 354.8 1547.7 331.4 1648.7 331.4 1648.7 530.1 1538.2 530.1 1540.7 523.1 1542.0 515.1 1542.9 501.7 1542.7 488.4 1540.7 471.6 1537.1 463.8 1535.9 462.0 1534.7 461.9 1532.5 466.7 1530.0 476.7 1528.1 493.4 1528.9 510.1 1532.7 530.1 1455.8 530.1 1455.8 331.4Z" fill="rgb(137,137,137)"/>
<path d="M1457.0 331.4 1524.8 331.4 1525.0 353.1 1526.2 362.3 1527.4 362.2 1527.8 361.4 1529.1 356.4 1529.6 331.4 1530.2 331.4 1530.4 351.4 1531.0 355.6 1532.2 358.4 1533.4 357.7 1534.0 353.1 1534.2 331.4 1538.4 331.4 1538.7 353.1 1539.5 359.1 1540.7 359.3 1542.2 349.7 1542.3 331.4 1543.5 331.4 1543.8 353.1 1544.4 358.0 1545.6 360.6 1546.8 360.4 1547.6 354.8 1547.8 331.4 1648.7 331.4 1648.7 530.1 1540.2 530.1 1541.9 521.6 1543.3 506.7 1542.9 481.7 1540.7 466.5 1537.1 459.6 1535.9 457.8 1534.7 457.7 1532.2 463.3 1529.0 475.0 1527.1 490.0 1527.8 510.1 1531.6 530.1 1455.8 530.1 1455.8 331.4Z" fill="rgb(143,143,143)"/>
<path d="M1457.0 331.4 1524.6 331.4 1524.7 351.4 1526.2 363.3 1527.4 363.1 1528.2 361.4 1529.3 356.4 1529.7 331.4 1530.1 351.4 1530.9 356.4 1532.2 359.4 1533.4 358.7 1534.1 353.1 1534.3 331.4 1538.3 331.4 1538.5 353.1 1539.5 359.9 1540.7 360.1 1542.4 349.7 1542.5 331.4 1543.4 331.4 1543.6 353.1 1544.4 359.0 1545.6 361.4 1546.8 361.3 1547.6 356.4 1547.9 331.4 1648.7 331.4 1648.7 530.1 1541.6 530.1 1544.0 503.4 1543.2 476.7 1540.7 461.1 1537.1 455.0 1535.9 453.5 1534.7 453.3 1533.4 455.0 1528.1 471.7 1526.1 486.7 1526.0 498.4 1526.8 510.1 1528.2 520.1 1530.4 530.1 1455.8 530.1 1455.8 331.4ZM1602.6 458.3 1601.4 461.7 1600.8 476.7 1601.4 492.0 1602.6 495.2 1603.7 478.3 1602.6 458.2Z" fill="rgb(150,150,150)"/>
<path d="M1457.0 331.4 1524.3 331.4 1524.5 353.1 1526.2 364.3 1527.4 363.9 1528.6 361.7 1529.8 350.1 1531.0 358.3 1532.2 360.3 1533.4 359.6 1534.3 349.7 1534.4 331.4 1538.1 331.4 1538.5 354.8 1539.5 360.7 1540.7 361.0 1542.6 351.4 1542.8 331.4 1543.3 331.4 1543.6 354.8 1544.4 360.0 1545.6 362.2 1546.8 362.1 1547.7 356.4 1548.0 331.4 1648.7 331.4 1648.7 530.1 1542.5 530.1 1544.8 500.1 1543.4 471.7 1541.9 459.9 1540.7 455.1 1535.9 450.3 1534.7 450.1 1532.3 453.3 1527.8 465.0 1526.1 471.7 1525.1 480.0 1524.7 491.7 1525.2 505.1 1526.8 520.1 1528.7 530.1 1455.8 530.1 1455.8 331.4ZM1602.6 431.6 1601.4 434.3 1600.2 447.4 1598.5 476.7 1600.0 500.1 1601.4 509.0 1602.6 510.6 1604.4 500.1 1605.8 478.3 1604.5 451.6 1602.6 431.5ZM1591.5 450.0 1590.0 466.7 1590.3 485.0 1591.7 492.8 1592.9 491.8 1594.1 485.3 1594.7 475.0 1594.3 465.0 1592.9 451.4 1591.7 449.0ZM1609.7 458.3 1608.2 468.3 1607.8 481.7 1608.9 495.0 1609.9 500.0 1610.7 496.7 1611.5 488.4 1611.7 476.7 1611.1 464.3 1609.9 457.5ZM1617.1 466.7 1616.4 476.7 1616.4 486.7 1617.2 495.2 1618.4 491.3 1618.5 473.3 1618.4 470.2 1617.2 466.2Z" fill="rgb(156,156,156)"/>
<path d="M1457.0 331.4 1524.1 331.4 1524.3 354.8 1526.2 365.3 1527.4 364.8 1528.6 362.7 1529.8 353.8 1531.0 359.5 1532.2 361.2 1533.4 360.6 1534.4 351.4 1534.5 331.4 1538.0 331.4 1538.4 354.8 1539.5 361.5 1540.7 361.8 1542.9 351.4 1543.2 331.4 1543.6 356.4 1544.4 361.0 1545.6 363.0 1546.8 363.0 1548.1 351.4 1548.2 331.4 1648.7 331.4 1648.7 530.1 1543.3 530.1 1545.6 498.4 1545.1 483.4 1543.5 465.0 1542.3 455.0 1541.3 451.6 1540.7 450.5 1534.7 447.4 1533.3 448.3 1526.6 458.3 1525.0 464.0 1523.9 471.7 1523.3 483.4 1523.5 496.7 1526.7 530.1 1455.8 530.1 1455.8 331.4ZM1602.4 394.8 1601.4 398.8 1599.0 434.9 1597.8 444.7 1596.5 445.9 1595.3 439.5 1592.9 414.3 1591.7 410.6 1588.0 446.3 1586.8 445.0 1584.4 418.4 1583.2 419.2 1579.5 468.3 1577.1 449.4 1575.9 452.2 1575.0 471.7 1575.9 486.4 1577.1 487.4 1579.5 473.4 1581.3 493.4 1583.2 502.1 1584.4 502.3 1586.8 495.4 1588.0 496.2 1590.4 505.1 1591.7 507.1 1593.0 506.7 1596.5 500.3 1597.8 501.4 1601.4 520.5 1602.6 523.2 1606.2 503.6 1607.5 505.1 1609.9 515.7 1610.8 513.4 1613.5 495.6 1614.7 498.7 1617.2 514.6 1618.4 512.8 1620.8 493.8 1622.0 491.8 1624.4 504.6 1625.7 504.1 1626.9 500.8 1628.1 500.5 1630.5 507.0 1631.7 502.4 1632.7 478.3 1631.7 461.9 1630.5 456.5 1628.1 463.3 1626.9 462.8 1625.7 459.4 1624.4 459.2 1622.0 471.9 1620.8 468.8 1618.4 444.7 1617.2 442.2 1614.7 461.4 1613.5 463.9 1611.1 439.9 1609.9 433.4 1607.5 446.5 1606.2 446.4 1602.6 393.9ZM1644.9 453.3 1643.7 463.3 1643.0 485.0 1643.9 506.5 1645.1 513.2 1646.3 500.6 1646.7 483.4 1646.3 463.9 1645.1 452.0Z" fill="rgb(163,163,163)"/>
<path d="M1457.0 331.4 1523.8 331.4 1524.1 356.4 1524.6 361.4 1526.2 366.4 1527.4 365.8 1528.6 363.8 1529.8 356.4 1531.0 360.7 1532.2 362.1 1533.5 361.4 1534.5 351.4 1534.6 331.4 1537.8 331.4 1537.9 351.4 1539.5 362.4 1540.7 362.7 1541.3 361.4 1543.2 351.8 1544.4 362.0 1545.6 363.8 1546.8 363.9 1548.3 351.4 1548.4 331.4 1601.4 331.4 1599.6 384.8 1597.8 412.8 1596.5 414.1 1595.3 404.2 1592.9 359.5 1591.7 352.4 1589.3 398.2 1588.0 409.8 1586.8 405.8 1584.4 364.9 1583.2 367.3 1580.8 406.5 1579.5 411.9 1577.1 395.4 1575.9 397.9 1573.5 419.6 1571.1 427.9 1569.8 442.6 1569.0 468.3 1569.5 486.7 1571.1 496.9 1575.9 505.5 1577.1 505.4 1579.5 503.5 1583.2 510.7 1584.4 510.9 1586.8 508.0 1588.0 508.6 1591.7 515.4 1592.9 515.5 1596.5 512.0 1597.8 513.0 1599.4 520.1 1600.2 530.1 1544.1 530.1 1547.1 496.7 1546.4 483.4 1543.4 455.0 1541.9 448.7 1540.7 447.1 1534.7 444.9 1529.8 448.8 1525.0 448.5 1523.7 450.1 1522.9 455.0 1521.9 473.3 1521.8 490.0 1524.9 530.1 1481.5 530.1 1481.3 443.8 1480.5 466.7 1480.6 530.1 1455.8 530.1 1455.8 331.4ZM1563.7 413.2 1562.6 435.2 1562.1 488.4 1562.6 498.3 1563.8 501.6 1565.3 490.0 1565.7 458.3 1563.8 412.3ZM1603.8 331.4 1648.7 331.4 1648.7 530.1 1646.5 530.1 1648.2 496.7 1648.4 478.3 1646.7 438.3 1645.1 425.6 1643.9 433.5 1641.4 461.4 1640.2 461.7 1639.0 454.9 1637.8 452.4 1635.4 462.6 1634.2 459.5 1631.7 436.8 1630.5 431.8 1628.1 438.7 1626.9 438.6 1625.7 435.7 1624.4 435.9 1622.0 446.3 1620.8 444.0 1618.4 412.2 1617.2 408.1 1614.7 437.8 1613.5 439.8 1609.9 394.1 1607.5 416.6 1606.2 415.3 1603.3 331.4ZM1635.4 503.4 1637.8 511.1 1639.0 508.8 1640.2 503.9 1641.4 506.1 1643.2 530.1 1618.7 530.1 1620.8 515.1 1622.0 514.8 1624.4 525.1 1625.7 524.8 1626.9 522.0 1628.1 522.1 1630.5 529.7 1631.7 525.5 1634.2 506.0 1635.4 503.4ZM1613.5 513.8 1614.7 516.2 1616.5 530.1 1611.2 530.1 1613.2 515.1ZM1606.2 516.8 1607.5 518.7 1609.0 530.1 1604.4 530.1 1605.9 518.4Z" fill="rgb(169,169,169)"/>
<path d="M1457.0 331.4 1471.6 331.4 1471.7 398.2 1470.4 463.3 1470.5 530.1 1461.0 530.1 1461.1 468.3 1460.6 459.2 1460.0 530.1 1455.8 530.1 1455.8 331.4ZM1475.2 331.4 1479.6 331.4 1478.5 530.1 1474.8 530.1 1474.4 331.4ZM1483.7 331.4 1494.3 331.4 1494.2 399.9 1492.7 470.0 1493.2 493.4 1494.6 509.6 1495.8 503.1 1497.1 471.7 1496.2 399.9 1496.1 331.4 1522.9 331.4 1523.3 354.8 1524.2 363.1 1526.2 367.7 1528.6 364.9 1529.8 358.6 1530.7 361.4 1532.2 363.0 1533.4 362.5 1533.7 361.4 1534.7 349.7 1534.8 331.4 1537.7 331.4 1537.9 353.1 1539.5 363.1 1540.7 363.6 1541.0 363.1 1543.2 355.0 1544.4 363.0 1545.6 364.7 1546.8 364.8 1547.7 361.4 1548.5 353.1 1548.6 331.4 1562.5 331.4 1560.4 471.7 1560.5 493.4 1561.3 504.8 1562.6 510.3 1563.8 511.2 1567.4 502.8 1571.1 508.4 1575.9 512.5 1579.5 511.3 1583.2 517.3 1584.4 517.6 1586.8 515.4 1588.0 516.2 1591.0 525.1 1591.2 530.1 1545.0 530.1 1545.6 522.6 1548.5 506.7 1549.0 493.4 1548.0 477.2 1545.6 465.0 1543.6 450.0 1541.9 445.1 1540.7 444.1 1538.3 444.0 1534.7 442.5 1529.8 444.8 1527.4 443.0 1523.7 437.1 1522.5 437.5 1521.0 446.6 1520.0 475.0 1520.4 491.7 1523.0 530.1 1488.6 530.1 1488.5 526.9 1487.3 530.1 1483.6 530.1 1484.0 465.0 1483.0 401.5 1483.0 331.4ZM1504.3 389.8 1502.3 448.3 1502.4 476.7 1503.1 485.0 1504.3 488.0 1505.5 487.4 1506.8 484.4 1507.4 480.0 1508.2 466.7 1507.4 421.6 1506.8 409.2 1505.0 398.2 1504.3 388.5ZM1488.5 426.6 1487.3 430.9 1486.4 468.3 1487.3 516.6 1488.5 518.4 1489.8 468.3 1488.5 426.2ZM1566.2 331.4 1574.8 331.4 1573.5 355.6 1572.3 355.3 1571.1 354.0 1568.6 394.6 1567.4 405.6 1566.1 386.5 1565.1 331.4ZM1579.5 331.4 1581.1 331.4 1580.8 344.8 1579.5 351.1 1578.8 331.4ZM1586.8 331.4 1589.4 331.4 1588.0 363.4 1586.8 351.5 1586.4 331.4ZM1595.3 331.4 1598.9 331.4 1597.8 365.1 1596.5 368.5 1595.0 331.4ZM1606.2 331.4 1608.0 331.4 1607.5 350.8 1606.2 342.7 1606.1 331.4ZM1612.3 331.4 1616.4 331.4 1614.8 396.5 1613.5 403.6 1612.3 375.5 1611.4 331.4ZM1619.6 331.4 1648.7 331.4 1648.7 440.9 1646.3 406.4 1645.1 399.5 1641.4 434.5 1640.2 434.3 1639.0 429.0 1637.8 427.3 1635.4 436.9 1634.2 434.7 1630.5 396.6 1628.1 406.2 1626.9 404.7 1625.7 397.1 1624.4 396.8 1622.0 417.3 1620.8 410.8 1620.4 399.9 1619.3 331.4ZM1596.5 522.6 1597.8 525.0 1598.1 530.1 1593.9 530.1 1594.2 526.8 1595.5 523.4ZM1635.4 529.5 1635.5 530.1 1635.0 530.1Z" fill="rgb(175,175,175)"/>
<path d="M1499.5 331.4 1500.1 331.4 1499.5 410.0 1498.6 331.4ZM1535.9 331.4 1537.5 331.4 1537.7 353.1 1539.2 363.1 1539.5 364.1 1540.7 364.5 1543.2 357.6 1544.4 364.1 1545.6 365.6 1546.8 365.8 1547.7 363.1 1548.7 354.8 1548.9 331.4 1560.9 331.4 1560.1 399.2 1557.8 480.0 1558.2 496.7 1559.5 505.1 1562.6 517.5 1563.8 518.2 1566.2 512.6 1567.4 511.2 1575.9 518.8 1579.5 517.6 1580.8 519.3 1581.9 523.4 1581.8 530.1 1546.8 530.1 1549.2 513.3 1550.2 498.4 1549.5 473.3 1548.0 458.7 1541.9 441.8 1540.7 441.2 1538.3 441.6 1534.7 440.2 1531.0 441.6 1529.8 441.2 1528.6 439.9 1525.8 433.3 1524.0 421.6 1524.0 371.5 1525.0 369.1 1526.2 369.2 1528.6 366.1 1529.8 360.7 1531.0 363.1 1532.2 364.0 1533.5 363.1 1535.0 349.7 1535.0 331.4ZM1632.9 331.4 1643.8 331.4 1643.6 378.1 1642.6 400.3 1641.4 411.1 1640.2 409.9 1639.0 402.1 1637.8 398.8 1635.4 411.4 1634.2 407.5 1633.0 386.5 1632.7 331.4ZM1647.5 331.4 1648.7 331.4 1648.7 415.1 1647.0 381.5 1647.0 331.4ZM1518.9 365.5 1520.1 373.3 1518.9 407.0 1518.9 366.5ZM1511.6 481.7 1515.2 495.2 1517.7 494.1 1518.9 497.5 1520.8 515.1 1521.2 530.1 1497.3 530.1 1497.5 510.1 1498.3 500.0 1499.5 493.3 1502.6 505.1 1503.1 506.3 1504.3 506.9 1506.8 503.3 1508.0 499.2 1511.6 481.7Z" fill="rgb(182,182,182)"/>
<path d="M1535.9 331.4 1537.4 331.4 1537.5 353.1 1538.8 363.1 1539.5 365.0 1540.7 365.4 1543.2 359.9 1544.4 365.2 1546.8 366.9 1547.7 364.8 1548.8 358.1 1549.1 331.4 1559.0 331.4 1555.3 493.4 1556.5 507.7 1558.9 512.5 1561.0 520.1 1561.5 525.1 1561.0 530.1 1549.4 530.1 1551.3 495.0 1550.7 471.7 1549.2 448.1 1548.0 445.4 1546.8 446.2 1545.6 445.7 1541.9 438.6 1538.3 439.2 1534.7 437.8 1531.0 438.5 1529.8 437.7 1527.7 433.3 1526.3 426.6 1525.7 418.2 1525.6 373.1 1526.0 371.5 1528.6 367.4 1529.8 362.7 1532.2 365.0 1533.4 364.5 1533.8 363.1 1535.1 351.4 1535.3 331.4ZM1511.6 500.4 1515.2 509.6 1517.7 509.8 1518.7 513.4 1519.4 521.8 1519.3 530.1 1507.9 530.1 1507.4 518.4 1508.9 508.4 1510.7 501.7ZM1567.4 517.7 1568.6 518.4 1572.4 525.1 1572.3 527.0 1570.4 530.1 1565.9 530.1 1565.4 523.4 1566.9 518.4Z" fill="rgb(188,188,188)"/>
<path d="M1535.9 331.4 1537.2 331.4 1537.4 354.8 1539.0 364.8 1539.5 365.9 1540.7 366.4 1543.2 362.2 1544.4 366.4 1546.8 368.1 1548.4 364.8 1548.9 361.4 1549.5 331.4 1556.3 331.4 1555.4 431.6 1554.1 468.5 1552.9 479.8 1550.8 448.3 1549.2 436.3 1548.0 436.5 1546.8 439.1 1545.6 440.1 1541.9 435.4 1538.3 436.8 1534.7 435.4 1531.0 435.4 1528.8 431.6 1527.4 424.9 1526.9 373.1 1529.8 364.8 1532.2 366.1 1533.4 365.5 1534.1 363.1 1535.4 351.4 1535.5 331.4ZM1552.9 503.2 1554.1 506.0 1556.5 516.9 1558.9 521.8 1559.1 526.8 1558.2 530.1 1550.6 530.1 1550.8 520.1 1552.8 503.4ZM1511.6 514.8 1512.8 521.8 1511.7 530.1 1510.4 527.5 1510.2 523.4 1510.4 518.0 1511.5 515.1Z" fill="rgb(194,194,194)"/>
<path d="M1535.9 331.4 1536.7 331.4 1536.7 346.4 1537.6 359.8 1538.6 364.8 1539.5 367.0 1540.7 367.5 1543.2 364.5 1544.4 367.7 1546.8 369.6 1548.0 369.3 1549.1 368.1 1549.8 363.1 1550.3 331.4 1554.9 331.4 1554.3 423.2 1552.9 445.8 1549.7 421.6 1549.2 406.3 1548.7 421.6 1547.3 429.9 1545.6 434.5 1541.9 431.9 1538.3 434.3 1534.7 432.9 1532.2 432.7 1531.0 432.0 1529.9 429.9 1528.7 424.9 1528.1 373.1 1529.8 367.1 1532.2 367.2 1533.4 366.6 1534.4 363.1 1535.6 351.4 1535.7 331.4ZM1552.9 515.4 1554.1 516.5 1555.0 521.8 1554.8 530.1 1551.8 530.1 1551.7 523.4 1552.6 516.8Z" fill="rgb(201,201,201)"/>
<path d="M1552.9 331.4 1552.9 340.5 1552.8 331.4ZM1535.9 352.3 1537.1 356.0 1537.8 363.1 1539.5 368.1 1540.7 368.8 1543.2 367.1 1544.4 369.4 1546.6 371.5 1547.1 373.1 1546.7 419.9 1545.6 427.9 1544.4 428.8 1541.9 427.8 1538.3 431.6 1532.2 429.4 1531.0 428.0 1529.8 423.8 1529.3 373.1 1530.0 369.8 1533.4 367.9 1534.1 366.5 1535.4 359.8 1535.8 353.1ZM1552.9 353.6 1552.9 379.9 1552.8 354.8Z" fill="rgb(207,207,207)"/>
<path d="M1535.9 358.9 1537.1 360.5 1537.6 364.8 1539.5 369.5 1540.7 370.5 1543.2 371.0 1545.0 373.1 1544.4 411.1 1543.2 414.1 1541.3 423.2 1538.3 428.5 1537.1 428.5 1532.2 425.1 1531.0 421.6 1530.6 373.1 1531.0 371.4 1533.4 369.5 1534.1 368.1 1535.8 359.8Z" fill="rgb(214,214,214)"/>
<path d="M1535.9 364.8 1537.1 365.2 1537.7 368.1 1540.3 373.1 1539.5 421.6 1538.3 424.5 1537.1 424.7 1535.9 423.4 1534.1 419.9 1533.4 414.7 1532.7 373.1 1535.6 366.5Z" fill="rgb(220,220,220)"/>
</g>
</g>
<line x1="1459.5" y1="526.0" x2="1645.0" y2="526.0" stroke="#5a6e50" stroke-width="0.9"/>
<line x1="1527.6" y1="335.2" x2="1527.6" y2="526.3" stroke="#ff1a1a" stroke-width="2.1" stroke-dasharray="9.6 6.5" stroke-dashoffset="13.7"/>
<line x1="1545.8" y1="335.2" x2="1545.8" y2="526.3" stroke="#ff1a1a" stroke-width="2.1" stroke-dasharray="9.6 6.5" stroke-dashoffset="13.7"/>
<line x1="1552.2" y1="335.2" x2="1552.2" y2="526.3" stroke="#6b6b6b" stroke-width="1.5" stroke-dasharray="9.6 6.5" stroke-dashoffset="13.7"/>
<line x1="1459.5" y1="376.1" x2="1645.0" y2="376.1" stroke="#1e1e1e" stroke-width="2" stroke-dasharray="9.6 6.5" stroke-dashoffset="15.4"/>
<clipPath id="sc15"><rect x="1685.7" y="335.2" width="185.9" height="191.1"/></clipPath>
<g clip-path="url(#sc15)">
<rect x="1685.7" y="335.2" width="185.9" height="191.1" fill="#fff"/>
<line x1="1778.7" y1="335.2" x2="1778.7" y2="526.3" stroke="#6b6b6b" stroke-width="1.5" stroke-dasharray="9.6 6.5" stroke-dashoffset="13.7"/>
<g filter="url(#gryS)">
</g>
<clipPath id="sm16"><path d="M1753.9 335.2 1781.6 335.2 1782.4 344.8 1787.9 344.8 1789.2 381.1 1790.5 413.6 1789.2 442.2 1793.0 459.4 1793.5 470.9 1790.5 480.4 1786.6 491.9 1780.5 503.4 1778.1 516.7 1778.1 526.3 1759.7 526.3 1759.3 507.2 1759.7 490.9 1761.9 470.9 1763.4 460.8 1760.8 453.1 1757.1 435.5 1755.2 421.2 1753.9 415.5ZM1766.4 418.1 1770.3 418.1 1770.3 450.8 1766.4 450.8Z" clip-rule="evenodd"/></clipPath>
<g clip-path="url(#sm16)"><g filter="url(#gryS)">
<rect x="1685.7" y="335.2" width="185.9" height="191.1" fill="rgb(4,4,4)"/>
<path d="M1683.2 331.4 1875.3 331.4 1875.3 530.1 1682.0 530.1 1682.0 331.4Z" fill="rgb(10,10,10)"/>
<path d="M1683.2 331.4 1875.3 331.4 1875.3 530.1 1682.0 530.1 1682.0 331.4Z" fill="rgb(16,16,16)"/>
<path d="M1683.2 331.4 1875.3 331.4 1875.3 530.1 1682.0 530.1 1682.0 331.4Z" fill="rgb(22,22,22)"/>
<path d="M1683.2 331.4 1875.3 331.4 1875.3 530.1 1682.0 530.1 1682.0 331.4Z" fill="rgb(29,29,29)"/>
<path d="M1683.2 331.4 1875.3 331.4 1875.3 530.1 1682.0 530.1 1682.0 331.4Z" fill="rgb(35,35,35)"/>
<path d="M1683.2 331.4 1875.3 331.4 1875.3 530.1 1682.0 530.1 1682.0 331.4Z" fill="rgb(41,41,41)"/>
<path d="M1683.2 331.4 1875.3 331.4 1875.3 530.1 1682.0 530.1 1682.0 331.4Z" fill="rgb(48,48,48)"/>
<path d="M1683.2 331.4 1875.3 331.4 1875.3 530.1 1682.0 530.1 1682.0 331.4Z" fill="rgb(54,54,54)"/>
<path d="M1683.2 331.4 1875.3 331.4 1875.3 530.1 1682.0 530.1 1682.0 331.4Z" fill="rgb(61,61,61)"/>
<path d="M1683.2 331.4 1875.3 331.4 1875.3 530.1 1682.0 530.1 1682.0 331.4Z" fill="rgb(67,67,67)"/>
<path d="M1683.2 331.4 1875.3 331.4 1875.3 530.1 1682.0 530.1 1682.0 331.4Z" fill="rgb(73,73,73)"/>
<path d="M1683.2 331.4 1875.3 331.4 1875.3 530.1 1682.0 530.1 1682.0 331.4Z" fill="rgb(80,80,80)"/>
<path d="M1683.2 331.4 1875.3 331.4 1875.3 530.1 1682.0 530.1 1682.0 331.4Z" fill="rgb(86,86,86)"/>
<path d="M1683.2 331.4 1875.3 331.4 1875.3 530.1 1874.8 530.1 1874.1 477.1 1873.8 530.1 1716.1 530.1 1716.0 470.1 1716.0 530.1 1682.0 530.1 1682.0 331.4Z" fill="rgb(92,92,92)"/>
<path d="M1683.2 331.4 1875.3 331.4 1875.3 469.6 1874.1 459.8 1873.4 475.0 1873.1 530.1 1848.9 530.1 1848.6 522.4 1848.6 530.1 1753.4 530.1 1753.2 485.0 1752.5 466.6 1751.3 482.8 1751.2 530.1 1717.0 530.1 1717.2 482.5 1716.0 451.3 1715.3 483.4 1715.4 530.1 1682.0 530.1 1682.0 331.4Z" fill="rgb(99,99,99)"/>
<path d="M1683.2 331.4 1715.6 331.4 1715.8 433.3 1714.8 481.7 1714.9 530.1 1706.5 530.1 1706.3 472.7 1705.1 478.0 1705.0 530.1 1682.0 530.1 1682.0 331.4ZM1717.2 331.4 1875.3 331.4 1875.3 454.0 1874.1 442.9 1872.9 467.8 1872.6 530.1 1850.0 530.1 1849.8 471.2 1848.6 468.0 1848.3 530.1 1811.2 530.1 1810.9 477.0 1810.0 486.7 1810.2 530.1 1784.3 530.1 1784.1 476.8 1783.6 530.1 1754.0 530.1 1753.8 475.0 1752.5 451.2 1751.3 462.6 1750.7 478.3 1750.5 530.1 1717.4 530.1 1717.5 475.0 1716.4 433.3 1716.8 331.4Z" fill="rgb(105,105,105)"/>
<path d="M1683.2 331.4 1715.2 331.4 1715.4 433.3 1714.6 478.3 1714.6 530.1 1706.9 530.1 1706.9 483.4 1706.3 455.7 1705.1 459.6 1704.7 473.3 1704.5 530.1 1682.7 530.1 1682.9 486.7 1682.0 470.0 1682.0 331.4ZM1718.5 331.4 1873.9 331.4 1873.5 431.6 1872.3 478.3 1872.3 530.1 1850.3 530.1 1849.8 456.2 1848.6 453.2 1848.0 530.1 1812.4 530.1 1812.3 481.7 1810.9 459.0 1809.7 463.5 1809.0 478.3 1809.0 530.1 1784.7 530.1 1784.1 462.9 1782.8 476.7 1782.7 530.1 1777.1 530.1 1776.8 471.7 1776.1 486.7 1776.4 530.1 1754.4 530.1 1754.2 480.0 1752.7 436.6 1752.5 402.5 1752.1 433.3 1750.0 481.7 1749.8 530.1 1717.7 530.1 1717.4 331.4ZM1875.3 331.4 1875.3 419.3 1874.4 331.4Z" fill="rgb(112,112,112)"/>
<path d="M1683.2 331.4 1714.8 331.4 1714.4 530.1 1707.3 530.1 1707.4 481.7 1706.3 433.3 1706.3 342.2 1706.1 431.6 1705.1 441.7 1704.1 475.0 1704.0 530.1 1698.1 530.1 1697.8 496.3 1697.6 530.1 1690.6 530.1 1690.5 483.1 1690.2 530.1 1683.6 530.1 1683.4 473.3 1682.0 451.7 1682.0 331.4ZM1718.5 331.4 1751.3 331.4 1751.0 433.3 1749.3 481.7 1749.1 530.1 1718.0 530.1 1717.6 331.4ZM1753.7 331.4 1873.0 331.4 1872.0 530.1 1863.2 530.1 1862.9 486.7 1861.9 475.3 1861.2 486.7 1861.7 530.1 1850.6 530.1 1849.8 438.7 1848.6 426.8 1847.7 530.1 1841.5 530.1 1841.3 463.0 1840.1 460.3 1839.9 530.1 1813.1 530.1 1813.1 480.0 1810.9 440.5 1809.7 446.3 1808.4 473.3 1808.2 530.1 1785.2 530.1 1785.1 481.7 1784.1 454.1 1782.9 459.9 1782.4 475.0 1782.2 530.1 1777.8 530.1 1777.8 483.4 1776.8 456.0 1775.5 471.7 1775.4 530.1 1754.8 530.1 1754.6 480.0 1753.4 429.9 1752.8 331.4Z" fill="rgb(118,118,118)"/>
<path d="M1683.2 331.4 1704.7 331.4 1704.7 433.3 1703.5 481.7 1703.5 530.1 1699.3 530.1 1699.1 480.0 1697.8 466.0 1697.0 485.0 1696.7 530.1 1691.4 530.1 1691.3 485.0 1690.5 462.6 1689.2 476.7 1689.0 530.1 1684.1 530.1 1683.9 478.3 1682.5 433.3 1682.7 331.4ZM1707.5 331.4 1714.5 331.4 1714.1 530.1 1707.6 530.1 1707.7 478.3 1706.8 433.3 1706.9 331.4ZM1718.5 331.4 1750.7 331.4 1750.3 434.9 1748.5 483.4 1748.3 530.1 1731.9 530.1 1731.8 524.1 1731.6 530.1 1718.3 530.1 1717.9 331.4ZM1753.7 331.4 1808.9 331.4 1809.1 433.3 1807.6 480.0 1807.6 530.1 1785.5 530.1 1785.4 471.7 1784.1 447.5 1782.9 451.8 1782.0 471.7 1781.8 530.1 1778.4 530.1 1778.3 480.0 1776.8 441.9 1775.6 449.2 1775.1 470.0 1775.1 530.1 1762.6 530.1 1762.5 476.7 1762.2 466.5 1761.0 464.7 1760.9 530.1 1755.2 530.1 1753.4 331.4ZM1812.1 331.4 1839.9 331.4 1840.1 424.0 1841.1 374.8 1841.3 331.4 1848.5 331.4 1847.4 530.1 1841.8 530.1 1841.3 444.0 1840.1 437.5 1839.5 530.1 1833.0 530.1 1832.8 461.6 1831.5 463.6 1831.0 478.3 1830.9 530.1 1826.8 530.1 1826.7 481.7 1825.5 462.9 1824.4 485.0 1824.8 530.1 1814.0 530.1 1814.0 481.7 1811.9 433.3 1811.5 331.4ZM1851.0 331.4 1872.5 331.4 1871.6 530.1 1864.0 530.1 1863.6 476.7 1863.2 464.9 1861.9 456.8 1859.7 470.0 1858.8 481.7 1858.9 530.1 1850.9 530.1 1849.8 331.4Z" fill="rgb(124,124,124)"/>
<path d="M1684.4 331.4 1704.1 331.4 1704.1 433.3 1703.0 481.7 1703.1 530.1 1699.9 530.1 1699.7 476.7 1699.0 458.2 1697.8 451.4 1696.4 480.0 1696.1 530.1 1692.0 530.1 1691.8 480.0 1690.5 446.4 1689.3 457.1 1688.7 475.0 1688.5 530.1 1684.5 530.1 1684.4 481.7 1683.4 434.9 1683.3 331.4ZM1708.7 331.4 1714.3 331.4 1713.9 530.1 1707.9 530.1 1707.5 331.4ZM1718.5 331.4 1750.1 331.4 1749.7 434.9 1747.5 485.0 1747.4 530.1 1741.8 530.1 1741.6 514.3 1741.4 530.1 1732.7 530.1 1731.8 470.9 1730.6 473.6 1730.0 483.4 1729.8 530.1 1726.4 530.1 1727.0 485.0 1725.8 471.9 1725.4 530.1 1718.6 530.1 1718.1 331.4ZM1754.9 331.4 1760.9 331.4 1761.0 341.7 1761.6 331.4 1775.2 331.4 1775.6 356.9 1776.8 349.1 1777.3 331.4 1808.0 331.4 1808.3 433.3 1806.8 481.7 1806.9 530.1 1785.8 530.1 1785.6 468.3 1784.1 442.1 1782.8 446.6 1781.4 473.3 1781.2 530.1 1778.9 530.1 1778.6 470.0 1776.8 425.2 1775.6 424.0 1774.6 480.0 1774.7 530.1 1763.4 530.1 1763.2 476.7 1762.2 448.8 1761.0 445.5 1760.1 481.7 1760.3 530.1 1755.5 530.1 1755.3 481.7 1754.2 431.6 1753.8 331.4ZM1813.3 331.4 1824.5 331.4 1825.5 405.2 1825.9 331.4 1831.5 331.4 1832.8 420.3 1833.1 331.4 1839.5 331.4 1839.2 530.1 1833.5 530.1 1833.7 481.7 1832.8 439.7 1831.5 445.3 1830.1 481.7 1829.8 530.1 1827.8 530.1 1827.5 480.0 1825.5 442.8 1823.8 476.7 1823.9 530.1 1815.2 530.1 1815.2 483.4 1812.8 434.9 1812.5 331.4ZM1842.5 331.4 1848.2 331.4 1847.1 530.1 1842.1 530.1 1841.6 331.4ZM1851.0 331.4 1859.6 331.4 1860.7 411.3 1861.6 431.6 1858.2 468.3 1857.5 530.1 1851.2 530.1 1850.1 331.4ZM1863.2 331.4 1872.0 331.4 1871.4 530.1 1864.5 530.1 1864.3 480.0 1862.0 433.3 1862.3 331.4Z" fill="rgb(131,131,131)"/>
<path d="M1684.4 331.4 1690.2 331.4 1689.5 431.6 1688.1 480.0 1688.0 530.1 1685.0 530.1 1684.8 481.7 1683.8 434.9 1683.7 331.4ZM1691.7 331.4 1703.4 331.4 1703.6 433.3 1702.3 485.0 1702.6 530.1 1700.6 530.1 1700.7 481.7 1697.8 411.6 1697.5 438.3 1695.8 481.7 1695.6 530.1 1692.5 530.1 1692.3 480.0 1690.9 433.3 1690.6 331.4ZM1708.7 331.4 1714.1 331.4 1713.6 530.1 1708.1 530.1 1707.8 331.4ZM1718.5 331.4 1749.4 331.4 1749.0 434.9 1745.8 485.0 1746.2 530.1 1743.6 530.1 1743.6 485.0 1742.8 475.0 1741.6 468.3 1740.3 480.0 1740.1 530.1 1733.3 530.1 1733.1 478.7 1731.8 456.4 1730.6 457.9 1729.4 468.8 1728.2 471.2 1727.0 459.3 1725.8 454.2 1724.5 476.7 1724.3 530.1 1718.9 530.1 1718.3 331.4ZM1754.9 331.4 1760.5 331.4 1760.7 431.6 1759.6 480.0 1759.7 530.1 1755.9 530.1 1755.7 481.7 1754.3 401.5 1754.1 331.4ZM1763.5 331.4 1774.7 331.4 1775.5 389.8 1774.2 480.0 1774.3 530.1 1764.1 530.1 1764.0 481.7 1762.5 433.3 1762.5 331.4ZM1778.0 331.4 1782.8 331.4 1784.1 334.6 1784.4 331.4 1807.3 331.4 1807.6 433.3 1805.9 485.0 1806.1 530.1 1801.7 530.1 1801.1 516.1 1800.6 530.1 1795.6 530.1 1795.6 481.7 1795.1 470.6 1793.8 465.9 1793.0 485.0 1792.7 530.1 1786.0 530.1 1785.8 466.7 1785.3 450.7 1784.1 437.6 1782.8 441.6 1780.9 470.0 1780.2 530.1 1780.2 485.0 1779.3 473.8 1775.7 393.2 1775.9 376.5 1777.8 331.4ZM1814.5 331.4 1823.9 331.4 1824.3 433.3 1823.2 481.7 1823.2 530.1 1817.6 530.1 1817.2 481.7 1814.5 454.2 1813.7 436.6 1813.4 331.4ZM1826.7 331.4 1831.0 331.4 1831.1 436.6 1829.1 479.2 1827.9 469.4 1826.4 434.9 1826.6 331.4ZM1834.0 331.4 1839.1 331.4 1838.8 530.1 1834.0 530.1 1834.1 480.0 1833.2 433.3 1833.6 331.4ZM1842.5 331.4 1847.8 331.4 1846.9 530.1 1842.4 530.1 1841.9 331.4ZM1851.0 331.4 1858.8 331.4 1859.1 433.3 1857.1 478.1 1856.9 530.1 1851.4 530.1 1850.4 331.4ZM1863.2 331.4 1871.6 331.4 1871.1 530.1 1864.9 530.1 1864.7 478.3 1863.4 433.3 1863.1 331.4Z" fill="rgb(137,137,137)"/>
<path d="M1684.4 331.4 1689.1 331.4 1688.8 434.9 1687.5 483.4 1687.3 530.1 1685.5 530.1 1685.3 481.7 1684.2 434.9 1684.0 331.4ZM1691.7 331.4 1697.5 331.4 1696.8 433.3 1695.1 485.0 1694.9 530.1 1693.1 530.1 1692.9 480.0 1691.6 433.3 1691.4 331.4ZM1700.2 331.4 1702.8 331.4 1703.1 436.6 1702.7 455.9 1701.4 471.9 1699.7 434.9 1699.9 331.4ZM1708.7 331.4 1713.8 331.4 1713.4 530.1 1708.4 530.1 1708.2 331.4ZM1719.7 331.4 1725.5 331.4 1725.6 433.3 1724.0 478.3 1723.8 530.1 1719.2 530.1 1718.6 331.4ZM1728.2 331.4 1748.6 331.4 1747.7 443.3 1745.2 464.3 1744.0 464.3 1741.6 453.8 1740.3 461.6 1739.6 483.4 1739.5 530.1 1733.7 530.1 1733.5 476.7 1731.8 439.9 1730.6 440.9 1729.4 452.3 1728.2 453.2 1727.2 441.6 1726.8 431.6 1728.0 331.4ZM1754.9 331.4 1760.1 331.4 1760.4 393.2 1759.1 481.7 1759.2 530.1 1756.3 530.1 1754.5 396.5 1754.3 331.4ZM1763.5 331.4 1774.3 331.4 1774.9 391.5 1773.8 481.7 1773.9 530.1 1769.1 530.1 1769.2 485.0 1768.3 466.5 1766.7 481.7 1766.3 530.1 1765.4 530.1 1764.9 486.7 1763.1 434.9 1762.9 331.4ZM1779.3 331.4 1782.3 331.4 1782.9 337.4 1784.1 339.2 1784.9 331.4 1806.4 331.4 1806.9 431.6 1806.3 453.3 1804.8 472.3 1803.6 473.1 1802.4 469.4 1801.1 469.1 1797.8 486.7 1797.6 530.1 1797.4 483.4 1795.1 453.6 1793.8 450.4 1792.6 470.9 1792.2 530.1 1786.3 530.1 1786.0 463.3 1785.3 444.4 1784.1 433.6 1782.9 436.0 1782.6 438.3 1780.5 465.9 1779.3 459.4 1776.7 388.2 1778.3 331.4ZM1815.7 331.4 1823.4 331.4 1823.7 434.9 1822.5 483.4 1822.5 530.1 1819.1 530.1 1818.4 478.3 1814.9 436.6 1814.8 331.4ZM1827.9 331.4 1830.5 331.4 1830.4 434.9 1829.1 461.8 1827.9 454.3 1827.2 434.9 1827.1 331.4ZM1835.2 331.4 1838.8 331.4 1838.5 530.1 1834.3 530.1 1834.4 481.7 1833.7 433.3 1834.1 331.4ZM1842.5 331.4 1847.5 331.4 1846.7 530.1 1842.7 530.1 1842.2 331.4ZM1851.0 331.4 1858.1 331.4 1858.0 433.3 1856.6 480.0 1856.4 530.1 1851.7 530.1 1850.8 331.4ZM1864.4 331.4 1871.3 331.4 1870.8 530.1 1865.3 530.1 1865.1 480.0 1863.9 433.3 1863.6 331.4Z" fill="rgb(143,143,143)"/>
<path d="M1684.4 331.4 1688.6 331.4 1688.3 434.9 1686.8 490.0 1685.6 475.5 1684.6 438.3 1684.4 331.4ZM1692.9 331.4 1696.8 331.4 1696.1 436.6 1694.1 486.1 1692.2 436.6 1692.0 331.4ZM1708.7 331.4 1713.6 331.4 1713.1 530.1 1708.7 530.1 1708.5 331.4ZM1719.7 331.4 1724.9 331.4 1724.7 433.3 1723.5 481.7 1723.3 530.1 1719.4 530.1 1718.8 331.4ZM1731.8 331.4 1744.7 331.4 1746.4 433.3 1745.2 445.8 1744.0 446.9 1741.6 433.6 1740.3 446.3 1739.0 480.0 1739.0 530.1 1734.1 530.1 1734.0 481.7 1732.6 433.3 1731.5 331.4ZM1754.9 331.4 1759.8 331.4 1760.1 386.5 1758.6 483.4 1758.6 530.1 1756.9 530.1 1756.7 485.0 1754.7 398.2 1754.6 331.4ZM1763.5 331.4 1773.9 331.4 1774.3 398.2 1773.6 530.1 1769.9 530.1 1769.9 478.3 1768.3 450.5 1765.9 470.6 1764.7 463.8 1763.6 431.6 1763.3 331.4ZM1779.3 331.4 1781.7 331.4 1782.9 341.5 1784.1 343.0 1785.4 331.4 1793.7 331.4 1794.4 393.2 1792.1 476.7 1791.8 530.1 1786.5 530.1 1786.2 463.3 1785.3 439.2 1784.4 431.6 1784.1 430.0 1782.9 432.1 1780.5 454.8 1779.3 448.9 1777.1 389.8 1778.8 331.4ZM1796.3 331.4 1805.4 331.4 1805.8 441.6 1804.8 454.2 1803.6 455.9 1802.4 454.0 1801.1 454.6 1798.7 463.4 1797.5 462.7 1795.4 434.9 1795.8 331.4ZM1817.0 331.4 1823.0 331.4 1823.2 438.3 1820.7 530.1 1819.8 483.4 1816.5 433.3 1816.4 331.4ZM1827.9 331.4 1829.9 331.4 1829.1 446.6 1827.9 430.3 1827.7 331.4ZM1835.2 331.4 1838.5 331.4 1838.2 530.1 1834.7 530.1 1834.1 433.3 1834.4 331.4ZM1842.5 331.4 1847.2 331.4 1846.5 530.1 1843.0 530.1 1842.5 331.4ZM1852.2 331.4 1857.6 331.4 1857.4 433.3 1856.2 481.7 1856.0 530.1 1851.9 530.1 1851.1 331.4ZM1864.4 331.4 1870.9 331.4 1870.5 530.1 1865.7 530.1 1865.5 481.7 1864.5 433.3 1864.1 331.4ZM1701.4 353.7 1702.4 434.9 1701.4 452.9 1700.7 434.9 1701.4 354.8Z" fill="rgb(150,150,150)"/>
<path d="M1685.6 331.4 1688.1 331.4 1687.8 433.3 1686.8 464.9 1685.6 459.5 1685.1 438.3 1684.8 331.4ZM1692.9 331.4 1696.1 331.4 1695.6 434.9 1694.1 464.2 1692.7 436.6 1692.5 331.4ZM1709.9 331.4 1713.3 331.4 1712.9 530.1 1708.9 530.1 1708.8 331.4ZM1719.7 331.4 1724.4 331.4 1724.2 434.9 1723.1 481.7 1722.8 530.1 1719.8 530.1 1719.0 331.4ZM1733.1 331.4 1741.1 331.4 1740.3 358.9 1739.9 434.9 1738.5 480.0 1738.6 530.1 1734.5 530.1 1732.8 331.4ZM1754.9 331.4 1759.5 331.4 1759.3 434.9 1757.4 485.5 1755.5 433.3 1754.8 331.4ZM1764.7 331.4 1773.5 331.4 1773.9 403.2 1772.9 485.0 1773.2 530.1 1770.5 530.1 1770.6 480.0 1768.8 434.9 1768.3 403.8 1767.5 439.9 1765.9 456.8 1764.7 450.5 1763.6 393.2 1763.6 331.4ZM1779.3 331.6 1781.0 331.4 1782.9 345.0 1784.1 346.3 1785.7 331.4 1793.1 331.4 1793.3 399.9 1791.6 480.0 1791.4 530.1 1786.8 530.1 1786.6 471.7 1785.1 433.3 1784.1 426.8 1782.9 428.6 1780.5 446.5 1779.3 440.3 1777.4 386.5 1779.2 333.0ZM1797.5 331.4 1803.4 331.4 1802.8 411.5 1801.8 431.6 1798.7 448.0 1797.5 445.6 1796.9 433.3 1797.1 331.4ZM1818.2 331.4 1822.6 331.4 1822.6 438.3 1821.8 463.6 1820.6 473.0 1819.4 461.9 1817.8 434.9 1817.4 331.4ZM1829.1 331.4 1829.1 353.7 1828.9 331.4ZM1835.2 331.4 1838.2 331.4 1837.9 530.1 1835.0 530.1 1834.5 433.3 1834.7 331.4ZM1843.7 331.4 1847.0 331.4 1846.3 530.1 1843.2 530.1 1842.7 331.4ZM1852.2 331.4 1857.1 331.4 1856.8 433.3 1855.7 481.7 1855.5 530.1 1852.2 530.1 1851.3 331.4ZM1865.6 331.4 1870.6 331.4 1870.2 530.1 1866.0 530.1 1865.9 481.7 1864.9 433.3 1864.5 331.4Z" fill="rgb(156,156,156)"/>
<path d="M1685.6 331.4 1687.6 331.4 1686.8 449.9 1685.6 443.7 1685.5 436.6 1685.2 331.4ZM1694.1 331.4 1695.5 331.4 1694.9 431.6 1694.1 448.9 1693.4 431.6 1693.1 331.4ZM1709.9 331.4 1713.1 331.4 1712.6 530.1 1709.2 530.1 1709.1 331.4ZM1719.7 331.4 1724.0 331.4 1723.8 434.9 1722.6 481.7 1722.4 530.1 1720.3 530.1 1719.3 436.6 1719.2 331.4ZM1734.3 331.4 1739.1 331.4 1739.2 431.6 1738.0 480.0 1738.1 530.1 1734.9 530.1 1735.0 481.7 1733.8 433.3 1733.6 331.4ZM1756.2 331.4 1759.3 331.4 1759.5 346.4 1758.9 436.6 1757.4 466.0 1755.8 433.3 1755.1 331.4ZM1764.7 331.4 1767.7 331.4 1767.8 343.1 1767.6 398.2 1765.9 443.7 1764.7 434.8 1764.2 409.9 1764.0 331.4ZM1770.7 331.4 1773.1 331.4 1773.2 342.6 1773.5 434.9 1772.1 483.4 1772.3 530.1 1771.5 530.1 1771.7 483.4 1769.9 434.9 1770.1 331.4ZM1786.6 331.4 1792.5 331.4 1792.8 393.2 1791.2 481.7 1791.1 530.1 1787.1 530.1 1786.9 471.7 1785.3 430.7 1784.1 423.9 1782.9 425.5 1780.5 439.7 1779.3 432.7 1777.8 399.9 1777.8 374.8 1779.3 341.0 1780.5 334.1 1782.9 348.1 1784.1 349.3 1785.3 342.2 1785.9 331.4ZM1799.9 331.4 1799.9 341.7 1799.1 331.4ZM1818.2 331.4 1822.2 331.4 1822.1 436.6 1821.8 448.1 1820.6 458.4 1819.4 447.8 1818.8 433.3 1818.2 331.4ZM1835.2 331.4 1837.9 331.4 1837.6 530.1 1835.5 530.1 1835.7 483.4 1834.8 434.9 1835.1 331.4ZM1843.7 331.4 1846.7 331.4 1845.9 530.1 1843.5 530.1 1843.0 331.4ZM1852.2 331.4 1856.7 331.4 1856.4 433.3 1855.3 481.7 1855.1 530.1 1852.6 530.1 1851.6 331.4ZM1865.6 331.4 1870.2 331.4 1870.5 433.3 1869.9 530.1 1866.4 530.1 1866.3 481.7 1865.2 433.3 1864.9 331.4Z" fill="rgb(163,163,163)"/>
<path d="M1685.6 331.4 1687.0 331.4 1686.8 387.0 1685.6 331.4ZM1694.1 331.4 1694.1 348.9 1694.1 331.4ZM1709.9 331.4 1712.8 331.4 1712.4 530.1 1709.5 530.1 1709.4 331.4ZM1719.7 331.4 1723.7 331.4 1723.4 436.6 1721.2 530.1 1719.6 439.9 1719.4 331.4ZM1735.5 331.4 1738.1 331.4 1738.6 433.3 1737.3 481.7 1737.5 530.1 1735.4 530.1 1735.5 485.0 1734.3 433.3 1734.3 331.4ZM1756.2 331.4 1759.0 331.4 1759.2 346.4 1758.6 433.3 1757.4 453.9 1756.2 434.1 1755.5 399.9 1755.3 331.4ZM1764.7 331.4 1767.0 331.4 1767.3 346.4 1767.2 386.5 1765.9 425.3 1764.7 411.7 1764.4 396.5 1764.3 331.4ZM1772.0 331.4 1773.0 431.6 1772.0 462.6 1770.5 434.9 1771.0 331.4ZM1786.6 331.4 1792.1 331.4 1792.4 398.2 1790.9 480.0 1790.7 530.1 1787.3 530.1 1787.1 468.3 1785.3 427.1 1784.1 421.1 1782.9 422.6 1780.5 434.0 1779.3 426.0 1778.1 399.9 1778.1 373.1 1779.3 347.7 1780.5 340.5 1782.9 351.0 1784.1 352.1 1785.3 345.9 1786.2 331.4ZM1819.4 331.4 1821.8 331.4 1821.2 429.9 1820.6 443.3 1819.4 404.0 1818.8 331.4ZM1836.4 331.4 1837.6 331.4 1837.8 429.9 1836.6 483.4 1836.8 530.1 1836.1 530.1 1836.2 481.7 1835.1 438.3 1835.5 331.4ZM1843.7 331.4 1846.5 331.4 1846.4 434.9 1845.5 530.1 1843.9 530.1 1843.2 331.4ZM1852.2 331.4 1856.3 331.4 1856.0 433.3 1854.9 481.7 1854.7 530.1 1853.0 530.1 1852.0 434.9 1851.9 331.4ZM1865.6 331.4 1869.8 331.4 1870.1 433.3 1869.5 530.1 1866.7 530.1 1866.7 481.7 1865.6 433.3 1865.4 331.4Z" fill="rgb(169,169,169)"/>
<path d="M1709.9 331.4 1712.5 331.4 1712.6 434.9 1711.8 483.4 1711.9 530.1 1709.8 530.1 1709.8 331.4ZM1719.7 331.4 1723.3 331.4 1722.9 438.3 1722.1 467.3 1720.9 476.2 1719.8 434.9 1719.6 331.4ZM1735.5 331.4 1736.9 331.4 1737.9 414.9 1737.9 440.9 1736.7 470.5 1735.5 459.2 1734.9 436.6 1735.3 331.4ZM1756.2 331.4 1758.8 331.4 1759.0 344.7 1758.8 403.2 1757.4 442.2 1755.7 393.2 1755.6 331.4ZM1764.7 331.9 1764.7 331.4 1766.4 331.4 1766.8 379.8 1765.9 407.8 1764.7 392.9 1764.6 333.0ZM1786.6 331.4 1791.7 331.4 1792.1 396.5 1790.5 480.0 1790.4 530.1 1787.6 530.1 1787.4 468.3 1785.6 426.6 1784.1 418.6 1782.9 419.9 1780.5 428.8 1779.3 420.4 1778.3 396.5 1778.3 374.8 1779.3 353.1 1780.5 345.5 1782.9 353.7 1784.1 354.7 1785.5 348.1 1786.5 331.4ZM1820.6 331.4 1821.0 331.4 1820.6 377.1 1819.7 331.4ZM1836.4 331.4 1836.8 331.4 1837.4 431.6 1836.4 463.8 1835.7 433.3 1836.1 331.4ZM1843.7 331.4 1846.2 331.4 1846.2 436.6 1845.2 481.7 1845.1 530.1 1844.6 530.1 1844.5 483.4 1843.4 439.9 1843.4 331.4ZM1852.2 331.4 1855.9 331.4 1855.5 436.6 1854.6 470.7 1853.6 485.0 1853.4 510.2 1852.2 434.4 1852.1 331.4ZM1866.8 331.4 1869.4 331.4 1869.7 433.3 1868.7 485.0 1869.1 530.1 1867.3 530.1 1867.4 483.4 1866.1 433.3 1865.8 331.4ZM1772.0 385.6 1772.1 434.9 1772.0 443.1 1771.6 433.3 1772.0 386.5Z" fill="rgb(175,175,175)"/>
<path d="M1711.2 331.4 1712.1 331.4 1712.4 413.7 1711.3 481.7 1711.4 530.1 1710.6 530.1 1710.9 483.4 1709.7 438.3 1710.2 331.4ZM1720.9 331.4 1722.9 331.4 1722.5 438.3 1722.1 453.7 1720.9 460.9 1720.2 433.3 1720.0 331.4ZM1756.2 331.4 1758.5 331.4 1758.7 343.1 1758.6 394.8 1757.4 428.0 1755.8 389.8 1755.8 331.4ZM1787.8 331.4 1791.4 331.4 1791.7 366.5 1791.7 401.5 1790.0 485.0 1789.8 530.1 1788.1 530.1 1788.0 481.7 1787.1 448.3 1785.9 426.6 1784.1 416.0 1782.9 417.3 1780.5 424.4 1779.3 415.3 1778.4 393.2 1778.6 371.5 1779.7 354.8 1780.5 349.7 1782.9 356.3 1784.1 357.3 1785.6 349.7 1786.8 331.4ZM1843.7 331.4 1845.8 331.4 1845.8 433.3 1844.9 471.9 1843.7 439.9 1843.7 331.4ZM1853.4 331.4 1855.4 331.4 1855.1 438.3 1854.6 455.6 1853.4 465.7 1852.7 433.3 1852.5 331.4ZM1866.8 331.4 1868.8 331.4 1869.4 436.6 1868.0 474.0 1866.5 436.6 1866.4 331.4ZM1765.9 333.7 1766.4 363.1 1765.9 392.1 1764.8 363.1 1765.8 334.7ZM1736.7 395.6 1737.1 433.3 1736.7 450.2 1735.5 433.3 1736.7 396.5Z" fill="rgb(182,182,182)"/>
<path d="M1711.2 331.4 1711.8 431.6 1711.2 463.3 1710.2 433.3 1710.9 331.4ZM1720.9 331.4 1722.6 331.4 1722.1 435.8 1720.9 446.5 1720.3 331.4ZM1756.2 331.4 1758.1 331.4 1758.6 351.1 1758.6 381.5 1757.4 414.7 1756.0 386.5 1756.1 331.4ZM1787.8 331.4 1791.0 331.4 1791.5 376.5 1790.9 436.6 1789.2 483.4 1789.1 530.1 1788.6 478.3 1786.4 428.2 1785.3 418.1 1784.1 413.6 1782.9 414.8 1781.7 418.9 1780.5 420.5 1779.3 410.4 1778.6 391.5 1779.0 369.8 1780.0 356.4 1780.5 353.6 1781.7 355.0 1782.9 358.8 1784.1 359.8 1785.8 351.4 1787.1 331.4ZM1844.9 331.4 1845.4 331.4 1845.4 341.4 1844.9 455.4 1844.3 433.3 1844.3 331.4ZM1853.4 331.4 1854.9 331.4 1854.6 436.5 1853.4 450.3 1853.0 331.4ZM1868.0 331.4 1868.7 433.3 1868.0 454.7 1867.1 431.6 1868.0 331.4Z" fill="rgb(188,188,188)"/>
<path d="M1720.9 331.4 1722.2 331.4 1720.9 389.8 1720.7 331.4ZM1757.4 331.4 1758.3 364.8 1757.4 403.5 1756.1 374.8 1756.7 331.4ZM1787.8 331.4 1790.6 331.4 1791.2 373.1 1790.5 436.6 1789.0 468.6 1786.9 431.6 1785.5 416.6 1784.1 411.1 1782.9 412.3 1781.7 416.0 1780.5 416.8 1779.3 405.1 1778.9 391.5 1779.2 369.8 1780.3 358.1 1780.5 357.2 1781.7 357.9 1782.9 361.3 1784.1 362.3 1785.3 358.1 1787.4 331.4Z" fill="rgb(194,194,194)"/>
<path d="M1757.4 333.0 1757.9 364.8 1757.4 392.5 1756.5 361.4 1757.4 333.0ZM1787.8 331.4 1790.2 331.4 1791.0 374.8 1790.2 434.9 1789.0 455.4 1785.3 412.6 1784.1 408.6 1782.9 409.7 1781.7 413.1 1780.5 413.2 1779.1 389.8 1779.3 374.8 1780.5 360.7 1781.7 360.7 1782.9 363.9 1784.1 364.8 1785.3 360.7 1787.0 346.4 1787.7 331.4Z" fill="rgb(201,201,201)"/>
<path d="M1789.0 331.4 1789.4 331.4 1790.2 349.2 1790.8 386.5 1790.2 421.5 1789.0 444.6 1785.3 409.9 1784.1 406.0 1782.9 407.1 1781.7 410.3 1780.5 409.6 1779.3 388.2 1780.5 364.3 1781.7 363.6 1782.9 366.5 1784.1 367.4 1785.3 363.4 1788.5 331.4ZM1757.4 347.0 1757.4 378.9 1757.3 348.1Z" fill="rgb(207,207,207)"/>
<path d="M1789.0 338.1 1790.2 361.5 1790.5 386.5 1790.2 410.3 1789.0 434.7 1785.3 407.1 1784.1 403.2 1782.9 404.4 1781.7 407.3 1780.5 405.8 1779.6 386.5 1780.5 368.0 1781.7 366.5 1782.9 369.2 1784.1 370.2 1785.3 366.2 1788.8 339.7Z" fill="rgb(214,214,214)"/>
<path d="M1789.0 347.7 1790.3 386.5 1789.0 425.6 1787.8 422.7 1785.3 404.1 1784.1 400.0 1782.9 401.3 1781.7 404.2 1780.5 401.6 1779.9 386.5 1780.5 372.2 1781.7 369.6 1782.9 372.3 1784.1 373.4 1785.3 369.2 1787.8 351.2 1788.9 348.1Z" fill="rgb(220,220,220)"/>
<path d="M1787.8 355.9 1789.0 355.2 1789.9 376.5 1789.9 398.2 1789.0 418.2 1787.8 417.9 1785.3 400.8 1784.1 396.2 1781.7 400.7 1780.5 396.3 1780.3 391.5 1780.7 376.5 1781.7 373.1 1784.1 377.3 1787.7 356.4Z" fill="rgb(226,226,226)"/>
<path d="M1787.8 360.4 1789.0 362.1 1789.6 376.5 1789.0 411.4 1787.8 413.3 1784.1 389.2 1781.7 396.4 1780.7 388.2 1781.7 377.4 1784.1 384.2 1787.6 361.4Z" fill="rgb(233,233,233)"/>
<path d="M1787.8 365.0 1789.0 369.3 1789.2 374.8 1789.0 404.2 1787.8 408.8 1785.2 388.2 1785.8 378.1 1787.5 366.5Z" fill="rgb(239,239,239)"/>
<path d="M1787.8 369.9 1789.0 381.5 1789.0 394.1 1788.2 401.5 1787.8 403.8 1786.6 397.0 1785.9 388.2 1786.4 378.1 1787.5 371.5Z" fill="rgb(245,245,245)"/>
<path d="M1787.8 375.9 1788.4 386.5 1787.8 397.8 1786.6 386.5 1787.7 376.5Z" fill="rgb(252,252,252)"/>
</g></g>
</g>
<rect x="1685.7" y="335.2" width="185.9" height="191.1" fill="none" stroke="#a0a0a0" stroke-width="1"/>
<line x1="1685.7" y1="477.8" x2="1687.7" y2="477.8" stroke="#444" stroke-width="0.7"/>
<line x1="1869.6" y1="477.8" x2="1871.6" y2="477.8" stroke="#444" stroke-width="0.7"/>
<line x1="1685.7" y1="412.6" x2="1687.7" y2="412.6" stroke="#444" stroke-width="0.7"/>
<line x1="1869.6" y1="412.6" x2="1871.6" y2="412.6" stroke="#444" stroke-width="0.7"/>
<line x1="1685.7" y1="347.7" x2="1687.7" y2="347.7" stroke="#444" stroke-width="0.7"/>
<line x1="1869.6" y1="347.7" x2="1871.6" y2="347.7" stroke="#444" stroke-width="0.7"/>
<line x1="1753.9" y1="335.2" x2="1753.9" y2="526.3" stroke="#ff1a1a" stroke-width="2.1" stroke-dasharray="9.6 6.5" stroke-dashoffset="13.7"/>
<line x1="1772.1" y1="335.2" x2="1772.1" y2="526.3" stroke="#ff1a1a" stroke-width="2.1" stroke-dasharray="9.6 6.5" stroke-dashoffset="13.7"/>
<line x1="1685.7" y1="376.1" x2="1871.6" y2="376.1" stroke="#1e1e1e" stroke-width="2" stroke-dasharray="9.6 6.5" stroke-dashoffset="15.4"/>
<text x="1685.7" y="547.7" font-size="16.6" text-anchor="middle" fill="#262626">-500</text>
<text x="1778.7" y="547.7" font-size="16.6" text-anchor="middle" fill="#262626">0</text>
<text x="1871.6" y="547.7" font-size="16.6" text-anchor="middle" fill="#262626">500</text>
<text x="1778.7" y="569.7" font-size="17.4" text-anchor="middle" fill="#262626">Time (ms)</text>
<clipPath id="sc17"><rect x="1234.0" y="555.8" width="185.6" height="191.0"/></clipPath>
<rect x="1234.0" y="555.8" width="185.6" height="191.0" fill="none" stroke="#a0a0a0" stroke-width="1"/>
<line x1="1234.0" y1="698.3" x2="1236.0" y2="698.3" stroke="#444" stroke-width="0.7"/>
<line x1="1417.6" y1="698.3" x2="1419.6" y2="698.3" stroke="#444" stroke-width="0.7"/>
<line x1="1234.0" y1="633.1" x2="1236.0" y2="633.1" stroke="#444" stroke-width="0.7"/>
<line x1="1417.6" y1="633.1" x2="1419.6" y2="633.1" stroke="#444" stroke-width="0.7"/>
<line x1="1234.0" y1="568.2" x2="1236.0" y2="568.2" stroke="#444" stroke-width="0.7"/>
<line x1="1417.6" y1="568.2" x2="1419.6" y2="568.2" stroke="#444" stroke-width="0.7"/>
<line x1="1302.1" y1="555.8" x2="1302.1" y2="746.8" stroke="#ff1a1a" stroke-width="2.1" stroke-dasharray="9.6 6.5" stroke-dashoffset="13.7"/>
<line x1="1320.3" y1="555.8" x2="1320.3" y2="746.8" stroke="#ff1a1a" stroke-width="2.1" stroke-dasharray="9.6 6.5" stroke-dashoffset="13.7"/>
<line x1="1326.8" y1="555.8" x2="1326.8" y2="746.8" stroke="#6b6b6b" stroke-width="1.5" stroke-dasharray="9.6 6.5" stroke-dashoffset="13.7"/>
<line x1="1234.0" y1="596.6" x2="1419.6" y2="596.6" stroke="#1e1e1e" stroke-width="2" stroke-dasharray="9.6 6.5" stroke-dashoffset="15.4"/>
<text x="1219.7" y="575.0" font-size="16.6" text-anchor="middle" fill="#262626">40</text>
<text x="1219.7" y="603.4" font-size="16.6" text-anchor="middle" fill="#262626">30</text>
<text x="1219.7" y="639.9" font-size="16.6" text-anchor="middle" fill="#262626">20</text>
<text x="1219.7" y="705.1" font-size="16.6" text-anchor="middle" fill="#262626">10</text>
<text x="1219.7" y="753.6" font-size="16.6" text-anchor="middle" fill="#262626">6</text>
<text x="1234.0" y="768.2" font-size="16.6" text-anchor="middle" fill="#262626">-500</text>
<text x="1326.8" y="768.2" font-size="16.6" text-anchor="middle" fill="#262626">0</text>
<text x="1419.6" y="768.2" font-size="16.6" text-anchor="middle" fill="#262626">500</text>
<text x="1326.8" y="790.2" font-size="17.4" text-anchor="middle" fill="#262626">Time (ms)</text>
<clipPath id="sc18"><rect x="1459.5" y="555.8" width="185.5" height="191.0"/></clipPath>
<rect x="1459.5" y="555.8" width="185.5" height="191.0" fill="none" stroke="#a0a0a0" stroke-width="1"/>
<line x1="1459.5" y1="698.3" x2="1461.5" y2="698.3" stroke="#444" stroke-width="0.7"/>
<line x1="1643.0" y1="698.3" x2="1645.0" y2="698.3" stroke="#444" stroke-width="0.7"/>
<line x1="1459.5" y1="633.1" x2="1461.5" y2="633.1" stroke="#444" stroke-width="0.7"/>
<line x1="1643.0" y1="633.1" x2="1645.0" y2="633.1" stroke="#444" stroke-width="0.7"/>
<line x1="1459.5" y1="568.2" x2="1461.5" y2="568.2" stroke="#444" stroke-width="0.7"/>
<line x1="1643.0" y1="568.2" x2="1645.0" y2="568.2" stroke="#444" stroke-width="0.7"/>
<line x1="1527.6" y1="555.8" x2="1527.6" y2="746.8" stroke="#ff1a1a" stroke-width="2.1" stroke-dasharray="9.6 6.5" stroke-dashoffset="13.7"/>
<line x1="1545.8" y1="555.8" x2="1545.8" y2="746.8" stroke="#ff1a1a" stroke-width="2.1" stroke-dasharray="9.6 6.5" stroke-dashoffset="13.7"/>
<line x1="1552.2" y1="555.8" x2="1552.2" y2="746.8" stroke="#6b6b6b" stroke-width="1.5" stroke-dasharray="9.6 6.5" stroke-dashoffset="13.7"/>
<line x1="1459.5" y1="596.6" x2="1645.0" y2="596.6" stroke="#1e1e1e" stroke-width="2" stroke-dasharray="9.6 6.5" stroke-dashoffset="15.4"/>
<text x="1459.5" y="768.2" font-size="16.6" text-anchor="middle" fill="#262626">-500</text>
<text x="1552.2" y="768.2" font-size="16.6" text-anchor="middle" fill="#262626">0</text>
<text x="1645.0" y="768.2" font-size="16.6" text-anchor="middle" fill="#262626">500</text>
<text x="1552.2" y="790.2" font-size="17.4" text-anchor="middle" fill="#262626">Time (ms)</text>
<text transform="translate(1202.2 163.4) rotate(-90)" font-size="17.4" text-anchor="middle" fill="#262626">(Hz)</text>
<text transform="translate(1203.4 705.9) rotate(-90)" font-size="17.4" text-anchor="middle" fill="#262626">Fr</text>
<g stroke="#555" stroke-width="1.1" fill="none">
<line x1="1202.6" y1="191" x2="1202.6" y2="267" stroke-dasharray="2.6 4"/>
<line x1="1201.5" y1="231.7" x2="1205.5" y2="231.7" stroke="#222" stroke-width="1.6"/>
<path d="M1195 180.5 Q1199 182 1201 181.5 M1203.5 181 Q1205 184 1203 187" stroke="#222" stroke-width="1.5"/>
<line x1="1203.6" y1="368" x2="1203.6" y2="495" stroke-dasharray="2.6 4.5"/>
<line x1="1203.2" y1="590" x2="1203.2" y2="694" stroke-dasharray="2.6 4.5"/>
</g>
</svg></body></html>
